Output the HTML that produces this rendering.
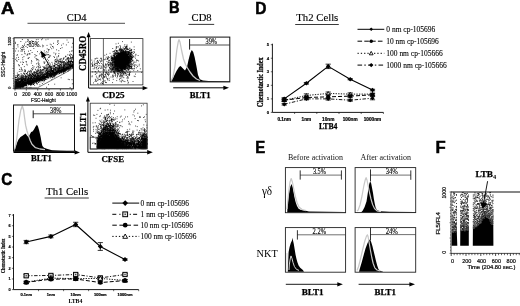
<!DOCTYPE html>
<html><head><meta charset="utf-8"><title>Figure</title>
<style>html,body{margin:0;padding:0;background:#fff;}body{width:520px;height:306px;overflow:hidden;font-family:"Liberation Serif",serif;}svg{display:block;will-change:transform;opacity:0.999;filter:blur(0.35px);}</style></head>
<body>
<svg width="520" height="306" viewBox="0 0 520 306">
<rect width="520" height="306" fill="#fff"/>
<text x="1.0" y="13.7" font-size="16.2" font-family='"Liberation Sans", sans-serif' font-weight="bold" text-anchor="start" fill="#000" textLength="13.4" lengthAdjust="spacingAndGlyphs" stroke="#000" stroke-width="0.5" >A</text>
<text x="76.6" y="21.2" font-size="10.5" font-family='"Liberation Serif", serif' font-weight="normal" text-anchor="middle" fill="#000" stroke="#000" stroke-width="0.15">CD4</text>
<line x1="27.5" y1="23.3" x2="125" y2="23.3" stroke="#222" stroke-width="0.8" />
<path d="M28.3 83.3h0.85M16.7 87.6h0.85M40.8 76.4h0.85M39.0 78.5h0.85M15.6 84.5h0.85M17.4 85.6h0.85M34.0 80.3h0.85M23.1 81.6h0.85M46.7 77.5h0.85M32.4 78.6h0.85M71.4 68.5h0.85M26.5 83.4h0.85M19.5 85.8h0.85M59.6 71.1h0.85M21.1 79.2h0.85M31.0 77.9h0.85M41.5 77.7h0.85M22.3 84.0h0.85M50.2 70.1h0.85M43.9 76.9h0.85M35.7 76.8h0.85M51.5 76.4h0.85M24.1 78.7h0.85M63.9 65.5h0.85M53.6 69.3h0.85M33.6 80.0h0.85M37.8 75.9h0.85M15.7 82.6h0.85M43.1 69.8h0.85M63.9 65.2h0.85M44.5 78.6h0.85M43.6 67.9h0.85M69.0 67.1h0.85M36.9 78.0h0.85M51.6 71.9h0.85M48.0 78.1h0.85M26.2 82.1h0.85M31.7 80.2h0.85M36.2 78.2h0.85M20.5 84.7h0.85M56.3 71.9h0.85M18.9 84.8h0.85M63.6 70.2h0.85M17.0 80.8h0.85M64.5 68.8h0.85M59.9 71.0h0.85M33.4 77.4h0.85M30.2 84.5h0.85M19.8 77.9h0.85M20.9 84.3h0.85M37.6 79.9h0.85M44.2 76.1h0.85M33.6 80.1h0.85M30.8 71.3h0.85M50.9 68.8h0.85M39.5 72.9h0.85M16.1 81.8h0.85M65.7 68.3h0.85M58.3 60.6h0.85M32.1 78.9h0.85M47.1 75.5h0.85M16.4 86.7h0.85M20.3 84.9h0.85M29.2 81.5h0.85M19.8 84.5h0.85M17.8 84.6h0.85M63.8 68.7h0.85M45.8 76.4h0.85M29.6 82.4h0.85M30.5 83.5h0.85M72.7 67.0h0.85M36.4 77.1h0.85M17.8 85.2h0.85M29.3 80.7h0.85M20.3 87.7h0.85M15.2 88.0h0.85M19.6 83.1h0.85M41.2 79.4h0.85M71.6 65.4h0.85M63.0 67.4h0.85M30.6 77.9h0.85M20.5 84.6h0.85M57.0 65.1h0.85M28.6 82.2h0.85M72.1 68.1h0.85M62.3 70.2h0.85M54.3 63.8h0.85M23.3 79.7h0.85M15.4 85.5h0.85M15.4 85.3h0.85M51.0 74.9h0.85M69.9 54.0h0.85M72.3 66.1h0.85M69.8 63.4h0.85M23.3 84.4h0.85M21.9 84.6h0.85M65.7 70.0h0.85M61.4 62.1h0.85M58.5 70.9h0.85M17.2 80.8h0.85M57.2 61.9h0.85M55.0 68.9h0.85M57.7 71.0h0.85M28.8 83.1h0.85M32.3 69.6h0.85M32.6 83.0h0.85M20.6 82.2h0.85M18.8 87.1h0.85M59.0 73.6h0.85M19.6 86.9h0.85M48.6 62.7h0.85M29.7 79.2h0.85M15.0 85.4h0.85M71.0 61.5h0.85M68.2 61.3h0.85M34.5 82.0h0.85M22.5 78.2h0.85M24.5 82.2h0.85M44.0 77.5h0.85M24.9 81.0h0.85M66.5 67.7h0.85M29.9 75.8h0.85M66.0 68.1h0.85M33.7 81.8h0.85M40.5 74.9h0.85M40.0 79.6h0.85M21.2 84.3h0.85M14.8 86.4h0.85M36.9 76.2h0.85M53.3 68.6h0.85M39.7 76.4h0.85M42.0 77.1h0.85M42.3 74.7h0.85M24.4 81.9h0.85M39.0 81.1h0.85M42.4 77.1h0.85M35.1 69.8h0.85M45.7 70.0h0.85M51.0 73.3h0.85M35.6 74.4h0.85M68.8 65.0h0.85M51.5 76.4h0.85M24.9 76.1h0.85M42.3 80.1h0.85M19.2 82.1h0.85M18.6 83.5h0.85M24.0 83.4h0.85M16.7 82.2h0.85M65.5 59.7h0.85M20.0 83.2h0.85M19.5 79.0h0.85M64.5 69.3h0.85M69.6 65.1h0.85M32.4 67.4h0.85M60.8 70.1h0.85M20.3 80.1h0.85M29.1 82.4h0.85M21.8 81.2h0.85M41.9 76.2h0.85M28.7 81.8h0.85M46.4 73.6h0.85M72.1 64.7h0.85M57.7 71.7h0.85M25.2 82.4h0.85M15.7 86.1h0.85M18.9 81.7h0.85M33.8 82.7h0.85M24.9 78.9h0.85M19.7 86.6h0.85M51.6 70.3h0.85M17.3 87.9h0.85M34.0 80.8h0.85M16.7 87.8h0.85M58.6 67.8h0.85M17.1 85.8h0.85M63.0 67.2h0.85M35.7 76.3h0.85M67.7 68.7h0.85M25.3 84.3h0.85M23.9 84.8h0.85M18.1 85.4h0.85M22.1 84.3h0.85M27.6 79.6h0.85M26.5 85.2h0.85M38.5 78.9h0.85M15.1 87.5h0.85M24.5 85.9h0.85M41.7 77.3h0.85M21.5 74.8h0.85M18.0 85.8h0.85M59.8 64.7h0.85M61.0 70.4h0.85M32.1 73.9h0.85M71.9 64.6h0.85M29.3 82.8h0.85M47.2 68.6h0.85M32.8 79.4h0.85M18.9 85.3h0.85M16.7 85.3h0.85M20.3 81.3h0.85M17.2 87.3h0.85M49.5 66.1h0.85M26.1 82.6h0.85M36.0 80.6h0.85M20.1 81.5h0.85M70.3 66.1h0.85M71.1 61.4h0.85M70.6 64.3h0.85M27.5 81.9h0.85M31.5 80.8h0.85M37.0 75.8h0.85M38.8 78.1h0.85M14.9 85.9h0.85M32.5 81.1h0.85M15.7 87.3h0.85M23.6 83.5h0.85M43.9 68.7h0.85M48.7 73.0h0.85M52.6 74.2h0.85M28.4 78.9h0.85M72.0 66.6h0.85M47.7 77.2h0.85M15.8 87.7h0.85M46.7 66.7h0.85M53.9 72.8h0.85M40.0 75.4h0.85M38.8 79.8h0.85M60.4 61.9h0.85M43.8 78.4h0.85M51.1 69.0h0.85M23.4 84.3h0.85M30.3 81.3h0.85M17.9 86.3h0.85M46.7 70.1h0.85M46.6 73.0h0.85M14.8 82.1h0.85M58.3 70.6h0.85M40.7 72.1h0.85M48.8 77.1h0.85M24.5 84.2h0.85M16.8 84.8h0.85M22.3 86.6h0.85M54.3 74.3h0.85M31.5 79.9h0.85M37.2 75.6h0.85M46.0 68.2h0.85M47.7 75.7h0.85M24.6 83.5h0.85M54.5 70.1h0.85M15.0 88.2h0.85M16.3 84.9h0.85M51.0 76.2h0.85M49.9 72.5h0.85M36.4 81.1h0.85M36.5 81.8h0.85M22.0 86.4h0.85M71.5 65.4h0.85M36.0 78.8h0.85M59.9 71.9h0.85M25.4 81.8h0.85M22.5 84.8h0.85M43.7 75.3h0.85M19.4 75.1h0.85M19.0 83.3h0.85M59.9 59.5h0.85M51.8 72.7h0.85M23.5 85.0h0.85M15.3 83.3h0.85M14.8 81.9h0.85M27.1 82.3h0.85M19.4 82.8h0.85M61.4 70.7h0.85M14.8 86.1h0.85M18.5 77.5h0.85M67.7 64.1h0.85M26.5 73.7h0.85M31.0 68.7h0.85M44.2 80.3h0.85M30.3 78.0h0.85M15.9 86.3h0.85M17.8 85.9h0.85M68.4 62.7h0.85M24.4 82.6h0.85M21.5 86.1h0.85M31.0 84.4h0.85M59.3 67.4h0.85M46.9 78.8h0.85M41.6 71.5h0.85M52.9 75.6h0.85M35.5 80.2h0.85M55.2 69.4h0.85M16.0 83.2h0.85M67.7 68.1h0.85M29.4 82.9h0.85M26.9 81.5h0.85M24.9 71.7h0.85M48.6 72.6h0.85M32.2 82.6h0.85M20.5 84.9h0.85M66.2 68.4h0.85M38.3 79.0h0.85M35.5 80.1h0.85M17.4 86.2h0.85M29.3 82.6h0.85M24.9 83.6h0.85M42.9 78.9h0.85M33.3 75.4h0.85M33.4 75.9h0.85M29.1 80.9h0.85M16.4 83.8h0.85M38.7 72.1h0.85M22.8 77.8h0.85M25.5 82.7h0.85M35.2 81.2h0.85M69.7 68.0h0.85M15.2 79.6h0.85M15.5 83.8h0.85M36.9 69.7h0.85M44.0 78.0h0.85M67.7 66.7h0.85M60.3 72.8h0.85M24.4 74.5h0.85M18.1 86.3h0.85M50.3 75.6h0.85M68.8 64.9h0.85M56.0 64.6h0.85M35.9 78.0h0.85M57.2 70.6h0.85M23.6 85.6h0.85M27.2 79.3h0.85M18.8 84.8h0.85M51.4 75.9h0.85M18.2 87.0h0.85M43.8 77.3h0.85M31.9 81.0h0.85M27.1 72.0h0.85M47.8 75.9h0.85M64.5 64.3h0.85M24.3 83.3h0.85M70.2 64.4h0.85M15.2 82.8h0.85M38.4 76.1h0.85M24.8 79.1h0.85M49.3 75.4h0.85M15.5 84.6h0.85M29.1 75.9h0.85M21.9 85.2h0.85M58.3 70.3h0.85M22.3 79.0h0.85M70.9 61.6h0.85M23.5 86.4h0.85M23.0 83.6h0.85M69.6 61.5h0.85M38.3 78.8h0.85M33.5 81.2h0.85M49.2 75.2h0.85M32.2 79.7h0.85M22.6 84.6h0.85M16.0 85.3h0.85M16.3 79.2h0.85M64.5 70.5h0.85M53.8 76.6h0.85M28.6 81.5h0.85M21.3 86.8h0.85M15.5 83.4h0.85M49.1 71.0h0.85M28.7 82.8h0.85M20.6 85.7h0.85M29.8 81.3h0.85M69.8 69.1h0.85M22.4 87.0h0.85M30.1 82.6h0.85M34.4 72.4h0.85M16.0 82.1h0.85M67.2 67.2h0.85M21.7 78.3h0.85M33.2 81.3h0.85M15.7 79.7h0.85M24.8 84.5h0.85M54.8 73.4h0.85M25.6 80.5h0.85M70.0 62.7h0.85M52.7 70.4h0.85M27.9 81.8h0.85M55.4 72.0h0.85M66.9 58.7h0.85M15.3 79.1h0.85M23.6 73.3h0.85M69.7 66.6h0.85M31.8 80.6h0.85M38.1 80.3h0.85M67.8 68.0h0.85M54.2 75.3h0.85M60.1 70.3h0.85M28.5 76.0h0.85M28.1 77.1h0.85M17.0 87.8h0.85M21.9 83.9h0.85M16.5 82.7h0.85M15.5 82.6h0.85M71.7 63.4h0.85M64.5 69.5h0.85M17.1 85.1h0.85M17.6 79.1h0.85M35.3 79.4h0.85M23.6 78.4h0.85M49.8 75.3h0.85M54.8 73.6h0.85M18.6 80.2h0.85M61.4 67.6h0.85M31.0 83.1h0.85M54.1 72.7h0.85M24.2 84.4h0.85M19.9 86.3h0.85M28.4 78.1h0.85M32.3 82.5h0.85M23.5 83.1h0.85M59.1 61.6h0.85M17.8 75.4h0.85M37.0 80.2h0.85M66.8 58.0h0.85M15.7 85.3h0.85M21.5 84.8h0.85M71.2 54.5h0.85M31.0 76.0h0.85M63.2 64.8h0.85M56.9 71.7h0.85M69.1 68.0h0.85M46.2 76.9h0.85M22.8 82.0h0.85M22.2 84.5h0.85M24.7 78.2h0.85M22.2 80.4h0.85M15.0 83.3h0.85M21.3 86.4h0.85M27.7 82.9h0.85M41.5 80.2h0.85M16.4 87.0h0.85M41.7 78.2h0.85M47.4 75.8h0.85M51.2 74.1h0.85M33.1 79.4h0.85M69.7 67.4h0.85M27.7 78.4h0.85M33.5 78.3h0.85M63.1 70.4h0.85M21.9 83.8h0.85M53.5 72.7h0.85M65.8 67.7h0.85M33.9 80.6h0.85M64.5 63.3h0.85M36.1 79.2h0.85M41.7 77.3h0.85M47.5 75.5h0.85M46.3 74.3h0.85M30.9 78.5h0.85M26.1 82.4h0.85M39.8 78.5h0.85M37.9 77.5h0.85M58.8 71.6h0.85M18.8 84.3h0.85M68.9 68.2h0.85M16.1 85.0h0.85M67.7 58.1h0.85M46.2 77.9h0.85M60.2 71.5h0.85M23.1 86.2h0.85M32.8 82.2h0.85M21.2 77.9h0.85M22.9 79.6h0.85M31.6 81.9h0.85M18.6 84.9h0.85M65.5 70.5h0.85M15.7 79.8h0.85M15.6 83.3h0.85M61.2 71.3h0.85M41.6 78.7h0.85M46.6 73.5h0.85M43.7 78.1h0.85M34.0 77.3h0.85M34.8 75.6h0.85M15.2 82.7h0.85M23.7 80.1h0.85M55.9 72.0h0.85M21.1 79.8h0.85M36.9 79.5h0.85M34.3 80.3h0.85M17.4 80.9h0.85M15.7 86.5h0.85M47.3 77.5h0.85M56.9 72.7h0.85M39.2 80.0h0.85M31.3 81.5h0.85M69.5 68.3h0.85M53.7 73.0h0.85M71.8 61.7h0.85M38.0 82.3h0.85M20.4 82.0h0.85M57.7 71.5h0.85M29.8 80.6h0.85M55.4 73.9h0.85M25.7 85.8h0.85M59.6 71.4h0.85M67.2 68.6h0.85M22.4 83.3h0.85M28.0 84.0h0.85M15.6 86.3h0.85M68.4 67.4h0.85M50.2 74.8h0.85M57.4 69.2h0.85M18.3 79.5h0.85M30.3 80.0h0.85M63.7 62.0h0.85M64.4 65.8h0.85M17.9 87.6h0.85M32.2 80.2h0.85M58.3 69.2h0.85M43.4 81.9h0.85M30.3 81.3h0.85M20.9 79.9h0.85M54.5 75.3h0.85M24.6 84.0h0.85M47.4 77.3h0.85M49.1 73.7h0.85M27.7 82.4h0.85M19.7 84.5h0.85M45.9 70.4h0.85M65.4 68.6h0.85M19.0 85.1h0.85M14.8 84.9h0.85M30.1 81.8h0.85M23.2 78.8h0.85M22.2 81.1h0.85M46.4 72.8h0.85M68.4 66.6h0.85M24.1 83.6h0.85M47.4 75.6h0.85M63.6 68.8h0.85M25.2 78.7h0.85M15.0 83.0h0.85M29.7 77.0h0.85M47.9 64.4h0.85M53.8 73.9h0.85M24.4 83.5h0.85M40.5 76.7h0.85M32.9 80.3h0.85M57.0 71.8h0.85M15.0 77.4h0.85M19.4 81.7h0.85M22.0 80.1h0.85M47.6 71.4h0.85M59.4 70.9h0.85M27.0 83.6h0.85M15.9 88.1h0.85M52.6 67.5h0.85M14.9 87.7h0.85M36.4 73.0h0.85M54.4 68.9h0.85M17.9 85.5h0.85M23.6 84.9h0.85M55.0 72.4h0.85M51.2 75.1h0.85M25.2 77.5h0.85M41.9 69.6h0.85M40.0 78.9h0.85M25.2 76.1h0.85M22.8 75.5h0.85M64.3 69.6h0.85M23.7 83.4h0.85M54.6 75.0h0.85M28.4 79.4h0.85M64.3 66.4h0.85M66.3 68.5h0.85M46.9 72.7h0.85M71.6 57.6h0.85M36.7 80.4h0.85M62.6 62.2h0.85M34.7 78.7h0.85M27.4 76.7h0.85M22.6 82.5h0.85M66.5 65.8h0.85M19.5 85.4h0.85M67.9 66.8h0.85M29.4 81.7h0.85M15.7 86.1h0.85M51.0 68.6h0.85M54.1 66.7h0.85M16.5 82.5h0.85M59.7 67.5h0.85M59.9 70.5h0.85M63.4 67.4h0.85M66.8 67.9h0.85M22.3 83.1h0.85M59.4 71.0h0.85M47.1 76.2h0.85M26.3 77.2h0.85M17.7 87.6h0.85M22.2 85.5h0.85M28.0 81.1h0.85M24.8 83.1h0.85M26.1 81.7h0.85M28.1 77.9h0.85M70.5 55.1h0.85M46.1 75.2h0.85M15.4 82.4h0.85M56.6 72.3h0.85M29.5 79.9h0.85M22.8 78.8h0.85M63.0 71.5h0.85M20.7 86.1h0.85M14.8 87.0h0.85M71.5 68.0h0.85M14.8 81.6h0.85M58.3 70.8h0.85M21.3 80.4h0.85M60.8 69.7h0.85M25.0 84.2h0.85M22.7 82.5h0.85M51.5 71.0h0.85M47.3 75.0h0.85M17.0 86.0h0.85M57.6 63.5h0.85M46.7 72.3h0.85M32.2 81.9h0.85M65.0 71.1h0.85M15.3 87.9h0.85M22.3 83.0h0.85M38.6 82.1h0.85M31.4 81.7h0.85M36.1 76.9h0.85M40.5 77.6h0.85M47.9 66.9h0.85M29.6 80.2h0.85M61.6 70.2h0.85M49.0 74.2h0.85M34.8 76.9h0.85M56.6 69.1h0.85M36.2 78.0h0.85M64.6 68.1h0.85M27.1 83.3h0.85M51.7 73.8h0.85M20.0 82.6h0.85M24.3 80.8h0.85M20.2 86.3h0.85M28.5 83.5h0.85M53.5 77.1h0.85M17.8 86.0h0.85M31.6 80.2h0.85M72.0 65.7h0.85M34.6 72.8h0.85M21.8 82.6h0.85M22.3 82.3h0.85M31.9 82.3h0.85M57.9 71.2h0.85M51.1 66.7h0.85M36.3 79.0h0.85M19.4 81.5h0.85M54.3 69.2h0.85M66.3 61.2h0.85M54.9 73.0h0.85M33.8 80.3h0.85M64.3 71.0h0.85M56.7 68.3h0.85M50.1 65.0h0.85M47.6 71.0h0.85M46.7 75.6h0.85M17.6 79.3h0.85M52.4 74.5h0.85M46.8 75.2h0.85M35.8 81.1h0.85M46.3 69.5h0.85M68.0 68.1h0.85M21.2 80.2h0.85M31.9 74.4h0.85M37.9 78.9h0.85M41.2 77.0h0.85M20.2 85.2h0.85M39.7 67.4h0.85M17.8 80.8h0.85M52.7 70.2h0.85M39.3 72.6h0.85M39.9 71.3h0.85M33.1 81.3h0.85M50.5 72.7h0.85M32.1 80.5h0.85M72.0 62.1h0.85M30.0 82.5h0.85M32.5 80.8h0.85M15.0 82.5h0.85M51.4 74.3h0.85M29.8 81.0h0.85M54.4 73.5h0.85M68.7 62.7h0.85M58.6 69.9h0.85M32.1 80.7h0.85M56.8 72.2h0.85M59.2 66.5h0.85M42.4 73.0h0.85M23.2 85.1h0.85M47.4 74.0h0.85M59.8 70.8h0.85M26.7 78.1h0.85M41.5 79.5h0.85M30.0 83.6h0.85M62.1 68.5h0.85M24.6 84.7h0.85M34.1 79.8h0.85M53.0 72.9h0.85M26.0 82.6h0.85M37.3 80.2h0.85M34.2 75.6h0.85M30.4 76.3h0.85M67.8 67.0h0.85M60.5 68.4h0.85M66.2 67.6h0.85M60.7 66.9h0.85M47.0 75.4h0.85M69.6 66.0h0.85M48.6 74.5h0.85M19.4 85.5h0.85M23.6 83.6h0.85M19.9 80.9h0.85M66.0 67.7h0.85M65.1 64.8h0.85M45.4 76.2h0.85M65.3 60.2h0.85M57.6 71.6h0.85M51.0 70.8h0.85M40.4 77.3h0.85M64.5 62.6h0.85M42.0 76.7h0.85M19.3 86.0h0.85M38.1 80.3h0.85M19.5 85.3h0.85M38.0 72.9h0.85M63.0 68.7h0.85M14.9 87.1h0.85M42.4 72.5h0.85M49.2 75.2h0.85M33.6 76.4h0.85M70.2 67.9h0.85M47.2 76.2h0.85M15.4 81.4h0.85M68.1 61.5h0.85M28.6 83.8h0.85M37.6 78.0h0.85M65.5 70.4h0.85M46.5 75.9h0.85M29.1 82.6h0.85M37.0 75.6h0.85M40.1 77.8h0.85M34.6 76.6h0.85M33.8 72.2h0.85M26.6 79.7h0.85M60.5 64.8h0.85M25.5 83.9h0.85M38.9 80.7h0.85M57.9 69.7h0.85M28.7 80.2h0.85M44.0 77.6h0.85M47.1 75.1h0.85M53.1 71.4h0.85M64.7 66.4h0.85M27.0 81.8h0.85M14.9 87.5h0.85M45.4 79.5h0.85M48.7 75.4h0.85M45.6 65.7h0.85M46.0 70.5h0.85M44.6 70.9h0.85M50.2 74.5h0.85M36.0 81.7h0.85M55.9 72.6h0.85M15.6 86.5h0.85M56.7 73.6h0.85M30.8 77.8h0.85M60.1 70.4h0.85M24.8 77.8h0.85M27.1 79.0h0.85M34.3 80.4h0.85M47.6 75.4h0.85M42.8 76.1h0.85M43.3 78.7h0.85M67.1 66.2h0.85M31.8 80.7h0.85M44.3 80.8h0.85M37.0 74.0h0.85M33.3 82.1h0.85M22.6 85.2h0.85M19.8 84.7h0.85M50.4 73.8h0.85M18.6 85.7h0.85M63.5 68.0h0.85M18.9 87.7h0.85M24.0 83.5h0.85M53.8 72.7h0.85M56.7 71.9h0.85M52.5 74.8h0.85M17.1 80.4h0.85M46.7 73.9h0.85M68.1 60.9h0.85M24.6 85.8h0.85M15.0 84.7h0.85M15.0 81.9h0.85M17.0 79.6h0.85M27.6 81.7h0.85M62.9 65.7h0.85M37.7 80.1h0.85M43.2 77.1h0.85M34.8 78.5h0.85M58.3 68.1h0.85M30.5 77.4h0.85M33.6 75.2h0.85M31.7 81.6h0.85M57.4 59.4h0.85M42.7 76.3h0.85M71.2 65.8h0.85M51.8 74.0h0.85M45.2 72.1h0.85M71.5 66.3h0.85M27.5 77.1h0.85M34.2 81.1h0.85M50.5 70.7h0.85M45.0 78.5h0.85M26.1 78.0h0.85M14.8 85.7h0.85M44.0 78.1h0.85M59.6 70.5h0.85M60.9 68.6h0.85M59.3 71.8h0.85M25.6 78.7h0.85M62.2 70.0h0.85M66.7 59.7h0.85M29.5 83.3h0.85M58.3 71.8h0.85M22.0 83.8h0.85M23.6 73.9h0.85M45.3 73.5h0.85M22.3 79.7h0.85M24.7 83.0h0.85M36.1 71.3h0.85M17.3 86.4h0.85M23.6 76.8h0.85M43.5 79.4h0.85M39.9 72.1h0.85M37.1 76.3h0.85M21.6 82.6h0.85M21.1 83.0h0.85M42.6 72.6h0.85M32.7 77.9h0.85M15.8 85.5h0.85M47.0 75.7h0.85M57.6 72.3h0.85M29.4 83.4h0.85M39.7 78.3h0.85M72.5 64.7h0.85M63.2 62.0h0.85M25.0 83.0h0.85M57.0 60.5h0.85M56.2 73.5h0.85M59.8 71.4h0.85M15.6 85.1h0.85M22.1 84.1h0.85M16.0 86.4h0.85M42.1 78.3h0.85M69.2 61.8h0.85M66.5 69.5h0.85M32.4 81.3h0.85M18.5 86.3h0.85M42.6 75.9h0.85M47.5 77.5h0.85M32.1 78.7h0.85M35.4 81.8h0.85M72.6 68.6h0.85M23.0 84.8h0.85M29.8 81.6h0.85M65.9 70.3h0.85M15.9 81.6h0.85M57.5 69.2h0.85M72.1 57.3h0.85M16.2 87.5h0.85M68.6 68.7h0.85M50.0 72.0h0.85M55.5 74.1h0.85M17.9 83.8h0.85M18.7 86.1h0.85M37.4 79.3h0.85M19.5 85.8h0.85M50.0 76.8h0.85M21.8 84.1h0.85M15.6 87.0h0.85M68.2 64.9h0.85M63.3 69.4h0.85M35.3 77.8h0.85M46.7 71.3h0.85M35.6 74.9h0.85M37.1 81.5h0.85M46.7 76.0h0.85M16.2 86.6h0.85M52.5 70.4h0.85M63.6 67.5h0.85M25.3 80.7h0.85M25.5 83.2h0.85M61.3 67.9h0.85M38.0 79.4h0.85M28.0 82.6h0.85M71.6 63.5h0.85M16.2 87.7h0.85M22.5 80.0h0.85M37.1 77.9h0.85M22.1 85.2h0.85M30.5 87.4h0.85M67.6 65.7h0.85M17.6 83.2h0.85M53.3 69.0h0.85M59.0 68.9h0.85M14.8 86.9h0.85M60.8 66.4h0.85M34.6 79.1h0.85M66.6 67.7h0.85M19.3 87.0h0.85M21.1 84.5h0.85M21.9 77.6h0.85M17.0 87.5h0.85M38.2 79.6h0.85M25.6 83.3h0.85M52.1 75.5h0.85M59.3 67.3h0.85M16.5 84.3h0.85M53.8 65.9h0.85M16.2 87.2h0.85M59.3 65.3h0.85M63.1 71.6h0.85M38.1 82.3h0.85M37.1 79.1h0.85M63.7 68.1h0.85M60.8 70.8h0.85M30.7 81.9h0.85M44.5 77.5h0.85M14.9 81.9h0.85M39.5 77.3h0.85M18.5 83.3h0.85M63.2 59.4h0.85M28.1 80.8h0.85M55.1 67.3h0.85M38.2 70.4h0.85M39.3 72.5h0.85M15.2 85.0h0.85M70.7 65.6h0.85M17.8 86.3h0.85M24.5 83.2h0.85M17.6 84.3h0.85M51.5 73.5h0.85M44.8 76.2h0.85M43.3 69.4h0.85M17.8 84.3h0.85M63.5 68.2h0.85M18.6 83.7h0.85M38.1 74.8h0.85M18.6 84.9h0.85M32.9 81.8h0.85M62.9 70.6h0.85M19.6 78.7h0.85M20.4 81.4h0.85M60.4 71.5h0.85M33.7 78.3h0.85M61.3 64.4h0.85M68.8 65.4h0.85M56.9 69.3h0.85M28.9 82.7h0.85M34.6 82.8h0.85M66.7 66.1h0.85M59.6 70.5h0.85M39.6 76.6h0.85M70.0 67.0h0.85M33.8 78.6h0.85M47.0 71.3h0.85M16.6 87.2h0.85M34.5 78.8h0.85M19.3 84.6h0.85M70.9 66.0h0.85M47.0 64.2h0.85M59.2 73.1h0.85M15.5 80.6h0.85M47.6 74.2h0.85M25.6 85.3h0.85M41.2 79.5h0.85M24.5 80.4h0.85M39.8 67.7h0.85M26.4 84.2h0.85M27.3 80.8h0.85M44.5 74.2h0.85M69.9 61.6h0.85M36.5 78.7h0.85M40.6 78.0h0.85M19.0 85.5h0.85M26.7 79.5h0.85M24.1 84.0h0.85M17.3 78.2h0.85M45.5 73.1h0.85M42.9 74.8h0.85M52.2 70.5h0.85M36.1 73.3h0.85M36.6 77.1h0.85M27.6 82.1h0.85M39.3 79.2h0.85M31.6 80.1h0.85M29.9 80.9h0.85M62.9 68.9h0.85M38.0 80.7h0.85M26.2 84.0h0.85M56.5 71.0h0.85M20.1 87.7h0.85M34.9 81.0h0.85M16.4 82.4h0.85M54.0 73.6h0.85M18.1 85.8h0.85M54.2 76.8h0.85M20.0 82.6h0.85M49.9 75.4h0.85M45.9 77.5h0.85M39.6 71.1h0.85M54.2 72.0h0.85M37.0 71.3h0.85M57.4 68.2h0.85M18.8 76.4h0.85M63.6 71.5h0.85M43.9 76.3h0.85M38.4 80.6h0.85M33.6 78.7h0.85M57.3 72.8h0.85M31.4 76.6h0.85M35.6 72.5h0.85M26.6 83.1h0.85M32.0 76.6h0.85M28.2 80.4h0.85M57.6 72.2h0.85M35.1 75.3h0.85M21.3 83.3h0.85M43.3 77.4h0.85M43.7 79.8h0.85M28.3 83.9h0.85M61.6 71.7h0.85M22.2 75.2h0.85M34.1 80.0h0.85M15.9 85.4h0.85M42.6 66.5h0.85M56.6 71.4h0.85M40.9 79.5h0.85M39.6 77.8h0.85M50.5 70.3h0.85M44.5 77.1h0.85M29.8 83.8h0.85M40.1 75.5h0.85M17.7 82.4h0.85M42.4 78.1h0.85M43.2 79.9h0.85M37.7 70.7h0.85M34.9 69.2h0.85M29.3 71.5h0.85M40.4 78.0h0.85M28.0 79.5h0.85M71.6 66.0h0.85M18.1 80.9h0.85M65.3 64.2h0.85M72.5 55.4h0.85M64.9 65.3h0.85M26.5 82.9h0.85M39.2 75.1h0.85M21.2 84.0h0.85M46.8 71.7h0.85M72.7 61.5h0.85M47.3 76.8h0.85M57.6 71.4h0.85M27.4 81.9h0.85M27.2 81.8h0.85M61.5 62.9h0.85M21.9 80.8h0.85M38.4 75.0h0.85M47.9 73.5h0.85M40.5 79.9h0.85M33.2 80.0h0.85M18.6 86.6h0.85M18.0 87.6h0.85M17.7 86.2h0.85M60.1 71.8h0.85M45.7 75.8h0.85M15.0 84.7h0.85M56.4 68.0h0.85M29.9 83.8h0.85M20.6 84.1h0.85M66.0 68.3h0.85M43.7 73.4h0.85M31.7 82.2h0.85M16.1 87.5h0.85M70.2 61.2h0.85M34.9 77.1h0.85M15.8 83.8h0.85M68.0 67.6h0.85M65.6 64.0h0.85M59.6 67.9h0.85M70.2 68.0h0.85M38.2 79.6h0.85M32.0 79.5h0.85M52.8 73.1h0.85M63.9 69.9h0.85M37.6 78.9h0.85M20.8 81.4h0.85M30.2 83.0h0.85M26.5 86.8h0.85M42.4 78.5h0.85M31.7 82.1h0.85M32.7 81.1h0.85M60.3 70.2h0.85M29.8 81.3h0.85M26.1 83.7h0.85M23.8 85.8h0.85M29.2 82.0h0.85M20.0 84.0h0.85M25.4 81.0h0.85M61.0 70.9h0.85M61.1 70.9h0.85M58.8 71.3h0.85M53.1 74.2h0.85M31.2 82.0h0.85M69.5 65.0h0.85M38.8 78.4h0.85M19.0 86.7h0.85M52.0 72.5h0.85M44.1 80.1h0.85M30.7 81.0h0.85M22.6 86.1h0.85M63.7 70.0h0.85M41.2 78.8h0.85M25.5 82.9h0.85M48.7 69.8h0.85M42.8 75.0h0.85M17.2 87.0h0.85M21.0 85.1h0.85M49.0 71.0h0.85M18.1 81.7h0.85M38.5 76.6h0.85M26.8 83.7h0.85M23.3 84.0h0.85M18.8 84.2h0.85M32.7 76.8h0.85M66.4 67.9h0.85M62.9 58.3h0.85M19.0 84.6h0.85M50.1 74.3h0.85M49.1 71.4h0.85M48.8 75.9h0.85M51.5 73.4h0.85M29.8 84.7h0.85M46.8 75.6h0.85M66.7 68.0h0.85M53.9 72.1h0.85M15.7 84.7h0.85M20.3 84.9h0.85M31.4 82.2h0.85M15.7 83.8h0.85M21.1 86.5h0.85M61.3 62.1h0.85M24.7 80.2h0.85M34.6 78.0h0.85M14.8 82.8h0.85M60.9 69.8h0.85M15.8 82.7h0.85M62.4 67.7h0.85M24.2 82.3h0.85M18.2 85.3h0.85M66.8 63.7h0.85M54.9 74.4h0.85M32.2 81.9h0.85M54.8 72.8h0.85M17.3 82.5h0.85M69.2 55.3h0.85M51.0 75.5h0.85M54.2 73.5h0.85M35.6 73.9h0.85M16.1 84.4h0.85M39.3 73.5h0.85M67.8 68.8h0.85M15.8 87.9h0.85M51.7 73.8h0.85M41.4 73.9h0.85M70.9 61.0h0.85M24.4 79.2h0.85M16.3 83.1h0.85M22.1 85.2h0.85M27.6 83.9h0.85M49.5 76.3h0.85M23.8 83.3h0.85M35.2 81.6h0.85M68.4 63.8h0.85M64.6 69.3h0.85M19.4 81.4h0.85M59.6 68.4h0.85M41.5 77.2h0.85M49.3 71.3h0.85M44.8 68.3h0.85M60.7 70.4h0.85M18.3 84.1h0.85M22.3 85.4h0.85M16.3 85.1h0.85M51.6 74.5h0.85M35.4 80.6h0.85M36.6 79.9h0.85M30.4 81.4h0.85M15.0 86.6h0.85M72.6 64.6h0.85M52.7 70.9h0.85M71.7 62.6h0.85M37.8 77.6h0.85M34.5 80.5h0.85M14.9 88.1h0.85M67.2 62.4h0.85M68.3 60.6h0.85M48.3 74.6h0.85M19.3 86.0h0.85M15.4 86.4h0.85M26.8 74.5h0.85M21.3 79.1h0.85M67.7 59.0h0.85M20.6 85.0h0.85M54.4 63.2h0.85M28.4 83.1h0.85M28.1 84.9h0.85M30.8 77.1h0.85M60.7 68.1h0.85M23.9 85.5h0.85M46.7 75.8h0.85M59.9 67.0h0.85M69.1 55.1h0.85M38.2 75.7h0.85M27.0 82.2h0.85M43.6 78.8h0.85M20.4 85.7h0.85M35.1 80.2h0.85M15.7 85.5h0.85M34.9 80.6h0.85M61.4 71.3h0.85M34.0 73.8h0.85M26.1 79.9h0.85M33.8 75.5h0.85M29.1 75.7h0.85M60.4 70.8h0.85M66.0 68.2h0.85M35.1 80.7h0.85M42.5 75.0h0.85M17.2 86.3h0.85M28.3 71.0h0.85M66.4 68.5h0.85M63.2 73.2h0.85M46.2 73.5h0.85M59.3 72.8h0.85M45.5 76.7h0.85M26.9 73.0h0.85M37.3 73.9h0.85M48.0 73.4h0.85M64.6 69.6h0.85M15.4 86.9h0.85M35.3 81.9h0.85M17.2 83.3h0.85M43.6 72.6h0.85M33.5 74.5h0.85M32.3 79.4h0.85M18.3 86.6h0.85M41.5 80.6h0.85M18.2 85.9h0.85M17.5 83.0h0.85M40.4 77.5h0.85M41.9 79.1h0.85M23.3 81.6h0.85M39.3 77.0h0.85M44.1 77.8h0.85M16.8 86.4h0.85M34.9 81.0h0.85M52.5 68.3h0.85M55.5 75.9h0.85M53.0 76.4h0.85M17.8 86.0h0.85M20.7 80.8h0.85M70.2 57.2h0.85M19.2 82.1h0.85M56.8 72.5h0.85M31.0 81.3h0.85M15.1 83.8h0.85M27.0 80.6h0.85M52.0 64.1h0.85M46.2 77.1h0.85M63.7 57.8h0.85M63.6 64.1h0.85M20.5 84.2h0.85M55.9 67.1h0.85M50.2 74.3h0.85M31.0 78.9h0.85M54.1 75.1h0.85M15.8 83.8h0.85M45.1 77.6h0.85M58.7 71.8h0.85M18.2 87.4h0.85M24.7 80.2h0.85M21.7 76.7h0.85M43.7 77.5h0.85M18.3 85.9h0.85M58.5 70.7h0.85M21.3 80.9h0.85M50.7 72.4h0.85M31.4 83.0h0.85M40.9 80.2h0.85M50.8 75.2h0.85M15.0 77.3h0.85M29.3 82.7h0.85M63.8 70.1h0.85M58.5 71.7h0.85M59.8 70.3h0.85M50.1 69.7h0.85M20.1 85.7h0.85M61.7 61.1h0.85M45.6 77.9h0.85M16.8 84.2h0.85M65.3 68.9h0.85M44.2 77.2h0.85M30.3 81.4h0.85M36.5 75.1h0.85M29.9 79.3h0.85M14.9 83.0h0.85M15.2 84.3h0.85M36.0 79.6h0.85M19.6 84.5h0.85M49.6 73.6h0.85M38.5 79.6h0.85M25.0 78.3h0.85M70.0 63.0h0.85M72.6 66.9h0.85M56.4 71.9h0.85M63.7 68.8h0.85M47.1 68.5h0.85M30.4 79.6h0.85M63.7 71.6h0.85M68.6 64.5h0.85M55.9 67.8h0.85M54.3 65.4h0.85M29.7 80.9h0.85M41.7 75.7h0.85M29.0 81.9h0.85M28.3 83.8h0.85M30.7 80.6h0.85M24.1 83.3h0.85M19.1 86.4h0.85M14.9 87.4h0.85M35.2 75.9h0.85M42.8 75.8h0.85M16.5 86.6h0.85M27.1 79.8h0.85M41.7 79.8h0.85M68.5 60.0h0.85M43.8 79.7h0.85M17.0 86.4h0.85M72.2 66.9h0.85M30.1 81.4h0.85M63.4 63.2h0.85M16.6 77.3h0.85M25.7 83.0h0.85M24.8 84.0h0.85M25.3 82.9h0.85M51.8 73.6h0.85M22.0 85.6h0.85M45.1 77.5h0.85M21.9 79.5h0.85M53.9 74.8h0.85M17.0 84.2h0.85M59.2 71.5h0.85M19.2 82.2h0.85M21.5 76.1h0.85M47.5 72.7h0.85M67.4 67.2h0.85M54.9 73.6h0.85M48.1 68.8h0.85M29.0 83.0h0.85M16.2 84.6h0.85M46.6 75.5h0.85M28.9 75.9h0.85M24.8 83.0h0.85M36.3 83.1h0.85M42.5 77.1h0.85M72.3 67.1h0.85M53.2 73.6h0.85M28.6 82.5h0.85M19.4 85.2h0.85M56.2 74.3h0.85M33.9 81.6h0.85M40.9 72.5h0.85M48.6 71.3h0.85M45.0 72.2h0.85M24.8 85.5h0.85M52.3 73.3h0.85M27.5 74.9h0.85M56.6 73.3h0.85M25.9 81.9h0.85M40.0 78.6h0.85M14.9 85.3h0.85M37.0 74.5h0.85M30.4 75.0h0.85M72.4 65.1h0.85M15.4 86.3h0.85M38.6 78.7h0.85M42.0 78.7h0.85M30.6 84.9h0.85M19.7 85.8h0.85M67.3 69.5h0.85M20.3 87.4h0.85M24.1 83.7h0.85M71.9 57.3h0.85M29.4 81.4h0.85M58.5 66.3h0.85M66.0 67.9h0.85M18.0 84.9h0.85M47.9 73.0h0.85M32.7 80.7h0.85M42.6 75.5h0.85M33.1 83.9h0.85M46.6 69.8h0.85M23.2 83.4h0.85M34.5 81.0h0.85M23.5 84.2h0.85M47.7 77.7h0.85M26.9 83.5h0.85M42.9 76.5h0.85M20.0 86.8h0.85M25.3 76.5h0.85M55.1 72.6h0.85M28.7 78.6h0.85M37.6 79.4h0.85M50.4 72.0h0.85M44.7 70.1h0.85M64.5 68.8h0.85M22.5 84.9h0.85M57.1 68.0h0.85M63.0 70.2h0.85M26.9 83.1h0.85M71.3 65.3h0.85M14.9 86.9h0.85M54.0 70.9h0.85M17.6 86.5h0.85M17.4 87.7h0.85M29.1 84.0h0.85M64.4 64.1h0.85M71.7 66.3h0.85M57.9 71.1h0.85M50.8 75.7h0.85M23.5 83.8h0.85M34.3 80.0h0.85M72.5 64.9h0.85M27.9 82.6h0.85M37.7 77.0h0.85M19.2 82.5h0.85M50.5 74.2h0.85M19.7 84.2h0.85M18.2 80.4h0.85M29.9 71.8h0.85M29.7 81.4h0.85M22.7 87.2h0.85M53.7 70.5h0.85M25.6 83.3h0.85M16.6 86.8h0.85M15.8 81.8h0.85M42.1 76.7h0.85M30.4 83.8h0.85M48.4 74.8h0.85M41.3 70.6h0.85M71.9 62.4h0.85M63.8 67.3h0.85M28.0 77.8h0.85M33.7 81.7h0.85M31.7 79.9h0.85M33.1 84.1h0.85M45.4 76.9h0.85M45.6 74.0h0.85M31.2 80.8h0.85M18.4 86.2h0.85M61.6 70.1h0.85M16.0 77.5h0.85M51.1 70.4h0.85M41.6 79.4h0.85M27.8 82.0h0.85M54.7 72.1h0.85M62.3 62.2h0.85M23.7 78.7h0.85M31.3 75.6h0.85M52.4 68.4h0.85M45.7 76.9h0.85M50.0 71.0h0.85M41.2 79.5h0.85M23.1 81.1h0.85M66.4 64.6h0.85M36.9 77.9h0.85M37.1 73.5h0.85M23.0 86.1h0.85M40.3 80.8h0.85M40.0 69.6h0.85M23.9 81.9h0.85M20.7 85.1h0.85M47.5 70.2h0.85M60.5 72.6h0.85M15.8 81.0h0.85M31.5 82.3h0.85M18.6 78.6h0.85M19.9 84.5h0.85M30.1 82.0h0.85M58.7 65.0h0.85M17.3 84.7h0.85M32.3 83.2h0.85M35.4 79.2h0.85M37.2 79.6h0.85M19.8 78.2h0.85M50.2 70.0h0.85M23.8 84.9h0.85M30.9 78.7h0.85M15.1 87.5h0.85M22.0 82.6h0.85M21.0 83.5h0.85M52.8 72.2h0.85M24.0 84.7h0.85M60.9 71.7h0.85M62.7 70.2h0.85M22.1 77.5h0.85M46.0 76.9h0.85M30.9 82.8h0.85M30.7 81.5h0.85M52.4 71.6h0.85M48.0 76.5h0.85M59.3 67.3h0.85M43.5 77.8h0.85M67.6 68.5h0.85M52.3 77.5h0.85M31.0 78.9h0.85M16.7 82.5h0.85M55.4 67.5h0.85M38.3 79.8h0.85M65.8 67.5h0.85M44.4 75.0h0.85M36.2 70.9h0.85M33.4 80.8h0.85M36.9 80.3h0.85M38.0 75.4h0.85M39.2 79.2h0.85M54.3 65.8h0.85M32.6 82.9h0.85M41.9 77.7h0.85M56.3 71.6h0.85M23.0 81.5h0.85M16.9 85.8h0.85M17.3 83.7h0.85M55.2 70.4h0.85M50.2 73.2h0.85M52.3 71.4h0.85M50.9 73.7h0.85M33.6 66.8h0.85M59.7 61.1h0.85M63.7 69.4h0.85M39.6 79.1h0.85M14.9 87.5h0.85M25.1 82.6h0.85M27.7 81.7h0.85M42.0 80.5h0.85M39.2 76.7h0.85M27.2 82.4h0.85M63.3 69.7h0.85M24.8 75.3h0.85M22.1 85.9h0.85M31.1 81.6h0.85M36.3 73.2h0.85M30.6 81.2h0.85M58.6 71.8h0.85M42.0 80.8h0.85M16.0 83.8h0.85M33.1 82.2h0.85M42.6 75.1h0.85M58.2 72.0h0.85M26.6 80.5h0.85M44.3 68.0h0.85M35.8 81.0h0.85M64.1 66.0h0.85M16.2 80.6h0.85M16.0 86.7h0.85M63.0 70.9h0.85M21.1 85.2h0.85M67.4 58.1h0.85M38.4 75.3h0.85M49.8 72.2h0.85M22.5 80.7h0.85M61.2 71.9h0.85M22.3 86.9h0.85M17.8 87.8h0.85M69.5 67.7h0.85M33.4 78.2h0.85M66.2 64.0h0.85M50.6 74.1h0.85M51.2 74.0h0.85M15.7 86.5h0.85M23.6 80.4h0.85M43.7 73.9h0.85M19.9 86.6h0.85M66.6 62.7h0.85M19.8 87.6h0.85M58.5 72.4h0.85M15.5 85.4h0.85M31.4 78.8h0.85M41.4 74.7h0.85M17.5 79.1h0.85M34.3 80.4h0.85M50.1 76.5h0.85M18.6 87.1h0.85M67.4 71.1h0.85M40.2 77.4h0.85M26.5 78.4h0.85M38.3 80.7h0.85M67.9 68.4h0.85M63.1 69.8h0.85M44.7 74.0h0.85M19.3 84.2h0.85M25.5 85.4h0.85M23.3 78.6h0.85M67.5 69.2h0.85M70.7 65.9h0.85M29.4 83.9h0.85M16.0 83.8h0.85M28.8 78.6h0.85M54.4 72.6h0.85M21.0 84.5h0.85M16.6 82.4h0.85M42.2 78.8h0.85M57.6 72.2h0.85M44.6 74.8h0.85M39.3 78.0h0.85M17.6 84.0h0.85M43.4 74.5h0.85M29.9 76.8h0.85M20.4 86.2h0.85M20.6 85.8h0.85M61.5 67.7h0.85M63.8 65.5h0.85M17.5 85.4h0.85M64.2 69.8h0.85M40.8 78.8h0.85M18.4 82.7h0.85M40.7 77.6h0.85M38.9 76.1h0.85M32.8 81.1h0.85M22.2 84.7h0.85M63.6 69.4h0.85M38.6 78.4h0.85M68.9 65.6h0.85M37.8 79.1h0.85M50.8 67.6h0.85M23.4 83.4h0.85M25.1 80.4h0.85M15.4 82.3h0.85M26.6 83.7h0.85M65.0 69.9h0.85M23.6 84.5h0.85M44.6 76.6h0.85M16.4 79.7h0.85M24.2 73.7h0.85M15.7 79.4h0.85M46.1 72.4h0.85M29.3 74.2h0.85M59.2 59.3h0.85M15.0 87.0h0.85M68.7 61.7h0.85M17.3 86.3h0.85M24.2 82.5h0.85M19.8 78.6h0.85M29.4 82.2h0.85M22.9 84.4h0.85M28.7 87.8h0.85M57.9 68.2h0.85M37.3 71.0h0.85M66.3 67.4h0.85M55.1 69.8h0.85M46.5 72.9h0.85M61.8 69.4h0.85M52.7 70.8h0.85M29.7 83.8h0.85M49.7 78.1h0.85M54.7 74.4h0.85M68.5 68.9h0.85M66.1 67.1h0.85M58.6 61.1h0.85M44.2 68.2h0.85M57.4 72.4h0.85M63.6 64.5h0.85M40.5 81.9h0.85M69.1 69.6h0.85M57.6 74.1h0.85M24.5 83.7h0.85M21.9 81.4h0.85M36.0 79.3h0.85M66.3 69.4h0.85M50.5 72.6h0.85M57.4 66.2h0.85M58.0 65.9h0.85M60.3 58.8h0.85M32.9 82.4h0.85M61.1 70.9h0.85M29.1 74.9h0.85M58.0 65.5h0.85M14.9 85.4h0.85M18.1 85.1h0.85M59.4 64.2h0.85M35.9 80.3h0.85M28.9 81.9h0.85M61.7 70.9h0.85M46.1 74.9h0.85M25.5 83.4h0.85M51.6 66.7h0.85M59.0 71.3h0.85M18.5 84.4h0.85M60.1 68.6h0.85M21.3 82.7h0.85M30.4 85.5h0.85M23.2 85.4h0.85M65.3 63.2h0.85M32.2 69.8h0.85M38.9 78.1h0.85M72.3 66.0h0.85M20.3 87.5h0.85M40.2 78.7h0.85M69.1 66.1h0.85M35.8 79.7h0.85M29.8 78.3h0.85M17.8 77.8h0.85M39.4 75.0h0.85M31.2 84.2h0.85M49.3 69.9h0.85M16.8 82.5h0.85M70.0 61.7h0.85M30.4 77.9h0.85M31.2 75.7h0.85M39.9 73.4h0.85M38.4 69.6h0.85M30.5 81.6h0.85M61.0 69.3h0.85M50.4 68.9h0.85M55.1 70.1h0.85M65.1 66.7h0.85M15.6 79.5h0.85M28.4 84.6h0.85M65.1 71.2h0.85M19.5 80.2h0.85M15.9 83.1h0.85M32.1 80.4h0.85M26.0 76.6h0.85M55.8 70.1h0.85M33.7 82.1h0.85M71.5 59.3h0.85M49.9 67.0h0.85M31.4 83.5h0.85M50.9 71.9h0.85M25.8 83.8h0.85M60.3 71.8h0.85M58.0 69.2h0.85M39.5 78.7h0.85M64.1 69.8h0.85M20.7 86.8h0.85M27.6 83.4h0.85M31.6 81.2h0.85M70.7 66.6h0.85M27.5 81.4h0.85M69.0 66.7h0.85M34.8 81.0h0.85M18.1 84.8h0.85M31.7 82.4h0.85M70.5 65.2h0.85M66.4 68.5h0.85M35.5 80.6h0.85M57.0 65.2h0.85M27.8 83.7h0.85M36.7 81.3h0.85M42.2 73.2h0.85M25.7 76.6h0.85M30.4 83.0h0.85M26.4 79.9h0.85M46.8 74.7h0.85M60.4 65.5h0.85M68.7 64.3h0.85M25.2 82.8h0.85M41.6 77.8h0.85M55.2 69.7h0.85M59.0 65.7h0.85M18.2 83.1h0.85M70.7 67.8h0.85M47.1 72.2h0.85M32.2 73.5h0.85M68.7 66.1h0.85M32.1 76.6h0.85M58.9 68.5h0.85M63.6 69.4h0.85M40.5 70.9h0.85M65.8 66.5h0.85M19.1 84.0h0.85M33.3 80.6h0.85M38.6 79.8h0.85M43.4 71.0h0.85M32.8 77.2h0.85M61.7 67.4h0.85M57.7 71.5h0.85M49.6 71.8h0.85M55.3 61.4h0.85M65.6 67.6h0.85M54.5 73.3h0.85M64.2 61.5h0.85M19.0 83.0h0.85M45.7 68.6h0.85M25.7 84.9h0.85M60.2 70.9h0.85M25.6 83.0h0.85M17.5 86.5h0.85M49.9 77.2h0.85M30.3 79.9h0.85M51.5 76.5h0.85M28.4 83.3h0.85M14.8 84.6h0.85M25.7 81.0h0.85M16.3 81.0h0.85M59.0 71.1h0.85M15.7 86.2h0.85M23.2 81.7h0.85M46.8 72.9h0.85M42.8 78.0h0.85M22.9 83.9h0.85M61.3 66.1h0.85M59.1 69.1h0.85M56.9 70.9h0.85M15.4 81.9h0.85M16.4 85.5h0.85M46.8 74.2h0.85M32.6 74.7h0.85M39.3 75.2h0.85M63.4 66.6h0.85M28.6 71.6h0.85M72.2 66.6h0.85M19.1 85.6h0.85M35.7 76.4h0.85M35.8 72.9h0.85M29.3 82.1h0.85M26.1 84.2h0.85M21.7 83.5h0.85M34.8 74.3h0.85M21.9 83.1h0.85M25.2 80.2h0.85M42.3 73.2h0.85M54.8 59.5h0.85M69.3 68.6h0.85M52.9 69.1h0.85M16.4 85.7h0.85M63.1 69.0h0.85M53.0 70.2h0.85M30.0 78.8h0.85M20.4 76.1h0.85M27.3 72.6h0.85M15.8 86.5h0.85M65.6 69.1h0.85M58.8 68.2h0.85M18.0 85.3h0.85M19.9 84.8h0.85M72.5 58.7h0.85M66.6 67.8h0.85M60.1 64.4h0.85M18.8 86.6h0.85M39.0 79.5h0.85M22.4 83.7h0.85M66.4 67.7h0.85M52.2 77.8h0.85M34.7 75.5h0.85M53.8 65.8h0.85M61.5 71.6h0.85M19.1 86.0h0.85M43.9 76.4h0.85M31.3 84.1h0.85M57.5 71.2h0.85M36.3 82.6h0.85M40.6 78.5h0.85M16.7 83.1h0.85M64.6 70.3h0.85M37.6 76.6h0.85M24.1 81.0h0.85M66.2 65.6h0.85M44.3 76.7h0.85M18.8 85.5h0.85M43.9 78.1h0.85M47.3 73.7h0.85M16.6 81.5h0.85M53.2 74.6h0.85M32.6 81.0h0.85M49.7 73.3h0.85M48.1 71.3h0.85M51.0 71.0h0.85M66.4 67.5h0.85M44.8 77.1h0.85M72.2 65.3h0.85M23.4 77.8h0.85M60.2 71.9h0.85M47.1 75.0h0.85M17.5 84.2h0.85M71.4 65.3h0.85M15.9 84.7h0.85M24.0 84.3h0.85M49.6 72.7h0.85M68.0 59.0h0.85M25.1 75.8h0.85M19.9 87.5h0.85M17.9 85.5h0.85M71.2 64.4h0.85M59.0 67.2h0.85M20.3 82.5h0.85M57.6 70.8h0.85M65.0 68.0h0.85M62.2 68.9h0.85M42.0 77.9h0.85M46.2 70.4h0.85M44.5 76.3h0.85M16.1 84.2h0.85M41.4 76.0h0.85M14.9 87.8h0.85M54.6 75.5h0.85M59.3 70.8h0.85M36.0 81.0h0.85M22.3 85.5h0.85M34.2 83.5h0.85M41.4 80.3h0.85M29.9 83.7h0.85M62.1 70.7h0.85M62.0 70.5h0.85M27.2 83.2h0.85M55.8 73.1h0.85M71.6 67.0h0.85M56.3 72.2h0.85M18.3 85.0h0.85M51.0 68.8h0.85M35.8 76.1h0.85M33.0 75.4h0.85M66.9 62.2h0.85M53.8 73.6h0.85M61.2 58.8h0.85M52.7 75.6h0.85M62.1 69.6h0.85M34.3 80.5h0.85M68.9 63.9h0.85M35.0 78.6h0.85M27.0 79.1h0.85M29.6 80.5h0.85M35.1 80.2h0.85M71.8 57.9h0.85M55.8 62.2h0.85M61.1 72.5h0.85M25.7 82.4h0.85M24.4 82.3h0.85M23.5 83.5h0.85M64.7 69.4h0.85M56.4 69.3h0.85M56.7 73.8h0.85M40.5 72.4h0.85M17.9 85.8h0.85M46.6 71.6h0.85M30.7 70.3h0.85M20.2 82.0h0.85M40.4 74.2h0.85M68.5 61.1h0.85M33.0 82.5h0.85M70.7 61.2h0.85M17.3 85.6h0.85M66.2 68.8h0.85M15.0 85.6h0.85M72.4 67.5h0.85M20.9 78.6h0.85M50.9 74.6h0.85M54.7 72.1h0.85M24.8 79.8h0.85M15.4 84.9h0.85M24.9 80.3h0.85M70.5 61.1h0.85M48.6 69.5h0.85M44.7 74.6h0.85M16.4 82.5h0.85M16.5 87.2h0.85M19.4 84.8h0.85M18.2 74.7h0.85M50.7 73.9h0.85M25.6 82.8h0.85M17.7 82.8h0.85M27.2 76.8h0.85M35.2 80.9h0.85M53.5 76.0h0.85M29.3 83.8h0.85M60.8 73.0h0.85M23.3 84.1h0.85M62.4 69.8h0.85M25.8 76.8h0.85M14.9 87.5h0.85M20.1 88.1h0.85M48.8 68.5h0.85M21.1 81.1h0.85M31.6 83.6h0.85M48.3 71.6h0.85M16.5 84.4h0.85M15.0 86.6h0.85M70.4 63.3h0.85M30.5 80.6h0.85M57.6 68.2h0.85M24.5 79.7h0.85M18.2 86.7h0.85M24.3 83.5h0.85M31.4 77.4h0.85M56.0 71.8h0.85M22.9 84.7h0.85M31.6 76.6h0.85M36.8 80.8h0.85M63.5 71.0h0.85M61.1 70.3h0.85M23.7 85.2h0.85M18.3 85.3h0.85M36.1 78.6h0.85M18.4 83.3h0.85M37.3 79.3h0.85M34.9 80.7h0.85M18.4 86.5h0.85M36.6 79.6h0.85M68.4 64.5h0.85M23.1 83.0h0.85M54.6 63.0h0.85M70.4 61.4h0.85M62.7 72.2h0.85M40.1 80.4h0.85M23.9 84.9h0.85M22.6 86.8h0.85M17.1 84.5h0.85M36.1 83.1h0.85M53.7 74.3h0.85M28.0 82.8h0.85M22.3 81.8h0.85M18.5 81.8h0.85M72.0 61.5h0.85M15.0 86.1h0.85M48.4 73.5h0.85M36.7 78.8h0.85M54.3 68.8h0.85M38.5 77.5h0.85M45.2 74.3h0.85M58.8 68.2h0.85M69.1 65.5h0.85M30.7 72.6h0.85M65.9 68.0h0.85M44.7 77.1h0.85M65.8 68.6h0.85M15.6 86.4h0.85M34.8 80.3h0.85M54.9 72.9h0.85M43.8 78.0h0.85M50.1 72.1h0.85M15.0 87.2h0.85M37.1 77.7h0.85M39.2 79.9h0.85M72.6 62.6h0.85M46.3 76.1h0.85M22.1 87.1h0.85M70.3 66.0h0.85M28.2 78.6h0.85M49.4 75.1h0.85M15.2 84.3h0.85M60.5 70.5h0.85M14.8 83.8h0.85M35.7 77.1h0.85M42.4 76.2h0.85M24.0 81.1h0.85M18.5 85.9h0.85M19.2 84.2h0.85M39.9 69.6h0.85M16.2 81.7h0.85M23.7 84.5h0.85M35.6 81.3h0.85M33.1 82.2h0.85M62.8 63.9h0.85M70.0 64.3h0.85M33.0 84.4h0.85M16.0 86.4h0.85M15.1 85.1h0.85M26.5 79.8h0.85M63.6 73.0h0.85M33.7 71.7h0.85M59.0 68.6h0.85M48.4 72.2h0.85M24.1 83.0h0.85M48.7 67.2h0.85M65.6 62.8h0.85M70.4 65.8h0.85M65.5 68.3h0.85M42.9 77.8h0.85M24.7 85.5h0.85M23.8 80.0h0.85M50.0 75.6h0.85M16.8 85.2h0.85M36.8 72.7h0.85M49.6 74.2h0.85M37.0 78.2h0.85M50.0 72.2h0.85M21.1 78.6h0.85M70.1 66.0h0.85M34.3 76.6h0.85M70.0 66.2h0.85M70.3 67.4h0.85M65.7 67.9h0.85M30.3 84.0h0.85M49.1 74.4h0.85M23.1 81.4h0.85M22.7 83.5h0.85M19.2 85.2h0.85M32.9 78.7h0.85M43.7 76.7h0.85M68.9 61.8h0.85M51.8 71.1h0.85M34.7 80.5h0.85M15.1 87.8h0.85M49.9 74.9h0.85M70.4 67.0h0.85M56.2 72.8h0.85M47.1 69.3h0.85M51.9 74.4h0.85M56.1 70.9h0.85M27.1 81.9h0.85M44.9 79.2h0.85M62.1 70.8h0.85M21.9 80.1h0.85M15.0 80.0h0.85M25.6 81.2h0.85M16.6 86.6h0.85M51.3 73.5h0.85M14.8 86.2h0.85M52.3 74.5h0.85M72.2 65.6h0.85M68.3 66.6h0.85M70.9 66.3h0.85M39.9 79.0h0.85M28.1 77.7h0.85M24.9 83.9h0.85M16.1 86.6h0.85M17.4 85.8h0.85M46.4 74.1h0.85M57.9 67.1h0.85M53.5 69.5h0.85M21.5 85.7h0.85M67.9 65.1h0.85M19.9 84.0h0.85M51.0 67.8h0.85M23.4 85.3h0.85M58.3 70.9h0.85M44.0 74.3h0.85M21.6 82.1h0.85M57.9 62.2h0.85M23.5 85.6h0.85M42.6 78.2h0.85M19.3 85.5h0.85M18.0 87.3h0.85M47.1 75.1h0.85M33.9 81.2h0.85M40.6 77.3h0.85M53.2 71.5h0.85M23.0 82.0h0.85M50.9 76.1h0.85M45.8 76.5h0.85M27.6 80.4h0.85M49.0 74.1h0.85M23.3 84.5h0.85M56.5 72.7h0.85M70.1 58.2h0.85M58.1 69.1h0.85M53.0 74.2h0.85M16.2 84.4h0.85M16.0 84.7h0.85M39.4 80.3h0.85M64.1 71.7h0.85M36.2 79.3h0.85M38.9 78.9h0.85M39.8 73.1h0.85M40.3 79.7h0.85M56.8 71.8h0.85M31.8 81.0h0.85M37.5 78.5h0.85M23.0 86.2h0.85M28.0 75.4h0.85M56.4 71.8h0.85M30.9 71.7h0.85M68.2 67.9h0.85M46.1 77.0h0.85M47.3 76.2h0.85M25.9 87.5h0.85M66.4 68.5h0.85M18.9 79.5h0.85M27.0 82.7h0.85M16.6 85.5h0.85M34.7 72.1h0.85M17.2 84.0h0.85M70.4 66.0h0.85M16.0 84.1h0.85M19.1 87.7h0.85M18.0 86.1h0.85M40.5 78.0h0.85M60.9 70.1h0.85M56.0 72.5h0.85M34.0 78.6h0.85M24.1 83.9h0.85M71.1 66.3h0.85M54.3 73.2h0.85M65.1 69.5h0.85M69.9 62.4h0.85M45.1 74.6h0.85M52.6 74.9h0.85M53.9 73.2h0.85M70.0 66.6h0.85M18.0 85.7h0.85M24.3 79.7h0.85M24.7 70.8h0.85M19.7 85.6h0.85M62.4 67.6h0.85M54.6 73.1h0.85M29.3 82.2h0.85M60.0 71.7h0.85M63.0 68.0h0.85M55.9 71.3h0.85M45.3 79.3h0.85M28.5 75.6h0.85M62.0 69.7h0.85M30.6 78.0h0.85M31.1 78.3h0.85M18.1 86.4h0.85M23.3 85.0h0.85M47.2 72.4h0.85M64.8 68.0h0.85M67.2 63.0h0.85M58.8 73.4h0.85M55.3 71.4h0.85M59.4 70.0h0.85M31.4 83.3h0.85M61.3 70.9h0.85M29.0 83.2h0.85M60.0 64.5h0.85M61.9 72.0h0.85M64.2 71.0h0.85M54.6 75.4h0.85M50.0 73.1h0.85M63.5 67.2h0.85M41.5 73.2h0.85M57.3 71.5h0.85M57.2 71.9h0.85M29.2 79.3h0.85M24.4 84.3h0.85M15.3 86.9h0.85M58.2 70.8h0.85M16.6 86.2h0.85M54.4 72.9h0.85M32.7 82.2h0.85M58.7 72.0h0.85M47.0 74.0h0.85M65.3 56.8h0.85M53.8 73.2h0.85M27.6 83.6h0.85M18.0 81.5h0.85M44.0 77.2h0.85M37.5 73.9h0.85M33.5 81.9h0.85M22.4 79.7h0.85M30.4 74.1h0.85M51.3 76.9h0.85M18.7 85.3h0.85M44.3 75.5h0.85M34.4 78.7h0.85M17.4 81.2h0.85M40.0 79.1h0.85M30.1 74.4h0.85M23.1 83.2h0.85M22.9 76.3h0.85M64.5 70.0h0.85M31.4 80.5h0.85M52.2 74.2h0.85M27.1 81.0h0.85M28.6 81.4h0.85M41.4 74.3h0.85M38.5 77.0h0.85M69.9 63.2h0.85M21.2 81.4h0.85M66.5 58.9h0.85M63.4 65.8h0.85M30.4 82.2h0.85M15.2 84.7h0.85M38.7 81.3h0.85M69.8 59.0h0.85M39.2 80.1h0.85M19.5 82.5h0.85M46.9 75.8h0.85M45.0 71.3h0.85M24.9 82.2h0.85M39.3 79.8h0.85M36.6 79.1h0.85M29.2 81.6h0.85M52.7 72.9h0.85M24.7 80.0h0.85M39.6 79.0h0.85M66.0 69.6h0.85M22.1 78.3h0.85M54.9 68.0h0.85M52.4 72.1h0.85M61.2 65.5h0.85M67.6 70.9h0.85M35.0 80.9h0.85M50.0 75.3h0.85M19.4 79.2h0.85M28.9 81.7h0.85M22.0 80.9h0.85M20.2 79.7h0.85M27.2 83.5h0.85M20.3 84.5h0.85M21.7 84.7h0.85M27.9 79.3h0.85M37.3 78.6h0.85M34.9 81.6h0.85M69.0 65.1h0.85M36.8 79.6h0.85M19.5 86.9h0.85M20.6 86.8h0.85M70.7 66.7h0.85M32.7 77.5h0.85M29.8 82.8h0.85M50.9 71.5h0.85M63.1 69.3h0.85M43.1 80.1h0.85M53.5 72.7h0.85M30.0 74.7h0.85M32.6 73.3h0.85M34.4 78.0h0.85M49.0 76.5h0.85M53.9 73.4h0.85M30.6 80.2h0.85M62.2 69.7h0.85M50.0 67.8h0.85M29.2 83.6h0.85M32.7 78.4h0.85M21.2 87.0h0.85M58.5 73.1h0.85M15.3 84.0h0.85M38.3 80.2h0.85M30.5 82.4h0.85M40.5 74.9h0.85M67.9 62.8h0.85M28.8 78.0h0.85M31.8 74.8h0.85M25.0 78.3h0.85M30.9 77.8h0.85M66.7 68.3h0.85M40.9 76.7h0.85M60.0 71.5h0.85M20.2 84.1h0.85M21.7 83.1h0.85M16.3 86.0h0.85M23.3 81.3h0.85M16.2 85.1h0.85M52.9 75.7h0.85M66.5 69.4h0.85M67.3 64.7h0.85M17.3 87.0h0.85M21.7 82.0h0.85M54.8 73.2h0.85M17.5 82.3h0.85M63.7 68.5h0.85M71.4 57.9h0.85M15.6 86.7h0.85M15.2 86.3h0.85M52.1 71.5h0.85M20.3 83.0h0.85M21.1 79.5h0.85M70.9 60.3h0.85M30.3 83.0h0.85M32.0 79.9h0.85M24.6 83.5h0.85M51.9 73.7h0.85M19.9 85.5h0.85M29.8 81.2h0.85M40.4 76.0h0.85M50.2 75.8h0.85M57.9 71.2h0.85M43.3 67.5h0.85M44.9 77.0h0.85M29.0 73.6h0.85M62.8 71.4h0.85M66.8 64.4h0.85M20.9 83.4h0.85M31.6 80.5h0.85M58.6 70.1h0.85M57.5 70.5h0.85M58.4 70.6h0.85M33.4 77.3h0.85M53.5 67.1h0.85M33.1 84.5h0.85M67.9 63.4h0.85M45.9 73.7h0.85M25.4 84.3h0.85M66.0 68.3h0.85M60.0 61.4h0.85M72.5 62.9h0.85M55.5 67.8h0.85M25.1 81.0h0.85M62.6 66.9h0.85M37.8 76.9h0.85M68.0 66.7h0.85M55.7 68.9h0.85M43.1 78.5h0.85M34.1 76.6h0.85M68.2 69.2h0.85M17.8 86.8h0.85M25.8 85.4h0.85M35.0 81.9h0.85M53.3 72.3h0.85M48.1 77.6h0.85M17.6 79.0h0.85M22.7 83.7h0.85M48.4 73.7h0.85M67.2 68.7h0.85M68.9 68.1h0.85M43.0 76.5h0.85M59.1 70.4h0.85M63.1 63.0h0.85M32.6 82.2h0.85M18.5 83.6h0.85M54.9 73.7h0.85M16.1 87.8h0.85M72.3 56.2h0.85M19.0 83.1h0.85M47.3 72.5h0.85M59.6 71.1h0.85M15.5 84.2h0.85M62.2 69.2h0.85M65.2 69.7h0.85M36.6 79.3h0.85M52.8 72.3h0.85M68.1 61.8h0.85M21.3 86.2h0.85M18.5 87.4h0.85M21.4 80.4h0.85M20.4 84.3h0.85M67.9 57.5h0.85M24.4 83.6h0.85M66.7 67.9h0.85M45.7 79.4h0.85M71.0 65.6h0.85M40.6 71.2h0.85M62.4 66.8h0.85M66.7 67.4h0.85M58.9 67.0h0.85M23.5 77.3h0.85M36.3 81.1h0.85M67.4 54.8h0.85M20.2 82.4h0.85M32.8 75.2h0.85M20.5 85.6h0.85M38.1 79.9h0.85M25.3 79.2h0.85M55.8 73.4h0.85M44.2 78.1h0.85M30.7 84.1h0.85M46.4 54.2h0.85M26.7 44.9h0.85M53.5 56.5h0.85M46.8 48.9h0.85M21.8 79.8h0.85M54.3 84.2h0.85M47.6 39.2h0.85M15.8 48.7h0.85M62.8 43.8h0.85M65.5 64.1h0.85M70.5 58.6h0.85M21.3 75.4h0.85M23.5 56.6h0.85M69.7 87.5h0.85M52.5 46.7h0.85M23.1 46.6h0.85M43.9 66.9h0.85M38.7 65.4h0.85M18.3 59.5h0.85M58.4 50.7h0.85M20.3 62.2h0.85M34.3 76.3h0.85M25.4 42.2h0.85M39.3 53.9h0.85M55.5 59.8h0.85M52.2 46.5h0.85M44.1 55.2h0.85M57.6 73.9h0.85M24.6 71.6h0.85M53.0 43.3h0.85M27.8 58.3h0.85M27.8 58.4h0.85M39.7 46.4h0.85M46.2 87.3h0.85M43.8 62.7h0.85M31.8 84.6h0.85M23.1 62.5h0.85M54.4 73.0h0.85M21.5 54.6h0.85M48.5 74.2h0.85M64.6 70.0h0.85M36.8 71.7h0.85M26.3 64.2h0.85M34.4 57.1h0.85M48.8 49.7h0.85M43.9 63.5h0.85M53.1 47.9h0.85M59.2 73.3h0.85M44.3 57.2h0.85M38.1 73.5h0.85M42.7 74.6h0.85M40.9 56.3h0.85M35.6 75.8h0.85M52.6 71.9h0.85M21.2 77.8h0.85M43.0 56.9h0.85M25.5 46.5h0.85M26.0 76.7h0.85M21.8 83.0h0.85M37.8 68.0h0.85M16.2 57.9h0.85M34.1 72.1h0.85M48.6 67.0h0.85M17.1 54.7h0.85M49.6 63.8h0.85M27.2 54.1h0.85M71.6 50.6h0.85M48.7 57.3h0.85M18.1 57.4h0.85M50.9 76.9h0.85M37.2 78.0h0.85M29.9 75.7h0.85M72.0 43.3h0.85M15.1 43.4h0.85M36.2 60.0h0.85M31.6 73.2h0.85M71.4 47.1h0.85M36.3 81.0h0.85M65.4 56.3h0.85M50.3 66.4h0.85M19.8 85.6h0.85M21.6 71.0h0.85M35.7 58.5h0.85M53.0 71.4h0.85M41.2 79.6h0.85M43.5 61.9h0.85M24.9 70.4h0.85M29.9 70.4h0.85M50.2 47.2h0.85M46.6 45.4h0.85M54.0 65.6h0.85M59.8 66.8h0.85M40.4 79.5h0.85M58.2 56.6h0.85M21.1 68.8h0.85M30.4 80.2h0.85M62.5 64.3h0.85M26.7 82.8h0.85M16.5 55.3h0.85M19.1 69.4h0.85M24.2 53.1h0.85M40.3 77.8h0.85M23.2 73.1h0.85M60.1 61.1h0.85M29.2 72.9h0.85M36.1 63.8h0.85M16.5 75.7h0.85M65.3 56.3h0.85M34.9 74.7h0.85M38.3 64.5h0.85M67.7 61.9h0.85M60.2 48.5h0.85M51.5 62.4h0.85M48.2 49.5h0.85M15.1 77.9h0.85M62.7 65.9h0.85M50.9 44.9h0.85M61.8 60.2h0.85M38.6 63.8h0.85M27.7 81.3h0.85M23.5 47.8h0.85M25.9 62.1h0.85M16.0 84.4h0.85M17.2 76.4h0.85M32.6 74.4h0.85M47.9 70.6h0.85M20.8 79.9h0.85M17.9 51.0h0.85M29.5 43.0h0.85M29.4 53.5h0.85M36.3 77.4h0.85M21.5 49.7h0.85M17.1 75.9h0.85M68.4 58.0h0.85M19.2 85.2h0.85M62.7 62.1h0.85M52.9 66.2h0.85M48.0 50.8h0.85M42.0 45.2h0.85M55.9 74.5h0.85M51.9 71.0h0.85M16.3 60.4h0.85M49.3 55.3h0.85M53.5 52.9h0.85M57.0 42.1h0.85M56.6 56.9h0.85M37.7 63.4h0.85M22.0 64.4h0.85M70.5 57.6h0.85M30.9 46.3h0.85M39.4 84.8h0.85M47.2 59.2h0.85M48.6 73.6h0.85M22.3 62.0h0.85M23.7 49.7h0.85M20.2 48.3h0.85M22.9 79.0h0.85M17.7 75.2h0.85M69.2 58.8h0.85M54.8 67.6h0.85M30.9 63.1h0.85M40.1 52.6h0.85M19.9 78.1h0.85M28.1 44.4h0.85M43.9 74.1h0.85M29.8 78.7h0.85M61.5 66.1h0.85M20.5 71.2h0.85M42.3 70.6h0.85M37.4 59.6h0.85M38.1 66.7h0.85M25.8 85.3h0.85M68.9 79.6h0.85M60.2 62.1h0.85M36.1 77.9h0.85M23.9 66.6h0.85M34.3 43.8h0.85M56.2 49.8h0.85M37.7 39.4h0.85M28.1 51.2h0.85M20.7 73.6h0.85M43.9 50.9h0.85M65.9 44.9h0.85M46.0 51.8h0.85M26.0 73.5h0.85M59.7 69.6h0.85M41.5 76.0h0.85M22.3 45.5h0.85M34.2 85.3h0.85M60.5 69.8h0.85M41.0 39.7h0.85M28.6 53.7h0.85M37.7 70.4h0.85M26.6 55.2h0.85M20.4 41.5h0.85M63.0 73.0h0.85M48.6 67.2h0.85M37.0 51.6h0.85M18.8 65.4h0.85M43.2 58.6h0.85M67.8 79.3h0.85M48.1 57.4h0.85M58.7 69.0h0.85M16.7 61.3h0.85M42.4 69.9h0.85M33.4 81.7h0.85M28.7 57.5h0.85M55.5 64.7h0.85M44.6 57.7h0.85M63.3 58.3h0.85M23.9 45.4h0.85M55.2 67.2h0.85M61.0 63.7h0.85M15.1 81.3h0.85M20.6 76.4h0.85M51.4 79.6h0.85M47.5 52.3h0.85M22.0 76.9h0.85M32.6 43.6h0.85M24.2 44.0h0.85M58.2 43.3h0.85M38.5 60.8h0.85M27.3 54.7h0.85M64.6 70.1h0.85M36.8 84.0h0.85M29.8 43.9h0.85M71.9 62.4h0.85M22.1 70.0h0.85M44.6 52.9h0.85M41.9 83.5h0.85M67.9 70.2h0.85M36.5 79.4h0.85M58.2 61.8h0.85M26.3 78.0h0.85M20.1 86.7h0.85M36.5 59.1h0.85M36.0 44.1h0.85M44.8 67.4h0.85M71.4 59.1h0.85M48.9 65.4h0.85M29.4 54.3h0.85M26.9 41.4h0.85M28.6 77.0h0.85M45.9 64.9h0.85M18.8 71.5h0.85M36.8 83.8h0.85M18.8 65.9h0.85M27.9 40.9h0.85M17.0 74.9h0.85M31.0 60.6h0.85M41.0 73.9h0.85M61.3 68.0h0.85M37.5 66.3h0.85M28.2 80.1h0.85M55.4 53.4h0.85M15.6 81.8h0.85M46.6 75.8h0.85M17.1 76.6h0.85M42.1 38.8h0.85M40.4 74.7h0.85M26.8 65.0h0.85M34.7 43.5h0.85M56.9 67.1h0.85M57.0 44.5h0.85M20.5 51.1h0.85M31.3 75.5h0.85M33.4 48.5h0.85M66.6 40.0h0.85M15.8 82.9h0.85M27.2 44.5h0.85M21.9 47.6h0.85M48.2 60.7h0.85M45.2 76.7h0.85M47.2 62.1h0.85M22.7 82.2h0.85M20.7 84.2h0.85M16.9 73.1h0.85M43.6 71.4h0.85M25.8 73.6h0.85M30.7 44.6h0.85M20.9 77.2h0.85M33.2 72.3h0.85M58.1 40.9h0.85M32.3 65.5h0.85M55.4 74.4h0.85M15.9 84.1h0.85M16.7 84.0h0.85M15.2 59.3h0.85M57.0 40.9h0.85M43.2 45.9h0.85M61.0 45.2h0.85M30.3 50.5h0.85M27.4 39.6h0.85M33.0 44.9h0.85M17.0 83.9h0.85M58.5 53.6h0.85M46.8 68.0h0.85M57.8 70.6h0.85M52.2 70.9h0.85M43.4 75.9h0.85M22.4 59.7h0.85M39.8 66.3h0.85M37.5 59.7h0.85M56.4 58.2h0.85M49.0 56.8h0.85M31.4 61.6h0.85M18.3 82.5h0.85M60.7 61.8h0.85M28.4 77.9h0.85M56.1 61.3h0.85M18.5 74.7h0.85M61.4 71.4h0.85M20.7 67.6h0.85M29.3 84.3h0.85M22.0 50.0h0.85M47.9 54.7h0.85M61.7 47.7h0.85M49.8 44.2h0.85M50.8 70.1h0.85M16.9 44.9h0.85M24.8 53.8h0.85M66.7 64.0h0.85M24.0 51.6h0.85M22.6 49.3h0.85M37.7 76.0h0.85M54.1 57.5h0.85M22.8 82.2h0.85M55.1 61.4h0.85M26.9 47.5h0.85M54.1 65.4h0.85M55.8 60.0h0.85M46.6 54.8h0.85M31.7 52.5h0.85M17.6 46.9h0.85M58.2 55.5h0.85M71.4 51.3h0.85M32.1 43.7h0.85M20.0 87.1h0.85M50.2 55.9h0.85M24.4 69.6h0.85M21.4 47.3h0.85M44.5 62.1h0.85M17.4 79.5h0.85M23.9 71.1h0.85M22.7 46.9h0.85M22.3 57.7h0.85M45.8 77.4h0.85M21.7 51.3h0.85M60.7 77.8h0.85M23.3 76.1h0.85M36.3 55.6h0.85M34.5 54.5h0.85M58.6 66.0h0.85M30.7 82.2h0.85M32.5 43.0h0.85M46.8 65.2h0.85M28.6 77.0h0.85M45.5 76.5h0.85M37.8 62.3h0.85M32.5 74.7h0.85M54.3 60.9h0.85M15.4 82.8h0.85M34.4 73.8h0.85M17.6 44.8h0.85M47.7 54.6h0.85M63.1 66.2h0.85M32.7 68.3h0.85M34.8 45.0h0.85M71.6 79.7h0.85M27.7 39.9h0.85M18.2 64.7h0.85M53.7 66.3h0.85M32.2 74.8h0.85M56.0 61.9h0.85M31.4 40.8h0.85M35.3 55.9h0.85M21.4 80.1h0.85M69.3 51.7h0.85M48.2 84.6h0.85M29.7 79.0h0.85M36.1 67.3h0.85M55.7 70.8h0.85M67.8 42.3h0.85M26.4 80.9h0.85M45.8 67.0h0.85M67.9 60.3h0.85M38.6 67.8h0.85M15.3 75.8h0.85M35.9 39.7h0.85M21.2 49.7h0.85M42.3 46.8h0.85M55.2 54.7h0.85M20.8 69.5h0.85M58.5 62.0h0.85M54.4 68.7h0.85M25.7 61.5h0.85M15.1 42.3h0.85M51.3 48.7h0.85M70.1 56.3h0.85M15.2 51.0h0.85M65.6 63.3h0.85M21.3 77.0h0.85M45.1 59.4h0.85M71.9 83.8h0.85M62.7 71.8h0.85M45.5 39.8h0.85M21.9 39.5h0.85M28.5 80.8h0.85M38.8 76.6h0.85" stroke="#000" stroke-width="0.85" fill="none" opacity="0.9"/>
<rect x="14" y="37.8" width="59.4" height="51.0" fill="none" stroke="#111" stroke-width="1"/>
<path d="M15.7 87.6 L15.7 80 L64 61.5 L71.2 69.6 L37.5 87.8 Z" fill="none" stroke="#222" stroke-width="0.6" stroke-linejoin="round" />
<line x1="52.6" y1="71.5" x2="43.5" y2="55.5" stroke="#000" stroke-width="0.9" />
<g stroke="#fff" stroke-width="0.8" paint-order="stroke">
<path d="M40.6 50.6 L46.52 55.21 L41.89 57.99 Z" fill="#000" stroke="none" stroke-width="1" stroke-linejoin="round" />
</g>
<rect x="28.6" y="41" width="11" height="5.8" fill="#fff" opacity="0.8"/>
<text x="34" y="46.5" font-size="7.2" font-family='"Liberation Serif", serif' font-weight="normal" text-anchor="middle" fill="#000" textLength="11" lengthAdjust="spacingAndGlyphs" stroke="#000" stroke-width="0.15">85%</text>
<line x1="15.0" y1="89" x2="15.0" y2="90.6" stroke="#000" stroke-width="0.6" />
<text x="15.5" y="95.5" font-size="5.2" font-family='"Liberation Sans", sans-serif' font-weight="normal" text-anchor="middle" fill="#111" textLength="2.7" lengthAdjust="spacingAndGlyphs" stroke="#111" stroke-width="0.22" >0</text>
<line x1="26.35" y1="89" x2="26.35" y2="90.6" stroke="#000" stroke-width="0.6" />
<text x="26.35" y="95.5" font-size="5.2" font-family='"Liberation Sans", sans-serif' font-weight="normal" text-anchor="middle" fill="#111" textLength="8.100000000000001" lengthAdjust="spacingAndGlyphs" stroke="#111" stroke-width="0.22" >200</text>
<line x1="37.7" y1="89" x2="37.7" y2="90.6" stroke="#000" stroke-width="0.6" />
<text x="37.7" y="95.5" font-size="5.2" font-family='"Liberation Sans", sans-serif' font-weight="normal" text-anchor="middle" fill="#111" textLength="8.100000000000001" lengthAdjust="spacingAndGlyphs" stroke="#111" stroke-width="0.22" >400</text>
<line x1="49.05" y1="89" x2="49.05" y2="90.6" stroke="#000" stroke-width="0.6" />
<text x="49.05" y="95.5" font-size="5.2" font-family='"Liberation Sans", sans-serif' font-weight="normal" text-anchor="middle" fill="#111" textLength="8.100000000000001" lengthAdjust="spacingAndGlyphs" stroke="#111" stroke-width="0.22" >600</text>
<line x1="60.4" y1="89" x2="60.4" y2="90.6" stroke="#000" stroke-width="0.6" />
<text x="60.4" y="95.5" font-size="5.2" font-family='"Liberation Sans", sans-serif' font-weight="normal" text-anchor="middle" fill="#111" textLength="8.100000000000001" lengthAdjust="spacingAndGlyphs" stroke="#111" stroke-width="0.22" >800</text>
<line x1="71.75" y1="89" x2="71.75" y2="90.6" stroke="#000" stroke-width="0.6" />
<text x="71.75" y="95.5" font-size="5.2" font-family='"Liberation Sans", sans-serif' font-weight="normal" text-anchor="middle" fill="#111" textLength="10.8" lengthAdjust="spacingAndGlyphs" stroke="#111" stroke-width="0.22" >1000</text>
<text x="43.4" y="101.8" font-size="5.2" font-family='"Liberation Sans", sans-serif' font-weight="normal" text-anchor="middle" fill="#111" textLength="24.6" lengthAdjust="spacingAndGlyphs" stroke="#111" stroke-width="0.22" >FSC-Height</text>
<text x="5.0" y="64.4" font-size="4.6" font-family='"Liberation Sans", sans-serif' font-weight="normal" text-anchor="middle" fill="#111" transform="rotate(-90 5.0 64.4)" textLength="25" lengthAdjust="spacingAndGlyphs" stroke="#111" stroke-width="0.22" >SSC-Height</text>
<text x="10.9" y="87.6" font-size="3.8" font-family='"Liberation Sans", sans-serif' font-weight="normal" text-anchor="middle" fill="#111" transform="rotate(-90 10.9 87.6)" stroke="#111" stroke-width="0.22" >0</text>
<text x="10.9" y="41.2" font-size="3.9" font-family='"Liberation Sans", sans-serif' font-weight="normal" text-anchor="middle" fill="#111" transform="rotate(-90 10.9 41.2)" stroke="#111" stroke-width="0.22" >1000</text>
<line x1="12.4" y1="88.4" x2="14" y2="88.4" stroke="#000" stroke-width="0.4" />
<line x1="13.1" y1="85.91000000000001" x2="14" y2="85.91000000000001" stroke="#000" stroke-width="0.4" />
<line x1="13.1" y1="83.42" x2="14" y2="83.42" stroke="#000" stroke-width="0.4" />
<line x1="13.1" y1="80.93" x2="14" y2="80.93" stroke="#000" stroke-width="0.4" />
<line x1="12.4" y1="78.44" x2="14" y2="78.44" stroke="#000" stroke-width="0.4" />
<line x1="13.1" y1="75.95" x2="14" y2="75.95" stroke="#000" stroke-width="0.4" />
<line x1="13.1" y1="73.46000000000001" x2="14" y2="73.46000000000001" stroke="#000" stroke-width="0.4" />
<line x1="13.1" y1="70.97" x2="14" y2="70.97" stroke="#000" stroke-width="0.4" />
<line x1="12.4" y1="68.48" x2="14" y2="68.48" stroke="#000" stroke-width="0.4" />
<line x1="13.1" y1="65.99000000000001" x2="14" y2="65.99000000000001" stroke="#000" stroke-width="0.4" />
<line x1="13.1" y1="63.5" x2="14" y2="63.5" stroke="#000" stroke-width="0.4" />
<line x1="13.1" y1="61.010000000000005" x2="14" y2="61.010000000000005" stroke="#000" stroke-width="0.4" />
<line x1="12.4" y1="58.52" x2="14" y2="58.52" stroke="#000" stroke-width="0.4" />
<line x1="13.1" y1="56.03" x2="14" y2="56.03" stroke="#000" stroke-width="0.4" />
<line x1="13.1" y1="53.540000000000006" x2="14" y2="53.540000000000006" stroke="#000" stroke-width="0.4" />
<line x1="13.1" y1="51.050000000000004" x2="14" y2="51.050000000000004" stroke="#000" stroke-width="0.4" />
<line x1="12.4" y1="48.56" x2="14" y2="48.56" stroke="#000" stroke-width="0.4" />
<line x1="13.1" y1="46.07" x2="14" y2="46.07" stroke="#000" stroke-width="0.4" />
<line x1="13.1" y1="43.58" x2="14" y2="43.58" stroke="#000" stroke-width="0.4" />
<line x1="13.1" y1="41.09" x2="14" y2="41.09" stroke="#000" stroke-width="0.4" />
<line x1="12.4" y1="38.6" x2="14" y2="38.6" stroke="#000" stroke-width="0.4" />
<path d="M108.6 69.8h0.85M113.4 53.7h0.85M122.3 58.4h0.85M118.6 58.9h0.85M123.6 64.5h0.85M122.4 58.8h0.85M121.0 63.4h0.85M124.7 54.9h0.85M115.9 59.7h0.85M118.2 58.1h0.85M121.0 69.5h0.85M111.8 59.0h0.85M126.8 68.2h0.85M116.0 58.1h0.85M121.3 67.5h0.85M123.5 59.1h0.85M122.9 62.6h0.85M127.7 54.3h0.85M115.6 58.2h0.85M128.9 62.0h0.85M118.3 54.7h0.85M127.1 62.6h0.85M121.7 64.8h0.85M131.3 58.5h0.85M110.2 64.3h0.85M125.3 60.4h0.85M120.4 62.3h0.85M125.1 65.3h0.85M116.4 71.8h0.85M115.3 65.2h0.85M113.7 65.9h0.85M121.5 60.8h0.85M125.6 51.5h0.85M123.8 59.7h0.85M128.0 62.7h0.85M122.5 60.3h0.85M121.2 61.1h0.85M125.3 63.1h0.85M121.8 60.7h0.85M124.4 62.5h0.85M123.9 65.0h0.85M122.7 64.9h0.85M127.7 51.9h0.85M116.6 58.3h0.85M123.6 57.1h0.85M121.4 54.7h0.85M130.1 62.2h0.85M121.3 57.9h0.85M117.9 66.8h0.85M125.7 58.8h0.85M114.4 63.6h0.85M114.8 63.0h0.85M121.8 62.5h0.85M127.6 51.8h0.85M119.0 49.9h0.85M128.9 55.0h0.85M126.0 60.4h0.85M130.8 62.0h0.85M116.9 52.8h0.85M123.0 72.7h0.85M126.5 64.0h0.85M118.0 60.8h0.85M121.8 63.0h0.85M119.6 58.3h0.85M125.4 59.4h0.85M114.6 62.5h0.85M114.9 69.3h0.85M118.8 59.0h0.85M119.3 63.2h0.85M123.8 61.8h0.85M125.5 57.6h0.85M120.8 53.0h0.85M124.7 58.5h0.85M115.9 64.1h0.85M123.0 58.6h0.85M115.8 65.4h0.85M129.1 55.2h0.85M127.1 63.3h0.85M118.3 64.6h0.85M122.8 55.2h0.85M120.7 67.3h0.85M115.9 47.1h0.85M117.0 57.0h0.85M115.1 58.8h0.85M126.0 46.5h0.85M118.8 58.8h0.85M117.0 64.3h0.85M129.0 63.6h0.85M128.5 62.8h0.85M118.8 65.9h0.85M114.1 59.1h0.85M130.9 42.1h0.85M119.2 57.7h0.85M115.8 61.0h0.85M122.7 54.7h0.85M121.8 61.7h0.85M119.0 67.0h0.85M122.8 62.4h0.85M120.6 62.5h0.85M126.8 60.3h0.85M123.4 66.1h0.85M118.0 64.9h0.85M122.4 60.3h0.85M110.7 70.4h0.85M124.6 63.6h0.85M125.5 67.4h0.85M116.8 69.5h0.85M123.1 58.0h0.85M125.9 61.5h0.85M121.6 65.8h0.85M123.5 55.0h0.85M110.4 69.0h0.85M115.0 62.3h0.85M119.5 56.7h0.85M130.6 50.0h0.85M116.8 66.2h0.85M128.4 54.8h0.85M122.8 67.9h0.85M128.9 67.9h0.85M122.3 64.6h0.85M121.3 56.9h0.85M125.7 64.0h0.85M122.6 58.1h0.85M129.6 62.4h0.85M126.0 57.2h0.85M116.2 55.5h0.85M119.9 58.8h0.85M121.1 55.7h0.85M118.6 56.1h0.85M121.1 54.6h0.85M123.7 62.0h0.85M120.6 62.2h0.85M131.4 59.5h0.85M112.9 67.2h0.85M127.1 59.5h0.85M120.6 63.1h0.85M130.0 66.7h0.85M116.2 58.9h0.85M112.2 65.2h0.85M123.6 53.4h0.85M129.4 52.7h0.85M125.1 60.2h0.85M127.3 58.9h0.85M116.6 64.0h0.85M120.4 63.5h0.85M115.9 59.0h0.85M126.6 68.0h0.85M124.0 48.4h0.85M122.4 58.7h0.85M122.0 66.3h0.85M127.9 64.7h0.85M121.5 57.7h0.85M113.8 73.1h0.85M121.0 54.9h0.85M126.6 57.9h0.85M115.8 68.7h0.85M125.4 60.8h0.85M121.9 59.8h0.85M119.4 61.6h0.85M117.3 58.2h0.85M122.0 56.8h0.85M120.9 56.9h0.85M123.1 58.9h0.85M125.8 57.4h0.85M123.4 55.7h0.85M120.3 60.3h0.85M117.5 66.4h0.85M127.6 57.1h0.85M120.3 65.4h0.85M118.2 53.9h0.85M123.8 59.7h0.85M124.6 57.6h0.85M108.7 64.4h0.85M125.4 50.2h0.85M130.0 57.3h0.85M117.2 57.6h0.85M125.1 53.9h0.85M124.8 59.2h0.85M128.1 58.3h0.85M112.0 64.2h0.85M121.9 59.9h0.85M123.1 56.6h0.85M129.0 66.1h0.85M129.9 56.6h0.85M121.3 53.8h0.85M121.0 60.9h0.85M115.0 63.9h0.85M117.2 57.1h0.85M124.9 59.1h0.85M119.5 61.0h0.85M125.1 58.8h0.85M117.7 56.1h0.85M125.1 73.0h0.85M118.3 62.9h0.85M113.3 67.6h0.85M122.6 65.9h0.85M108.7 70.1h0.85M118.4 61.5h0.85M117.6 63.3h0.85M118.2 68.8h0.85M125.4 55.2h0.85M125.0 66.0h0.85M118.8 55.9h0.85M117.5 62.0h0.85M126.2 63.6h0.85M119.0 63.7h0.85M117.1 57.4h0.85M122.6 64.3h0.85M117.3 50.9h0.85M122.3 56.5h0.85M127.5 55.8h0.85M128.2 51.8h0.85M117.1 60.6h0.85M119.7 68.7h0.85M126.1 60.0h0.85M116.6 55.5h0.85M119.4 62.0h0.85M125.0 61.6h0.85M126.5 54.4h0.85M111.8 68.2h0.85M112.6 69.1h0.85M119.1 66.9h0.85M125.3 64.2h0.85M122.7 54.4h0.85M124.2 56.1h0.85M128.1 61.4h0.85M118.1 66.0h0.85M122.8 51.5h0.85M122.6 59.9h0.85M115.2 59.6h0.85M115.7 61.7h0.85M125.5 56.0h0.85M118.8 54.5h0.85M123.5 58.5h0.85M121.6 53.9h0.85M129.1 59.8h0.85M122.8 49.8h0.85M112.6 62.7h0.85M126.5 57.3h0.85M119.0 57.0h0.85M131.3 58.2h0.85M120.9 60.5h0.85M126.8 56.0h0.85M123.6 53.2h0.85M121.1 58.2h0.85M118.8 62.7h0.85M122.7 63.1h0.85M120.9 62.2h0.85M114.5 61.7h0.85M121.6 51.5h0.85M130.2 54.0h0.85M112.7 70.2h0.85M120.4 62.7h0.85M118.6 60.1h0.85M124.5 54.3h0.85M121.5 54.4h0.85M124.8 66.9h0.85M116.4 59.5h0.85M125.2 63.8h0.85M118.2 59.8h0.85M127.1 59.7h0.85M119.7 60.9h0.85M131.1 68.4h0.85M127.8 65.4h0.85M122.7 62.2h0.85M116.6 70.8h0.85M120.4 59.6h0.85M115.0 59.5h0.85M118.0 68.1h0.85M119.4 63.5h0.85M119.0 60.3h0.85M126.8 68.3h0.85M116.5 64.8h0.85M116.2 59.4h0.85M122.2 67.1h0.85M124.6 56.4h0.85M133.7 46.9h0.85M121.7 52.8h0.85M131.1 59.2h0.85M127.5 66.5h0.85M114.8 61.9h0.85M118.2 59.0h0.85M118.9 55.0h0.85M114.1 55.8h0.85M125.5 63.1h0.85M122.0 62.6h0.85M120.2 52.9h0.85M118.3 66.9h0.85M121.2 58.7h0.85M123.6 68.0h0.85M117.3 65.6h0.85M124.2 62.4h0.85M117.1 60.9h0.85M123.8 49.0h0.85M123.1 56.4h0.85M120.0 62.8h0.85M122.0 62.5h0.85M114.4 72.8h0.85M117.9 58.1h0.85M129.6 67.7h0.85M129.1 53.1h0.85M121.0 58.8h0.85M123.6 52.9h0.85M121.9 66.1h0.85M115.8 63.5h0.85M119.2 50.0h0.85M121.8 61.2h0.85M116.5 56.1h0.85M119.6 60.9h0.85M130.8 53.6h0.85M122.8 66.2h0.85M122.9 57.2h0.85M119.8 61.1h0.85M114.8 66.6h0.85M129.7 59.3h0.85M125.2 50.8h0.85M113.8 52.2h0.85M115.8 59.0h0.85M117.3 52.9h0.85M114.3 63.1h0.85M125.9 60.6h0.85M126.0 69.0h0.85M118.7 57.9h0.85M122.4 58.9h0.85M125.2 57.4h0.85M132.1 52.7h0.85M122.8 65.4h0.85M119.7 54.7h0.85M116.3 62.4h0.85M117.2 73.9h0.85M125.7 64.4h0.85M120.3 63.4h0.85M127.3 59.3h0.85M118.3 56.7h0.85M131.0 51.9h0.85M131.6 57.7h0.85M127.0 54.8h0.85M125.3 59.7h0.85M120.5 69.6h0.85M120.5 66.2h0.85M121.5 67.0h0.85M129.9 68.5h0.85M124.0 60.8h0.85M117.9 64.3h0.85M120.2 60.2h0.85M116.9 60.7h0.85M122.1 56.0h0.85M120.7 65.3h0.85M118.6 64.1h0.85M116.5 61.0h0.85M117.7 59.8h0.85M119.4 67.4h0.85M115.0 58.7h0.85M121.2 62.9h0.85M124.2 59.4h0.85M124.6 60.7h0.85M117.0 61.1h0.85M121.6 56.7h0.85M124.1 62.0h0.85M128.9 58.8h0.85M118.2 63.0h0.85M117.5 54.7h0.85M120.4 68.0h0.85M116.2 61.4h0.85M125.8 57.9h0.85M122.8 55.4h0.85M119.4 61.2h0.85M114.4 54.6h0.85M122.4 65.5h0.85M119.1 64.2h0.85M123.9 61.1h0.85M115.8 60.3h0.85M125.6 47.0h0.85M119.4 48.4h0.85M121.1 59.6h0.85M134.7 56.0h0.85M120.3 53.6h0.85M116.4 62.7h0.85M121.1 63.6h0.85M118.4 63.8h0.85M131.2 56.7h0.85M112.7 67.4h0.85M125.5 65.2h0.85M128.1 66.4h0.85M128.1 62.0h0.85M118.0 64.0h0.85M126.6 56.9h0.85M115.3 68.9h0.85M124.5 61.1h0.85M126.6 67.5h0.85M127.6 63.1h0.85M123.0 58.8h0.85M116.1 59.5h0.85M126.9 58.1h0.85M122.6 55.2h0.85M117.3 64.5h0.85M120.6 62.0h0.85M120.7 53.8h0.85M122.9 64.4h0.85M132.6 61.2h0.85M119.7 56.1h0.85M115.6 63.8h0.85M122.7 60.8h0.85M119.0 59.5h0.85M120.7 61.3h0.85M123.5 57.9h0.85M114.8 61.8h0.85M125.3 53.3h0.85M121.0 61.3h0.85M123.4 54.5h0.85M121.1 59.2h0.85M119.2 55.5h0.85M126.1 61.9h0.85M127.2 56.3h0.85M128.4 62.6h0.85M128.9 60.3h0.85M114.0 63.8h0.85M122.7 56.1h0.85M116.7 60.5h0.85M121.0 50.8h0.85M116.4 56.9h0.85M129.8 66.4h0.85M126.3 47.8h0.85M125.1 69.0h0.85M112.3 60.7h0.85M118.3 56.5h0.85M121.9 70.0h0.85M115.4 61.7h0.85M121.3 59.3h0.85M125.0 55.4h0.85M130.3 55.5h0.85M130.8 54.5h0.85M123.9 61.4h0.85M115.6 57.0h0.85M121.2 67.8h0.85M111.9 70.0h0.85M117.8 66.5h0.85M119.7 66.0h0.85M119.2 60.4h0.85M110.6 59.6h0.85M116.7 57.3h0.85M122.2 62.8h0.85M127.1 57.1h0.85M120.1 50.3h0.85M129.5 60.8h0.85M118.3 56.2h0.85M120.6 57.5h0.85M123.9 66.0h0.85M116.7 58.9h0.85M127.3 68.1h0.85M121.8 66.1h0.85M126.6 62.3h0.85M117.1 59.8h0.85M115.8 61.3h0.85M129.4 48.6h0.85M125.6 64.9h0.85M122.6 57.0h0.85M124.3 58.2h0.85M131.0 58.8h0.85M120.6 61.9h0.85M125.8 64.1h0.85M125.6 60.4h0.85M121.6 54.8h0.85M127.3 63.0h0.85M127.2 57.9h0.85M119.4 61.1h0.85M118.2 64.0h0.85M115.8 57.6h0.85M121.8 53.3h0.85M124.6 60.7h0.85M113.0 59.1h0.85M125.8 56.8h0.85M125.3 64.2h0.85M120.3 54.1h0.85M114.5 57.0h0.85M126.3 64.9h0.85M122.5 66.4h0.85M116.3 67.0h0.85M130.8 59.9h0.85M125.7 60.1h0.85M116.8 46.9h0.85M124.2 72.8h0.85M130.6 50.1h0.85M122.7 60.8h0.85M119.3 59.0h0.85M121.0 60.3h0.85M126.0 58.9h0.85M126.5 57.2h0.85M124.3 68.2h0.85M114.7 73.5h0.85M120.4 57.8h0.85M122.4 49.2h0.85M116.4 65.0h0.85M125.8 60.3h0.85M124.4 61.5h0.85M117.3 62.5h0.85M116.7 56.9h0.85M120.5 58.8h0.85M119.5 55.0h0.85M117.9 61.8h0.85M116.7 60.0h0.85M115.6 58.8h0.85M125.6 59.5h0.85M120.8 60.2h0.85M115.4 62.6h0.85M117.5 59.6h0.85M119.0 66.5h0.85M119.9 59.7h0.85M119.1 64.3h0.85M118.0 62.8h0.85M124.8 61.2h0.85M121.3 55.6h0.85M120.4 52.2h0.85M126.1 64.2h0.85M128.5 49.6h0.85M119.1 61.4h0.85M117.7 65.9h0.85M117.5 60.9h0.85M121.8 53.1h0.85M129.4 54.4h0.85M121.0 56.2h0.85M112.5 58.5h0.85M121.3 58.6h0.85M120.0 57.2h0.85M117.1 54.9h0.85M117.5 71.9h0.85M112.3 48.5h0.85M123.7 53.7h0.85M115.2 57.9h0.85M121.6 66.8h0.85M119.4 63.9h0.85M128.8 65.7h0.85M118.9 53.4h0.85M115.8 60.2h0.85M115.2 65.6h0.85M124.7 55.4h0.85M122.9 57.1h0.85M120.7 62.7h0.85M128.8 65.2h0.85M127.9 52.9h0.85M115.5 53.3h0.85M130.5 66.4h0.85M122.5 66.1h0.85M123.3 53.9h0.85M119.2 60.6h0.85M123.8 56.8h0.85M130.2 56.1h0.85M131.6 66.4h0.85M118.4 60.6h0.85M117.5 59.7h0.85M120.1 62.4h0.85M117.8 52.8h0.85M114.8 65.4h0.85M122.5 63.0h0.85M125.3 67.6h0.85M119.3 62.5h0.85M126.2 62.9h0.85M122.5 59.2h0.85M120.7 63.5h0.85M121.3 57.9h0.85M114.4 56.5h0.85M124.7 65.7h0.85M125.1 53.7h0.85M122.8 74.8h0.85M131.0 67.1h0.85M124.3 64.7h0.85M125.2 66.5h0.85M120.5 52.7h0.85M136.1 60.8h0.85M116.2 58.9h0.85M120.7 58.4h0.85M113.4 65.2h0.85M116.3 56.0h0.85M126.2 56.5h0.85M126.5 64.5h0.85M121.7 66.4h0.85M116.6 66.2h0.85M121.2 56.3h0.85M123.7 62.5h0.85M130.7 56.3h0.85M121.8 57.8h0.85M124.3 71.2h0.85M118.2 46.9h0.85M123.7 56.4h0.85M124.7 57.9h0.85M121.0 61.4h0.85M126.0 63.3h0.85M118.7 60.6h0.85M125.8 58.9h0.85M123.8 59.1h0.85M129.8 56.1h0.85M121.3 59.1h0.85M116.0 53.3h0.85M117.4 61.4h0.85M120.5 58.9h0.85M131.0 50.6h0.85M131.4 63.7h0.85M120.3 59.8h0.85M128.1 56.6h0.85M128.7 58.9h0.85M118.0 60.8h0.85M120.0 64.2h0.85M120.1 53.5h0.85M114.9 60.1h0.85M130.0 53.0h0.85M117.4 56.8h0.85M116.2 63.9h0.85M116.7 57.6h0.85M125.7 64.3h0.85M122.0 60.7h0.85M114.8 69.8h0.85M118.4 59.7h0.85M117.5 66.9h0.85M116.6 64.1h0.85M116.9 67.8h0.85M120.7 54.4h0.85M116.5 55.6h0.85M125.2 59.1h0.85M123.9 64.4h0.85M119.4 64.8h0.85M126.0 52.6h0.85M123.0 68.4h0.85M121.9 57.4h0.85M109.3 64.9h0.85M123.2 71.0h0.85M119.0 57.3h0.85M130.3 58.4h0.85M121.1 65.6h0.85M118.6 69.1h0.85M120.9 48.9h0.85M119.2 58.9h0.85M121.6 61.2h0.85M125.8 61.2h0.85M127.0 60.5h0.85M128.5 58.3h0.85M121.3 64.6h0.85M117.2 60.4h0.85M127.9 52.1h0.85M113.4 55.6h0.85M123.9 63.4h0.85M118.9 60.3h0.85M124.3 53.0h0.85M120.2 61.9h0.85M125.0 64.0h0.85M122.8 57.7h0.85M119.7 61.7h0.85M124.9 52.0h0.85M117.1 54.0h0.85M125.1 60.6h0.85M126.2 55.3h0.85M124.3 58.6h0.85M132.4 60.2h0.85M118.9 57.8h0.85M122.7 57.5h0.85M126.3 59.3h0.85M120.2 58.9h0.85M117.5 56.3h0.85M118.8 57.3h0.85M123.2 58.7h0.85M116.2 58.9h0.85M119.0 58.8h0.85M123.9 62.8h0.85M119.1 53.2h0.85M129.4 59.2h0.85M125.6 55.9h0.85M128.1 64.9h0.85M114.7 58.6h0.85M122.9 60.8h0.85M114.0 62.7h0.85M127.3 51.6h0.85M121.3 55.6h0.85M116.8 67.2h0.85M122.5 52.8h0.85M116.1 68.5h0.85M120.8 61.9h0.85M117.5 64.7h0.85M123.5 65.1h0.85M125.3 61.8h0.85M113.1 56.0h0.85M118.4 70.9h0.85M127.3 58.4h0.85M114.4 56.9h0.85M121.8 63.8h0.85M123.9 53.4h0.85M117.0 61.4h0.85M127.7 57.7h0.85M121.4 71.8h0.85M113.3 61.5h0.85M114.4 66.3h0.85M137.7 55.5h0.85M115.6 64.8h0.85M123.6 60.7h0.85M114.1 59.2h0.85M117.8 60.9h0.85M117.3 69.2h0.85M110.8 63.5h0.85M129.3 55.6h0.85M125.9 54.1h0.85M120.1 62.3h0.85M120.8 68.6h0.85M121.1 58.6h0.85M116.1 69.0h0.85M131.6 56.2h0.85M122.5 55.7h0.85M124.1 61.1h0.85M126.1 62.0h0.85M110.7 58.4h0.85M111.5 69.8h0.85M120.4 68.5h0.85M124.4 55.5h0.85M123.3 58.2h0.85M120.2 58.7h0.85M125.1 65.1h0.85M120.7 61.7h0.85M128.6 57.2h0.85M121.5 62.9h0.85M119.3 65.6h0.85M122.4 59.1h0.85M123.4 60.6h0.85M111.5 70.5h0.85M119.8 59.1h0.85M118.0 64.5h0.85M125.0 52.5h0.85M117.9 62.5h0.85M120.2 67.2h0.85M122.5 67.2h0.85M126.2 57.6h0.85M124.0 55.5h0.85M116.6 68.6h0.85M117.2 54.1h0.85M122.5 68.7h0.85M128.0 61.5h0.85M123.6 57.6h0.85M126.0 60.5h0.85M120.6 60.2h0.85M121.1 58.4h0.85M125.0 47.6h0.85M112.4 64.7h0.85M122.8 54.7h0.85M121.1 59.3h0.85M116.6 56.0h0.85M119.5 58.9h0.85M126.9 56.9h0.85M114.4 64.3h0.85M127.7 60.6h0.85M123.0 56.6h0.85M115.3 50.0h0.85M116.3 60.9h0.85M121.0 66.6h0.85M123.4 59.9h0.85M123.6 62.6h0.85M121.4 55.6h0.85M120.4 54.1h0.85M121.2 49.4h0.85M116.5 59.4h0.85M126.8 63.3h0.85M126.5 68.1h0.85M126.9 54.8h0.85M123.5 65.3h0.85M110.8 72.2h0.85M124.0 55.9h0.85M125.6 47.3h0.85M117.1 66.3h0.85M129.8 61.7h0.85M117.4 69.2h0.85M122.3 53.1h0.85M115.6 59.9h0.85M126.9 58.8h0.85M124.1 58.3h0.85M123.7 55.6h0.85M126.7 59.0h0.85M127.1 55.6h0.85M124.5 61.7h0.85M110.4 63.9h0.85M126.5 53.2h0.85M116.4 64.2h0.85M121.4 61.4h0.85M123.4 66.4h0.85M127.9 74.9h0.85M125.1 69.4h0.85M116.7 53.6h0.85M118.4 66.5h0.85M120.6 58.3h0.85M122.2 60.8h0.85M118.7 66.1h0.85M125.2 48.3h0.85M121.4 66.8h0.85M129.3 56.5h0.85M119.5 63.4h0.85M121.3 59.1h0.85M126.9 61.1h0.85M123.0 57.9h0.85M128.0 65.5h0.85M126.1 70.9h0.85M123.9 57.2h0.85M126.7 68.2h0.85M128.4 56.8h0.85M120.2 46.6h0.85M120.6 59.4h0.85M119.8 64.2h0.85M125.1 59.2h0.85M115.9 58.2h0.85M125.5 59.3h0.85M131.0 52.5h0.85M117.1 57.9h0.85M126.3 46.0h0.85M125.0 61.3h0.85M128.2 61.1h0.85M116.0 63.9h0.85M117.2 56.9h0.85M125.3 66.6h0.85M121.9 58.9h0.85M120.2 63.4h0.85M117.2 58.2h0.85M118.7 53.9h0.85M123.7 53.6h0.85M109.1 68.0h0.85M118.9 57.2h0.85M132.0 55.0h0.85M130.9 52.5h0.85M122.9 52.7h0.85M123.4 53.3h0.85M116.0 57.7h0.85M123.3 61.2h0.85M117.0 58.3h0.85M127.7 58.3h0.85M124.4 62.7h0.85M120.4 53.5h0.85M114.1 56.5h0.85M120.4 66.5h0.85M120.7 65.7h0.85M114.4 54.1h0.85M126.2 66.3h0.85M122.1 60.8h0.85M113.2 60.3h0.85M128.5 74.8h0.85M117.6 59.4h0.85M114.1 55.6h0.85M132.2 57.7h0.85M120.7 64.9h0.85M122.4 66.9h0.85M118.6 64.3h0.85M127.3 55.4h0.85M114.6 58.6h0.85M121.9 71.0h0.85M123.2 58.2h0.85M125.6 54.8h0.85M119.1 63.8h0.85M121.2 61.0h0.85M130.8 49.8h0.85M121.3 58.6h0.85M115.7 61.6h0.85M114.5 68.6h0.85M109.9 63.7h0.85M110.8 60.5h0.85M130.3 56.7h0.85M127.0 69.9h0.85M113.3 51.5h0.85M117.6 58.2h0.85M115.6 68.4h0.85M126.5 56.0h0.85M114.8 66.1h0.85M124.0 66.9h0.85M117.4 58.8h0.85M111.1 60.5h0.85M122.7 66.7h0.85M116.9 70.3h0.85M124.5 63.0h0.85M122.0 68.2h0.85M135.0 58.2h0.85M116.8 68.4h0.85M121.4 61.9h0.85M122.2 67.3h0.85M134.1 52.6h0.85M116.5 63.9h0.85M124.1 57.3h0.85M124.3 67.1h0.85M127.1 60.4h0.85M126.1 64.4h0.85M115.7 60.3h0.85M115.9 57.4h0.85M128.0 56.1h0.85M117.5 69.2h0.85M122.5 55.6h0.85M120.3 57.2h0.85M121.0 60.7h0.85M119.0 56.0h0.85M119.7 66.8h0.85M122.2 64.2h0.85M114.8 60.0h0.85M124.7 57.6h0.85M122.2 56.2h0.85M125.6 65.2h0.85M123.7 72.9h0.85M122.7 57.9h0.85M124.2 61.5h0.85M120.5 65.0h0.85M111.4 61.0h0.85M122.5 59.8h0.85M125.6 58.7h0.85M126.7 59.0h0.85M123.4 68.5h0.85M126.8 46.2h0.85M120.7 68.3h0.85M128.2 58.4h0.85M120.3 49.9h0.85M124.4 59.8h0.85M121.5 52.4h0.85M120.1 59.6h0.85M120.5 61.0h0.85M114.0 57.2h0.85M121.7 60.9h0.85M106.2 54.3h0.85M116.9 62.5h0.85M125.5 68.5h0.85M123.4 55.6h0.85M136.4 65.2h0.85M120.7 66.4h0.85M125.8 66.9h0.85M124.1 54.9h0.85M120.0 55.7h0.85M120.4 70.3h0.85M124.9 51.9h0.85M112.8 59.0h0.85M122.7 47.3h0.85M118.0 64.9h0.85M125.1 54.8h0.85M121.5 60.7h0.85M123.7 56.3h0.85M121.7 59.6h0.85M123.8 69.1h0.85M114.3 60.9h0.85M120.4 62.8h0.85M117.9 53.2h0.85M118.7 67.2h0.85M118.2 56.2h0.85M119.0 66.5h0.85M114.6 57.6h0.85M125.0 68.3h0.85M122.7 68.2h0.85M123.2 71.5h0.85M123.5 51.3h0.85M122.1 65.4h0.85M120.2 67.9h0.85M126.0 55.2h0.85M121.8 58.6h0.85M121.0 53.8h0.85M125.9 52.7h0.85M114.0 58.4h0.85M121.2 63.3h0.85M118.5 50.8h0.85M118.4 59.6h0.85M118.2 66.5h0.85M122.9 66.3h0.85M116.9 75.5h0.85M108.3 65.4h0.85M121.6 57.3h0.85M118.0 57.7h0.85M115.6 64.0h0.85M118.0 58.9h0.85M116.9 60.7h0.85M117.6 56.8h0.85M105.1 64.7h0.85M121.8 60.9h0.85M121.2 54.2h0.85M112.3 62.7h0.85M121.1 55.4h0.85M124.0 55.6h0.85M113.3 57.6h0.85M122.8 65.7h0.85M122.5 65.1h0.85M121.0 71.0h0.85M133.8 49.6h0.85M117.4 56.2h0.85M117.4 61.7h0.85M113.9 55.0h0.85M122.3 66.7h0.85M124.9 61.6h0.85M119.3 53.8h0.85M119.6 68.3h0.85M121.9 60.6h0.85M123.3 66.9h0.85M127.5 60.8h0.85M123.3 63.9h0.85M117.6 58.7h0.85M114.6 57.2h0.85M121.7 61.9h0.85M119.2 54.8h0.85M114.8 65.4h0.85M113.1 69.2h0.85M129.4 48.1h0.85M116.6 62.7h0.85M121.8 49.3h0.85M120.9 61.0h0.85M116.6 62.5h0.85M113.4 66.9h0.85M130.8 57.5h0.85M123.5 63.6h0.85M123.2 58.6h0.85M126.0 64.1h0.85M122.2 57.3h0.85M124.6 63.9h0.85M117.0 61.8h0.85M118.7 60.8h0.85M126.5 55.2h0.85M119.1 59.8h0.85M127.2 54.7h0.85M131.0 52.5h0.85M118.7 60.4h0.85M121.4 62.4h0.85M125.7 57.9h0.85M119.8 49.4h0.85M115.9 57.2h0.85M116.2 64.2h0.85M115.8 61.5h0.85M121.8 70.7h0.85M124.5 64.4h0.85M109.1 60.6h0.85M123.4 65.5h0.85M121.5 64.2h0.85M124.1 69.1h0.85M126.9 60.9h0.85M125.9 64.9h0.85M119.7 59.1h0.85M119.9 63.9h0.85M114.2 62.3h0.85M124.7 61.6h0.85M124.1 64.0h0.85M120.9 49.9h0.85M118.4 57.1h0.85M120.4 64.2h0.85M117.3 73.6h0.85M126.0 57.8h0.85M130.6 61.6h0.85M124.9 64.9h0.85M127.5 54.7h0.85M115.9 69.0h0.85M114.2 58.3h0.85M124.4 62.6h0.85M120.0 61.4h0.85M123.2 52.0h0.85M119.0 65.3h0.85M127.0 56.5h0.85M119.7 59.1h0.85M128.5 56.6h0.85M118.0 69.8h0.85M120.7 75.8h0.85M120.7 56.2h0.85M116.7 66.2h0.85M118.8 70.5h0.85M113.0 59.0h0.85M126.2 63.4h0.85M116.5 66.0h0.85M127.3 52.2h0.85M120.7 63.7h0.85M119.7 54.5h0.85M114.7 57.3h0.85M110.9 64.8h0.85M125.1 57.2h0.85M128.4 59.8h0.85M122.6 60.9h0.85M124.5 59.7h0.85M117.4 65.2h0.85M121.2 61.4h0.85M118.9 64.0h0.85M123.0 59.6h0.85M126.4 59.6h0.85M126.9 60.1h0.85M129.4 59.7h0.85M120.8 56.1h0.85M132.6 51.8h0.85M127.9 56.2h0.85M117.0 57.7h0.85M121.3 57.6h0.85M111.8 57.6h0.85M121.2 50.3h0.85M120.3 67.0h0.85M119.9 56.0h0.85M122.5 61.2h0.85M124.0 61.1h0.85M122.2 56.0h0.85M125.6 73.5h0.85M116.4 60.2h0.85M126.0 58.3h0.85M129.2 69.0h0.85M120.0 75.0h0.85M122.6 61.5h0.85M121.5 58.5h0.85M117.2 56.0h0.85M127.8 66.8h0.85M119.2 76.0h0.85M111.8 69.6h0.85M122.3 55.4h0.85M113.8 60.0h0.85M120.4 60.8h0.85M113.4 60.1h0.85M123.6 60.8h0.85M126.8 56.2h0.85M130.6 55.9h0.85M120.2 78.2h0.85M117.0 58.7h0.85M126.6 60.7h0.85M112.2 65.3h0.85M121.2 56.0h0.85M126.5 54.0h0.85M114.6 60.2h0.85M116.3 53.7h0.85M112.6 63.9h0.85M133.1 56.2h0.85M119.3 60.8h0.85M128.5 60.1h0.85M128.1 69.6h0.85M125.5 64.2h0.85M114.6 72.0h0.85M127.5 68.6h0.85M115.8 58.7h0.85M124.2 49.5h0.85M116.5 57.7h0.85M124.2 57.7h0.85M119.1 61.1h0.85M117.0 61.7h0.85M122.4 70.3h0.85M118.4 53.0h0.85M119.9 67.2h0.85M127.0 49.1h0.85M119.6 61.6h0.85M121.5 59.0h0.85M128.5 57.6h0.85M129.4 61.5h0.85M118.6 60.5h0.85M122.1 41.6h0.85M107.6 62.8h0.85M118.2 56.4h0.85M116.0 50.6h0.85M119.5 60.4h0.85M122.9 68.5h0.85M122.2 63.6h0.85M120.6 63.5h0.85M120.5 63.0h0.85M118.5 59.5h0.85M122.0 58.0h0.85M114.5 62.9h0.85M128.1 61.5h0.85M116.1 66.1h0.85M126.9 60.8h0.85M118.7 54.4h0.85M125.2 62.5h0.85M121.3 58.9h0.85M118.8 66.8h0.85M121.4 61.0h0.85M130.5 56.0h0.85M120.2 65.0h0.85M121.0 62.4h0.85M129.8 54.7h0.85M119.0 58.9h0.85M122.5 62.2h0.85M124.5 65.6h0.85M116.8 57.8h0.85M115.6 43.9h0.85M120.3 61.6h0.85M128.7 58.3h0.85M131.9 57.1h0.85M122.8 59.3h0.85M124.3 55.6h0.85M116.1 65.7h0.85M125.8 58.8h0.85M123.2 68.8h0.85M116.3 55.6h0.85M126.9 60.6h0.85M121.7 57.3h0.85M123.7 67.1h0.85M122.1 59.5h0.85M116.2 60.2h0.85M114.8 69.0h0.85M127.7 56.9h0.85M125.7 67.5h0.85M116.8 59.4h0.85M129.8 59.0h0.85M115.5 59.7h0.85M111.6 55.3h0.85M127.8 63.9h0.85M119.3 57.6h0.85M121.5 56.0h0.85M123.6 53.6h0.85M125.8 49.8h0.85M118.3 57.5h0.85M119.3 67.7h0.85M118.6 56.6h0.85M121.4 56.9h0.85M119.7 63.1h0.85M125.5 60.3h0.85M126.5 55.4h0.85M116.7 62.6h0.85M117.7 56.0h0.85M119.5 60.5h0.85M121.9 61.5h0.85M131.0 59.3h0.85M128.0 58.6h0.85M122.7 68.2h0.85M119.7 51.1h0.85M126.3 46.9h0.85M121.9 76.3h0.85M118.5 58.4h0.85M124.2 65.9h0.85M120.7 58.5h0.85M121.0 52.8h0.85M116.9 63.5h0.85M122.2 65.8h0.85M116.6 59.3h0.85M112.2 58.3h0.85M122.4 60.0h0.85M122.3 57.1h0.85M118.9 56.5h0.85M122.2 60.8h0.85M120.4 67.9h0.85M122.1 60.0h0.85M128.2 67.6h0.85M118.4 58.8h0.85M121.5 66.1h0.85M117.7 59.8h0.85M123.2 66.3h0.85M126.0 62.6h0.85M116.7 58.0h0.85M125.2 57.1h0.85M118.4 63.1h0.85M122.1 67.3h0.85M122.2 63.7h0.85M121.2 58.7h0.85M121.5 58.2h0.85M116.5 65.4h0.85M121.2 68.1h0.85M121.0 56.1h0.85M124.2 58.1h0.85M120.5 53.7h0.85M117.6 58.2h0.85M125.1 67.1h0.85M112.2 68.3h0.85M126.0 60.0h0.85M111.2 59.8h0.85M118.1 69.8h0.85M128.2 57.3h0.85M124.9 67.3h0.85M123.4 62.9h0.85M127.3 65.2h0.85M111.5 58.2h0.85M121.4 62.6h0.85M119.4 57.6h0.85M116.3 59.1h0.85M121.2 61.9h0.85M128.7 63.2h0.85M118.0 71.5h0.85M118.1 55.8h0.85M121.7 60.2h0.85M121.6 67.1h0.85M129.5 52.8h0.85M127.9 59.3h0.85M125.0 63.5h0.85M120.0 64.9h0.85M128.7 60.2h0.85M119.5 61.3h0.85M122.5 58.1h0.85M125.1 61.8h0.85M122.9 66.3h0.85M121.5 58.1h0.85M115.5 65.2h0.85M125.1 63.0h0.85M118.8 71.8h0.85M117.5 57.1h0.85M125.5 57.3h0.85M118.8 56.2h0.85M122.0 68.1h0.85M126.9 54.6h0.85M119.2 60.5h0.85M120.6 71.2h0.85M126.1 63.9h0.85M123.7 66.5h0.85M121.8 65.4h0.85M122.5 52.3h0.85M124.0 56.2h0.85M119.7 65.6h0.85M120.5 55.8h0.85M118.5 60.6h0.85M118.5 63.8h0.85M121.8 55.5h0.85M123.5 53.7h0.85M123.8 66.4h0.85M122.8 52.3h0.85M118.5 55.1h0.85M118.9 61.7h0.85M118.5 54.3h0.85M117.3 61.5h0.85M116.9 57.3h0.85M129.0 73.5h0.85M116.1 56.1h0.85M118.6 53.6h0.85M122.9 73.5h0.85M121.6 52.7h0.85M120.4 66.9h0.85M129.5 52.2h0.85M118.6 54.7h0.85M118.1 70.1h0.85M124.8 56.0h0.85M127.0 63.8h0.85M123.5 67.1h0.85M121.3 55.2h0.85M122.3 60.3h0.85M119.2 55.6h0.85M121.2 61.9h0.85M121.7 60.5h0.85M121.4 59.0h0.85M124.2 65.3h0.85M118.5 63.0h0.85M114.5 62.2h0.85M122.6 58.4h0.85M122.9 62.3h0.85M123.7 63.0h0.85M127.9 52.7h0.85M127.3 65.6h0.85M116.9 53.4h0.85M126.0 54.7h0.85M119.3 53.9h0.85M116.6 63.2h0.85M118.6 55.4h0.85M123.3 66.2h0.85M120.2 64.0h0.85M112.3 61.1h0.85M120.8 60.7h0.85M121.4 69.7h0.85M127.2 58.7h0.85M115.6 60.5h0.85M121.9 61.4h0.85M118.7 60.1h0.85M115.9 63.7h0.85M119.3 59.9h0.85M125.0 52.0h0.85M120.9 57.4h0.85M117.2 59.3h0.85M114.3 59.5h0.85M121.1 73.6h0.85M120.3 66.6h0.85M118.9 59.9h0.85M121.3 55.9h0.85M121.2 57.7h0.85M127.9 58.1h0.85M126.0 62.8h0.85M129.0 61.7h0.85M115.1 57.7h0.85M123.0 60.1h0.85M119.7 61.9h0.85M115.8 59.1h0.85M123.2 50.7h0.85M112.3 62.2h0.85M119.0 64.5h0.85M127.9 54.9h0.85M114.6 61.3h0.85M118.1 65.8h0.85M122.0 55.4h0.85M133.5 57.3h0.85M113.4 55.0h0.85M124.1 55.2h0.85M127.2 59.6h0.85M119.0 65.6h0.85M119.0 58.1h0.85M122.9 57.0h0.85M127.7 66.8h0.85M128.3 63.5h0.85M125.1 63.7h0.85M120.0 64.5h0.85M115.9 50.6h0.85M121.9 57.4h0.85M125.2 55.8h0.85M116.3 58.1h0.85M126.6 44.9h0.85M117.8 60.5h0.85M121.5 62.5h0.85M122.0 69.4h0.85M123.1 63.2h0.85M113.7 69.5h0.85M119.1 61.2h0.85M120.9 64.5h0.85M118.8 56.5h0.85M119.0 71.6h0.85M124.8 64.5h0.85M123.5 56.2h0.85M116.2 66.6h0.85M124.3 66.9h0.85M120.4 70.7h0.85M115.0 66.7h0.85M114.9 65.8h0.85M121.7 63.6h0.85M122.6 65.0h0.85M126.9 52.6h0.85M117.6 65.7h0.85M119.8 60.3h0.85M129.1 57.7h0.85M129.0 52.3h0.85M113.7 73.0h0.85M120.1 55.6h0.85M123.4 65.5h0.85M117.5 57.4h0.85M107.8 56.5h0.85M116.7 57.9h0.85M116.7 58.2h0.85M116.9 63.9h0.85M124.4 44.7h0.85M116.1 65.1h0.85M127.5 57.4h0.85M122.1 56.6h0.85M118.8 58.3h0.85M117.8 59.7h0.85M113.6 65.3h0.85M128.3 52.3h0.85M119.0 64.0h0.85M125.0 65.5h0.85M118.9 59.3h0.85M124.6 58.1h0.85M116.6 62.1h0.85M115.4 56.3h0.85M122.9 67.3h0.85M128.2 59.0h0.85M117.9 61.4h0.85M118.8 60.8h0.85M124.1 54.0h0.85M122.4 52.6h0.85M128.8 62.5h0.85M116.9 62.7h0.85M113.5 59.9h0.85M118.1 60.6h0.85M125.6 49.1h0.85M119.3 72.9h0.85M123.9 56.0h0.85M125.0 60.9h0.85M120.1 63.4h0.85M128.3 63.7h0.85M126.0 54.3h0.85M121.3 69.0h0.85M125.9 63.5h0.85M122.3 60.8h0.85M120.4 55.9h0.85M128.6 68.9h0.85M122.7 66.9h0.85M126.5 59.2h0.85M119.9 51.1h0.85M116.0 51.5h0.85M122.9 61.2h0.85M128.5 58.2h0.85M117.8 64.5h0.85M118.3 59.8h0.85M116.6 63.0h0.85M129.9 58.3h0.85M130.1 60.9h0.85M117.4 57.8h0.85M120.5 64.2h0.85M129.0 58.5h0.85M122.8 67.1h0.85M122.3 64.5h0.85M129.8 59.6h0.85M121.0 63.7h0.85M121.0 57.7h0.85M124.0 61.6h0.85M114.4 67.0h0.85M129.5 50.7h0.85M112.7 59.2h0.85M120.9 66.4h0.85M125.1 58.4h0.85M120.7 56.5h0.85M121.4 50.6h0.85M121.8 57.6h0.85M120.3 70.8h0.85M123.5 63.6h0.85M125.6 55.0h0.85M118.8 63.3h0.85M126.9 64.2h0.85M130.0 60.2h0.85M120.5 55.3h0.85M127.8 58.5h0.85M122.9 62.3h0.85M115.6 59.3h0.85M124.2 62.8h0.85M111.7 57.3h0.85M123.5 66.9h0.85M126.5 62.1h0.85M117.8 63.3h0.85M115.7 63.7h0.85M123.4 58.6h0.85M121.3 63.6h0.85M116.4 66.0h0.85M111.5 64.4h0.85M113.4 64.6h0.85M131.1 56.3h0.85M122.6 53.4h0.85M118.7 55.1h0.85M120.9 63.8h0.85M117.9 68.7h0.85M115.0 53.1h0.85M113.7 71.6h0.85M121.7 61.6h0.85M120.6 67.3h0.85M118.9 58.4h0.85M126.9 53.5h0.85M130.8 61.4h0.85M119.2 62.5h0.85M115.8 68.4h0.85M132.5 64.3h0.85M123.8 58.5h0.85M114.6 64.7h0.85M111.0 66.3h0.85M122.9 60.8h0.85M118.1 64.5h0.85M121.7 65.9h0.85M121.0 56.4h0.85M115.4 60.1h0.85M128.8 67.8h0.85M124.8 62.7h0.85M128.9 61.3h0.85M117.0 60.2h0.85M127.9 57.8h0.85M124.0 66.3h0.85M121.2 60.6h0.85M128.6 53.2h0.85M121.0 58.5h0.85M126.2 62.1h0.85M119.7 56.8h0.85M122.2 58.3h0.85M121.5 58.8h0.85M109.1 67.4h0.85M111.7 57.5h0.85M125.4 72.4h0.85M121.5 56.3h0.85M113.5 54.0h0.85M126.0 61.7h0.85M116.8 56.8h0.85M122.0 54.9h0.85M120.7 63.8h0.85M128.7 66.8h0.85M129.6 66.2h0.85M117.8 55.7h0.85M121.7 60.8h0.85M130.4 56.8h0.85M125.8 47.0h0.85M129.5 68.1h0.85M120.4 65.7h0.85M121.8 50.7h0.85M117.5 60.6h0.85M124.5 59.1h0.85M124.0 62.4h0.85M117.8 63.6h0.85M130.7 63.1h0.85M121.6 61.0h0.85M125.3 54.6h0.85M126.0 55.0h0.85M125.3 55.6h0.85M115.6 63.1h0.85M130.1 62.9h0.85M125.3 51.1h0.85M123.9 46.2h0.85M122.8 66.8h0.85M120.9 70.0h0.85M125.0 60.3h0.85M119.7 67.3h0.85M123.8 56.1h0.85M124.4 55.8h0.85M121.1 58.3h0.85M117.1 66.8h0.85M119.8 56.6h0.85M109.9 66.5h0.85M124.2 53.9h0.85M124.3 67.2h0.85M115.0 58.1h0.85M116.7 60.8h0.85M117.3 59.5h0.85M123.5 61.4h0.85M119.1 62.9h0.85M124.3 63.3h0.85M122.5 65.8h0.85M124.1 54.3h0.85M117.6 64.6h0.85M114.4 67.9h0.85M117.5 66.0h0.85M122.5 63.6h0.85M123.5 61.1h0.85M122.5 61.5h0.85M121.0 67.6h0.85M129.5 57.0h0.85M119.4 68.1h0.85M120.0 70.2h0.85M119.1 60.6h0.85M118.5 63.7h0.85M117.6 58.5h0.85M122.7 61.0h0.85M122.7 58.1h0.85M130.7 66.0h0.85M125.5 56.6h0.85M120.1 68.7h0.85M112.4 51.8h0.85M122.5 62.3h0.85M121.9 60.7h0.85M126.6 64.6h0.85M121.4 58.2h0.85M129.2 66.6h0.85M117.0 63.6h0.85M123.0 59.5h0.85M127.7 62.3h0.85M126.3 56.2h0.85M121.3 60.3h0.85M124.8 64.1h0.85M113.8 64.3h0.85M116.4 60.6h0.85M124.2 66.9h0.85M117.6 72.8h0.85M116.9 66.4h0.85M115.9 61.1h0.85M117.7 67.9h0.85M104.8 70.0h0.85M124.8 65.1h0.85M125.4 51.1h0.85M118.1 63.9h0.85M126.5 60.6h0.85M120.7 66.3h0.85M126.0 63.4h0.85M119.5 62.1h0.85M113.8 61.7h0.85M125.1 61.0h0.85M125.6 55.9h0.85M116.5 60.8h0.85M115.4 64.6h0.85M122.8 59.3h0.85M114.7 71.4h0.85M116.5 59.6h0.85M123.5 62.0h0.85M113.2 62.5h0.85M121.6 62.8h0.85M126.9 65.4h0.85M117.9 57.6h0.85M121.0 55.4h0.85M123.8 57.6h0.85M120.9 52.4h0.85M125.2 58.2h0.85M121.8 66.6h0.85M129.2 50.6h0.85M118.7 64.0h0.85M126.1 55.0h0.85M123.0 52.0h0.85M118.8 50.7h0.85M119.8 60.8h0.85M125.0 65.8h0.85M121.2 64.4h0.85M129.9 53.6h0.85M117.4 61.0h0.85M117.4 71.2h0.85M128.4 58.9h0.85M130.8 64.4h0.85M114.4 51.6h0.85M122.2 66.7h0.85M123.7 64.5h0.85M125.5 46.5h0.85M127.3 49.8h0.85M117.8 68.0h0.85M121.7 54.9h0.85M122.4 51.0h0.85M124.6 63.7h0.85M118.7 60.4h0.85M124.1 62.2h0.85M131.7 55.4h0.85M126.6 51.5h0.85M116.7 68.6h0.85M116.4 60.3h0.85M119.8 63.0h0.85M125.3 62.5h0.85M123.5 67.7h0.85M124.6 62.1h0.85M120.0 51.8h0.85M123.1 51.2h0.85M127.0 61.2h0.85M117.8 52.6h0.85M126.5 62.5h0.85M120.8 61.0h0.85M128.3 64.1h0.85M116.2 61.1h0.85M116.3 64.8h0.85M122.2 62.6h0.85M114.4 57.1h0.85M119.8 69.8h0.85M118.1 54.0h0.85M114.4 50.5h0.85M130.3 50.7h0.85M118.9 69.9h0.85M119.6 59.7h0.85M119.6 61.9h0.85M117.6 59.0h0.85M122.1 64.7h0.85M117.6 55.0h0.85M126.4 66.6h0.85M130.1 60.9h0.85M113.6 64.8h0.85M107.7 66.7h0.85M116.2 60.0h0.85M115.7 64.3h0.85M124.3 63.4h0.85M116.0 53.8h0.85M124.3 52.6h0.85M118.6 65.4h0.85M114.8 59.4h0.85M123.5 51.7h0.85M122.0 64.8h0.85M128.1 53.6h0.85M120.7 66.0h0.85M126.1 56.1h0.85M121.4 56.3h0.85M114.6 57.1h0.85M114.9 61.5h0.85M127.5 64.0h0.85M109.9 68.5h0.85M118.5 64.9h0.85M121.6 53.1h0.85M124.2 67.2h0.85M124.7 60.0h0.85M120.9 54.8h0.85M119.5 58.0h0.85M120.0 64.4h0.85M117.6 55.5h0.85M121.8 65.8h0.85M124.6 61.3h0.85M117.4 60.3h0.85M126.1 58.2h0.85M117.0 76.5h0.85M122.0 65.9h0.85M124.8 52.3h0.85M119.8 65.9h0.85M124.0 61.5h0.85M118.5 68.0h0.85M126.8 57.9h0.85M128.1 60.3h0.85M124.1 67.5h0.85M118.1 57.3h0.85M121.8 62.7h0.85M127.8 62.1h0.85M120.0 58.5h0.85M126.3 49.2h0.85M122.9 66.8h0.85M117.2 60.8h0.85M123.3 68.5h0.85M118.9 66.0h0.85M119.5 62.4h0.85M119.8 65.0h0.85M127.4 60.1h0.85M115.8 59.7h0.85M117.4 67.9h0.85M119.9 75.8h0.85M122.1 60.7h0.85M115.0 65.9h0.85M122.1 65.8h0.85M122.8 64.0h0.85M115.2 53.7h0.85M125.9 64.7h0.85M120.6 63.4h0.85M116.2 58.4h0.85M127.1 49.6h0.85M121.5 56.5h0.85M130.1 56.4h0.85M128.7 57.0h0.85M129.1 60.4h0.85M123.2 59.0h0.85M120.2 54.6h0.85M117.6 74.9h0.85M119.1 58.2h0.85M116.9 59.7h0.85M119.9 65.2h0.85M125.2 61.9h0.85M123.8 62.5h0.85M120.6 55.7h0.85M114.0 67.3h0.85M118.7 60.6h0.85M125.0 48.2h0.85M119.8 56.5h0.85M118.4 54.3h0.85M124.9 56.4h0.85M115.6 59.8h0.85M123.9 51.1h0.85M115.9 48.0h0.85M125.4 70.7h0.85M126.6 51.9h0.85M126.8 57.1h0.85M121.1 62.7h0.85M112.9 63.1h0.85M124.8 61.7h0.85M117.1 57.0h0.85M124.3 56.7h0.85M122.5 56.3h0.85M125.0 64.3h0.85M120.6 51.2h0.85M122.3 68.3h0.85M122.8 59.0h0.85M122.8 67.7h0.85M122.9 60.2h0.85M120.5 57.5h0.85M123.2 59.0h0.85M125.1 58.0h0.85M115.1 65.3h0.85M125.4 64.6h0.85M124.3 66.4h0.85M128.1 57.4h0.85M127.9 49.6h0.85M127.3 61.9h0.85M126.7 60.9h0.85M126.8 64.5h0.85M114.9 54.5h0.85M123.8 54.9h0.85M117.9 64.3h0.85M125.3 64.6h0.85M122.2 58.8h0.85M117.9 58.6h0.85M117.9 62.7h0.85M116.3 59.1h0.85M124.4 64.9h0.85M122.8 58.4h0.85M121.6 58.4h0.85M121.7 68.5h0.85M129.9 50.8h0.85M133.3 62.9h0.85M120.3 67.8h0.85M119.5 61.7h0.85M116.6 68.6h0.85M116.3 55.0h0.85M119.0 60.6h0.85M121.3 67.0h0.85M127.8 53.6h0.85M127.5 57.3h0.85M123.7 62.3h0.85M123.6 53.2h0.85M115.7 58.2h0.85M113.1 67.9h0.85M125.5 57.1h0.85M127.5 62.4h0.85M122.1 72.4h0.85M124.9 62.0h0.85M122.2 52.0h0.85M120.7 65.8h0.85M119.1 59.6h0.85M118.3 59.6h0.85M120.4 59.1h0.85M122.2 49.9h0.85M123.5 58.0h0.85M122.2 50.7h0.85M127.1 66.9h0.85M118.2 63.0h0.85M116.6 60.3h0.85M131.0 58.1h0.85M118.1 59.7h0.85M120.4 68.8h0.85M122.2 64.5h0.85M113.1 71.4h0.85M125.0 58.5h0.85M114.7 75.3h0.85M121.8 60.0h0.85M118.8 61.3h0.85M124.0 61.1h0.85M112.6 76.1h0.85M123.3 55.6h0.85M121.3 52.5h0.85M130.7 53.5h0.85M131.3 68.9h0.85M131.9 57.2h0.85M117.8 66.2h0.85M127.1 60.7h0.85M116.6 57.3h0.85M124.3 54.3h0.85M121.5 57.8h0.85M115.8 58.0h0.85M120.9 55.9h0.85M118.2 70.2h0.85M125.3 63.0h0.85M119.1 53.9h0.85M121.1 61.5h0.85M117.6 57.8h0.85M125.7 62.5h0.85M130.8 57.9h0.85M113.7 51.2h0.85M118.6 60.7h0.85M119.5 78.3h0.85M124.1 56.2h0.85M124.5 60.0h0.85M126.4 64.8h0.85M129.9 53.6h0.85M121.0 63.9h0.85M127.1 57.5h0.85M123.4 66.2h0.85M125.9 58.4h0.85M120.3 62.6h0.85M116.1 69.9h0.85M119.1 62.1h0.85M119.5 61.3h0.85M122.2 60.4h0.85M119.3 63.3h0.85M123.2 62.2h0.85M121.4 57.7h0.85M112.7 60.9h0.85M119.6 67.7h0.85M125.3 68.8h0.85M119.6 60.5h0.85M118.9 60.2h0.85M120.0 63.9h0.85M118.0 68.0h0.85M117.7 59.0h0.85M125.9 56.4h0.85M122.0 53.8h0.85M113.4 64.0h0.85M109.6 64.0h0.85M124.1 51.9h0.85M120.0 58.5h0.85M127.4 64.9h0.85M112.8 66.9h0.85M118.3 57.9h0.85M128.6 60.2h0.85M127.0 58.0h0.85M125.0 63.7h0.85M114.6 61.8h0.85M119.8 61.3h0.85M121.1 52.4h0.85M121.7 53.3h0.85M111.3 62.9h0.85M115.7 57.5h0.85M122.3 59.7h0.85M112.8 58.2h0.85M121.8 64.2h0.85M119.3 70.9h0.85M119.4 59.3h0.85M124.7 61.1h0.85M118.4 59.0h0.85M121.1 55.2h0.85M126.4 61.1h0.85M131.5 57.8h0.85M125.0 55.9h0.85M121.7 62.0h0.85M134.8 64.8h0.85M120.1 55.5h0.85M119.5 49.6h0.85M119.3 52.8h0.85M116.5 64.8h0.85M115.4 58.9h0.85M122.8 57.3h0.85M121.3 51.7h0.85M119.2 71.0h0.85M124.8 63.9h0.85M110.0 69.2h0.85M129.5 64.6h0.85M110.5 62.3h0.85M125.8 66.0h0.85M120.6 49.8h0.85M112.5 59.4h0.85M115.3 62.5h0.85M127.2 61.1h0.85M126.8 48.1h0.85M124.7 57.1h0.85M129.5 64.4h0.85M129.7 60.7h0.85M125.8 61.1h0.85M122.6 57.9h0.85M118.0 63.1h0.85M120.0 59.7h0.85M117.8 60.7h0.85M123.0 55.9h0.85M120.3 60.7h0.85M123.1 53.0h0.85M122.1 51.8h0.85M128.2 54.5h0.85M122.0 64.0h0.85M120.9 52.9h0.85M122.1 62.4h0.85M119.8 61.0h0.85M122.8 61.2h0.85M129.5 60.2h0.85M132.2 68.9h0.85M127.6 66.2h0.85M115.4 57.9h0.85M118.9 61.9h0.85M116.5 50.8h0.85M119.2 63.4h0.85M124.9 58.3h0.85M123.3 56.1h0.85M125.6 64.5h0.85M127.9 53.1h0.85M118.6 57.9h0.85M129.0 51.2h0.85M116.9 53.9h0.85M132.8 63.2h0.85M120.3 60.9h0.85M125.1 52.7h0.85M131.6 60.9h0.85M115.0 64.4h0.85M123.9 57.6h0.85M121.0 60.0h0.85M123.3 60.8h0.85M119.1 62.3h0.85M117.9 57.0h0.85M114.1 53.4h0.85M122.8 57.2h0.85M123.6 69.4h0.85M126.4 71.0h0.85M124.3 66.9h0.85M127.7 64.6h0.85M125.0 64.0h0.85M113.2 57.9h0.85M124.5 59.8h0.85M129.3 62.5h0.85M113.8 60.9h0.85M119.5 57.8h0.85M121.2 61.1h0.85M123.6 67.1h0.85M128.3 65.3h0.85M126.4 61.8h0.85M118.1 60.5h0.85M116.6 61.2h0.85M123.3 58.7h0.85M112.4 62.3h0.85M111.9 60.6h0.85M113.0 61.4h0.85M118.9 54.5h0.85M119.4 63.2h0.85M123.3 61.4h0.85M126.2 58.4h0.85M125.5 65.1h0.85M119.8 57.2h0.85M121.0 50.6h0.85M127.8 61.2h0.85M123.2 60.8h0.85M124.5 61.5h0.85M122.2 59.5h0.85M116.0 52.9h0.85M121.0 58.7h0.85M128.1 51.8h0.85M122.3 65.3h0.85M115.8 59.7h0.85M122.7 63.1h0.85M129.0 57.2h0.85M121.5 59.1h0.85M126.9 62.4h0.85M125.8 63.8h0.85M119.3 64.4h0.85M126.5 58.4h0.85M120.0 58.4h0.85M114.8 68.2h0.85M117.6 63.8h0.85M122.9 51.2h0.85M123.8 56.5h0.85M118.9 66.2h0.85M118.9 54.3h0.85M116.8 65.3h0.85M121.2 55.7h0.85M124.5 59.6h0.85M123.3 61.5h0.85M124.3 54.0h0.85M118.2 56.6h0.85M119.1 63.8h0.85M121.1 55.1h0.85M121.3 69.4h0.85M117.9 43.3h0.85M119.1 66.0h0.85M119.1 56.1h0.85M126.8 61.5h0.85M123.7 63.6h0.85M118.2 57.9h0.85M117.4 62.1h0.85M129.8 56.8h0.85M116.0 55.9h0.85M118.6 62.0h0.85M116.1 69.8h0.85M117.1 56.2h0.85M118.5 61.6h0.85M129.2 53.2h0.85M124.0 57.1h0.85M121.6 68.8h0.85M112.1 59.4h0.85M122.2 56.3h0.85M123.6 61.8h0.85M122.5 62.6h0.85M123.8 53.7h0.85M120.6 62.3h0.85M121.7 56.6h0.85M119.0 58.6h0.85M123.5 62.2h0.85M118.6 64.1h0.85M114.7 66.0h0.85M123.8 61.4h0.85M118.3 65.3h0.85M120.2 65.7h0.85M124.0 60.3h0.85M115.3 58.4h0.85M114.7 60.2h0.85M119.4 63.7h0.85M121.9 54.0h0.85M120.2 64.7h0.85M123.7 74.9h0.85M121.3 70.2h0.85M128.0 58.1h0.85M124.1 62.7h0.85M124.4 64.4h0.85M116.5 61.8h0.85M120.8 57.8h0.85M120.0 55.4h0.85M118.4 57.1h0.85M129.7 65.9h0.85M113.7 62.9h0.85M116.2 67.7h0.85M124.2 51.9h0.85M123.3 55.8h0.85M127.7 68.1h0.85M117.2 51.3h0.85M120.5 66.2h0.85M122.4 57.0h0.85M124.5 60.3h0.85M124.5 64.5h0.85M122.2 66.3h0.85M124.8 56.7h0.85M120.5 62.2h0.85M116.5 71.7h0.85M109.7 62.8h0.85M120.0 54.9h0.85M122.7 59.0h0.85M113.2 66.9h0.85M122.6 62.9h0.85M116.7 57.4h0.85M120.5 63.3h0.85M116.3 65.6h0.85M111.7 58.4h0.85M129.7 54.4h0.85M124.0 64.9h0.85M124.7 69.0h0.85M121.1 62.7h0.85M120.3 63.5h0.85M122.5 59.1h0.85M122.2 66.2h0.85M123.0 58.0h0.85M121.5 54.0h0.85M124.4 54.2h0.85M123.9 52.4h0.85M121.7 62.3h0.85M130.2 58.7h0.85M117.4 61.1h0.85M128.5 59.8h0.85M122.1 56.5h0.85M124.9 54.5h0.85M124.4 61.2h0.85M111.0 58.1h0.85M124.9 61.2h0.85M124.8 59.8h0.85M126.1 62.2h0.85M127.7 63.4h0.85M124.8 62.2h0.85M121.2 63.9h0.85M123.2 58.9h0.85M125.9 53.4h0.85M125.9 56.1h0.85M120.9 53.4h0.85M124.3 64.5h0.85M120.8 65.3h0.85M123.8 58.4h0.85M124.8 59.8h0.85M122.5 62.6h0.85M118.3 62.0h0.85M116.8 67.8h0.85M117.0 68.7h0.85M117.8 57.1h0.85M122.8 60.9h0.85M117.0 60.2h0.85M122.8 62.0h0.85M131.6 60.6h0.85M117.5 70.7h0.85M120.2 57.1h0.85M130.6 63.8h0.85M127.2 63.1h0.85M122.6 54.6h0.85M119.8 74.1h0.85M118.7 49.3h0.85M118.2 59.9h0.85M122.3 59.8h0.85M122.3 53.9h0.85M120.0 47.6h0.85M132.7 65.6h0.85M123.7 62.5h0.85M133.3 70.3h0.85M122.5 55.6h0.85M117.2 70.1h0.85M115.4 52.5h0.85M122.4 64.2h0.85M114.2 71.5h0.85M111.9 65.0h0.85M127.1 61.3h0.85M122.1 53.6h0.85M115.9 54.2h0.85M119.6 68.8h0.85M116.4 60.2h0.85M115.5 68.9h0.85M119.6 45.5h0.85M123.1 68.1h0.85M113.9 68.2h0.85M126.2 62.8h0.85M128.5 65.1h0.85M121.0 60.5h0.85M124.1 59.3h0.85M113.7 65.5h0.85M122.2 62.5h0.85M115.4 64.8h0.85M120.8 64.9h0.85M122.7 64.0h0.85M118.9 56.7h0.85M115.8 59.2h0.85M125.0 61.9h0.85M111.8 61.2h0.85M121.8 57.5h0.85M123.3 61.8h0.85M126.2 60.9h0.85M111.5 57.7h0.85M119.0 62.2h0.85M121.9 63.4h0.85M126.0 64.7h0.85M119.8 63.6h0.85M128.9 67.1h0.85M114.9 62.8h0.85M123.5 64.1h0.85M120.8 60.1h0.85M109.3 62.8h0.85M120.0 61.1h0.85M127.8 53.1h0.85M126.5 60.8h0.85M114.2 62.0h0.85M126.4 65.7h0.85M121.9 54.6h0.85M121.8 68.6h0.85M120.1 52.9h0.85M122.8 51.2h0.85M122.7 56.6h0.85M118.2 60.8h0.85M125.9 58.7h0.85M122.6 56.1h0.85M127.7 69.5h0.85M125.4 52.0h0.85M124.3 69.5h0.85M122.1 60.1h0.85M125.2 57.3h0.85M129.7 64.6h0.85M118.9 71.1h0.85M119.1 65.5h0.85M122.1 62.0h0.85M117.7 73.7h0.85M126.2 48.5h0.85M126.5 57.7h0.85M120.3 58.0h0.85M124.3 58.2h0.85M128.8 55.6h0.85M107.9 57.3h0.85M127.6 54.5h0.85M119.6 58.4h0.85M133.7 51.7h0.85M120.3 59.3h0.85M128.5 61.0h0.85M126.7 60.3h0.85M123.6 60.2h0.85M118.5 66.9h0.85M121.4 60.2h0.85M122.1 62.5h0.85M119.1 62.9h0.85M127.1 72.2h0.85M114.2 62.1h0.85M118.4 62.2h0.85M108.8 60.2h0.85M130.1 55.1h0.85M122.7 63.7h0.85M112.0 62.2h0.85M124.7 60.3h0.85M119.6 63.9h0.85M112.5 75.1h0.85M125.1 55.9h0.85M124.3 61.1h0.85M110.6 67.7h0.85M119.0 67.3h0.85M112.2 59.3h0.85M123.2 55.9h0.85M132.3 60.4h0.85M111.8 65.6h0.85M130.1 58.6h0.85M124.0 59.5h0.85M126.0 58.8h0.85M120.9 68.5h0.85M122.6 54.9h0.85M117.0 63.9h0.85M122.0 64.6h0.85M123.8 56.9h0.85M113.6 58.0h0.85M116.3 60.4h0.85M121.3 64.1h0.85M135.9 67.8h0.85M116.9 63.6h0.85M117.3 65.6h0.85M124.7 64.3h0.85M119.7 72.1h0.85M121.2 56.3h0.85M120.4 64.4h0.85M122.3 57.7h0.85M121.1 61.4h0.85M119.6 66.5h0.85M123.3 57.9h0.85M118.3 66.1h0.85M122.5 61.9h0.85M123.6 64.5h0.85M127.8 57.2h0.85M127.0 62.3h0.85M120.7 60.4h0.85M117.6 67.6h0.85M121.1 52.6h0.85M118.6 54.0h0.85M129.6 63.3h0.85M117.0 57.7h0.85M121.7 58.9h0.85M121.6 55.6h0.85M114.8 67.9h0.85M127.2 60.1h0.85M122.4 59.3h0.85M122.6 56.9h0.85M121.1 63.3h0.85M122.6 54.2h0.85M120.4 56.8h0.85M120.1 64.6h0.85M114.4 65.1h0.85M115.8 65.0h0.85M128.1 70.3h0.85M123.5 57.9h0.85M108.4 61.7h0.85M120.2 57.1h0.85M122.9 54.7h0.85M115.4 65.5h0.85M111.7 64.8h0.85M121.4 56.0h0.85M121.2 56.0h0.85M118.7 60.5h0.85M117.4 61.8h0.85M125.4 53.3h0.85M122.7 73.9h0.85M129.4 57.1h0.85M120.6 60.8h0.85M120.6 63.2h0.85M122.8 58.4h0.85M115.4 62.5h0.85M132.7 56.4h0.85M115.5 65.2h0.85M123.7 62.2h0.85M122.1 61.7h0.85M127.0 61.4h0.85M122.1 69.4h0.85M124.8 59.7h0.85M116.4 67.4h0.85M123.3 63.3h0.85M126.1 58.9h0.85M122.8 69.7h0.85M125.3 62.4h0.85M118.7 59.1h0.85M131.3 49.4h0.85M121.8 55.9h0.85M125.2 64.2h0.85M129.5 62.4h0.85M120.6 52.4h0.85M121.7 70.7h0.85M122.2 57.2h0.85M118.5 60.8h0.85M125.9 51.6h0.85M121.2 69.4h0.85M122.6 61.9h0.85M120.3 62.4h0.85M118.3 71.0h0.85M118.1 63.1h0.85M127.3 62.0h0.85M114.9 70.8h0.85M126.9 60.3h0.85M120.2 65.8h0.85M126.2 60.8h0.85M119.0 63.3h0.85M124.5 65.7h0.85M122.8 54.4h0.85M122.0 61.8h0.85M118.5 64.8h0.85M126.9 58.2h0.85M117.1 62.6h0.85M115.5 58.0h0.85M122.8 59.5h0.85M116.9 66.7h0.85M118.6 63.3h0.85M124.3 68.0h0.85M121.7 67.1h0.85M127.6 62.9h0.85M121.3 61.0h0.85M114.4 56.2h0.85M127.4 48.6h0.85M116.3 59.8h0.85M127.3 64.9h0.85M121.1 65.3h0.85M128.0 57.8h0.85M113.7 58.8h0.85M124.8 60.0h0.85M118.9 61.4h0.85M120.3 48.7h0.85M117.7 61.9h0.85M114.5 66.8h0.85M124.0 67.3h0.85M111.4 66.2h0.85M116.3 56.0h0.85M113.5 69.1h0.85M114.4 64.4h0.85M122.8 62.5h0.85M118.6 63.3h0.85M122.9 56.9h0.85M121.3 55.9h0.85M127.7 61.1h0.85M129.0 74.0h0.85M119.3 61.5h0.85M122.8 62.5h0.85M118.3 66.7h0.85M125.3 66.7h0.85M119.1 70.5h0.85M117.8 60.6h0.85M121.0 59.5h0.85M122.5 61.0h0.85M123.3 54.0h0.85M115.9 46.7h0.85M131.2 54.5h0.85M126.6 53.6h0.85M118.4 57.1h0.85M120.8 51.7h0.85M119.3 64.6h0.85M123.4 60.3h0.85M116.9 65.6h0.85M127.4 60.9h0.85M125.2 57.9h0.85M118.7 60.8h0.85M119.7 63.0h0.85M121.1 57.1h0.85M123.5 48.5h0.85M123.0 56.3h0.85M119.7 60.6h0.85M124.7 52.6h0.85M123.5 58.3h0.85M125.8 58.4h0.85M123.3 51.1h0.85M125.6 68.4h0.85M125.3 54.7h0.85M121.7 62.7h0.85M122.2 52.7h0.85M125.3 53.5h0.85M119.0 61.6h0.85M116.9 71.6h0.85M115.7 65.9h0.85M119.9 65.6h0.85M123.7 57.3h0.85M123.6 60.7h0.85M128.2 54.2h0.85M125.7 53.0h0.85M120.0 57.6h0.85M119.9 56.0h0.85M120.4 57.1h0.85M125.1 65.1h0.85M124.9 61.7h0.85M113.8 57.8h0.85M124.9 53.2h0.85M123.3 65.9h0.85M115.5 64.6h0.85M122.1 53.6h0.85M123.5 54.6h0.85M121.2 61.9h0.85M124.2 65.5h0.85M124.8 55.6h0.85M125.3 58.9h0.85M120.2 49.1h0.85M127.8 57.7h0.85M120.7 62.3h0.85M125.2 65.1h0.85M120.6 67.6h0.85M127.3 55.7h0.85M118.4 62.1h0.85M111.7 68.8h0.85M121.0 53.4h0.85M116.0 68.1h0.85M119.1 68.9h0.85M122.7 67.0h0.85M115.8 58.2h0.85M116.9 63.1h0.85M123.8 67.5h0.85M120.1 66.4h0.85M122.1 64.8h0.85M111.6 64.3h0.85M128.3 61.3h0.85M116.5 66.8h0.85M116.6 61.2h0.85M124.4 56.1h0.85M116.8 67.0h0.85M122.6 52.7h0.85M117.0 61.4h0.85M119.9 58.7h0.85M120.9 54.6h0.85M119.2 68.8h0.85M109.1 74.1h0.85M123.2 59.9h0.85M112.1 63.6h0.85M109.8 65.7h0.85M113.3 71.6h0.85M117.9 71.6h0.85M134.1 65.0h0.85M114.9 70.2h0.85M138.8 64.3h0.85M134.7 76.6h0.85M108.0 70.3h0.85M131.1 67.6h0.85M108.9 80.3h0.85M113.0 72.1h0.85M118.4 70.9h0.85M115.3 74.1h0.85M118.5 66.1h0.85M106.1 66.9h0.85M126.4 78.0h0.85M122.4 80.5h0.85M128.0 82.3h0.85M116.3 70.5h0.85M122.0 71.7h0.85M123.9 72.4h0.85M127.5 65.5h0.85M104.9 75.8h0.85M121.8 68.6h0.85M124.1 61.5h0.85M120.9 71.8h0.85M115.3 57.8h0.85M120.5 74.1h0.85M114.0 72.5h0.85M119.2 63.4h0.85M105.7 76.1h0.85M107.1 58.8h0.85M120.4 72.4h0.85M120.7 61.8h0.85M129.9 72.3h0.85M133.8 76.2h0.85M122.6 61.2h0.85M125.4 75.0h0.85M118.0 64.6h0.85M116.6 62.8h0.85M113.7 70.5h0.85M128.8 72.1h0.85M131.3 59.2h0.85M103.6 66.1h0.85M112.4 75.3h0.85M108.0 64.4h0.85M99.6 72.7h0.85M134.3 66.0h0.85M123.4 61.4h0.85M124.3 69.7h0.85M101.0 67.0h0.85M115.8 48.2h0.85M117.0 69.7h0.85M109.1 67.8h0.85M132.9 53.5h0.85M101.3 63.5h0.85M116.2 56.8h0.85M94.9 74.5h0.85M121.8 56.4h0.85M123.7 66.6h0.85M119.5 56.3h0.85M115.7 71.0h0.85M100.4 58.6h0.85M127.6 83.2h0.85M124.5 66.5h0.85M107.1 63.8h0.85M115.4 70.7h0.85M114.4 67.0h0.85M106.2 72.0h0.85M121.6 66.9h0.85M116.3 64.8h0.85M124.6 66.0h0.85M113.1 55.7h0.85M121.1 76.1h0.85M112.4 69.5h0.85M115.1 68.9h0.85M108.3 73.0h0.85M128.1 78.0h0.85M116.3 63.3h0.85M114.3 70.0h0.85M117.5 65.6h0.85M120.5 64.7h0.85M121.3 62.2h0.85M102.5 64.6h0.85M136.9 60.5h0.85M127.1 78.0h0.85M112.5 69.2h0.85M95.1 71.7h0.85M133.4 68.6h0.85M98.0 62.4h0.85M110.5 68.0h0.85M120.8 63.7h0.85M114.9 60.4h0.85M123.7 68.7h0.85M121.4 63.0h0.85M122.9 64.6h0.85M121.0 65.8h0.85M111.3 58.2h0.85M131.0 66.5h0.85M120.7 61.0h0.85M134.0 66.8h0.85M111.1 68.1h0.85M127.3 59.5h0.85M138.7 65.8h0.85M117.9 53.4h0.85M127.3 80.9h0.85M117.0 63.2h0.85M122.2 68.7h0.85M121.3 81.2h0.85M119.7 54.0h0.85M102.0 81.7h0.85M122.2 72.0h0.85M110.8 69.4h0.85M116.3 50.9h0.85M112.1 77.0h0.85M113.0 76.8h0.85M112.4 66.1h0.85M128.3 54.1h0.85M118.8 63.3h0.85M119.7 81.1h0.85M122.9 56.0h0.85M127.6 63.3h0.85M119.6 76.5h0.85M114.9 74.9h0.85M119.8 59.6h0.85M114.9 55.9h0.85M129.8 68.4h0.85M127.7 57.9h0.85M126.5 57.2h0.85M120.8 66.9h0.85M112.1 69.6h0.85M118.3 59.9h0.85M110.6 56.3h0.85M131.7 68.3h0.85M114.4 72.7h0.85M109.4 57.5h0.85M121.6 80.0h0.85M121.0 68.3h0.85M135.5 54.3h0.85M117.3 56.0h0.85M105.8 65.1h0.85M111.8 69.2h0.85M107.8 64.9h0.85M128.8 72.2h0.85M126.6 74.6h0.85M124.3 55.5h0.85M112.3 68.0h0.85M136.4 59.8h0.85M114.7 67.2h0.85M113.5 59.3h0.85M110.2 72.0h0.85M117.1 71.6h0.85M110.9 58.7h0.85M102.9 73.0h0.85M112.1 66.9h0.85M116.6 77.8h0.85M110.9 56.6h0.85M117.8 59.0h0.85M119.4 55.8h0.85M117.9 71.4h0.85M104.4 55.3h0.85M135.5 62.2h0.85M123.9 56.8h0.85M118.2 74.1h0.85M123.2 61.8h0.85M105.4 68.1h0.85M122.8 67.5h0.85M123.5 81.4h0.85M118.9 63.5h0.85M127.1 80.2h0.85M100.6 58.1h0.85M117.6 63.2h0.85M119.9 53.6h0.85M141.1 72.3h0.85M115.1 76.2h0.85M105.4 65.3h0.85M114.7 65.7h0.85M125.4 58.8h0.85M127.6 72.8h0.85M122.0 75.4h0.85M114.8 53.0h0.85M122.3 72.9h0.85M131.8 64.6h0.85M123.4 77.7h0.85M118.0 70.3h0.85M115.3 63.5h0.85M127.6 76.9h0.85M121.7 66.3h0.85M118.0 62.3h0.85M119.7 67.6h0.85M134.1 68.7h0.85M119.3 66.2h0.85M119.8 69.1h0.85M110.6 71.1h0.85M124.5 81.6h0.85M129.2 74.3h0.85M127.0 76.7h0.85M122.6 71.1h0.85M125.9 66.5h0.85M104.0 70.8h0.85M130.6 66.9h0.85M129.1 75.4h0.85M112.6 56.7h0.85M104.1 77.4h0.85M129.6 71.1h0.85M96.5 61.8h0.85M119.4 60.8h0.85M108.0 74.7h0.85M115.4 69.1h0.85M129.0 66.6h0.85M121.7 70.8h0.85M139.9 68.8h0.85M126.2 75.4h0.85M134.1 62.1h0.85M111.1 63.2h0.85M109.6 53.3h0.85M119.9 72.9h0.85M106.5 73.1h0.85M128.3 59.7h0.85M116.3 80.6h0.85M120.8 70.3h0.85M131.1 67.7h0.85M108.1 62.5h0.85M111.9 65.2h0.85M121.3 77.9h0.85M108.3 72.7h0.85M127.6 62.1h0.85M117.9 64.0h0.85M114.7 67.2h0.85M120.1 72.2h0.85M113.6 70.3h0.85M125.7 64.1h0.85M116.7 70.1h0.85M106.1 77.9h0.85M97.7 61.8h0.85M107.4 58.8h0.85M101.0 74.1h0.85M112.8 68.4h0.85M120.9 82.0h0.85M123.9 68.9h0.85M107.4 57.8h0.85M103.8 69.6h0.85M106.3 72.5h0.85M128.0 69.1h0.85M130.9 65.2h0.85M110.5 77.0h0.85M129.1 65.6h0.85M101.9 74.9h0.85M122.2 62.1h0.85M113.9 60.8h0.85M107.1 79.2h0.85M103.6 81.3h0.85M98.0 68.5h0.85M125.0 73.3h0.85M137.3 70.5h0.85M126.9 60.7h0.85M92.1 71.9h0.85M111.5 71.7h0.85M132.6 81.5h0.85M122.0 57.2h0.85M129.2 74.7h0.85M125.9 60.0h0.85M105.1 72.4h0.85M120.6 72.7h0.85M112.0 58.3h0.85M123.8 68.2h0.85M112.8 79.3h0.85M124.5 73.1h0.85M105.8 57.2h0.85M137.1 66.6h0.85M122.6 77.1h0.85M108.0 60.3h0.85M110.0 62.2h0.85M119.1 79.6h0.85M128.6 57.8h0.85M101.3 59.8h0.85M117.7 66.7h0.85M99.6 65.9h0.85M120.9 75.1h0.85M128.9 66.0h0.85M105.0 63.9h0.85M124.5 59.4h0.85M130.6 59.1h0.85M106.8 73.8h0.85M117.0 69.6h0.85M115.0 67.2h0.85M112.2 82.6h0.85M124.5 66.0h0.85M122.7 73.9h0.85M112.7 68.4h0.85M120.0 62.3h0.85M110.3 65.3h0.85M115.0 63.6h0.85M98.6 67.6h0.85M124.5 67.6h0.85M135.1 74.1h0.85M114.4 61.4h0.85M123.0 63.9h0.85M101.9 68.0h0.85M115.0 65.1h0.85M124.1 68.6h0.85M138.2 60.9h0.85M117.0 69.5h0.85M113.6 62.8h0.85M135.4 55.0h0.85M121.5 52.6h0.85M117.7 65.7h0.85M114.3 58.3h0.85M108.7 78.3h0.85M99.3 76.3h0.85M101.7 74.0h0.85M91.4 63.8h0.85M95.9 76.2h0.85M107.5 74.3h0.85M104.7 74.5h0.85M93.9 64.6h0.85M101.6 77.5h0.85M98.7 76.0h0.85M97.2 66.2h0.85M94.3 68.7h0.85M101.6 60.8h0.85M107.8 58.2h0.85M104.2 67.0h0.85M107.9 65.4h0.85M91.8 75.9h0.85M98.0 79.2h0.85M103.1 69.4h0.85M103.0 75.6h0.85M97.1 63.0h0.85M102.9 72.7h0.85M92.1 62.2h0.85M98.9 60.3h0.85M100.6 68.2h0.85M96.5 77.4h0.85M104.4 59.7h0.85M101.9 83.7h0.85M102.0 83.5h0.85M95.4 63.7h0.85M97.1 64.1h0.85M94.1 64.6h0.85M100.2 79.0h0.85M105.0 59.0h0.85M104.9 74.5h0.85M96.0 58.2h0.85M106.5 61.5h0.85M95.8 65.9h0.85M105.4 82.5h0.85M107.5 80.0h0.85M106.3 70.2h0.85M92.3 64.1h0.85M93.8 61.0h0.85M93.7 66.3h0.85M92.2 65.6h0.85M106.4 64.3h0.85M100.3 80.0h0.85M91.6 76.8h0.85M100.9 58.8h0.85M107.1 78.6h0.85M93.1 82.9h0.85M101.5 74.4h0.85M95.1 58.8h0.85M103.8 76.5h0.85M94.5 58.9h0.85M101.5 66.0h0.85M97.4 80.5h0.85M101.3 61.1h0.85M103.7 76.7h0.85M101.4 82.7h0.85M99.7 74.8h0.85M92.3 65.8h0.85M96.6 69.1h0.85M100.3 61.0h0.85M103.5 59.4h0.85M95.8 73.2h0.85M91.7 66.5h0.85M105.6 76.9h0.85M97.9 62.3h0.85M104.6 80.5h0.85M92.7 68.8h0.85M101.0 76.0h0.85M94.9 79.3h0.85M102.1 78.7h0.85M108.1 75.7h0.85M103.2 65.7h0.85M96.1 67.7h0.85M105.6 73.4h0.85M96.2 81.4h0.85M100.4 83.4h0.85M102.9 77.0h0.85M97.4 83.7h0.85M99.8 75.4h0.85M98.4 71.5h0.85M94.4 67.5h0.85M98.6 77.2h0.85M94.1 63.1h0.85M102.7 70.3h0.85M106.9 58.5h0.85M99.1 79.5h0.85M104.7 67.1h0.85M100.4 68.3h0.85M91.4 60.1h0.85M95.3 80.6h0.85M94.7 65.4h0.85M101.2 76.1h0.85M102.8 66.0h0.85M97.3 58.3h0.85M105.4 67.8h0.85M96.5 63.4h0.85M100.0 61.9h0.85M97.1 60.7h0.85M94.7 71.7h0.85M97.1 60.8h0.85M106.7 59.5h0.85M98.6 65.6h0.85M92.3 65.7h0.85M99.1 75.8h0.85M95.9 67.8h0.85M107.2 74.4h0.85M99.2 63.5h0.85M105.2 82.1h0.85M95.5 80.0h0.85M97.9 70.4h0.85M91.8 64.3h0.85M95.6 63.3h0.85M105.9 82.6h0.85M96.9 78.8h0.85M96.6 73.0h0.85M94.7 81.5h0.85" stroke="#000" stroke-width="0.85" fill="none" opacity="0.9"/>
<rect x="90.3" y="38.6" width="52.6" height="46.3" fill="none" stroke="#222" stroke-width="0.8"/>
<line x1="103.4" y1="38.6" x2="103.4" y2="84.9" stroke="#222" stroke-width="0.7" />
<line x1="90.3" y1="71.9" x2="142.9" y2="71.9" stroke="#222" stroke-width="0.7" />
<line x1="88.6" y1="88" x2="88.6" y2="35" stroke="#000" stroke-width="1" />
<path d="M88.6 32 L90.6 37.2 L86.6 37.2 Z" fill="#000" stroke="none" stroke-width="1" stroke-linejoin="round" />
<line x1="88.6" y1="88.1" x2="144.5" y2="88.1" stroke="#000" stroke-width="1" />
<path d="M148 88.1 L142.6 90.2 L142.6 86.0 Z" fill="#000" stroke="none" stroke-width="1" stroke-linejoin="round" />
<text x="86.4" y="53.4" font-size="9.4" font-family='"Liberation Serif", serif' font-weight="bold" text-anchor="middle" fill="#000" transform="rotate(-90 86.4 53.4)" textLength="35" lengthAdjust="spacingAndGlyphs" stroke="#000" stroke-width="0.25" >CD45RO</text>
<text x="113.4" y="97.5" font-size="9.2" font-family='"Liberation Serif", serif' font-weight="bold" text-anchor="middle" fill="#000" textLength="22.3" lengthAdjust="spacingAndGlyphs" stroke="#000" stroke-width="0.25" >CD25</text>
<path d="M14.2 151.5 L14.7 148.5 L16.5 144 L18.5 139.5 L20.5 137 L22.5 135.8 L24.2 134.5 L25.6 133.5 L27 135.5 L28.5 137.3 L29.8 134.5 L31.1 132.1 L32.5 131.5 L34 129.5 L35.4 126.8 L36.9 124.8 L38 126.5 L39.3 131 L40.7 137.3 L41.5 142 L42.4 146 L44 147.8 L46.7 148.8 L52 150.2 L60 150.8 L74 151.2 L74 151.8 L14.2 151.8 Z" fill="#000" stroke="none" stroke-width="1" stroke-linejoin="round" />
<path d="M14.7 149 L16 144 L17.5 133 L19 120 L20.8 110 L22.3 106 L23.6 110 L24.6 118 L25.6 125.2 L27 131 L28.5 135.6 L30.2 140.5 L32 144.2 L35.5 147.7 L40 149 L45 149.6" fill="none" stroke="#c6c6c6" stroke-width="1.3" stroke-linejoin="round" />
<rect x="13.5" y="105" width="61.0" height="46.2" fill="none" stroke="#111" stroke-width="1"/>
<line x1="33.2" y1="110.4" x2="33.2" y2="118.2" stroke="#000" stroke-width="0.9" />
<line x1="33.2" y1="113.8" x2="74.5" y2="113.8" stroke="#222" stroke-width="0.8" />
<text x="55.8" y="113.2" font-size="7.4" font-family='"Liberation Serif", serif' font-weight="normal" text-anchor="middle" fill="#111" textLength="11.4" lengthAdjust="spacingAndGlyphs" stroke="#111" stroke-width="0.15">38%</text>
<line x1="13.5" y1="152.4" x2="75.5" y2="152.4" stroke="#000" stroke-width="1.2" />
<path d="M80 152.4 L74.6 154.5 L74.6 150.3 Z" fill="#000" stroke="none" stroke-width="1" stroke-linejoin="round" />
<text x="41.5" y="161.4" font-size="9.0" font-family='"Liberation Serif", serif' font-weight="bold" text-anchor="middle" fill="#000" textLength="20.8" lengthAdjust="spacingAndGlyphs" stroke="#000" stroke-width="0.25" >BLT1</text>
<path d="M98.2 147.5h0.85M110.5 134.0h0.85M98.4 146.8h0.85M106.7 141.5h0.85M111.3 116.8h0.85M106.8 147.3h0.85M111.7 134.1h0.85M110.3 145.9h0.85M115.3 122.7h0.85M107.5 116.4h0.85M100.4 138.9h0.85M102.7 129.6h0.85M105.1 125.7h0.85M101.1 132.4h0.85M103.4 133.7h0.85M116.0 136.7h0.85M106.7 141.7h0.85M111.6 139.9h0.85M106.9 145.9h0.85M106.0 143.1h0.85M110.1 139.1h0.85M113.0 146.0h0.85M120.5 142.5h0.85M107.2 141.9h0.85M104.6 141.9h0.85M102.2 145.7h0.85M118.1 136.2h0.85M119.3 122.6h0.85M115.1 146.3h0.85M120.6 138.3h0.85M107.3 136.3h0.85M99.3 136.9h0.85M103.5 137.1h0.85M111.7 144.9h0.85M109.8 138.2h0.85M105.7 135.7h0.85M106.5 138.3h0.85M117.4 142.3h0.85M107.8 139.8h0.85M99.6 146.0h0.85M116.8 140.2h0.85M100.7 144.2h0.85M104.8 144.7h0.85M105.0 132.2h0.85M117.3 144.5h0.85M112.8 120.0h0.85M109.5 139.9h0.85M106.7 146.1h0.85M108.4 139.5h0.85M113.4 133.2h0.85M109.6 132.4h0.85M108.1 145.1h0.85M107.0 147.4h0.85M113.0 139.4h0.85M103.9 146.8h0.85M111.0 132.6h0.85M110.0 142.2h0.85M111.2 120.5h0.85M110.9 145.0h0.85M101.2 143.7h0.85M113.5 147.0h0.85M107.1 146.5h0.85M113.9 146.3h0.85M97.6 132.3h0.85M110.5 143.5h0.85M101.7 147.0h0.85M103.9 134.0h0.85M115.3 145.5h0.85M114.9 146.0h0.85M112.7 138.9h0.85M113.2 145.5h0.85M109.0 136.8h0.85M103.4 132.4h0.85M107.6 144.7h0.85M116.4 135.5h0.85M117.3 138.3h0.85M113.0 133.2h0.85M117.9 143.3h0.85M110.5 125.2h0.85M112.6 137.9h0.85M105.3 118.4h0.85M116.4 140.6h0.85M102.8 141.3h0.85M106.3 142.1h0.85M105.0 147.2h0.85M117.2 141.9h0.85M103.5 144.9h0.85M113.8 145.8h0.85M99.7 145.9h0.85M117.4 124.8h0.85M108.8 121.5h0.85M103.0 124.0h0.85M122.9 142.6h0.85M109.9 142.0h0.85M110.8 145.9h0.85M107.3 144.6h0.85M101.2 146.4h0.85M107.7 144.6h0.85M104.6 117.7h0.85M105.8 136.1h0.85M107.6 137.5h0.85M122.1 134.5h0.85M109.4 134.4h0.85M113.7 137.7h0.85M104.7 110.1h0.85M113.1 129.3h0.85M99.9 138.8h0.85M113.2 141.9h0.85M126.2 144.1h0.85M112.0 136.4h0.85M99.5 141.1h0.85M103.2 143.5h0.85M113.9 140.6h0.85M109.9 128.6h0.85M116.8 147.3h0.85M97.2 141.4h0.85M108.3 144.7h0.85M112.4 132.2h0.85M108.0 125.3h0.85M112.6 126.3h0.85M112.2 146.1h0.85M97.6 144.6h0.85M105.8 145.3h0.85M110.2 145.4h0.85M112.1 143.1h0.85M105.3 132.2h0.85M108.6 137.1h0.85M108.5 132.7h0.85M106.4 132.7h0.85M107.3 142.1h0.85M106.1 139.1h0.85M115.2 145.4h0.85M107.1 128.0h0.85M113.8 142.6h0.85M107.3 137.0h0.85M114.2 148.3h0.85M108.6 148.3h0.85M98.0 145.5h0.85M106.3 135.6h0.85M102.1 142.8h0.85M111.4 134.6h0.85M107.1 146.0h0.85M112.2 142.5h0.85M102.9 147.3h0.85M104.5 137.4h0.85M101.4 143.2h0.85M104.9 148.3h0.85M115.7 147.5h0.85M101.0 130.7h0.85M104.4 127.5h0.85M104.7 145.7h0.85M102.6 144.4h0.85M114.7 119.5h0.85M115.7 144.5h0.85M111.9 132.2h0.85M106.7 142.1h0.85M103.8 144.7h0.85M108.3 131.2h0.85M110.4 127.4h0.85M116.3 146.5h0.85M115.9 146.7h0.85M116.2 147.5h0.85M98.1 133.4h0.85M111.8 138.7h0.85M110.4 148.2h0.85M107.5 145.3h0.85M109.4 135.2h0.85M112.8 144.6h0.85M119.5 148.3h0.85M106.7 141.9h0.85M121.3 143.7h0.85M120.7 144.3h0.85M115.6 139.0h0.85M103.9 139.9h0.85M106.8 143.7h0.85M112.7 130.6h0.85M116.9 148.0h0.85M117.2 147.1h0.85M117.4 130.6h0.85M104.2 135.0h0.85M106.8 120.6h0.85M114.3 148.1h0.85M109.9 127.9h0.85M97.8 136.7h0.85M106.2 142.7h0.85M105.0 147.1h0.85M113.2 137.6h0.85M103.4 144.9h0.85M111.8 135.6h0.85M100.0 144.8h0.85M106.1 142.4h0.85M110.7 148.3h0.85M111.2 130.4h0.85M111.8 139.9h0.85M102.0 124.9h0.85M98.0 141.6h0.85M109.8 146.7h0.85M109.7 130.6h0.85M112.8 133.6h0.85M126.8 148.5h0.85M110.4 145.0h0.85M104.6 144.5h0.85M101.3 140.3h0.85M110.5 145.8h0.85M97.9 146.0h0.85M101.1 141.9h0.85M100.4 136.9h0.85M106.0 135.8h0.85M115.0 131.1h0.85M112.9 146.7h0.85M111.6 133.7h0.85M105.6 144.6h0.85M98.4 147.6h0.85M106.9 143.9h0.85M107.2 138.4h0.85M105.1 144.3h0.85M113.6 136.0h0.85M111.4 135.2h0.85M113.8 141.7h0.85M111.0 146.0h0.85M108.0 148.6h0.85M106.3 146.2h0.85M110.0 110.2h0.85M114.9 146.7h0.85M113.6 147.3h0.85M99.9 121.6h0.85M114.4 143.8h0.85M101.7 131.4h0.85M107.7 147.9h0.85M100.0 137.8h0.85M115.8 146.4h0.85M101.9 142.8h0.85M106.8 146.9h0.85M123.7 143.0h0.85M108.8 148.3h0.85M106.4 141.9h0.85M109.8 123.2h0.85M108.7 140.2h0.85M102.0 140.4h0.85M113.3 125.2h0.85M108.0 137.9h0.85M108.9 138.2h0.85M99.5 140.1h0.85M111.0 119.0h0.85M112.3 144.9h0.85M111.9 137.1h0.85M98.8 137.7h0.85M105.6 117.2h0.85M102.0 137.4h0.85M109.9 144.5h0.85M106.4 133.9h0.85M110.0 141.3h0.85M108.6 143.1h0.85M103.1 137.9h0.85M106.0 133.3h0.85M114.6 136.0h0.85M101.3 139.9h0.85M106.5 140.9h0.85M108.2 138.8h0.85M112.1 132.0h0.85M108.2 135.1h0.85M122.9 141.2h0.85M111.0 119.7h0.85M133.1 145.7h0.85M100.1 126.3h0.85M119.1 146.5h0.85M120.2 143.3h0.85M104.1 145.5h0.85M109.4 118.2h0.85M111.5 142.3h0.85M102.3 135.6h0.85M106.3 140.2h0.85M110.4 144.2h0.85M102.9 139.7h0.85M107.7 126.2h0.85M121.4 147.6h0.85M108.1 148.2h0.85M109.8 128.4h0.85M114.3 139.1h0.85M110.4 145.2h0.85M107.2 124.6h0.85M109.4 139.9h0.85M100.8 143.9h0.85M107.5 135.5h0.85M102.7 130.7h0.85M105.7 137.2h0.85M106.7 138.7h0.85M103.2 148.6h0.85M103.7 138.1h0.85M113.4 143.6h0.85M104.1 139.8h0.85M111.6 140.5h0.85M110.1 144.6h0.85M117.4 139.5h0.85M106.9 120.3h0.85M104.3 144.2h0.85M114.3 142.9h0.85M108.4 143.2h0.85M105.2 146.6h0.85M110.1 133.0h0.85M97.6 132.8h0.85M105.7 140.2h0.85M112.4 145.8h0.85M108.4 148.5h0.85M114.9 140.4h0.85M104.9 148.1h0.85M115.0 136.4h0.85M120.2 147.3h0.85M108.7 136.8h0.85M100.7 144.4h0.85M107.1 141.2h0.85M123.0 147.0h0.85M128.2 147.4h0.85M99.8 138.5h0.85M109.0 142.5h0.85M114.7 148.5h0.85M110.7 134.1h0.85M108.9 133.9h0.85M103.3 146.6h0.85M107.3 141.9h0.85M117.9 142.7h0.85M103.5 145.9h0.85M105.4 141.7h0.85M103.9 146.9h0.85M100.8 141.4h0.85M100.1 138.8h0.85M103.1 142.8h0.85M110.4 132.0h0.85M121.5 143.9h0.85M101.8 147.9h0.85M106.0 146.5h0.85M111.2 147.5h0.85M110.6 135.1h0.85M111.0 144.6h0.85M115.1 146.9h0.85M106.1 135.6h0.85M109.2 144.2h0.85M108.6 133.2h0.85M97.1 145.8h0.85M108.6 135.5h0.85M119.4 143.2h0.85M99.1 145.8h0.85M107.9 117.5h0.85M105.8 138.0h0.85M122.5 144.8h0.85M109.1 145.0h0.85M111.6 140.7h0.85M116.5 146.8h0.85M114.8 135.6h0.85M105.8 138.0h0.85M107.0 131.0h0.85M104.3 147.3h0.85M115.4 139.2h0.85M113.5 139.1h0.85M111.0 132.9h0.85M101.8 148.5h0.85M103.4 148.5h0.85M105.7 143.7h0.85M105.6 147.2h0.85M104.8 147.2h0.85M108.6 146.4h0.85M110.2 138.7h0.85M114.3 146.0h0.85M114.8 136.8h0.85M108.6 124.9h0.85M102.2 147.4h0.85M103.6 144.0h0.85M107.7 143.2h0.85M108.4 139.5h0.85M112.2 138.4h0.85M98.6 144.9h0.85M97.4 144.8h0.85M101.7 140.5h0.85M110.5 143.2h0.85M107.8 146.6h0.85M120.9 142.2h0.85M113.4 142.9h0.85M106.6 135.4h0.85M116.0 145.8h0.85M106.9 146.4h0.85M121.9 141.2h0.85M107.1 133.5h0.85M102.6 122.5h0.85M112.1 130.5h0.85M118.0 144.8h0.85M106.5 142.1h0.85M104.2 136.6h0.85M107.9 142.4h0.85M112.7 138.3h0.85M121.1 147.8h0.85M102.8 143.9h0.85M107.9 137.3h0.85M98.5 140.5h0.85M97.4 143.2h0.85M106.3 126.8h0.85M114.8 147.2h0.85M118.4 139.3h0.85M116.6 131.7h0.85M105.7 142.5h0.85M106.5 140.8h0.85M102.8 139.1h0.85M102.0 138.5h0.85M101.2 132.3h0.85M118.1 146.4h0.85M100.2 143.4h0.85M99.9 133.3h0.85M97.1 145.1h0.85M112.8 132.8h0.85M114.2 141.1h0.85M103.0 125.5h0.85M107.2 141.1h0.85M113.6 137.6h0.85M117.7 146.1h0.85M107.8 142.0h0.85M112.5 143.4h0.85M112.6 136.5h0.85M106.0 132.1h0.85M120.3 145.4h0.85M105.0 138.6h0.85M115.6 143.4h0.85M108.4 143.0h0.85M103.6 129.6h0.85M103.4 131.6h0.85M107.4 145.7h0.85M109.3 145.7h0.85M108.3 137.6h0.85M104.7 148.6h0.85M104.3 145.6h0.85M104.5 138.8h0.85M118.1 139.6h0.85M112.9 147.2h0.85M113.9 141.8h0.85M114.0 145.6h0.85M99.0 147.3h0.85M97.2 140.5h0.85M101.1 148.2h0.85M117.5 133.5h0.85M118.0 147.6h0.85M108.2 133.2h0.85M98.3 140.8h0.85M112.6 137.8h0.85M112.6 126.8h0.85M109.7 136.2h0.85M110.1 133.3h0.85M104.9 140.9h0.85M109.5 130.3h0.85M113.8 148.4h0.85M97.5 140.5h0.85M107.3 126.5h0.85M110.6 142.6h0.85M107.2 137.9h0.85M107.0 136.6h0.85M109.9 130.9h0.85M99.6 138.9h0.85M109.8 140.9h0.85M113.9 138.9h0.85M98.3 135.6h0.85M109.9 134.8h0.85M107.7 146.3h0.85M100.8 140.4h0.85M99.7 145.0h0.85M109.9 143.3h0.85M106.9 138.2h0.85M115.1 143.1h0.85M113.6 139.9h0.85M111.9 137.4h0.85M124.1 138.1h0.85M110.0 135.4h0.85M99.2 140.1h0.85M117.9 137.6h0.85M105.9 144.8h0.85M98.7 143.3h0.85M100.3 136.1h0.85M102.9 128.7h0.85M120.4 144.0h0.85M115.1 144.7h0.85M100.9 146.5h0.85M111.9 134.1h0.85M111.3 143.6h0.85M103.0 133.6h0.85M116.4 142.5h0.85M107.4 133.9h0.85M112.3 125.9h0.85M125.3 148.5h0.85M118.4 146.4h0.85M119.2 143.5h0.85M104.3 145.8h0.85M111.1 140.9h0.85M113.9 142.5h0.85M100.5 144.6h0.85M108.5 136.5h0.85M102.7 147.9h0.85M106.1 143.3h0.85M107.6 138.1h0.85M106.5 141.9h0.85M119.3 133.5h0.85M106.0 144.4h0.85M116.2 137.2h0.85M104.0 147.2h0.85M111.2 148.2h0.85M98.9 146.0h0.85M109.4 144.4h0.85M111.0 146.2h0.85M108.4 144.8h0.85M104.1 144.4h0.85M109.0 137.4h0.85M108.1 137.7h0.85M109.1 137.0h0.85M100.0 141.7h0.85M107.2 138.2h0.85M117.5 146.8h0.85M106.0 140.4h0.85M98.4 140.5h0.85M116.9 145.7h0.85M103.4 125.8h0.85M108.2 144.4h0.85M109.3 148.4h0.85M109.1 134.2h0.85M124.2 144.3h0.85M107.9 143.2h0.85M105.8 143.5h0.85M104.5 145.6h0.85M107.2 144.6h0.85M104.9 147.2h0.85M108.5 126.2h0.85M105.4 132.5h0.85M115.0 138.0h0.85M115.2 128.1h0.85M108.1 140.3h0.85M124.5 148.3h0.85M100.6 127.4h0.85M112.5 144.4h0.85M110.3 144.2h0.85M111.4 142.1h0.85M108.5 141.9h0.85M98.3 148.5h0.85M119.3 146.3h0.85M113.4 138.0h0.85M109.2 125.8h0.85M102.8 144.7h0.85M109.8 127.3h0.85M111.9 136.3h0.85M109.6 148.3h0.85M106.1 147.5h0.85M105.1 143.9h0.85M108.2 146.0h0.85M106.1 140.1h0.85M116.4 148.5h0.85M103.9 116.8h0.85M107.4 145.2h0.85M106.7 136.4h0.85M105.7 145.9h0.85M118.6 141.5h0.85M107.4 109.8h0.85M118.7 145.0h0.85M110.9 142.5h0.85M103.8 144.3h0.85M115.5 143.7h0.85M110.7 140.4h0.85M98.2 140.1h0.85M104.8 140.3h0.85M117.0 142.5h0.85M103.8 144.3h0.85M105.2 138.6h0.85M115.0 139.3h0.85M110.9 141.5h0.85M106.7 139.9h0.85M117.8 133.2h0.85M101.6 131.4h0.85M101.5 138.5h0.85M117.1 141.6h0.85M97.6 133.2h0.85M104.7 147.0h0.85M119.8 148.1h0.85M113.6 147.2h0.85M111.0 133.4h0.85M111.4 147.9h0.85M113.6 144.5h0.85M103.4 145.8h0.85M103.2 130.1h0.85M112.6 136.1h0.85M108.4 125.5h0.85M107.1 137.4h0.85M108.2 136.4h0.85M118.0 147.9h0.85M114.0 141.1h0.85M109.4 142.7h0.85M113.0 142.1h0.85M119.7 145.8h0.85M100.7 142.3h0.85M100.0 134.0h0.85M111.4 134.6h0.85M107.4 140.3h0.85M110.6 127.2h0.85M115.2 144.4h0.85M110.1 141.6h0.85M105.5 137.1h0.85M114.7 140.4h0.85M97.6 147.9h0.85M111.1 138.1h0.85M105.5 146.9h0.85M104.7 133.3h0.85M103.4 142.9h0.85M116.6 143.6h0.85M108.4 147.6h0.85M119.7 146.2h0.85M114.0 145.0h0.85M109.8 124.1h0.85M106.7 146.1h0.85M106.9 136.2h0.85M99.1 144.0h0.85M110.1 140.4h0.85M115.4 147.3h0.85M112.0 142.8h0.85M122.1 147.5h0.85M109.2 133.5h0.85M106.1 146.8h0.85M108.7 130.4h0.85M106.5 132.2h0.85M102.5 137.9h0.85M104.1 137.2h0.85M107.0 127.1h0.85M108.1 134.8h0.85M110.8 142.5h0.85M105.3 133.0h0.85M113.9 145.3h0.85M113.5 137.8h0.85M112.2 127.9h0.85M114.4 144.9h0.85M107.7 124.0h0.85M114.9 139.7h0.85M105.7 141.3h0.85M107.0 144.4h0.85M104.8 141.3h0.85M111.9 133.6h0.85M106.0 145.8h0.85M115.8 135.4h0.85M98.2 139.0h0.85M107.6 147.9h0.85M102.5 135.6h0.85M108.1 141.7h0.85M114.6 148.6h0.85M103.7 137.6h0.85M113.3 148.0h0.85M118.5 146.5h0.85M103.1 127.6h0.85M111.5 143.8h0.85M102.1 147.1h0.85M110.8 143.7h0.85M115.5 145.9h0.85M109.2 146.3h0.85M117.5 141.5h0.85M103.9 139.7h0.85M108.8 144.9h0.85M112.0 146.4h0.85M101.2 147.3h0.85M120.9 144.0h0.85M110.5 132.6h0.85M99.8 142.4h0.85M98.4 148.6h0.85M102.2 129.8h0.85M102.6 147.6h0.85M101.4 148.5h0.85M97.1 145.3h0.85M114.4 129.0h0.85M101.5 142.5h0.85M110.2 141.6h0.85M106.7 148.4h0.85M104.4 146.0h0.85M110.2 137.3h0.85M116.1 141.0h0.85M106.0 130.6h0.85M107.5 148.5h0.85M97.3 144.0h0.85M114.8 124.1h0.85M116.8 147.5h0.85M102.1 140.2h0.85M111.4 136.9h0.85M114.7 138.8h0.85M104.6 147.6h0.85M104.6 142.9h0.85M109.6 129.8h0.85M114.4 138.4h0.85M118.1 138.0h0.85M103.0 140.7h0.85M100.4 146.6h0.85M122.3 147.0h0.85M133.2 142.6h0.85M122.1 141.0h0.85M104.3 141.2h0.85M102.0 141.9h0.85M113.1 119.3h0.85M109.3 143.7h0.85M97.2 139.4h0.85M110.8 135.8h0.85M104.7 144.7h0.85M111.7 129.4h0.85M110.2 130.3h0.85M113.5 142.2h0.85M109.4 127.7h0.85M102.7 140.5h0.85M114.5 148.4h0.85M106.7 140.6h0.85M105.8 143.2h0.85M102.9 132.7h0.85M101.9 139.0h0.85M105.4 140.3h0.85M98.7 136.3h0.85M107.8 140.2h0.85M116.9 125.7h0.85M101.2 132.5h0.85M104.4 132.5h0.85M108.0 148.0h0.85M112.5 141.0h0.85M114.4 130.5h0.85M115.5 136.4h0.85M105.9 125.1h0.85M123.5 145.1h0.85M112.7 141.7h0.85M110.9 146.0h0.85M114.0 129.1h0.85M106.7 144.4h0.85M117.0 134.5h0.85M110.8 136.4h0.85M106.9 145.7h0.85M113.6 145.2h0.85M110.7 135.0h0.85M99.5 147.1h0.85M107.1 140.5h0.85M109.8 137.8h0.85M107.2 127.7h0.85M110.1 135.9h0.85M102.9 136.9h0.85M110.6 142.4h0.85M105.5 134.8h0.85M118.9 144.8h0.85M114.7 143.7h0.85M102.6 146.5h0.85M109.7 138.0h0.85M110.4 131.6h0.85M97.0 143.3h0.85M108.1 114.2h0.85M97.9 146.6h0.85M99.7 146.6h0.85M104.6 139.6h0.85M103.6 136.1h0.85M99.2 144.6h0.85M97.3 128.0h0.85M103.9 133.4h0.85M100.9 142.9h0.85M102.7 146.4h0.85M110.9 148.0h0.85M110.9 135.5h0.85M104.4 139.9h0.85M114.3 145.5h0.85M101.2 143.3h0.85M103.0 135.8h0.85M104.6 147.4h0.85M118.6 146.9h0.85M116.9 148.5h0.85M105.8 127.9h0.85M106.9 144.9h0.85M111.6 139.6h0.85M101.0 135.5h0.85M117.1 130.4h0.85M105.9 147.2h0.85M104.5 138.6h0.85M104.4 143.8h0.85M103.6 143.2h0.85M100.2 126.7h0.85M102.1 138.8h0.85M99.8 136.1h0.85M104.3 141.0h0.85M104.4 139.8h0.85M97.6 148.4h0.85M105.0 141.5h0.85M109.6 145.1h0.85M110.5 140.5h0.85M110.1 129.6h0.85M114.6 133.1h0.85M117.0 137.0h0.85M100.1 133.6h0.85M106.9 118.6h0.85M112.7 139.8h0.85M103.4 127.7h0.85M108.8 132.8h0.85M102.0 146.4h0.85M106.0 146.5h0.85M104.8 117.8h0.85M100.0 145.6h0.85M101.8 143.1h0.85M112.6 145.1h0.85M107.9 137.5h0.85M116.2 139.0h0.85M117.7 138.1h0.85M123.1 147.5h0.85M111.5 135.5h0.85M117.9 140.0h0.85M105.3 139.9h0.85M111.1 145.4h0.85M117.1 141.5h0.85M102.6 122.0h0.85M102.8 141.2h0.85M116.4 136.5h0.85M109.0 148.4h0.85M115.3 145.8h0.85M109.5 140.3h0.85M105.9 129.2h0.85M121.9 142.5h0.85M120.9 145.0h0.85M98.5 143.7h0.85M110.3 126.9h0.85M108.3 138.8h0.85M114.9 144.2h0.85M111.4 141.9h0.85M104.4 142.5h0.85M112.0 147.2h0.85M113.1 137.6h0.85M104.5 148.0h0.85M117.1 142.7h0.85M102.1 147.6h0.85M100.2 143.1h0.85M114.6 143.8h0.85M109.7 144.8h0.85M107.0 142.2h0.85M107.5 143.2h0.85M119.5 139.0h0.85M110.3 134.5h0.85M114.9 140.8h0.85M117.5 140.9h0.85M129.9 148.5h0.85M117.3 145.1h0.85M119.6 147.1h0.85M107.5 147.8h0.85M106.7 147.8h0.85M118.3 144.3h0.85M108.6 137.2h0.85M111.3 140.5h0.85M109.3 132.4h0.85M105.6 120.7h0.85M113.3 147.8h0.85M102.3 139.9h0.85M114.3 143.5h0.85M105.5 126.2h0.85M108.7 130.2h0.85M104.5 137.1h0.85M116.8 145.6h0.85M112.3 143.2h0.85M112.1 145.3h0.85M112.2 146.8h0.85M109.8 148.0h0.85M116.4 132.5h0.85M107.1 136.8h0.85M102.3 135.0h0.85M105.2 135.2h0.85M104.6 140.4h0.85M115.2 138.0h0.85M107.6 147.7h0.85M98.8 141.1h0.85M112.9 147.5h0.85M104.7 144.3h0.85M115.9 141.3h0.85M115.6 138.7h0.85M101.8 133.9h0.85M106.9 133.4h0.85M99.1 137.2h0.85M108.3 126.9h0.85M98.0 145.4h0.85M115.5 142.0h0.85M116.7 141.9h0.85M109.9 136.6h0.85M98.5 143.6h0.85M114.2 135.3h0.85M106.5 145.1h0.85M105.7 140.4h0.85M105.0 131.1h0.85M109.7 145.2h0.85M101.3 147.5h0.85M104.9 140.5h0.85M112.1 137.4h0.85M104.5 146.7h0.85M98.2 144.4h0.85M112.8 141.4h0.85M107.0 132.2h0.85M126.5 144.1h0.85M120.0 146.3h0.85M114.4 142.1h0.85M100.7 138.3h0.85M106.1 139.5h0.85M117.1 142.4h0.85M99.8 148.5h0.85M111.4 129.6h0.85M106.7 137.6h0.85M105.9 146.3h0.85M104.8 145.6h0.85M104.6 138.9h0.85M105.6 140.6h0.85M108.0 139.2h0.85M114.1 141.0h0.85M101.8 145.8h0.85M117.6 145.5h0.85M113.4 134.1h0.85M132.1 148.5h0.85M107.7 139.6h0.85M109.9 126.7h0.85M103.7 144.7h0.85M102.4 136.4h0.85M109.5 145.1h0.85M103.0 133.8h0.85M120.0 140.7h0.85M112.8 142.4h0.85M105.6 128.0h0.85M113.8 146.1h0.85M118.3 139.1h0.85M107.6 139.2h0.85M103.2 136.6h0.85M101.0 144.1h0.85M99.3 143.7h0.85M105.0 137.7h0.85M113.4 135.4h0.85M110.3 140.5h0.85M101.8 142.8h0.85M109.1 144.4h0.85M119.9 146.2h0.85M112.0 141.5h0.85M103.1 148.1h0.85M100.7 142.9h0.85M109.9 129.8h0.85M101.4 132.5h0.85M101.1 138.9h0.85M114.2 146.6h0.85M106.0 146.9h0.85M119.2 141.1h0.85M115.3 140.6h0.85M108.7 132.9h0.85M103.5 142.7h0.85M102.2 146.2h0.85M115.7 145.1h0.85M116.5 138.2h0.85M114.3 133.9h0.85M110.6 120.9h0.85M111.5 127.3h0.85M107.8 135.9h0.85M98.4 136.3h0.85M114.5 144.2h0.85M119.6 143.2h0.85M105.8 137.6h0.85M107.0 138.0h0.85M104.8 135.7h0.85M108.7 141.4h0.85M109.8 140.9h0.85M112.3 136.1h0.85M115.1 145.2h0.85M112.2 126.6h0.85M99.9 144.8h0.85M106.6 148.1h0.85M117.9 133.0h0.85M117.5 148.1h0.85M111.2 125.7h0.85M123.5 146.1h0.85M111.1 144.1h0.85M129.4 148.3h0.85M98.6 134.2h0.85M107.5 134.8h0.85M114.5 141.3h0.85M119.5 148.0h0.85M101.8 146.2h0.85M109.9 135.6h0.85M106.0 134.1h0.85M101.2 143.9h0.85M101.6 142.3h0.85M99.5 148.5h0.85M116.7 133.2h0.85M97.3 141.8h0.85M106.6 141.3h0.85M106.4 142.1h0.85M109.6 120.4h0.85M104.7 141.7h0.85M116.7 137.7h0.85M104.3 145.5h0.85M120.4 148.2h0.85M128.6 146.7h0.85M111.6 121.7h0.85M112.1 146.2h0.85M102.8 136.8h0.85M105.3 143.1h0.85M106.3 126.6h0.85M116.2 146.5h0.85M121.8 144.2h0.85M111.9 144.1h0.85M99.8 139.0h0.85M113.3 129.4h0.85M116.1 139.2h0.85M114.3 147.2h0.85M116.4 145.2h0.85M115.6 138.7h0.85M97.9 125.7h0.85M110.2 145.1h0.85M99.3 148.6h0.85M109.0 146.1h0.85M110.3 140.1h0.85M105.2 140.6h0.85M98.4 138.9h0.85M104.7 146.5h0.85M107.0 146.4h0.85M102.8 146.3h0.85M105.9 137.5h0.85M110.0 144.7h0.85M111.3 145.2h0.85M100.9 143.7h0.85M118.8 143.7h0.85M107.5 141.7h0.85M110.0 127.4h0.85M112.4 146.6h0.85M111.4 133.5h0.85M101.2 140.2h0.85M115.0 142.3h0.85M100.1 144.0h0.85M120.3 147.0h0.85M120.6 140.7h0.85M117.6 148.1h0.85M107.6 128.9h0.85M99.4 137.5h0.85M117.3 126.5h0.85M112.0 142.9h0.85M104.0 143.5h0.85M101.6 147.2h0.85M119.8 143.0h0.85M113.3 142.5h0.85M118.6 139.1h0.85M98.5 144.7h0.85M115.6 145.4h0.85M99.2 139.2h0.85M109.9 112.3h0.85M103.8 135.8h0.85M101.3 146.8h0.85M110.0 147.3h0.85M125.7 143.5h0.85M105.0 144.2h0.85M110.3 138.3h0.85M114.6 146.6h0.85M106.7 137.3h0.85M113.0 136.4h0.85M114.3 148.6h0.85M119.3 143.7h0.85M106.1 125.1h0.85M98.6 136.9h0.85M117.6 141.1h0.85M104.6 133.5h0.85M101.8 140.4h0.85M100.4 143.7h0.85M103.1 135.6h0.85M104.5 143.7h0.85M107.8 147.2h0.85M109.7 145.8h0.85M114.0 133.3h0.85M102.3 144.8h0.85M103.7 139.5h0.85M113.2 146.0h0.85M118.0 141.5h0.85M112.3 129.0h0.85M99.1 140.2h0.85M109.4 138.8h0.85M121.5 144.8h0.85M116.8 144.9h0.85M106.3 136.7h0.85M107.5 117.8h0.85M112.4 138.9h0.85M122.7 143.2h0.85M114.5 129.2h0.85M107.0 128.1h0.85M114.5 141.6h0.85M115.9 147.9h0.85M110.6 136.7h0.85M102.7 133.3h0.85M120.7 139.3h0.85M105.7 137.8h0.85M103.0 144.2h0.85M115.3 134.3h0.85M102.5 134.4h0.85M106.4 138.6h0.85M108.2 142.9h0.85M112.1 148.3h0.85M111.2 128.8h0.85M111.7 144.9h0.85M116.2 144.6h0.85M114.6 139.6h0.85M109.2 130.2h0.85M98.3 136.8h0.85M120.9 143.1h0.85M102.5 132.0h0.85M117.6 137.3h0.85M112.8 146.8h0.85M110.4 131.9h0.85M100.6 145.6h0.85M102.9 148.5h0.85M99.4 142.3h0.85M108.2 128.3h0.85M112.1 143.8h0.85M106.0 127.8h0.85M108.8 137.7h0.85M110.9 142.0h0.85M113.1 136.7h0.85M116.2 147.0h0.85M104.3 147.0h0.85M102.0 139.3h0.85M104.8 128.6h0.85M113.5 136.7h0.85M107.7 124.3h0.85M119.6 145.1h0.85M118.9 133.4h0.85M103.1 126.8h0.85M119.1 131.1h0.85M102.9 146.7h0.85M119.3 142.4h0.85M106.7 135.1h0.85M109.2 130.5h0.85M115.0 135.5h0.85M107.4 144.1h0.85M102.0 146.4h0.85M97.3 146.1h0.85M107.6 148.0h0.85M105.9 138.8h0.85M102.7 144.1h0.85M109.9 140.2h0.85M111.9 119.2h0.85M99.9 130.7h0.85M117.3 139.5h0.85M112.2 144.7h0.85M103.3 140.3h0.85M110.9 140.1h0.85M105.6 143.2h0.85M119.4 140.6h0.85M108.7 145.6h0.85M108.2 147.6h0.85M113.6 137.0h0.85M97.8 141.4h0.85M124.0 141.5h0.85M108.8 142.6h0.85M121.5 148.0h0.85M109.2 136.2h0.85M117.4 143.6h0.85M105.9 148.3h0.85M100.8 147.6h0.85M101.7 144.7h0.85M112.1 139.5h0.85M112.6 143.6h0.85M112.6 136.8h0.85M99.1 133.4h0.85M115.6 147.6h0.85M112.2 140.7h0.85M119.5 139.8h0.85M106.4 137.5h0.85M99.5 133.7h0.85M112.6 148.4h0.85M97.7 145.6h0.85M99.5 144.5h0.85M100.7 145.8h0.85M101.3 143.8h0.85M105.8 135.9h0.85M108.8 141.3h0.85M102.7 147.2h0.85M108.9 147.9h0.85M106.7 139.4h0.85M107.2 133.3h0.85M110.9 145.4h0.85M113.8 146.2h0.85M115.2 140.7h0.85M102.9 134.5h0.85M110.7 137.6h0.85M104.9 141.5h0.85M108.8 138.6h0.85M102.9 143.0h0.85M106.3 146.5h0.85M103.9 133.4h0.85M111.6 128.4h0.85M98.6 143.4h0.85M124.6 147.2h0.85M101.4 132.0h0.85M114.0 141.8h0.85M103.7 126.4h0.85M108.3 141.0h0.85M112.9 147.1h0.85M114.3 138.7h0.85M123.5 145.8h0.85M106.5 137.6h0.85M114.7 135.7h0.85M114.0 146.9h0.85M114.0 143.7h0.85M122.3 148.2h0.85M97.9 144.8h0.85M99.2 136.6h0.85M117.3 130.0h0.85M114.4 145.4h0.85M113.3 146.0h0.85M116.1 140.0h0.85M122.5 145.7h0.85M121.2 147.2h0.85M107.6 132.7h0.85M115.6 145.2h0.85M110.2 141.2h0.85M111.8 139.3h0.85M104.0 139.7h0.85M106.7 144.2h0.85M102.6 138.1h0.85M103.0 141.9h0.85M118.5 141.3h0.85M101.2 145.0h0.85M112.8 138.9h0.85M99.7 142.4h0.85M116.1 144.9h0.85M122.4 143.0h0.85M109.0 142.3h0.85M110.6 130.8h0.85M100.7 145.7h0.85M103.6 143.9h0.85M106.0 146.4h0.85M113.0 145.2h0.85M113.4 147.3h0.85M110.2 137.5h0.85M104.1 126.8h0.85M107.3 147.4h0.85M105.4 143.6h0.85M105.2 137.5h0.85M104.1 145.7h0.85M113.9 147.0h0.85M112.6 140.1h0.85M106.0 141.0h0.85M105.4 135.9h0.85M126.0 148.0h0.85M118.8 138.6h0.85M117.3 147.8h0.85M108.1 147.2h0.85M112.0 128.7h0.85M106.7 142.4h0.85M107.7 143.5h0.85M110.7 131.5h0.85M102.4 136.6h0.85M102.2 148.6h0.85M107.1 148.2h0.85M104.3 118.1h0.85M112.1 137.8h0.85M98.6 141.1h0.85M108.9 137.2h0.85M108.1 136.4h0.85M109.6 133.7h0.85M111.8 136.1h0.85M106.5 144.8h0.85M108.9 140.2h0.85M110.0 142.7h0.85M110.1 129.3h0.85M104.0 136.1h0.85M102.6 138.0h0.85M113.9 146.5h0.85M114.3 146.2h0.85M104.9 132.0h0.85M97.9 146.1h0.85M104.8 133.1h0.85M109.4 138.1h0.85M109.1 134.5h0.85M110.1 134.3h0.85M116.3 148.3h0.85M111.5 144.2h0.85M102.6 144.5h0.85M105.8 141.7h0.85M114.2 147.1h0.85M109.7 134.5h0.85M110.1 132.9h0.85M103.5 144.1h0.85M107.3 146.4h0.85M116.6 146.6h0.85M117.9 146.3h0.85M105.5 141.9h0.85M119.5 144.0h0.85M106.7 147.5h0.85M105.5 135.9h0.85M115.0 142.5h0.85M103.1 147.1h0.85M117.6 138.0h0.85M106.2 139.7h0.85M108.7 143.7h0.85M108.7 147.0h0.85M107.1 147.8h0.85M103.9 129.4h0.85M106.6 143.7h0.85M99.8 146.0h0.85M110.0 142.9h0.85M105.2 136.8h0.85M114.3 145.9h0.85M109.2 147.0h0.85M103.9 147.2h0.85M113.7 145.3h0.85M104.6 132.6h0.85M105.2 128.8h0.85M103.8 125.3h0.85M106.8 143.4h0.85M111.7 119.6h0.85M115.8 139.1h0.85M118.4 138.0h0.85M112.6 145.0h0.85M125.2 147.3h0.85M110.4 145.3h0.85M101.2 140.0h0.85M109.8 148.5h0.85M105.0 143.3h0.85M117.5 146.1h0.85M106.9 122.5h0.85M115.3 142.9h0.85M112.9 146.2h0.85M99.5 120.4h0.85M109.4 128.9h0.85M115.0 131.3h0.85M107.2 135.9h0.85M114.6 140.7h0.85M112.0 141.1h0.85M112.3 142.4h0.85M97.3 146.4h0.85M114.7 126.3h0.85M103.4 139.2h0.85M108.8 125.6h0.85M109.4 138.8h0.85M116.2 137.0h0.85M102.4 142.9h0.85M107.5 143.7h0.85M107.5 135.1h0.85M108.7 131.5h0.85M103.9 140.3h0.85M104.0 148.5h0.85M107.4 130.1h0.85M113.6 125.8h0.85M101.6 146.9h0.85M110.7 139.7h0.85M104.8 144.5h0.85M101.1 123.0h0.85M123.1 144.7h0.85M118.9 145.1h0.85M118.3 146.3h0.85M104.2 144.6h0.85M97.0 132.3h0.85M126.5 145.2h0.85M97.5 144.3h0.85M119.8 148.6h0.85M117.2 135.4h0.85M99.6 134.3h0.85M103.3 145.3h0.85M114.1 132.1h0.85M102.5 138.8h0.85M106.9 123.7h0.85M102.4 133.9h0.85M108.7 145.9h0.85M112.0 126.5h0.85M109.5 145.6h0.85M111.8 141.7h0.85M111.0 135.2h0.85M122.0 144.7h0.85M113.1 139.4h0.85M109.1 141.5h0.85M112.7 129.2h0.85M107.8 145.2h0.85M104.8 131.0h0.85M112.3 136.9h0.85M104.9 135.8h0.85M102.7 143.9h0.85M112.5 126.5h0.85M101.9 145.4h0.85M106.1 137.4h0.85M103.7 147.8h0.85M101.5 145.5h0.85M102.6 141.4h0.85M122.8 145.8h0.85M104.0 129.4h0.85M114.8 145.3h0.85M101.5 135.3h0.85M116.6 144.8h0.85M105.9 143.7h0.85M104.9 135.8h0.85M103.8 138.8h0.85M106.9 123.9h0.85M108.1 132.7h0.85M113.2 142.8h0.85M112.7 129.5h0.85M100.7 132.3h0.85M116.2 144.2h0.85M115.9 136.0h0.85M105.7 140.3h0.85M123.7 148.0h0.85M104.0 143.2h0.85M109.0 137.0h0.85M111.8 141.3h0.85M112.2 139.9h0.85M102.5 143.3h0.85M106.1 145.5h0.85M103.5 140.1h0.85M114.8 135.1h0.85M103.9 143.5h0.85M104.4 138.3h0.85M99.4 147.7h0.85M111.4 128.0h0.85M97.8 140.3h0.85M106.4 146.6h0.85M115.2 130.7h0.85M102.4 138.1h0.85M125.4 143.1h0.85M105.8 146.5h0.85M103.0 147.8h0.85M98.2 146.2h0.85M108.5 143.9h0.85M127.9 148.5h0.85M103.9 137.2h0.85M103.4 144.7h0.85M119.8 144.5h0.85M115.1 146.5h0.85M99.0 148.5h0.85M112.6 143.3h0.85M98.6 131.7h0.85M114.2 145.0h0.85M100.4 148.0h0.85M107.6 140.6h0.85M107.1 144.5h0.85M107.5 144.0h0.85M115.8 139.4h0.85M101.5 148.4h0.85M105.1 138.2h0.85M115.5 132.9h0.85M108.9 133.1h0.85M108.2 145.0h0.85M110.9 119.8h0.85M99.2 138.2h0.85M99.9 143.4h0.85M100.3 134.0h0.85M117.8 144.6h0.85M110.0 141.9h0.85M112.7 124.6h0.85M115.5 144.4h0.85M108.4 132.4h0.85M102.8 124.7h0.85M119.1 140.8h0.85M115.3 145.9h0.85M111.5 133.0h0.85M109.4 133.3h0.85M112.5 141.5h0.85M112.2 145.3h0.85M114.6 140.6h0.85M113.4 139.5h0.85M105.0 135.0h0.85M112.8 146.9h0.85M109.7 133.8h0.85M105.1 144.5h0.85M101.6 145.8h0.85M102.4 148.6h0.85M114.1 146.2h0.85M98.5 138.3h0.85M112.7 141.9h0.85M113.8 131.7h0.85M112.8 136.0h0.85M102.0 147.1h0.85M116.1 145.2h0.85M112.8 136.4h0.85M104.7 148.1h0.85M116.4 146.0h0.85M106.6 136.6h0.85M104.4 141.1h0.85M106.1 125.9h0.85M102.0 142.7h0.85M115.2 148.0h0.85M109.1 126.6h0.85M100.7 143.8h0.85M106.1 145.9h0.85M110.1 145.0h0.85M97.8 148.3h0.85M102.5 140.4h0.85M129.5 145.3h0.85M112.5 147.8h0.85M105.5 139.6h0.85M116.6 141.9h0.85M105.0 146.7h0.85M113.7 120.4h0.85M108.8 138.0h0.85M122.2 147.9h0.85M108.4 140.7h0.85M115.6 138.3h0.85M102.8 145.6h0.85M114.5 146.1h0.85M107.2 130.1h0.85M103.1 144.0h0.85M108.3 145.2h0.85M107.1 136.7h0.85M103.7 128.0h0.85M110.8 139.0h0.85M108.0 138.5h0.85M111.2 135.8h0.85M102.9 132.9h0.85M110.8 134.0h0.85M118.8 146.9h0.85M108.8 123.3h0.85M98.2 142.0h0.85M102.4 128.0h0.85M114.7 128.1h0.85M110.6 140.2h0.85M107.8 136.5h0.85M108.2 132.0h0.85M105.1 146.1h0.85M109.6 142.5h0.85M120.1 141.3h0.85M113.8 143.3h0.85M98.7 145.3h0.85M106.9 143.4h0.85M109.8 148.1h0.85M116.9 139.7h0.85M103.0 133.9h0.85M100.1 144.5h0.85M97.6 140.8h0.85M112.9 142.8h0.85M109.8 148.1h0.85M100.1 145.7h0.85M109.8 141.9h0.85M112.8 125.9h0.85M100.9 144.5h0.85M100.8 143.9h0.85M105.1 148.4h0.85M117.8 147.5h0.85M105.5 121.6h0.85M110.1 146.0h0.85M108.7 140.8h0.85M110.5 136.9h0.85M112.8 135.3h0.85M106.4 133.7h0.85M121.6 143.6h0.85M115.6 138.3h0.85M121.0 145.4h0.85M100.9 145.2h0.85M113.0 143.8h0.85M110.4 146.0h0.85M109.5 133.8h0.85M100.2 136.9h0.85M101.1 127.1h0.85M108.6 140.1h0.85M111.4 119.2h0.85M111.7 143.3h0.85M109.7 147.2h0.85M105.4 135.3h0.85M109.4 131.6h0.85M109.5 133.2h0.85M107.8 135.0h0.85M120.8 141.4h0.85M110.1 140.7h0.85M114.9 148.0h0.85M113.6 144.4h0.85M114.1 140.3h0.85M107.2 118.9h0.85M110.0 137.3h0.85M105.0 147.4h0.85M120.7 144.5h0.85M114.0 143.3h0.85M108.4 139.7h0.85M109.1 139.7h0.85M113.0 145.2h0.85M104.8 141.1h0.85M122.2 144.1h0.85M105.6 121.7h0.85M105.0 147.9h0.85M120.6 143.3h0.85M115.5 146.2h0.85M120.3 139.9h0.85M103.1 130.3h0.85M110.0 130.2h0.85M108.3 144.4h0.85M105.1 139.9h0.85M101.2 147.2h0.85M102.8 142.7h0.85M111.9 141.3h0.85M105.0 139.7h0.85M119.8 140.4h0.85M102.0 146.2h0.85M99.2 132.6h0.85M110.1 140.7h0.85M108.5 144.6h0.85M113.6 145.5h0.85M98.1 139.5h0.85M105.0 129.1h0.85M115.5 147.6h0.85M121.5 146.9h0.85M105.0 126.1h0.85M108.1 142.3h0.85M104.0 127.9h0.85M104.9 136.6h0.85M111.0 143.1h0.85M103.0 137.5h0.85M99.5 132.9h0.85M104.6 133.8h0.85M98.0 146.5h0.85M110.1 147.4h0.85M100.4 145.7h0.85M111.6 142.1h0.85M104.8 140.8h0.85M100.4 133.5h0.85M113.9 142.4h0.85M102.9 131.2h0.85M108.5 140.9h0.85M106.5 134.7h0.85M111.7 143.5h0.85M116.7 132.3h0.85M104.5 143.8h0.85M103.9 139.0h0.85M111.4 143.6h0.85M101.9 143.1h0.85M113.3 147.1h0.85M115.5 143.1h0.85M100.2 134.5h0.85M107.3 141.0h0.85M109.3 148.5h0.85M111.6 132.7h0.85M103.5 139.2h0.85M104.6 136.2h0.85M105.5 138.4h0.85M104.8 146.0h0.85M107.0 140.9h0.85M113.3 129.8h0.85M113.3 130.3h0.85M113.3 148.0h0.85M106.3 129.4h0.85M113.1 147.7h0.85M101.9 148.5h0.85M107.8 146.7h0.85M113.2 143.4h0.85M114.0 130.9h0.85M106.3 126.1h0.85M113.9 140.5h0.85M102.5 148.3h0.85M102.0 140.7h0.85M109.2 122.7h0.85M108.7 143.9h0.85M100.4 145.0h0.85M113.8 146.1h0.85M119.6 148.1h0.85M109.1 140.8h0.85M111.9 141.6h0.85M103.7 132.1h0.85M106.0 144.8h0.85M110.9 126.2h0.85M103.2 142.2h0.85M106.0 148.5h0.85M104.9 127.6h0.85M114.3 146.7h0.85M101.6 124.6h0.85M113.3 139.1h0.85M116.9 145.7h0.85M99.1 143.8h0.85M110.9 137.3h0.85M101.7 144.8h0.85M110.9 147.7h0.85M111.0 138.5h0.85M116.2 147.3h0.85M109.6 125.9h0.85M116.8 143.3h0.85M117.4 144.5h0.85M108.2 139.6h0.85M110.0 139.3h0.85M115.1 144.2h0.85M117.7 141.0h0.85M107.2 129.3h0.85M115.1 148.0h0.85M114.5 142.5h0.85M101.9 136.0h0.85M101.8 145.7h0.85M98.8 147.5h0.85M114.3 146.3h0.85M107.9 138.1h0.85M104.3 140.8h0.85M100.5 137.1h0.85M109.9 117.5h0.85M113.5 144.3h0.85M106.4 130.0h0.85M105.9 138.7h0.85M106.4 136.4h0.85M113.5 126.3h0.85M114.4 136.1h0.85M109.0 132.1h0.85M116.3 140.8h0.85M112.8 141.4h0.85M106.0 132.9h0.85M102.3 137.9h0.85M107.9 139.7h0.85M105.2 144.7h0.85M108.4 143.0h0.85M106.4 141.6h0.85M105.8 123.6h0.85M99.8 147.1h0.85M103.8 135.7h0.85M109.2 136.6h0.85M111.1 142.7h0.85M105.4 134.8h0.85M112.7 145.2h0.85M106.3 136.1h0.85M105.6 128.7h0.85M105.8 140.4h0.85M100.6 145.2h0.85M126.5 143.8h0.85M102.3 142.2h0.85M110.9 143.6h0.85M109.2 144.1h0.85M97.8 145.0h0.85M111.4 141.0h0.85M112.1 130.3h0.85M112.6 145.9h0.85M112.5 126.4h0.85M107.9 143.9h0.85M108.2 140.9h0.85M102.6 139.8h0.85M121.2 144.9h0.85M106.7 138.5h0.85M100.5 148.5h0.85M109.3 140.6h0.85M114.6 138.5h0.85M100.6 134.2h0.85M123.2 146.4h0.85M116.0 147.6h0.85M110.1 125.1h0.85M105.6 135.2h0.85M119.3 142.9h0.85M103.7 129.0h0.85M113.5 141.3h0.85M102.3 144.3h0.85M117.7 147.9h0.85M99.8 139.2h0.85M109.4 144.4h0.85M116.9 145.6h0.85M112.9 146.8h0.85M100.8 148.5h0.85M106.4 142.2h0.85M100.3 147.5h0.85M113.4 126.0h0.85M125.4 144.7h0.85M108.0 145.7h0.85M102.8 124.9h0.85M104.4 140.1h0.85M111.2 134.2h0.85M98.2 141.2h0.85M116.5 147.9h0.85M115.0 142.2h0.85M104.7 134.2h0.85M110.7 146.6h0.85M107.1 140.9h0.85M121.8 138.2h0.85M110.2 139.0h0.85M108.2 130.9h0.85M106.6 139.0h0.85M111.8 137.1h0.85M100.9 148.4h0.85M106.1 147.7h0.85M126.8 146.5h0.85M106.3 137.0h0.85M114.3 147.4h0.85M120.5 141.9h0.85M99.4 140.5h0.85M106.8 142.2h0.85M110.4 127.8h0.85M97.4 145.7h0.85M106.8 131.8h0.85M105.9 141.0h0.85M111.2 136.7h0.85M110.9 141.2h0.85M110.5 125.7h0.85M107.7 142.4h0.85M117.3 137.7h0.85M108.3 145.9h0.85M98.1 142.0h0.85M113.2 132.9h0.85M102.3 142.5h0.85M113.2 144.7h0.85M104.6 146.8h0.85M98.0 142.7h0.85M100.9 147.6h0.85M118.1 145.6h0.85M120.0 145.8h0.85M97.1 138.1h0.85M101.3 133.1h0.85M104.6 119.6h0.85M100.0 142.2h0.85M97.4 138.3h0.85M101.7 138.3h0.85M98.1 138.8h0.85M112.9 148.1h0.85M113.9 146.5h0.85M110.6 138.1h0.85M104.8 134.2h0.85M100.6 147.3h0.85M107.6 146.7h0.85M114.2 144.6h0.85M116.9 142.5h0.85M111.6 143.8h0.85M104.6 142.7h0.85M118.0 140.5h0.85M103.8 148.2h0.85M112.1 137.9h0.85M108.5 145.1h0.85M100.3 142.0h0.85M113.6 148.3h0.85M116.6 145.0h0.85M106.2 139.7h0.85M107.2 140.3h0.85M113.4 136.8h0.85M106.9 136.5h0.85M108.0 145.8h0.85M114.2 133.0h0.85M105.3 137.9h0.85M113.3 144.9h0.85M103.1 123.5h0.85M103.7 128.7h0.85M99.6 124.3h0.85M110.8 142.6h0.85M105.8 137.5h0.85M110.8 141.2h0.85M104.0 142.6h0.85M103.0 146.2h0.85M100.9 137.1h0.85M120.4 145.4h0.85M113.8 145.1h0.85M109.5 137.9h0.85M122.9 141.7h0.85M105.9 135.9h0.85M105.3 141.9h0.85M120.6 139.3h0.85M103.7 122.5h0.85M106.4 144.0h0.85M103.5 138.6h0.85M102.5 147.9h0.85M117.0 143.0h0.85M106.2 137.6h0.85M98.2 134.1h0.85M125.9 144.2h0.85M109.1 145.1h0.85M115.5 147.2h0.85M107.6 139.0h0.85M119.8 144.7h0.85M116.3 136.6h0.85M110.7 129.7h0.85M120.6 145.3h0.85M101.4 135.2h0.85M115.9 144.0h0.85M104.9 144.0h0.85M126.4 146.7h0.85M100.8 132.8h0.85M111.8 134.2h0.85M101.5 147.6h0.85M112.1 148.4h0.85M119.7 145.4h0.85M115.0 130.1h0.85M119.4 145.9h0.85M120.2 146.1h0.85M118.0 142.7h0.85M105.9 120.9h0.85M114.4 144.3h0.85M111.3 138.1h0.85M120.7 140.8h0.85M114.3 141.4h0.85M102.3 142.0h0.85M106.5 138.8h0.85M123.2 146.8h0.85M101.6 146.3h0.85M108.8 142.7h0.85M105.2 134.7h0.85M114.1 137.7h0.85M97.9 145.7h0.85M114.5 144.5h0.85M111.6 134.9h0.85M111.7 141.9h0.85M103.6 137.5h0.85M108.2 147.9h0.85M122.0 146.9h0.85M101.8 137.9h0.85M125.9 148.1h0.85M101.5 135.8h0.85M112.8 144.9h0.85M98.4 148.2h0.85M103.5 134.3h0.85M100.6 146.1h0.85M107.5 148.3h0.85M109.7 148.0h0.85M118.7 138.6h0.85M108.2 138.6h0.85M104.8 143.9h0.85M99.2 145.8h0.85M106.3 142.7h0.85M116.8 143.5h0.85M111.3 148.6h0.85M106.0 125.1h0.85M113.4 148.3h0.85M100.8 129.1h0.85M106.9 142.6h0.85M103.1 142.4h0.85M109.1 142.8h0.85M106.7 135.7h0.85M111.1 140.8h0.85M113.5 123.4h0.85M110.1 147.8h0.85M115.7 139.7h0.85M106.4 146.3h0.85M106.1 133.0h0.85M109.9 133.3h0.85M123.5 143.5h0.85M114.9 135.3h0.85M112.6 148.3h0.85M116.7 141.5h0.85M114.6 141.0h0.85M99.3 144.8h0.85M106.8 139.7h0.85M106.2 139.4h0.85M112.4 147.0h0.85M113.7 119.1h0.85M109.3 146.2h0.85M100.6 140.4h0.85M99.8 132.1h0.85M109.1 147.5h0.85M109.7 140.1h0.85M97.4 139.1h0.85M114.7 139.9h0.85M114.9 144.3h0.85M99.9 135.7h0.85M105.7 144.0h0.85M107.5 146.0h0.85M115.6 143.8h0.85M104.1 146.3h0.85M100.2 146.2h0.85M106.1 143.9h0.85M105.9 133.0h0.85M109.6 130.1h0.85M125.3 147.1h0.85M99.7 140.2h0.85M122.0 147.6h0.85M104.4 141.2h0.85M99.3 148.0h0.85M114.8 138.3h0.85M110.5 142.1h0.85M101.2 139.7h0.85M111.4 125.5h0.85M116.4 136.8h0.85M121.9 143.7h0.85M106.4 128.8h0.85M102.3 134.0h0.85M108.8 138.4h0.85M98.8 144.2h0.85M106.2 135.8h0.85M101.7 136.4h0.85M115.7 142.2h0.85M98.9 140.5h0.85M106.8 144.7h0.85M105.9 138.0h0.85M110.0 147.0h0.85M116.3 145.3h0.85M109.7 145.1h0.85M100.6 144.7h0.85M116.9 145.5h0.85M98.3 148.0h0.85M108.6 147.7h0.85M107.7 148.0h0.85M100.7 148.0h0.85M114.0 139.0h0.85M110.5 143.0h0.85M110.3 140.4h0.85M102.3 142.6h0.85M105.6 137.1h0.85M102.9 141.1h0.85M104.4 138.5h0.85M119.8 134.2h0.85M108.9 126.9h0.85M99.3 138.3h0.85M97.7 127.0h0.85M108.0 147.8h0.85M99.8 124.7h0.85M111.4 132.2h0.85M120.8 135.0h0.85M99.0 138.9h0.85M113.4 138.5h0.85M116.4 137.1h0.85M105.5 147.7h0.85M116.5 147.0h0.85M118.1 135.0h0.85M101.2 142.6h0.85M104.3 135.5h0.85M108.2 148.0h0.85M109.4 120.3h0.85M106.0 133.1h0.85M111.5 139.5h0.85M105.5 126.6h0.85M115.1 140.3h0.85M97.9 146.5h0.85M102.0 141.0h0.85M116.9 143.8h0.85M110.3 137.6h0.85M104.4 129.4h0.85M106.2 141.2h0.85M98.5 144.6h0.85M109.1 146.8h0.85M111.9 143.9h0.85M109.1 141.4h0.85M101.9 146.5h0.85M105.3 136.1h0.85M106.7 132.8h0.85M119.5 140.2h0.85M118.3 143.1h0.85M98.6 138.3h0.85M115.3 140.4h0.85M107.4 133.4h0.85M113.2 144.0h0.85M127.9 147.6h0.85M98.3 137.7h0.85M105.1 144.5h0.85M104.1 131.4h0.85M104.7 146.3h0.85M110.3 130.0h0.85M115.5 144.8h0.85M107.3 129.2h0.85M106.9 144.8h0.85M112.1 132.2h0.85M122.2 141.6h0.85M100.0 146.1h0.85M111.7 145.4h0.85M112.1 131.4h0.85M99.8 143.5h0.85M99.9 135.0h0.85M111.1 147.9h0.85M106.8 126.4h0.85M103.2 129.3h0.85M113.0 139.9h0.85M106.4 148.1h0.85M103.9 145.6h0.85M122.6 142.4h0.85M107.9 136.3h0.85M117.4 141.6h0.85M98.0 146.4h0.85M105.8 142.4h0.85M103.6 144.0h0.85M102.4 148.3h0.85M105.7 123.7h0.85M105.3 139.3h0.85M119.6 145.0h0.85M115.4 139.5h0.85M112.0 140.7h0.85M103.5 142.8h0.85M126.9 147.8h0.85M123.9 148.3h0.85M106.2 139.8h0.85M100.6 146.0h0.85M105.7 141.6h0.85M109.5 148.1h0.85M111.1 142.0h0.85M113.5 134.7h0.85M105.3 146.8h0.85M100.8 125.0h0.85M120.5 140.6h0.85M101.2 136.7h0.85M108.0 130.0h0.85M98.4 146.2h0.85M113.1 145.9h0.85M106.2 133.3h0.85M105.3 137.2h0.85M98.5 148.3h0.85M103.7 139.9h0.85M98.7 143.1h0.85M107.4 130.3h0.85M113.0 141.4h0.85M100.5 136.2h0.85M118.0 141.6h0.85M99.7 140.9h0.85M106.9 131.8h0.85M103.6 140.5h0.85M111.3 118.8h0.85M114.2 146.8h0.85M105.2 148.2h0.85M110.8 140.0h0.85M111.2 141.5h0.85M107.2 133.8h0.85M102.3 141.4h0.85M114.2 147.0h0.85M106.9 142.7h0.85M110.1 137.4h0.85M112.1 142.8h0.85M110.0 124.0h0.85M103.6 134.8h0.85M110.8 119.6h0.85M123.2 140.9h0.85M110.3 135.3h0.85M100.4 139.4h0.85M115.7 141.3h0.85M116.1 143.1h0.85M110.7 139.0h0.85M114.5 142.8h0.85M113.3 144.1h0.85M104.0 145.4h0.85M99.5 148.0h0.85M104.9 139.9h0.85M111.1 136.0h0.85M111.9 134.9h0.85M111.6 135.1h0.85M107.3 141.6h0.85M114.2 138.6h0.85M97.8 147.2h0.85M106.7 143.9h0.85M125.1 147.0h0.85M107.7 140.7h0.85M108.9 143.4h0.85M104.0 140.5h0.85M111.9 147.2h0.85M104.2 148.2h0.85M116.1 138.2h0.85M109.0 141.3h0.85M112.2 148.3h0.85M106.4 139.2h0.85M107.7 131.1h0.85M121.4 147.9h0.85M115.4 126.7h0.85M105.6 143.1h0.85M107.1 141.9h0.85M117.2 143.9h0.85M105.3 127.5h0.85M108.1 114.5h0.85M110.9 137.9h0.85M98.0 146.6h0.85M102.4 148.6h0.85M103.6 132.0h0.85M120.3 143.3h0.85M114.6 143.0h0.85M111.3 143.1h0.85M103.0 147.7h0.85M115.7 140.2h0.85M114.1 142.2h0.85M113.7 143.8h0.85M101.5 128.8h0.85M113.3 132.5h0.85M106.5 135.9h0.85M117.8 135.4h0.85M106.2 136.0h0.85M112.3 138.8h0.85M99.3 142.8h0.85M109.9 135.2h0.85M112.0 143.0h0.85M109.1 148.5h0.85M111.5 135.2h0.85M111.1 143.6h0.85M118.7 141.9h0.85M102.9 143.7h0.85M113.7 136.6h0.85M110.5 132.8h0.85M106.1 146.2h0.85M98.1 146.9h0.85M114.1 127.9h0.85M101.3 138.9h0.85M104.8 136.4h0.85M115.2 147.4h0.85M102.4 146.8h0.85M103.0 143.3h0.85M124.8 146.4h0.85M115.8 136.0h0.85M116.7 140.6h0.85M113.5 145.4h0.85M119.1 142.3h0.85M104.5 136.0h0.85M105.1 118.5h0.85M108.8 145.9h0.85M106.2 145.0h0.85M119.6 140.9h0.85M111.9 148.5h0.85M105.6 146.6h0.85M106.9 142.5h0.85M111.9 143.5h0.85M115.9 132.7h0.85M118.1 142.9h0.85M105.6 135.7h0.85M109.4 140.6h0.85M110.8 146.0h0.85M106.1 132.6h0.85M116.6 143.8h0.85M101.7 148.5h0.85M114.6 143.7h0.85M115.2 135.8h0.85M106.4 138.0h0.85M114.0 132.7h0.85M115.1 143.0h0.85M104.9 142.3h0.85M114.0 145.8h0.85M100.2 143.4h0.85M112.2 133.3h0.85M113.1 146.8h0.85M105.7 137.4h0.85M111.7 141.0h0.85M100.7 148.6h0.85M104.7 127.7h0.85M105.8 119.9h0.85M98.6 145.4h0.85M101.1 130.3h0.85M109.3 138.2h0.85M101.2 142.1h0.85M111.7 138.6h0.85M114.4 145.9h0.85M115.7 138.1h0.85M98.0 146.6h0.85M114.3 139.5h0.85M98.9 144.8h0.85M98.7 146.8h0.85M111.6 148.2h0.85M114.5 145.5h0.85M109.4 146.3h0.85M107.9 123.9h0.85M112.8 148.3h0.85M109.7 136.6h0.85M111.0 148.3h0.85M101.1 140.2h0.85M110.0 137.7h0.85M104.8 130.4h0.85M111.2 130.6h0.85M106.0 142.6h0.85M118.9 147.5h0.85M111.3 130.6h0.85M102.0 141.7h0.85M115.7 145.6h0.85M112.7 142.5h0.85M109.0 131.6h0.85M119.5 140.4h0.85M104.9 119.6h0.85M115.0 135.3h0.85M101.7 138.3h0.85M114.3 140.2h0.85M117.7 141.5h0.85M119.6 143.7h0.85M114.9 144.5h0.85M114.7 135.2h0.85M99.9 147.9h0.85M102.5 141.8h0.85M102.9 138.1h0.85M104.4 144.7h0.85M113.1 134.8h0.85M100.3 143.3h0.85M101.1 147.3h0.85M114.2 148.5h0.85M101.9 146.7h0.85M102.9 142.6h0.85M105.9 146.7h0.85M103.6 137.4h0.85M98.5 138.5h0.85M114.2 145.7h0.85M108.4 134.2h0.85M122.2 142.2h0.85M105.2 119.4h0.85M97.7 148.5h0.85M115.9 137.5h0.85M107.1 132.2h0.85M109.0 133.3h0.85M107.6 133.2h0.85M101.7 146.9h0.85M106.7 147.2h0.85M111.9 140.0h0.85M103.9 134.1h0.85M107.3 143.1h0.85M111.4 121.5h0.85M111.0 142.9h0.85M100.3 144.7h0.85M118.2 137.9h0.85M101.0 142.8h0.85M114.5 141.0h0.85M108.9 129.5h0.85M119.2 141.4h0.85M119.0 143.5h0.85M115.4 130.5h0.85M108.8 146.8h0.85M104.6 130.4h0.85M109.7 133.3h0.85M109.9 147.1h0.85M100.4 134.9h0.85M100.8 134.0h0.85M102.1 140.0h0.85M103.6 131.6h0.85M105.6 143.0h0.85M103.2 129.4h0.85M108.1 130.3h0.85M103.4 143.7h0.85M127.8 148.4h0.85M107.4 129.6h0.85M108.1 133.9h0.85M106.3 136.9h0.85M115.4 134.3h0.85M112.9 117.5h0.85M102.5 136.9h0.85M110.1 145.7h0.85M104.2 148.5h0.85M104.4 141.9h0.85M117.4 143.0h0.85M122.0 145.5h0.85M105.9 140.5h0.85M100.2 137.9h0.85M113.8 141.9h0.85M114.3 125.7h0.85M117.8 145.4h0.85M109.3 144.1h0.85M104.7 124.8h0.85M99.7 133.1h0.85M99.7 133.7h0.85M103.4 135.3h0.85M105.3 144.1h0.85M113.9 143.7h0.85M98.4 143.4h0.85M125.1 146.4h0.85M116.1 138.4h0.85M110.0 145.5h0.85M120.7 141.2h0.85M105.7 133.6h0.85M98.8 142.7h0.85M114.7 141.6h0.85M109.6 146.8h0.85M107.3 143.7h0.85M103.5 147.0h0.85M110.4 146.6h0.85M112.9 139.0h0.85M105.6 137.2h0.85M109.4 136.0h0.85M112.0 147.8h0.85M114.4 132.6h0.85M97.0 145.6h0.85M119.8 145.0h0.85M112.6 133.6h0.85M110.4 147.9h0.85M98.7 139.0h0.85M116.2 143.7h0.85M112.6 133.0h0.85M98.0 138.0h0.85M112.6 144.4h0.85M108.0 124.5h0.85M108.3 134.9h0.85M128.3 148.2h0.85M102.0 142.4h0.85M109.0 147.5h0.85M101.8 141.2h0.85M112.5 144.4h0.85M116.1 137.3h0.85M105.8 143.9h0.85M122.6 144.2h0.85M108.9 129.2h0.85M105.6 139.3h0.85M107.5 148.3h0.85M105.9 141.2h0.85M117.1 140.0h0.85M102.0 145.2h0.85M110.1 131.0h0.85M100.7 128.7h0.85M111.2 136.4h0.85M118.9 143.6h0.85M108.0 145.3h0.85M106.4 144.4h0.85M112.1 134.0h0.85M108.2 128.5h0.85M121.8 144.1h0.85M106.8 146.8h0.85M104.1 141.6h0.85M106.2 137.5h0.85M111.4 140.6h0.85M121.3 140.7h0.85M106.1 147.7h0.85M111.5 125.6h0.85M115.9 137.5h0.85M113.4 143.3h0.85M107.0 141.3h0.85M107.6 141.8h0.85M105.3 125.6h0.85M104.8 138.3h0.85M115.0 138.8h0.85M111.1 142.2h0.85M101.6 140.0h0.85M102.6 129.2h0.85M106.2 141.3h0.85M107.1 139.2h0.85M113.1 143.3h0.85M101.4 140.1h0.85M115.8 139.7h0.85M111.6 133.3h0.85M106.4 143.9h0.85M124.3 142.8h0.85M110.7 146.2h0.85M109.4 137.8h0.85M110.6 140.1h0.85M116.0 141.6h0.85M112.7 141.2h0.85M115.6 132.3h0.85M107.8 130.7h0.85M107.6 147.7h0.85M113.7 147.9h0.85M104.2 147.8h0.85M122.9 148.0h0.85M101.5 148.2h0.85M114.4 148.3h0.85M120.3 147.3h0.85M114.5 136.7h0.85M115.4 142.9h0.85M109.7 147.7h0.85M114.6 142.2h0.85M112.5 127.6h0.85M98.5 146.1h0.85M97.3 145.6h0.85M118.8 147.2h0.85M108.9 139.4h0.85M97.0 147.9h0.85M109.6 138.8h0.85M109.2 143.4h0.85M108.1 145.4h0.85M116.0 147.9h0.85M115.2 123.0h0.85M107.3 136.6h0.85M111.1 144.5h0.85M112.4 129.2h0.85M105.1 129.6h0.85M108.8 140.1h0.85M116.9 146.6h0.85M106.7 125.3h0.85M108.0 146.2h0.85M108.2 141.8h0.85M122.2 148.1h0.85M98.2 129.4h0.85M100.2 141.8h0.85M104.6 122.4h0.85M103.4 142.2h0.85M105.6 138.6h0.85M99.8 128.4h0.85M98.8 142.7h0.85M107.9 143.9h0.85M97.7 139.9h0.85M122.9 143.3h0.85M106.6 148.5h0.85M115.5 147.0h0.85M117.5 128.6h0.85M113.8 146.8h0.85M101.8 148.1h0.85M106.3 136.7h0.85M100.5 147.2h0.85M109.6 133.0h0.85M110.2 144.6h0.85M102.9 125.5h0.85M114.4 145.7h0.85M106.4 128.1h0.85M97.4 144.5h0.85M114.7 139.0h0.85M104.4 142.8h0.85M101.1 131.6h0.85M112.4 140.1h0.85M109.9 113.8h0.85M114.9 145.3h0.85M98.4 141.1h0.85M118.8 145.9h0.85M112.9 146.8h0.85M111.8 132.4h0.85M112.3 147.6h0.85M107.0 143.7h0.85M111.4 133.8h0.85M111.9 136.9h0.85M106.3 147.5h0.85M113.9 144.9h0.85M99.0 134.7h0.85M102.3 142.8h0.85M109.1 125.5h0.85M114.4 143.0h0.85M103.4 136.6h0.85M98.8 141.0h0.85M113.0 134.7h0.85M107.8 126.2h0.85M110.2 125.1h0.85M114.1 142.4h0.85M112.4 139.4h0.85M109.1 145.6h0.85M107.5 145.5h0.85M103.4 137.7h0.85M111.9 137.2h0.85M107.7 143.6h0.85M103.0 133.0h0.85M101.1 139.3h0.85M106.5 136.8h0.85M115.8 144.2h0.85M106.0 134.5h0.85M115.2 140.2h0.85M118.0 144.6h0.85M122.2 148.4h0.85M108.6 145.3h0.85M106.4 132.9h0.85M130.4 148.5h0.85M107.2 147.6h0.85M99.6 124.4h0.85M112.3 147.6h0.85M113.2 141.6h0.85M106.6 146.4h0.85M120.3 146.1h0.85M105.8 130.9h0.85M109.1 116.6h0.85M106.8 130.5h0.85M98.2 143.5h0.85M123.4 147.3h0.85M103.1 148.0h0.85M100.5 135.9h0.85M109.1 139.8h0.85M114.8 144.7h0.85M119.3 145.5h0.85M100.0 147.3h0.85M119.2 143.7h0.85M106.5 144.3h0.85M111.1 147.6h0.85M100.8 145.9h0.85M107.6 138.9h0.85M105.7 135.9h0.85M122.2 146.5h0.85M110.7 122.9h0.85M101.7 145.2h0.85M110.7 142.5h0.85M113.1 146.8h0.85M99.4 139.3h0.85M117.4 141.6h0.85M125.4 146.6h0.85M112.1 141.5h0.85M117.5 145.7h0.85M125.7 147.3h0.85M105.7 129.7h0.85M106.8 133.9h0.85M110.0 124.7h0.85M117.7 138.4h0.85M121.7 147.7h0.85M99.6 141.5h0.85M115.8 141.7h0.85M106.4 139.6h0.85M113.2 145.0h0.85M112.7 127.3h0.85M115.3 130.1h0.85M102.8 141.8h0.85M105.8 143.7h0.85M105.3 147.0h0.85M112.7 143.7h0.85M104.9 137.4h0.85M114.1 144.0h0.85M99.4 145.7h0.85M114.5 139.5h0.85M102.6 133.7h0.85M102.4 139.7h0.85M108.9 142.5h0.85M118.8 145.9h0.85M118.6 139.1h0.85M101.5 142.6h0.85M109.5 138.2h0.85M102.7 130.1h0.85M105.8 141.9h0.85M117.0 138.8h0.85M102.5 141.7h0.85M116.7 144.4h0.85M112.7 148.1h0.85M118.2 129.4h0.85M110.4 141.3h0.85M101.6 147.0h0.85M105.0 145.5h0.85M111.2 147.4h0.85M113.2 142.1h0.85M110.3 132.6h0.85M113.1 135.8h0.85M126.8 147.8h0.85M115.5 137.5h0.85M120.7 142.6h0.85M103.3 133.6h0.85M114.9 143.0h0.85M106.9 144.6h0.85M102.6 133.5h0.85M106.7 143.7h0.85M104.9 140.0h0.85M110.0 143.5h0.85M110.0 123.8h0.85M114.8 138.4h0.85M105.1 138.5h0.85M111.3 144.8h0.85M121.4 139.8h0.85M105.3 117.4h0.85M107.1 142.9h0.85M101.7 128.9h0.85M114.4 137.6h0.85M100.2 146.6h0.85M98.2 131.8h0.85M105.2 144.8h0.85M101.8 143.1h0.85M100.8 125.7h0.85M103.8 136.9h0.85M112.2 145.2h0.85M116.5 127.2h0.85M117.3 139.8h0.85M107.2 142.6h0.85M119.1 145.0h0.85M105.8 140.7h0.85M105.4 127.8h0.85M107.4 145.1h0.85M102.4 137.1h0.85M103.7 129.1h0.85M102.9 147.1h0.85M104.1 146.8h0.85M102.9 117.9h0.85M108.5 140.6h0.85M103.1 144.4h0.85M114.7 140.9h0.85M112.4 132.5h0.85M102.8 148.3h0.85M115.8 142.2h0.85M111.3 128.0h0.85M107.8 139.4h0.85M105.8 133.7h0.85M107.7 142.0h0.85M107.9 146.3h0.85M113.3 124.5h0.85M99.8 141.5h0.85M102.0 144.4h0.85M107.8 148.3h0.85M108.9 134.0h0.85M102.6 135.0h0.85M112.2 139.3h0.85M112.7 145.2h0.85M108.5 148.5h0.85M127.2 147.0h0.85M129.4 144.1h0.85M116.6 147.1h0.85M109.8 141.2h0.85M109.9 141.6h0.85M116.0 136.4h0.85M102.9 130.1h0.85M101.8 130.8h0.85M117.3 143.1h0.85M105.8 140.0h0.85M98.5 140.5h0.85M100.1 142.0h0.85M108.9 146.9h0.85M112.1 148.3h0.85M114.0 147.5h0.85M115.6 147.1h0.85M111.0 133.5h0.85M106.3 144.9h0.85M118.7 136.9h0.85M117.6 144.7h0.85M118.0 145.2h0.85M97.7 142.7h0.85M109.5 138.3h0.85M112.8 142.2h0.85M104.4 142.3h0.85M103.0 138.1h0.85M102.2 135.0h0.85M116.5 144.5h0.85M109.7 139.8h0.85M119.4 140.3h0.85M109.0 147.1h0.85M103.1 144.2h0.85M112.4 148.3h0.85M111.7 136.2h0.85M102.4 138.4h0.85M124.6 141.5h0.85M115.5 144.7h0.85M118.8 146.3h0.85M104.8 145.6h0.85M110.0 148.3h0.85M102.3 143.7h0.85M107.1 135.9h0.85M114.9 145.2h0.85M117.7 146.8h0.85M118.0 144.0h0.85M117.2 145.9h0.85M99.0 144.5h0.85M114.4 147.3h0.85M99.0 146.3h0.85M117.4 141.1h0.85M105.8 145.4h0.85M101.9 147.4h0.85M99.8 140.7h0.85M114.4 134.6h0.85M117.1 145.1h0.85M115.5 140.4h0.85M112.7 141.4h0.85M110.8 147.8h0.85M104.0 142.9h0.85M103.3 144.0h0.85M103.3 147.2h0.85M122.8 143.7h0.85M103.5 148.0h0.85M103.2 146.2h0.85M120.7 143.4h0.85M111.0 143.8h0.85M104.4 141.2h0.85M111.3 143.4h0.85M122.4 146.2h0.85M109.9 144.9h0.85M107.7 145.7h0.85M110.7 128.1h0.85M116.6 143.3h0.85M114.7 134.5h0.85M126.4 148.3h0.85M110.6 130.5h0.85M117.5 138.3h0.85M111.9 121.1h0.85M101.5 144.2h0.85M113.5 140.6h0.85M102.2 131.9h0.85M110.6 133.2h0.85M115.4 123.1h0.85M108.0 136.8h0.85M103.7 146.8h0.85M118.9 148.5h0.85M107.6 135.1h0.85M112.9 139.9h0.85M115.5 139.3h0.85M113.4 145.1h0.85M116.2 145.1h0.85M117.8 142.8h0.85M110.9 144.0h0.85M106.5 143.8h0.85M106.3 146.7h0.85M120.4 141.1h0.85M102.7 142.6h0.85M119.4 145.2h0.85M114.0 142.6h0.85M107.6 147.1h0.85M99.7 143.8h0.85M100.1 145.1h0.85M111.2 137.4h0.85M108.9 135.0h0.85M103.2 137.5h0.85M109.8 127.7h0.85M117.2 136.8h0.85M111.7 143.2h0.85M112.1 135.0h0.85M116.6 146.2h0.85M112.6 131.0h0.85M115.9 143.4h0.85M101.7 143.5h0.85M101.3 147.5h0.85M104.9 130.6h0.85M115.8 148.4h0.85M104.7 131.2h0.85M114.3 132.8h0.85M121.6 141.4h0.85M106.6 147.8h0.85M104.2 124.0h0.85M114.7 142.9h0.85M114.2 140.2h0.85M111.5 140.3h0.85M114.0 130.2h0.85M121.5 146.4h0.85M114.6 143.1h0.85M103.5 141.6h0.85M112.9 129.2h0.85M104.7 137.1h0.85M114.4 138.0h0.85M118.0 146.0h0.85M115.2 142.0h0.85M108.4 126.1h0.85M100.6 143.9h0.85M108.8 120.7h0.85M98.1 142.1h0.85M118.5 133.8h0.85M117.5 143.0h0.85M105.4 144.8h0.85M113.1 140.5h0.85M113.4 137.8h0.85M120.5 148.2h0.85M113.9 140.5h0.85M108.9 145.2h0.85M101.1 144.2h0.85M105.2 138.8h0.85M105.8 130.7h0.85M114.8 142.7h0.85M108.2 145.7h0.85M120.7 147.0h0.85M105.1 146.5h0.85M105.3 143.7h0.85M105.4 147.8h0.85M118.3 146.9h0.85M105.1 147.9h0.85M107.9 148.5h0.85M113.6 139.3h0.85M105.5 134.8h0.85M107.0 145.1h0.85M117.7 144.6h0.85M106.1 147.5h0.85M114.9 145.9h0.85M108.5 128.5h0.85M103.0 147.6h0.85M120.1 141.0h0.85M115.2 124.7h0.85M104.7 136.5h0.85M110.5 146.2h0.85M109.0 138.0h0.85M109.8 147.8h0.85M108.1 146.6h0.85M109.5 146.3h0.85M111.6 134.4h0.85M99.7 142.3h0.85M113.5 142.9h0.85M122.6 144.4h0.85M127.1 147.6h0.85M115.8 142.2h0.85M121.5 141.0h0.85M114.7 145.9h0.85M109.1 144.8h0.85M103.6 143.6h0.85M104.1 139.3h0.85M110.4 136.4h0.85M112.9 135.5h0.85M105.1 148.1h0.85M102.0 146.8h0.85M107.5 120.8h0.85M116.6 148.6h0.85M114.0 141.7h0.85M113.8 139.0h0.85M105.8 138.1h0.85M120.1 141.2h0.85M123.2 144.2h0.85M108.0 145.4h0.85M104.1 133.6h0.85M105.2 140.4h0.85M106.2 126.5h0.85M112.0 140.2h0.85M105.3 139.4h0.85M108.1 146.1h0.85M101.3 132.2h0.85M115.1 144.1h0.85M127.8 147.2h0.85M104.3 127.9h0.85M102.5 140.4h0.85M116.4 146.6h0.85M111.2 148.5h0.85M100.9 141.0h0.85M114.9 138.5h0.85M125.9 143.2h0.85M113.1 145.8h0.85M99.8 146.3h0.85M118.2 142.5h0.85M104.2 144.4h0.85M104.0 135.8h0.85M107.9 148.4h0.85M103.1 141.6h0.85M100.7 141.8h0.85M110.2 133.7h0.85M110.3 134.8h0.85M105.9 146.8h0.85M99.8 142.4h0.85M101.1 136.1h0.85M108.2 143.1h0.85M105.6 139.3h0.85M97.6 136.0h0.85M99.5 136.1h0.85M113.6 147.8h0.85M106.2 121.5h0.85M113.7 146.6h0.85M112.1 146.0h0.85M103.6 144.8h0.85M113.0 142.3h0.85M104.6 130.3h0.85M111.7 139.3h0.85M117.7 146.3h0.85M120.5 125.8h0.85M109.8 145.9h0.85M114.2 131.5h0.85M102.7 129.2h0.85M105.7 137.8h0.85M103.2 129.2h0.85M98.8 147.9h0.85M108.9 143.8h0.85M120.1 144.3h0.85M121.5 148.0h0.85M113.5 139.5h0.85M120.8 140.5h0.85M98.5 145.5h0.85M107.0 139.3h0.85M116.7 144.2h0.85M102.8 141.8h0.85M110.5 141.0h0.85M104.4 130.1h0.85M103.1 147.0h0.85M105.7 138.2h0.85M105.1 143.2h0.85M113.6 143.0h0.85M109.3 142.6h0.85M105.2 147.9h0.85M104.2 146.2h0.85M104.1 147.6h0.85M108.8 116.2h0.85M116.4 145.5h0.85M113.4 131.9h0.85M111.9 140.7h0.85M116.0 143.0h0.85M109.3 146.0h0.85M107.7 128.6h0.85M108.0 147.7h0.85M111.0 135.3h0.85M108.5 142.5h0.85M105.6 142.7h0.85M113.5 146.9h0.85M114.8 141.8h0.85M110.5 128.1h0.85M105.4 138.3h0.85M99.1 145.5h0.85M122.4 143.5h0.85M111.9 130.4h0.85M116.1 142.7h0.85M118.9 136.1h0.85M109.4 143.3h0.85M99.4 147.6h0.85M100.8 144.6h0.85M111.6 142.9h0.85M105.2 147.8h0.85M109.2 140.3h0.85M97.5 143.5h0.85M110.8 146.0h0.85M97.9 148.4h0.85M110.3 137.9h0.85M118.0 144.7h0.85M112.8 134.8h0.85M107.8 145.2h0.85M121.3 148.0h0.85M113.3 146.7h0.85M106.5 126.7h0.85M118.1 132.2h0.85M109.8 146.0h0.85M108.8 127.8h0.85M105.0 144.3h0.85M123.3 146.8h0.85M115.5 144.8h0.85M107.4 129.3h0.85M114.2 148.2h0.85M98.0 147.1h0.85M123.3 144.8h0.85M109.8 133.3h0.85M97.1 129.9h0.85M107.0 115.0h0.85M106.3 134.5h0.85M100.5 145.7h0.85M114.4 140.6h0.85M107.2 133.2h0.85M119.5 141.5h0.85M99.4 116.6h0.85M116.2 136.0h0.85M104.7 136.4h0.85M110.2 144.2h0.85M101.5 136.7h0.85M113.1 140.8h0.85M105.1 132.4h0.85M121.5 141.5h0.85M120.1 147.9h0.85M103.6 120.8h0.85M114.5 144.6h0.85M118.0 146.1h0.85M111.0 147.1h0.85M104.3 145.1h0.85M123.2 148.1h0.85M112.6 137.1h0.85M113.8 137.1h0.85M110.4 144.4h0.85M118.9 146.0h0.85M105.1 132.9h0.85M107.6 133.1h0.85M103.0 121.1h0.85M102.0 140.5h0.85M106.0 148.2h0.85M98.1 145.5h0.85M113.6 133.9h0.85M105.7 144.9h0.85M113.3 144.3h0.85M118.5 145.8h0.85M103.0 137.3h0.85M112.7 126.5h0.85M112.0 141.2h0.85M115.4 142.2h0.85M107.0 138.2h0.85M97.2 131.1h0.85M110.5 134.1h0.85M99.4 143.1h0.85M105.8 141.5h0.85M103.7 122.7h0.85M112.8 147.8h0.85M111.2 145.8h0.85M104.0 144.8h0.85M113.6 139.4h0.85M114.6 139.2h0.85M113.1 147.9h0.85M121.0 148.1h0.85M101.5 147.3h0.85M107.2 145.4h0.85M109.8 124.3h0.85M98.4 135.8h0.85M118.8 145.7h0.85M106.0 135.3h0.85M111.9 142.7h0.85M106.8 145.6h0.85M113.3 138.3h0.85M101.7 136.3h0.85M101.8 145.8h0.85M102.0 140.5h0.85M105.6 137.1h0.85M113.2 127.9h0.85M121.4 144.8h0.85M107.2 145.9h0.85M111.7 139.8h0.85M106.1 145.9h0.85M101.5 135.7h0.85M104.0 139.8h0.85M112.5 124.2h0.85M114.2 148.5h0.85M101.6 147.0h0.85M103.5 134.9h0.85M115.7 134.7h0.85M112.1 147.7h0.85M116.2 126.1h0.85M112.7 143.6h0.85M121.6 148.4h0.85M110.4 136.5h0.85M113.6 148.3h0.85M108.9 138.9h0.85M103.8 137.8h0.85M123.4 146.4h0.85M116.5 145.0h0.85M112.6 141.7h0.85M110.5 139.4h0.85M114.4 136.0h0.85M108.3 146.0h0.85M113.3 130.4h0.85M109.6 146.6h0.85M111.1 144.0h0.85M109.1 130.6h0.85M117.9 138.5h0.85M105.8 132.3h0.85M107.1 135.9h0.85M118.0 147.3h0.85M115.4 145.1h0.85M97.6 143.7h0.85M103.0 146.8h0.85M104.3 135.4h0.85M97.4 128.2h0.85M113.4 143.3h0.85M108.4 139.7h0.85M106.6 144.9h0.85M109.2 139.8h0.85M112.9 135.2h0.85M113.0 133.1h0.85M113.0 132.0h0.85M111.0 136.5h0.85M109.4 137.6h0.85M115.3 142.1h0.85M114.3 144.3h0.85M121.0 143.5h0.85M108.0 135.6h0.85M113.4 138.0h0.85M118.9 142.3h0.85M109.0 143.4h0.85M104.2 134.8h0.85M99.4 139.0h0.85M120.1 146.2h0.85M105.3 140.8h0.85M111.5 145.5h0.85M112.7 138.1h0.85M108.7 146.9h0.85M106.5 145.9h0.85M121.4 147.0h0.85M103.3 143.2h0.85M106.2 135.7h0.85M98.9 142.8h0.85M112.8 134.9h0.85M98.4 135.5h0.85M112.9 130.9h0.85M105.9 146.5h0.85M116.5 140.9h0.85M102.4 142.1h0.85M111.1 145.5h0.85M114.9 142.4h0.85M101.4 147.7h0.85M101.0 141.4h0.85M99.2 138.9h0.85M120.0 145.9h0.85M104.0 121.8h0.85M105.7 143.3h0.85M114.0 147.3h0.85M117.3 133.4h0.85M107.2 138.1h0.85M98.4 147.8h0.85M106.5 131.8h0.85M117.8 147.5h0.85M101.5 141.6h0.85M107.5 123.4h0.85M115.0 142.6h0.85M116.5 129.5h0.85M106.6 145.4h0.85M106.3 142.2h0.85M115.8 139.2h0.85M109.8 146.1h0.85M118.7 146.6h0.85M113.9 146.1h0.85M127.6 145.9h0.85M108.1 145.6h0.85M99.0 140.9h0.85M99.1 145.0h0.85M103.4 140.5h0.85M99.3 146.9h0.85M140.8 140.8h0.85M128.8 146.0h0.85M115.7 143.8h0.85M133.6 145.3h0.85M122.5 143.2h0.85M100.1 146.8h0.85M141.2 143.0h0.85M133.4 145.7h0.85M117.7 144.7h0.85M117.4 148.1h0.85M109.5 146.7h0.85M144.2 145.0h0.85M130.9 147.9h0.85M125.9 142.5h0.85M105.1 146.0h0.85M130.8 146.8h0.85M122.2 147.3h0.85M103.9 146.5h0.85M124.9 148.6h0.85M112.7 144.2h0.85M135.0 145.4h0.85M129.0 148.0h0.85M105.0 143.9h0.85M116.2 148.7h0.85M121.2 148.5h0.85M137.8 145.3h0.85M102.4 138.0h0.85M114.5 147.0h0.85M129.8 147.4h0.85M100.6 140.1h0.85M144.7 134.5h0.85M130.6 143.4h0.85M119.7 140.7h0.85M141.0 141.3h0.85M121.4 146.8h0.85M111.5 145.3h0.85M131.9 141.6h0.85M99.4 144.5h0.85M135.7 147.6h0.85M139.6 142.3h0.85M134.0 142.1h0.85M116.1 142.7h0.85M146.0 147.7h0.85M120.3 140.5h0.85M121.9 144.6h0.85M135.8 144.0h0.85M128.0 148.6h0.85M129.3 144.6h0.85M124.3 145.3h0.85M142.7 143.3h0.85M117.7 146.3h0.85M99.9 140.7h0.85M114.6 147.3h0.85M103.7 147.9h0.85M114.4 148.4h0.85M122.4 147.0h0.85M127.3 139.2h0.85M124.2 147.3h0.85M128.3 148.1h0.85M146.6 140.2h0.85M141.4 147.8h0.85M114.9 147.8h0.85M134.7 141.6h0.85M130.8 144.3h0.85M118.5 146.7h0.85M120.3 138.9h0.85M122.9 144.6h0.85M127.2 142.4h0.85M138.1 146.5h0.85M139.0 141.4h0.85M135.0 148.3h0.85M143.0 146.0h0.85M119.4 147.6h0.85M105.6 138.8h0.85M127.7 140.2h0.85M135.7 145.7h0.85M133.0 138.5h0.85M107.4 146.5h0.85M120.5 144.2h0.85M142.9 147.0h0.85M143.2 147.6h0.85M112.9 148.3h0.85M133.2 139.3h0.85M124.7 147.2h0.85M136.4 139.4h0.85M121.6 137.3h0.85M134.0 146.5h0.85M143.9 144.7h0.85M102.1 146.4h0.85M140.8 148.0h0.85M133.7 143.6h0.85M131.9 146.9h0.85M107.9 146.7h0.85M116.5 143.9h0.85M121.9 148.5h0.85M142.4 143.7h0.85M99.4 147.4h0.85M121.6 144.8h0.85M128.9 134.3h0.85M121.0 147.3h0.85M102.3 142.8h0.85M101.6 143.2h0.85M134.7 147.5h0.85M144.7 144.3h0.85M145.1 146.6h0.85M120.1 146.1h0.85M111.4 147.4h0.85M121.4 145.8h0.85M117.2 146.1h0.85M102.9 143.2h0.85M97.9 143.4h0.85M117.2 146.1h0.85M133.3 144.5h0.85M102.4 142.7h0.85M97.4 140.8h0.85M113.1 144.2h0.85M143.9 146.1h0.85M109.0 147.4h0.85M107.4 146.0h0.85M145.5 146.2h0.85M112.8 139.1h0.85M119.1 140.2h0.85M135.5 148.6h0.85M125.8 140.2h0.85M127.0 141.1h0.85M127.0 144.8h0.85M140.8 147.9h0.85M127.5 141.8h0.85M110.8 148.4h0.85M126.5 145.2h0.85M111.8 147.1h0.85M141.4 139.2h0.85M103.3 143.1h0.85M118.2 148.1h0.85M130.7 138.9h0.85M138.8 142.4h0.85M127.4 148.2h0.85M123.6 148.2h0.85M100.0 144.6h0.85M128.7 146.0h0.85M99.9 147.1h0.85M100.0 145.1h0.85M111.9 145.2h0.85M111.4 141.5h0.85M117.5 144.9h0.85M102.1 148.5h0.85M144.5 145.6h0.85M129.1 140.5h0.85M100.9 147.3h0.85M134.8 138.0h0.85M102.0 140.6h0.85M144.6 145.3h0.85M132.9 139.9h0.85M102.2 147.7h0.85M107.0 141.2h0.85M114.2 143.3h0.85M109.9 148.4h0.85M115.6 143.2h0.85M101.3 147.0h0.85M97.7 138.8h0.85M122.8 146.6h0.85M109.1 140.2h0.85M120.8 140.6h0.85M103.8 137.3h0.85M122.0 147.8h0.85M103.7 147.9h0.85M107.8 148.3h0.85M107.6 148.5h0.85M119.0 144.4h0.85M141.5 133.9h0.85M101.8 142.2h0.85M122.8 144.4h0.85M103.2 134.9h0.85M120.8 148.1h0.85M119.1 144.5h0.85M144.7 141.4h0.85M126.1 143.5h0.85M123.6 141.1h0.85M127.1 146.5h0.85M134.8 147.2h0.85M112.4 143.4h0.85M107.7 146.4h0.85M132.3 137.5h0.85M126.2 147.1h0.85M102.1 148.1h0.85M126.6 142.6h0.85M111.6 145.5h0.85M126.2 144.3h0.85M145.8 145.1h0.85M134.1 142.6h0.85M134.4 147.4h0.85M140.4 147.4h0.85M104.3 146.2h0.85M131.6 144.2h0.85M118.0 145.7h0.85M135.6 146.9h0.85M133.6 139.8h0.85M98.8 139.5h0.85M137.6 147.6h0.85M115.8 142.0h0.85M145.8 145.0h0.85M98.9 134.5h0.85M133.9 148.5h0.85M137.7 147.1h0.85M141.2 147.0h0.85M125.2 141.4h0.85M101.6 146.2h0.85M137.7 144.5h0.85M101.1 147.1h0.85M123.4 144.3h0.85M112.4 143.6h0.85M104.4 143.9h0.85M123.5 142.3h0.85M126.8 147.9h0.85M123.0 141.5h0.85M141.9 147.9h0.85M115.5 147.4h0.85M138.7 137.5h0.85M136.8 144.6h0.85M102.8 147.8h0.85M128.3 143.6h0.85M103.9 141.5h0.85M119.1 143.5h0.85M112.5 141.8h0.85M126.2 140.6h0.85M119.4 142.5h0.85M99.0 145.2h0.85M98.4 146.7h0.85M130.6 147.4h0.85M144.9 147.3h0.85M119.8 145.5h0.85M130.1 146.4h0.85M143.5 147.0h0.85M143.4 144.2h0.85M113.0 143.2h0.85M111.0 144.4h0.85M140.7 146.0h0.85M113.2 148.2h0.85M134.3 147.0h0.85M133.8 147.4h0.85M139.8 141.2h0.85M141.9 148.6h0.85M128.1 140.1h0.85M109.3 145.0h0.85M139.2 145.7h0.85M116.5 148.5h0.85M97.9 147.8h0.85M140.7 147.9h0.85M105.1 140.8h0.85M125.1 144.7h0.85M123.4 146.8h0.85M117.8 143.1h0.85M142.2 137.0h0.85M124.7 145.2h0.85M113.7 144.0h0.85M130.2 143.3h0.85M98.1 142.9h0.85M110.8 141.9h0.85M145.2 139.4h0.85M106.5 144.9h0.85M138.4 146.9h0.85M119.1 146.1h0.85M106.4 136.1h0.85M116.4 144.9h0.85M107.2 147.9h0.85M126.1 143.2h0.85M136.8 148.4h0.85M102.6 144.4h0.85M129.5 136.4h0.85M100.2 142.9h0.85M139.2 146.8h0.85M145.6 138.8h0.85M115.7 146.4h0.85M97.0 141.1h0.85M124.0 146.2h0.85M110.9 144.2h0.85M101.7 145.1h0.85M99.6 148.0h0.85M98.3 146.2h0.85M132.3 142.0h0.85M104.2 138.4h0.85M119.6 143.3h0.85M102.1 147.7h0.85M103.3 148.3h0.85M127.2 140.7h0.85M127.3 137.8h0.85M131.1 144.6h0.85M117.1 143.0h0.85M129.1 145.7h0.85M101.9 146.4h0.85M135.4 146.0h0.85M140.6 146.1h0.85M104.4 147.1h0.85M135.7 143.6h0.85M127.1 138.9h0.85M135.9 148.4h0.85M132.8 148.5h0.85M144.4 141.4h0.85M133.6 140.5h0.85M121.2 148.1h0.85M114.2 143.1h0.85M129.5 138.9h0.85M99.7 143.9h0.85M145.9 144.7h0.85M111.8 148.2h0.85M98.6 146.5h0.85M114.5 142.0h0.85M99.0 145.0h0.85M144.1 146.8h0.85M119.3 145.5h0.85M132.9 145.3h0.85M108.4 146.0h0.85M123.9 148.1h0.85M114.7 137.9h0.85M98.3 144.1h0.85M101.6 145.4h0.85M111.4 146.9h0.85M111.9 142.1h0.85M117.5 138.9h0.85M131.5 133.5h0.85M101.4 143.6h0.85M119.2 137.5h0.85M105.0 143.9h0.85M145.6 138.8h0.85M137.9 148.3h0.85M143.9 145.1h0.85M139.9 147.8h0.85M103.1 146.8h0.85M125.6 139.3h0.85M125.4 146.2h0.85M126.5 137.3h0.85M120.2 146.6h0.85M141.0 142.4h0.85M146.0 146.2h0.85M129.8 147.9h0.85M117.9 148.4h0.85M108.2 147.2h0.85M117.3 147.7h0.85M115.5 146.7h0.85M133.7 143.8h0.85M126.1 140.2h0.85M140.7 142.4h0.85M103.7 148.4h0.85M125.9 147.1h0.85M99.7 145.3h0.85M116.9 136.2h0.85M117.0 147.2h0.85M122.4 138.2h0.85M121.0 146.4h0.85M98.0 146.0h0.85M141.4 146.3h0.85M136.9 139.1h0.85M122.9 145.4h0.85M132.2 146.5h0.85M103.9 143.8h0.85M142.9 145.1h0.85M135.0 146.8h0.85M124.0 146.3h0.85M128.5 142.0h0.85M104.2 147.2h0.85M113.0 148.4h0.85M102.0 135.2h0.85M114.3 134.4h0.85M141.3 147.5h0.85M136.4 143.1h0.85M130.5 140.3h0.85M99.0 142.6h0.85M106.3 145.0h0.85M104.8 148.3h0.85M113.6 148.4h0.85M122.6 147.8h0.85M141.3 141.5h0.85M120.2 141.9h0.85M140.9 142.7h0.85M103.0 142.6h0.85M142.4 137.1h0.85M106.4 144.4h0.85M114.4 145.4h0.85M111.2 146.6h0.85M104.3 140.5h0.85M112.0 138.8h0.85M127.2 143.3h0.85M130.0 144.5h0.85M127.5 137.8h0.85M126.9 147.1h0.85M112.8 141.1h0.85M116.8 142.6h0.85M106.4 146.4h0.85M117.4 147.4h0.85M107.5 139.4h0.85M132.2 142.6h0.85M125.9 147.3h0.85M145.5 145.3h0.85M112.9 146.4h0.85M104.1 139.9h0.85M100.0 138.9h0.85M110.4 143.2h0.85M138.5 143.9h0.85M104.5 145.8h0.85M123.6 143.4h0.85M126.8 135.5h0.85M145.6 143.2h0.85M125.9 138.5h0.85M125.6 145.9h0.85M126.5 147.4h0.85M119.7 145.4h0.85M109.6 134.8h0.85M107.4 148.5h0.85M144.9 144.1h0.85M116.8 148.7h0.85M101.6 143.8h0.85M97.1 147.0h0.85M107.9 137.1h0.85M107.9 142.1h0.85M138.1 143.6h0.85M116.4 146.6h0.85M122.4 145.2h0.85M134.5 141.3h0.85M141.0 141.8h0.85M104.4 144.8h0.85M122.7 145.8h0.85M100.7 146.1h0.85M97.3 148.6h0.85M124.1 142.9h0.85M116.4 141.0h0.85M140.5 148.0h0.85M108.6 148.5h0.85M97.2 141.2h0.85M132.1 144.8h0.85M122.5 140.1h0.85M138.7 144.5h0.85M145.6 135.1h0.85M117.3 148.2h0.85M124.8 148.4h0.85M117.9 147.0h0.85M132.0 139.0h0.85M146.0 143.3h0.85M127.4 148.0h0.85M142.2 144.3h0.85M137.4 139.2h0.85M121.2 145.5h0.85M130.0 139.3h0.85M138.8 138.1h0.85M99.6 144.7h0.85M126.3 144.1h0.85M138.8 143.0h0.85M111.2 138.7h0.85M123.6 148.5h0.85M124.6 136.3h0.85M101.0 138.1h0.85M118.5 148.0h0.85M135.6 147.1h0.85M114.7 144.2h0.85M131.0 139.6h0.85M133.3 148.6h0.85M146.2 138.7h0.85M139.2 146.4h0.85M129.2 147.7h0.85M113.6 142.0h0.85M109.1 137.3h0.85M117.6 139.9h0.85M126.7 147.0h0.85M107.0 146.7h0.85M144.5 142.9h0.85M115.3 143.9h0.85M142.2 144.7h0.85M133.8 147.4h0.85M104.8 147.7h0.85M113.6 147.8h0.85M114.5 143.3h0.85M118.1 137.8h0.85M112.1 147.7h0.85M144.8 142.0h0.85M126.6 144.4h0.85M132.4 131.0h0.85M126.8 141.5h0.85M124.8 146.3h0.85M138.0 141.1h0.85M122.7 147.1h0.85M111.7 145.4h0.85M116.1 145.4h0.85M127.3 141.9h0.85M113.9 139.7h0.85M146.5 146.8h0.85M106.7 140.2h0.85M135.7 145.0h0.85M133.9 147.4h0.85M115.1 146.7h0.85M138.0 146.9h0.85M114.4 140.0h0.85M141.7 140.6h0.85M111.3 148.0h0.85M133.1 142.6h0.85M145.9 147.4h0.85M119.7 143.6h0.85M112.6 141.9h0.85M126.1 132.3h0.85M118.3 142.9h0.85M127.8 147.5h0.85M110.5 146.1h0.85M125.4 144.2h0.85M137.2 144.2h0.85M125.4 142.1h0.85M113.3 136.7h0.85M116.3 138.5h0.85M122.6 145.8h0.85M140.3 143.2h0.85M138.6 145.0h0.85M107.1 136.8h0.85M135.7 145.8h0.85M107.3 143.3h0.85M118.6 146.5h0.85M100.9 142.4h0.85M139.8 144.4h0.85M130.2 143.6h0.85M104.7 146.4h0.85M111.8 147.6h0.85M97.9 138.4h0.85M134.6 147.6h0.85M142.0 148.5h0.85M101.6 140.4h0.85M99.5 141.7h0.85M137.8 142.0h0.85M136.0 139.3h0.85M120.6 143.8h0.85M101.5 144.7h0.85M126.4 147.0h0.85M120.8 147.2h0.85M109.2 142.2h0.85M110.5 143.6h0.85M114.2 139.3h0.85M136.4 147.0h0.85M146.2 142.9h0.85M115.1 147.3h0.85M127.7 146.5h0.85M119.5 147.5h0.85M142.8 145.5h0.85M145.5 141.1h0.85M102.8 143.6h0.85M122.3 147.0h0.85M112.3 147.1h0.85M129.5 142.4h0.85M125.2 140.6h0.85M119.7 143.5h0.85M101.0 138.7h0.85M132.1 139.0h0.85M142.4 147.8h0.85M99.7 145.8h0.85M107.3 147.4h0.85M131.0 147.6h0.85M98.7 133.7h0.85M134.7 148.4h0.85M140.6 148.3h0.85M137.5 145.4h0.85M134.9 148.2h0.85M127.8 139.4h0.85M99.2 145.2h0.85M128.6 148.1h0.85M112.3 138.1h0.85M103.4 147.7h0.85M110.8 144.0h0.85M129.6 146.3h0.85M139.3 145.0h0.85M123.6 141.1h0.85M129.8 146.6h0.85M105.7 139.6h0.85M143.1 147.7h0.85M120.3 138.9h0.85M126.6 140.2h0.85M101.0 146.2h0.85M122.1 138.3h0.85M101.2 142.1h0.85M139.9 134.4h0.85M110.8 143.8h0.85M111.9 142.7h0.85M132.3 139.9h0.85M108.3 147.4h0.85M135.9 144.4h0.85M100.1 144.1h0.85M141.0 144.5h0.85M122.6 141.3h0.85M132.7 141.5h0.85M98.3 146.7h0.85M117.2 146.1h0.85M124.2 137.3h0.85M120.6 141.6h0.85M123.9 143.5h0.85M142.7 134.6h0.85M123.4 146.6h0.85M105.1 146.8h0.85M106.9 140.7h0.85M102.1 146.9h0.85M122.9 139.8h0.85M139.7 140.0h0.85M138.2 141.8h0.85M100.7 147.6h0.85M145.1 147.8h0.85M139.9 148.2h0.85M133.9 146.5h0.85M100.4 145.1h0.85M125.9 146.9h0.85M132.0 141.5h0.85M115.2 143.2h0.85M145.8 137.7h0.85M98.8 138.8h0.85M114.0 147.6h0.85M133.2 144.1h0.85M146.5 143.4h0.85M116.2 142.0h0.85M105.5 145.1h0.85M122.5 136.7h0.85M131.7 138.6h0.85M131.5 141.0h0.85M123.5 144.6h0.85M117.0 145.2h0.85M97.5 142.9h0.85M133.5 144.5h0.85M133.2 145.2h0.85M133.6 141.2h0.85M101.8 147.6h0.85M99.1 146.7h0.85M133.3 144.3h0.85M117.0 147.3h0.85M100.3 136.7h0.85M104.5 146.2h0.85M97.4 147.8h0.85M117.6 137.0h0.85M138.2 141.5h0.85M98.3 141.5h0.85M101.1 142.3h0.85M98.3 146.6h0.85M102.9 138.7h0.85M104.5 147.3h0.85M123.5 142.2h0.85M102.3 144.4h0.85M122.7 144.6h0.85M117.5 144.1h0.85M132.9 140.2h0.85M129.7 144.5h0.85M108.0 141.8h0.85M142.0 142.5h0.85M133.4 143.3h0.85M132.8 147.5h0.85M111.2 147.4h0.85M123.2 146.8h0.85M134.2 144.3h0.85M103.4 146.4h0.85M102.4 142.4h0.85M138.0 138.5h0.85M111.1 140.8h0.85M122.6 137.3h0.85M117.2 147.9h0.85M128.6 142.4h0.85M100.9 147.1h0.85M131.9 147.8h0.85M146.3 140.1h0.85M141.7 147.1h0.85M143.1 146.7h0.85M114.3 147.4h0.85M110.1 141.6h0.85M126.0 147.0h0.85M141.5 138.5h0.85M138.2 144.4h0.85M114.1 147.3h0.85M118.0 142.2h0.85M104.6 145.5h0.85M139.6 146.4h0.85M106.8 145.0h0.85M132.6 143.6h0.85M125.2 148.4h0.85M125.5 146.4h0.85M124.1 146.7h0.85M109.6 141.8h0.85M135.9 136.2h0.85M108.5 147.4h0.85M105.7 145.1h0.85M110.1 136.9h0.85M133.2 144.3h0.85M111.1 142.1h0.85M104.4 143.1h0.85M142.6 138.6h0.85M97.4 142.1h0.85M143.3 148.5h0.85M124.8 136.5h0.85M98.0 143.4h0.85M142.6 144.7h0.85M131.7 143.5h0.85M146.2 145.5h0.85M133.0 144.3h0.85M143.0 147.2h0.85M104.0 143.3h0.85M126.7 144.7h0.85M138.8 148.2h0.85M136.8 140.8h0.85M134.3 147.7h0.85M142.4 146.0h0.85M133.0 146.8h0.85M118.1 141.4h0.85M112.7 141.7h0.85M110.0 141.9h0.85M100.5 144.6h0.85M140.2 145.3h0.85M107.1 134.1h0.85M121.2 144.7h0.85M110.7 145.5h0.85M116.1 142.6h0.85M121.4 148.5h0.85M144.9 148.5h0.85M119.6 139.9h0.85M129.2 142.2h0.85M98.0 146.6h0.85M122.8 143.6h0.85M135.7 146.0h0.85M107.7 146.9h0.85M146.1 141.8h0.85M134.8 145.2h0.85M143.7 144.3h0.85M146.4 148.3h0.85M146.3 148.3h0.85M131.9 148.5h0.85M107.1 141.9h0.85M141.9 146.5h0.85M101.3 137.4h0.85M123.9 146.1h0.85M143.2 146.4h0.85M108.9 147.3h0.85M133.0 145.2h0.85M128.1 142.6h0.85M101.3 140.4h0.85M146.3 139.7h0.85M121.5 145.8h0.85M99.9 147.1h0.85M130.4 148.3h0.85M127.8 142.5h0.85M146.4 147.4h0.85M124.2 141.4h0.85M108.5 144.8h0.85M122.2 138.9h0.85M143.4 145.9h0.85M132.5 143.7h0.85M136.1 134.6h0.85M131.3 138.8h0.85M120.1 140.5h0.85M123.3 136.7h0.85M131.2 141.3h0.85M121.7 148.6h0.85M140.3 148.6h0.85M130.3 140.6h0.85M135.4 146.4h0.85M106.9 142.1h0.85M107.6 148.3h0.85M128.4 148.5h0.85M137.5 146.8h0.85M106.8 140.2h0.85M144.8 142.7h0.85M110.6 136.0h0.85M98.8 143.6h0.85M139.2 137.4h0.85M143.4 145.6h0.85M146.3 143.6h0.85M126.4 143.0h0.85M105.4 147.2h0.85M131.4 148.6h0.85M135.4 138.3h0.85M146.1 140.2h0.85M113.4 145.0h0.85M120.9 143.3h0.85M114.7 145.7h0.85M114.5 147.8h0.85M117.5 146.6h0.85M114.6 144.1h0.85M125.8 140.8h0.85M140.9 147.6h0.85M141.6 138.5h0.85M143.5 145.0h0.85M108.4 146.2h0.85M128.2 146.1h0.85M146.5 145.6h0.85M125.7 143.9h0.85M128.7 148.4h0.85M110.8 142.7h0.85M144.6 143.9h0.85M97.8 143.9h0.85M137.7 148.0h0.85M115.5 138.8h0.85M145.4 142.6h0.85M137.5 143.4h0.85M118.6 143.4h0.85M116.6 143.5h0.85M97.6 145.2h0.85M120.5 147.8h0.85M124.8 148.1h0.85M115.6 138.6h0.85M141.8 141.7h0.85M115.4 134.8h0.85M145.9 141.8h0.85M110.5 148.2h0.85M144.6 145.2h0.85M122.9 147.2h0.85M140.9 136.7h0.85M111.2 143.6h0.85M138.3 145.9h0.85M143.6 144.8h0.85M99.3 146.1h0.85M107.1 139.1h0.85M122.4 145.8h0.85M140.3 144.0h0.85M120.6 143.2h0.85M138.2 142.7h0.85M115.3 145.7h0.85M144.6 147.3h0.85M141.5 148.2h0.85M145.9 148.1h0.85M129.5 143.1h0.85M102.9 145.6h0.85M108.9 144.2h0.85M122.0 146.7h0.85M118.2 141.0h0.85M138.9 146.5h0.85M139.5 145.8h0.85M121.5 140.8h0.85M100.2 144.3h0.85M137.1 141.7h0.85M134.9 145.2h0.85M129.2 143.4h0.85M107.4 147.2h0.85M134.9 140.7h0.85M104.5 146.2h0.85M124.6 147.7h0.85M141.5 142.2h0.85M108.9 140.1h0.85M127.0 147.3h0.85M105.6 137.8h0.85M129.5 142.3h0.85M142.2 146.7h0.85M112.3 135.5h0.85M110.6 146.6h0.85M131.8 146.4h0.85M116.5 146.9h0.85M109.9 144.0h0.85M115.8 133.9h0.85M123.1 143.2h0.85M145.3 147.7h0.85M123.0 141.0h0.85M104.3 143.7h0.85M97.1 147.3h0.85M115.9 142.3h0.85M120.6 146.0h0.85M103.6 143.1h0.85M113.3 145.3h0.85M128.1 143.6h0.85M124.4 144.8h0.85M104.3 146.3h0.85M139.6 146.2h0.85M128.4 143.2h0.85M125.4 142.7h0.85M119.2 145.4h0.85M105.3 142.4h0.85M144.2 144.5h0.85M139.4 147.8h0.85M142.1 143.8h0.85M141.6 137.3h0.85M123.7 148.2h0.85M129.6 147.8h0.85M123.8 141.6h0.85M140.4 143.5h0.85M131.3 143.9h0.85M116.8 134.9h0.85M146.3 144.8h0.85M138.5 146.4h0.85M134.7 148.7h0.85M105.4 141.9h0.85M134.9 147.9h0.85M109.1 139.6h0.85M103.6 142.4h0.85M109.5 146.8h0.85M142.3 144.7h0.85M131.9 143.9h0.85M106.9 148.4h0.85M125.8 145.6h0.85M129.1 137.0h0.85M145.9 138.5h0.85M128.3 147.4h0.85M137.0 144.5h0.85M115.2 143.4h0.85M113.8 143.8h0.85M102.9 146.3h0.85M113.6 143.4h0.85M99.0 145.2h0.85M104.6 136.5h0.85M133.5 145.8h0.85M137.6 138.9h0.85M115.8 142.7h0.85M133.4 139.3h0.85M119.2 140.8h0.85M103.8 146.3h0.85M103.6 141.8h0.85M133.9 144.6h0.85M100.7 148.3h0.85M111.4 146.7h0.85M97.9 144.7h0.85M134.0 140.9h0.85M140.6 139.9h0.85M107.7 139.5h0.85M123.5 144.9h0.85M109.3 140.7h0.85M142.4 145.4h0.85M143.4 138.8h0.85M110.9 142.1h0.85M138.8 144.4h0.85M132.0 147.0h0.85M141.8 148.1h0.85M128.5 146.7h0.85M116.2 141.9h0.85M143.9 148.2h0.85M146.4 147.4h0.85M139.7 144.3h0.85M102.5 141.1h0.85M139.1 145.0h0.85M127.4 146.4h0.85M138.6 146.9h0.85M129.2 146.8h0.85M115.3 138.3h0.85M137.4 140.7h0.85M127.6 146.7h0.85M128.7 143.6h0.85M145.2 141.5h0.85M126.3 141.2h0.85M99.7 146.6h0.85M107.7 139.3h0.85M146.2 146.0h0.85M121.7 138.6h0.85M104.7 146.8h0.85M140.8 138.1h0.85M112.6 147.2h0.85M113.1 146.0h0.85M135.6 147.7h0.85M145.1 145.2h0.85M129.9 142.6h0.85M138.6 132.6h0.85M126.5 146.4h0.85M139.4 143.2h0.85M145.9 140.6h0.85M112.8 146.8h0.85M121.3 147.9h0.85M128.2 145.2h0.85M99.5 145.6h0.85M142.6 142.1h0.85M138.8 144.7h0.85M120.8 147.9h0.85M110.1 147.8h0.85M118.7 148.6h0.85M110.6 141.0h0.85M119.6 146.3h0.85M97.6 143.6h0.85M118.7 147.5h0.85M119.4 147.9h0.85M102.9 144.0h0.85M142.9 148.6h0.85M141.0 142.7h0.85M99.3 144.2h0.85M141.0 139.4h0.85M131.4 142.5h0.85M118.6 142.2h0.85M117.4 148.2h0.85M120.2 139.8h0.85M106.4 142.9h0.85M111.0 144.2h0.85M118.6 146.2h0.85M119.7 144.5h0.85M132.9 144.4h0.85M129.9 142.7h0.85M113.6 131.1h0.85M138.4 145.2h0.85M131.0 143.5h0.85M110.7 146.6h0.85M143.1 142.9h0.85M127.2 142.0h0.85M146.6 144.4h0.85M145.7 148.2h0.85M110.2 144.0h0.85M144.4 142.7h0.85M135.0 138.2h0.85M128.1 148.0h0.85M103.8 145.7h0.85M114.5 143.9h0.85M106.0 140.9h0.85M124.1 138.6h0.85M134.7 144.6h0.85M128.8 144.5h0.85M104.6 146.8h0.85M114.0 139.7h0.85M143.2 145.3h0.85M119.6 139.8h0.85M125.1 135.4h0.85M128.9 134.6h0.85M109.9 144.1h0.85M119.3 142.1h0.85M127.2 142.8h0.85M123.4 147.9h0.85M139.4 137.8h0.85M130.2 139.9h0.85M97.6 148.0h0.85M140.6 147.7h0.85M116.9 143.0h0.85M135.1 147.6h0.85M138.0 144.3h0.85M146.5 146.3h0.85M115.6 141.1h0.85M104.8 146.3h0.85M123.7 147.6h0.85M98.7 144.9h0.85M126.7 140.0h0.85M129.1 144.8h0.85M132.9 143.7h0.85M141.3 138.3h0.85M130.5 148.5h0.85M121.8 136.1h0.85M111.6 146.5h0.85M120.4 143.5h0.85M139.0 147.6h0.85M102.8 141.8h0.85M104.5 142.9h0.85M111.6 147.0h0.85M138.5 146.8h0.85M100.6 148.5h0.85M97.7 146.3h0.85M134.1 144.7h0.85M113.8 143.3h0.85M143.8 144.1h0.85M122.8 143.0h0.85M101.4 139.4h0.85M109.9 148.4h0.85M122.3 139.2h0.85M117.3 142.4h0.85M118.7 145.5h0.85M104.7 148.0h0.85M109.7 144.3h0.85M112.7 141.9h0.85M133.9 146.2h0.85M117.3 143.1h0.85M97.3 145.9h0.85M141.8 145.6h0.85M134.8 139.0h0.85M138.7 145.4h0.85M111.1 137.0h0.85M131.1 136.4h0.85M144.1 128.6h0.85M117.9 144.9h0.85M127.4 146.4h0.85M128.6 146.6h0.85M141.5 147.8h0.85M98.5 139.8h0.85M109.2 145.2h0.85M111.7 147.7h0.85M102.6 142.7h0.85M123.9 147.2h0.85M140.3 144.2h0.85M106.5 147.3h0.85M144.1 144.2h0.85M128.6 142.9h0.85M108.6 137.6h0.85M107.9 139.8h0.85M99.3 137.4h0.85M142.6 141.5h0.85M97.5 147.6h0.85M141.9 140.4h0.85M117.4 142.1h0.85M109.0 138.2h0.85M135.9 144.1h0.85M103.9 145.6h0.85M124.0 147.7h0.85M142.2 138.5h0.85M113.2 143.0h0.85M122.9 142.2h0.85M130.4 143.2h0.85M112.2 138.6h0.85M110.1 147.6h0.85M111.5 145.1h0.85M106.4 136.3h0.85M130.4 148.5h0.85M101.2 147.8h0.85M104.8 133.2h0.85M105.4 148.2h0.85M118.9 145.4h0.85M141.6 138.5h0.85M103.1 142.8h0.85M117.1 142.8h0.85M110.2 144.6h0.85M142.3 144.9h0.85M132.4 144.0h0.85M114.7 142.8h0.85M128.3 146.3h0.85M112.4 143.4h0.85M130.0 143.6h0.85M107.8 147.6h0.85M121.5 145.1h0.85M106.8 146.4h0.85M129.7 146.6h0.85M142.1 147.8h0.85M99.7 147.3h0.85M125.4 145.1h0.85M103.4 147.0h0.85M122.8 147.7h0.85M100.1 141.6h0.85M129.6 144.4h0.85M124.5 139.6h0.85M123.6 135.7h0.85M98.3 148.0h0.85M113.5 146.8h0.85M119.6 145.5h0.85M136.4 141.1h0.85M111.4 144.9h0.85M137.5 144.3h0.85M109.7 147.6h0.85M138.0 146.2h0.85M130.9 145.5h0.85M120.5 144.0h0.85M134.9 147.4h0.85M112.6 147.1h0.85M139.9 143.5h0.85M115.8 133.1h0.85M102.4 142.3h0.85M122.6 148.1h0.85M143.1 148.3h0.85M127.8 143.2h0.85M130.5 145.6h0.85M135.6 142.1h0.85M105.1 145.8h0.85M129.0 143.8h0.85M119.2 144.1h0.85M145.3 148.5h0.85M126.2 146.9h0.85M99.7 145.9h0.85M98.1 143.1h0.85M126.2 144.8h0.85M113.2 141.0h0.85M103.3 143.4h0.85M106.8 139.5h0.85M105.3 142.4h0.85M102.1 147.5h0.85M138.6 142.5h0.85M108.8 145.0h0.85M128.3 143.7h0.85M120.6 147.3h0.85M110.9 142.7h0.85M119.0 142.0h0.85M129.7 144.4h0.85M146.1 142.3h0.85M125.6 145.6h0.85M132.1 147.3h0.85M122.0 148.7h0.85M124.8 139.9h0.85M100.5 147.3h0.85M107.3 145.2h0.85M145.5 144.8h0.85M139.1 147.9h0.85M137.8 140.2h0.85M136.4 147.4h0.85M135.6 143.1h0.85M146.4 143.9h0.85M132.6 134.2h0.85M130.0 135.3h0.85M124.1 141.4h0.85M117.5 148.3h0.85M100.6 142.7h0.85M131.7 141.1h0.85M126.9 129.8h0.85M138.7 144.1h0.85M101.5 140.8h0.85M130.9 148.2h0.85M114.0 143.6h0.85M124.9 148.1h0.85M131.3 145.2h0.85M142.4 146.7h0.85M128.4 145.4h0.85M105.2 138.4h0.85M115.8 131.2h0.85M137.7 148.5h0.85M124.1 148.7h0.85M112.3 146.9h0.85M127.7 146.1h0.85M110.0 144.8h0.85M114.7 139.5h0.85M107.4 144.3h0.85M121.5 146.4h0.85M114.1 148.2h0.85M97.2 142.0h0.85M97.1 144.5h0.85M137.0 138.6h0.85M113.6 141.5h0.85M128.7 147.0h0.85M131.9 142.3h0.85M104.6 141.6h0.85M104.8 145.3h0.85M146.2 144.1h0.85M117.8 148.7h0.85M108.9 144.6h0.85M126.6 144.1h0.85M138.5 148.1h0.85M101.8 144.7h0.85M134.0 144.4h0.85M124.1 134.3h0.85M108.4 146.8h0.85M102.6 138.7h0.85M118.8 139.8h0.85M136.1 146.4h0.85M100.2 144.1h0.85M107.9 142.6h0.85M139.7 146.9h0.85M100.7 144.6h0.85M107.7 142.2h0.85M136.6 143.7h0.85M117.5 145.8h0.85M110.6 136.7h0.85M129.2 147.6h0.85M123.7 147.2h0.85M107.5 147.4h0.85M124.8 140.3h0.85M107.7 141.9h0.85M144.6 140.4h0.85M120.7 145.5h0.85M139.3 139.4h0.85M133.8 143.6h0.85M123.6 148.3h0.85M125.6 139.8h0.85M113.0 146.2h0.85M124.1 144.9h0.85M97.1 147.0h0.85M142.5 144.9h0.85M104.2 147.7h0.85M125.3 144.9h0.85M126.4 148.6h0.85M100.5 136.4h0.85M112.7 139.3h0.85M131.3 142.5h0.85M144.3 138.3h0.85M115.1 146.1h0.85M146.1 140.2h0.85M106.2 139.1h0.85M125.3 140.7h0.85M142.9 142.8h0.85M136.4 146.6h0.85M132.7 132.6h0.85M136.3 135.0h0.85M142.7 146.4h0.85M117.4 143.0h0.85M114.1 145.3h0.85M107.2 146.2h0.85M127.2 140.8h0.85M145.0 145.1h0.85M129.1 136.6h0.85M109.9 140.7h0.85M97.6 147.8h0.85M99.9 133.9h0.85M99.5 140.4h0.85M99.8 147.0h0.85M137.7 140.5h0.85M99.6 142.6h0.85M108.5 147.3h0.85M142.4 142.0h0.85M137.9 143.1h0.85M136.8 134.4h0.85M99.9 143.8h0.85M141.1 144.5h0.85M122.5 146.2h0.85M141.4 142.8h0.85M130.7 140.9h0.85M114.0 146.7h0.85M103.9 140.9h0.85M105.5 143.7h0.85M104.8 144.7h0.85M125.3 141.0h0.85M139.9 142.1h0.85M137.1 147.2h0.85M114.7 139.6h0.85M116.0 142.1h0.85M118.7 140.3h0.85M106.8 147.9h0.85M122.1 144.6h0.85M139.2 141.5h0.85M104.6 148.6h0.85M137.0 147.7h0.85M130.8 146.1h0.85M127.0 146.1h0.85M141.7 147.6h0.85M122.9 144.5h0.85M110.7 148.4h0.85M126.4 148.5h0.85M134.5 139.8h0.85M145.3 147.6h0.85M134.4 141.8h0.85M115.2 143.1h0.85M110.7 147.0h0.85M142.2 146.8h0.85M112.7 145.8h0.85M111.8 147.1h0.85M142.8 148.5h0.85M126.8 144.1h0.85M138.7 143.5h0.85M105.4 147.9h0.85M117.7 141.7h0.85M146.3 143.0h0.85M102.4 142.8h0.85M108.1 145.4h0.85M97.3 145.7h0.85M134.3 143.6h0.85M111.6 147.5h0.85M121.8 142.8h0.85M130.5 148.5h0.85M137.7 142.6h0.85M122.1 148.5h0.85M138.0 134.3h0.85M113.4 142.1h0.85M101.6 147.1h0.85M113.5 147.2h0.85M98.4 145.9h0.85M129.5 143.3h0.85M141.6 138.5h0.85M107.7 144.5h0.85M105.4 143.8h0.85M118.7 139.2h0.85M135.3 137.7h0.85M110.3 144.8h0.85M119.2 138.5h0.85M139.2 142.4h0.85M100.5 145.4h0.85M119.5 146.0h0.85M124.6 142.3h0.85M102.7 146.9h0.85M118.8 148.0h0.85M142.9 148.4h0.85M135.3 144.5h0.85M116.5 146.2h0.85M115.5 144.9h0.85M136.9 147.0h0.85M139.5 148.0h0.85M140.2 133.8h0.85M129.4 143.2h0.85M103.7 144.7h0.85M115.6 140.1h0.85M124.3 137.1h0.85M129.7 144.4h0.85M139.3 144.8h0.85M100.8 143.7h0.85M111.5 146.3h0.85M123.1 139.0h0.85M131.5 145.1h0.85M120.8 141.5h0.85M138.9 147.5h0.85M136.6 147.4h0.85M113.8 146.5h0.85M119.1 144.9h0.85M99.4 148.5h0.85M124.8 141.8h0.85M110.5 144.7h0.85M133.0 144.7h0.85M131.4 146.2h0.85M113.3 141.0h0.85M102.5 141.3h0.85M137.3 136.9h0.85M107.7 144.5h0.85M107.0 146.9h0.85M106.2 144.8h0.85M124.2 147.6h0.85M120.6 145.5h0.85M142.5 136.0h0.85M134.6 145.2h0.85M97.3 144.3h0.85M116.0 137.6h0.85M138.6 147.1h0.85M107.9 148.1h0.85M103.3 138.2h0.85M122.1 145.4h0.85M97.5 148.4h0.85M141.3 148.1h0.85M129.2 144.2h0.85M110.8 145.4h0.85M116.4 131.4h0.85M109.0 147.3h0.85M138.0 142.3h0.85M141.5 143.1h0.85M128.0 146.6h0.85M117.4 146.5h0.85M133.7 145.1h0.85M127.7 146.9h0.85M120.8 148.0h0.85M122.6 141.7h0.85M101.5 146.4h0.85M130.1 141.2h0.85M108.6 141.3h0.85M146.2 147.5h0.85M126.0 147.6h0.85M98.6 139.9h0.85M102.8 145.6h0.85M142.8 146.5h0.85M126.0 146.0h0.85M101.0 143.3h0.85M128.7 147.0h0.85M100.2 145.1h0.85M141.6 148.3h0.85M107.7 142.9h0.85M145.6 141.4h0.85M117.2 146.9h0.85M137.9 143.7h0.85M145.2 146.3h0.85M142.7 147.4h0.85M139.2 132.2h0.85M146.0 143.7h0.85M136.7 147.3h0.85M106.3 146.7h0.85M111.9 144.6h0.85M113.3 144.0h0.85M97.8 141.6h0.85M137.8 143.3h0.85M109.4 139.7h0.85M144.5 143.4h0.85M110.7 142.3h0.85M139.2 138.8h0.85M124.8 143.5h0.85M117.3 147.6h0.85M121.4 147.9h0.85M120.6 145.9h0.85M125.9 145.8h0.85M119.4 147.8h0.85M105.6 144.5h0.85M98.2 147.9h0.85M130.7 145.0h0.85M115.7 145.4h0.85M132.9 146.2h0.85M113.1 146.4h0.85M144.1 147.7h0.85M119.7 147.3h0.85M143.6 144.7h0.85M108.5 143.6h0.85M128.3 136.9h0.85M102.4 141.6h0.85M130.7 141.0h0.85M127.8 143.9h0.85M113.5 147.0h0.85M108.6 147.7h0.85M110.0 145.7h0.85M105.7 143.0h0.85M98.9 137.9h0.85M99.3 148.1h0.85M111.5 143.7h0.85M105.1 146.4h0.85M118.2 146.9h0.85M128.6 142.2h0.85M103.7 148.7h0.85M98.9 148.3h0.85M106.2 147.4h0.85M144.4 142.5h0.85M132.0 146.8h0.85M125.2 142.5h0.85M140.8 147.5h0.85M109.9 133.9h0.85M118.1 135.9h0.85M126.8 141.6h0.85M142.5 138.7h0.85M98.2 139.4h0.85M115.2 138.0h0.85M108.4 148.5h0.85M125.0 137.2h0.85M116.0 146.9h0.85M109.4 144.3h0.85M121.4 141.7h0.85M126.6 146.1h0.85M134.2 139.0h0.85M105.4 145.8h0.85M138.2 147.4h0.85M126.9 143.3h0.85M102.2 144.2h0.85M132.6 138.7h0.85M113.4 147.1h0.85M108.2 145.1h0.85M128.3 148.1h0.85M135.1 141.0h0.85M140.9 148.6h0.85M133.0 143.4h0.85M144.1 147.3h0.85M123.4 146.6h0.85M120.5 143.8h0.85M139.4 148.2h0.85M120.4 138.3h0.85M120.5 143.2h0.85M123.6 145.1h0.85M104.2 140.7h0.85M123.6 139.5h0.85M132.1 147.5h0.85M142.8 139.7h0.85M104.3 141.5h0.85M119.0 146.9h0.85M97.1 142.7h0.85M126.2 147.7h0.85M105.4 147.9h0.85M108.4 147.6h0.85M134.0 142.7h0.85M127.0 144.0h0.85M119.8 145.3h0.85M114.1 144.1h0.85M134.0 144.8h0.85M124.5 141.3h0.85M135.7 145.7h0.85M120.5 146.1h0.85M130.5 144.5h0.85M108.4 145.7h0.85M131.4 135.1h0.85M128.7 146.3h0.85M111.8 141.2h0.85M107.8 146.7h0.85M98.5 146.2h0.85M129.9 145.3h0.85M128.3 144.4h0.85M140.6 147.0h0.85M134.8 146.1h0.85M124.1 146.1h0.85M114.5 147.5h0.85M101.1 146.6h0.85M119.2 142.4h0.85M114.2 147.8h0.85M125.6 134.8h0.85M119.8 146.1h0.85M127.4 140.8h0.85M109.6 140.1h0.85M103.2 145.4h0.85M126.2 142.5h0.85M131.6 144.0h0.85M143.0 135.4h0.85M138.2 144.1h0.85M104.9 146.8h0.85M123.1 139.3h0.85M119.3 144.5h0.85M117.1 144.7h0.85M107.0 145.8h0.85M145.2 141.3h0.85M122.4 134.2h0.85M101.9 145.2h0.85M123.3 139.5h0.85M117.8 139.1h0.85M134.8 148.6h0.85M117.1 143.1h0.85M126.6 148.4h0.85M98.3 145.1h0.85M105.3 140.7h0.85M112.3 140.1h0.85M119.5 142.4h0.85M108.9 144.3h0.85M99.0 134.3h0.85M138.1 143.3h0.85M127.5 144.1h0.85M121.5 144.4h0.85M146.0 141.8h0.85M120.4 142.2h0.85M133.9 141.3h0.85M144.0 133.5h0.85M130.4 138.8h0.85M97.5 142.3h0.85M109.0 140.3h0.85M110.8 141.3h0.85M131.5 139.7h0.85M122.3 142.9h0.85M136.6 144.0h0.85M108.7 144.0h0.85M113.9 138.4h0.85M97.4 137.6h0.85M127.9 147.1h0.85M115.6 145.4h0.85M118.2 148.4h0.85M131.1 144.0h0.85M99.4 145.7h0.85M104.1 144.4h0.85M123.1 145.8h0.85M110.8 144.7h0.85M135.5 142.1h0.85M131.7 142.4h0.85M137.5 144.4h0.85M122.4 140.7h0.85M113.7 146.3h0.85M102.1 147.9h0.85M102.1 138.6h0.85M143.4 141.2h0.85M130.9 144.7h0.85M124.4 146.9h0.85M113.7 136.9h0.85M105.0 144.8h0.85M122.5 146.0h0.85M114.2 147.3h0.85M122.0 137.5h0.85M97.6 146.6h0.85M135.2 147.1h0.85M137.3 143.3h0.85M98.6 145.3h0.85M133.9 147.9h0.85M133.3 146.0h0.85M104.5 138.3h0.85M104.6 145.7h0.85M143.3 143.3h0.85M110.9 141.8h0.85M139.3 145.9h0.85M107.2 147.0h0.85M143.7 145.8h0.85M134.0 143.1h0.85M126.1 148.7h0.85M114.9 143.0h0.85M100.2 141.6h0.85M102.0 139.4h0.85M104.8 129.4h0.85M118.0 142.9h0.85M131.1 145.2h0.85M133.2 146.4h0.85M145.2 145.3h0.85M129.1 147.0h0.85M125.0 143.6h0.85M97.9 145.0h0.85M129.5 144.2h0.85M124.7 144.6h0.85M132.3 146.3h0.85M107.2 143.4h0.85M142.4 144.4h0.85M98.7 146.6h0.85M121.9 148.1h0.85M101.4 145.5h0.85M102.1 147.9h0.85M128.1 140.8h0.85M99.9 143.8h0.85M123.7 145.0h0.85M142.9 147.1h0.85M138.7 147.3h0.85M114.4 140.7h0.85M102.6 147.3h0.85M141.3 147.0h0.85M133.6 138.4h0.85M123.4 142.5h0.85M131.0 135.1h0.85M110.6 144.3h0.85M115.2 143.7h0.85M130.0 144.2h0.85M110.3 142.9h0.85M108.4 145.2h0.85M137.3 143.2h0.85M110.0 143.0h0.85M135.3 148.1h0.85M118.1 140.0h0.85M126.9 142.4h0.85M133.4 146.9h0.85M136.9 146.5h0.85M122.3 148.2h0.85M134.7 148.0h0.85M113.9 139.3h0.85M123.1 146.2h0.85M129.9 147.6h0.85M98.4 142.2h0.85M121.1 147.9h0.85M139.0 146.8h0.85M120.7 140.8h0.85M130.6 146.0h0.85M118.7 145.0h0.85M105.2 142.8h0.85M125.2 146.2h0.85M140.8 143.1h0.85M99.6 146.1h0.85M120.4 143.6h0.85M131.3 143.0h0.85M123.8 147.5h0.85M133.7 136.5h0.85M107.2 144.4h0.85M101.5 144.1h0.85M125.7 140.9h0.85M130.7 146.3h0.85M112.6 146.7h0.85M98.3 147.3h0.85M134.2 143.3h0.85M105.7 142.9h0.85M114.2 144.6h0.85M103.7 142.7h0.85M128.6 145.4h0.85M146.2 145.5h0.85M120.0 133.9h0.85M117.7 145.6h0.85M125.3 147.3h0.85M132.1 137.5h0.85M142.5 133.4h0.85M124.8 141.8h0.85M113.0 144.0h0.85M132.7 141.4h0.85M128.3 144.3h0.85M117.1 146.6h0.85M134.4 140.8h0.85M144.0 143.4h0.85M130.5 148.5h0.85M133.0 143.8h0.85M140.2 146.9h0.85M143.1 144.1h0.85M116.2 143.7h0.85M120.1 145.9h0.85M138.6 138.2h0.85M139.3 141.4h0.85M100.7 136.9h0.85M108.0 140.5h0.85M136.7 144.9h0.85M105.5 141.0h0.85M140.9 144.1h0.85M98.5 143.7h0.85M106.5 144.0h0.85M143.6 147.1h0.85M106.9 147.7h0.85M130.2 142.3h0.85M97.3 143.4h0.85M111.5 144.4h0.85M129.0 146.0h0.85M100.9 144.7h0.85M129.2 139.0h0.85M145.6 140.3h0.85M108.0 148.0h0.85M130.7 148.2h0.85M134.5 146.3h0.85M106.5 140.8h0.85M137.7 148.1h0.85M115.8 143.2h0.85M112.6 148.1h0.85M135.9 146.2h0.85M121.5 142.7h0.85M116.2 146.4h0.85M114.7 145.8h0.85M110.4 148.2h0.85M124.3 147.1h0.85M120.8 148.2h0.85M119.8 147.7h0.85M119.4 146.9h0.85M140.8 148.3h0.85M106.6 146.9h0.85M118.7 143.0h0.85M135.5 145.6h0.85M129.9 135.8h0.85M140.8 136.9h0.85M107.8 145.0h0.85M143.7 139.8h0.85M139.2 148.3h0.85M121.1 144.2h0.85M126.4 145.1h0.85M130.2 141.4h0.85M107.1 142.1h0.85M101.9 147.5h0.85M106.1 144.7h0.85M119.4 143.4h0.85M143.3 143.0h0.85M127.5 143.6h0.85M136.3 140.5h0.85M120.5 147.6h0.85M101.4 148.7h0.85M111.5 146.9h0.85M106.6 143.2h0.85M125.5 142.3h0.85M97.5 147.7h0.85M103.6 134.7h0.85M115.9 148.1h0.85M103.3 145.5h0.85M134.3 143.9h0.85M136.7 147.7h0.85M119.4 146.7h0.85M97.4 146.0h0.85M112.3 137.1h0.85M117.3 145.5h0.85M102.8 148.2h0.85M136.2 144.1h0.85M127.7 147.6h0.85M135.3 146.0h0.85M107.2 138.6h0.85M97.7 144.9h0.85M109.7 141.9h0.85M117.8 144.8h0.85M128.1 142.6h0.85M118.5 144.8h0.85M146.6 140.2h0.85M117.7 148.5h0.85M116.6 138.7h0.85M106.1 146.9h0.85M129.7 146.4h0.85M122.5 147.5h0.85M126.1 144.6h0.85M117.5 148.6h0.85M112.1 148.1h0.85M102.9 144.8h0.85M109.4 147.2h0.85M101.4 147.7h0.85M114.4 147.8h0.85M131.3 137.3h0.85M126.1 144.9h0.85M115.3 147.4h0.85M144.4 143.4h0.85M136.5 143.2h0.85M124.5 148.5h0.85M139.7 147.4h0.85M143.3 145.8h0.85M126.3 137.8h0.85M104.2 148.7h0.85M126.0 142.7h0.85M117.4 140.2h0.85M121.6 148.4h0.85M114.7 142.3h0.85M131.5 143.7h0.85M131.5 138.3h0.85M140.0 146.4h0.85M99.5 148.0h0.85M140.3 144.0h0.85M104.7 143.8h0.85M99.3 143.4h0.85M131.0 145.7h0.85M108.2 146.9h0.85M107.8 148.5h0.85M98.3 141.0h0.85M127.8 147.4h0.85M129.4 143.9h0.85M109.4 146.7h0.85M102.7 143.6h0.85M102.4 147.8h0.85M144.9 139.3h0.85M98.5 147.6h0.85M139.7 145.3h0.85M120.4 148.4h0.85M136.2 137.3h0.85M117.9 142.2h0.85M116.1 142.1h0.85M143.9 141.1h0.85M138.2 146.1h0.85M103.1 143.2h0.85M116.1 146.2h0.85M113.0 146.8h0.85M101.6 145.2h0.85M97.2 147.7h0.85M142.4 147.4h0.85M127.1 147.9h0.85M140.3 142.8h0.85M103.8 142.0h0.85M123.5 147.2h0.85M139.1 148.5h0.85M105.1 141.1h0.85M121.4 146.1h0.85M124.5 147.3h0.85M133.6 147.3h0.85M128.7 148.2h0.85M138.3 147.7h0.85M134.3 147.2h0.85M98.1 147.3h0.85M100.4 142.2h0.85M113.9 148.5h0.85M115.1 138.9h0.85M118.1 148.3h0.85M97.0 148.6h0.85M111.4 148.5h0.85M104.6 141.9h0.85M102.1 146.2h0.85M98.2 142.0h0.85M114.7 142.0h0.85M143.2 148.3h0.85M145.4 144.6h0.85M141.1 147.9h0.85M99.2 145.5h0.85M134.9 143.8h0.85M115.6 143.1h0.85M120.2 143.1h0.85M121.1 139.9h0.85M117.8 145.2h0.85M104.2 146.7h0.85M128.4 142.6h0.85M100.9 146.7h0.85M125.8 141.2h0.85M139.4 144.6h0.85M131.4 141.6h0.85M98.5 147.4h0.85M98.0 139.8h0.85M138.1 143.1h0.85M118.0 147.2h0.85M138.5 147.5h0.85M128.8 142.4h0.85M113.4 136.2h0.85M137.9 147.2h0.85M142.7 142.5h0.85M105.3 148.3h0.85M140.4 139.2h0.85M125.8 147.1h0.85M132.6 145.8h0.85M122.6 148.6h0.85M110.0 147.9h0.85M113.5 136.0h0.85M105.9 147.0h0.85M112.9 144.4h0.85M131.7 140.9h0.85M127.8 145.8h0.85M129.3 147.5h0.85M122.8 148.1h0.85M143.7 139.8h0.85M143.7 140.6h0.85M142.4 143.7h0.85M142.9 141.0h0.85M145.2 146.8h0.85M143.4 143.7h0.85M144.0 143.0h0.85M144.6 140.6h0.85M145.9 144.2h0.85M143.9 145.8h0.85M140.2 136.3h0.85M143.5 136.3h0.85M143.6 134.1h0.85M145.0 142.6h0.85M145.3 140.7h0.85M142.1 148.5h0.85M143.3 147.1h0.85M140.9 137.8h0.85M146.8 143.3h0.85M145.7 131.0h0.85M144.4 146.9h0.85M146.0 145.5h0.85M146.6 148.6h0.85M144.1 140.1h0.85M142.5 145.5h0.85M146.1 147.5h0.85M143.8 130.4h0.85M142.8 134.7h0.85M145.9 138.8h0.85M143.1 142.1h0.85M146.1 135.8h0.85M143.0 135.1h0.85M144.7 145.6h0.85M146.3 140.2h0.85M140.4 132.5h0.85M142.3 135.9h0.85M145.1 147.6h0.85M143.8 140.5h0.85M144.9 138.7h0.85M141.6 146.9h0.85M143.0 144.9h0.85M142.4 144.5h0.85M143.6 142.1h0.85M144.6 140.7h0.85M143.6 148.5h0.85M144.5 136.2h0.85M146.6 142.6h0.85M143.2 139.5h0.85M146.4 125.2h0.85M145.3 148.1h0.85M144.1 148.0h0.85M142.7 147.0h0.85M145.6 148.1h0.85M140.4 146.8h0.85M144.6 140.9h0.85M141.5 138.1h0.85M142.1 140.1h0.85M143.7 143.9h0.85M146.4 140.0h0.85M146.8 139.3h0.85M143.0 133.8h0.85M143.4 145.2h0.85M145.0 148.1h0.85M142.9 148.7h0.85M145.7 145.4h0.85M145.5 148.7h0.85M146.3 145.9h0.85M144.1 141.2h0.85M145.1 147.1h0.85M143.7 139.1h0.85M143.5 142.9h0.85M144.9 148.2h0.85M145.0 142.7h0.85M145.3 147.6h0.85M145.9 140.7h0.85M145.1 143.5h0.85M144.7 146.8h0.85M144.5 148.6h0.85M146.2 142.7h0.85M144.5 146.3h0.85M145.8 146.8h0.85M143.1 141.1h0.85M143.4 142.3h0.85M144.7 143.2h0.85M144.0 139.3h0.85M146.2 141.4h0.85M146.5 137.0h0.85M146.0 140.6h0.85M143.9 137.5h0.85M143.1 141.2h0.85M143.7 143.9h0.85M142.2 148.6h0.85M146.5 139.1h0.85M145.9 138.4h0.85M146.6 141.7h0.85M142.7 143.9h0.85M146.0 135.7h0.85M142.0 147.0h0.85M144.3 144.1h0.85M143.5 147.8h0.85M144.3 145.8h0.85M143.6 145.6h0.85M144.9 147.5h0.85M141.8 134.6h0.85M142.3 146.1h0.85M143.3 147.0h0.85M146.6 139.0h0.85M142.6 142.3h0.85M146.3 139.6h0.85M144.8 148.0h0.85M146.2 146.9h0.85M145.7 139.4h0.85M142.0 139.8h0.85M144.5 136.7h0.85M144.4 143.0h0.85M145.6 143.9h0.85M143.7 141.4h0.85M145.9 138.3h0.85M145.5 139.4h0.85M143.4 146.5h0.85M144.9 144.3h0.85M145.0 141.9h0.85M145.4 139.4h0.85M144.9 145.9h0.85M140.9 146.1h0.85M144.7 146.1h0.85M142.6 143.0h0.85M144.9 139.6h0.85M144.3 132.9h0.85M143.9 142.6h0.85M145.4 139.0h0.85M143.2 144.0h0.85M140.8 148.8h0.85M143.5 146.8h0.85M145.4 141.5h0.85M145.5 146.3h0.85M144.5 147.9h0.85M146.2 143.7h0.85M144.7 146.3h0.85M143.5 138.5h0.85M142.3 148.7h0.85M144.3 145.8h0.85M143.1 141.8h0.85M143.6 148.1h0.85M145.5 144.0h0.85M145.3 138.6h0.85M143.1 146.2h0.85M146.0 141.5h0.85M143.3 135.9h0.85M146.5 137.1h0.85M143.1 142.4h0.85M144.6 136.2h0.85M144.7 146.6h0.85M143.3 146.6h0.85M141.1 139.4h0.85M140.5 148.2h0.85M144.0 138.9h0.85M145.1 132.1h0.85M142.1 135.3h0.85M146.4 144.0h0.85M144.9 144.0h0.85M146.8 144.2h0.85M144.2 145.6h0.85M146.2 136.8h0.85M143.4 143.3h0.85M145.3 141.9h0.85M143.3 147.8h0.85M143.9 139.8h0.85M143.8 138.5h0.85M144.9 146.4h0.85M143.2 146.5h0.85M143.7 148.1h0.85M145.6 147.5h0.85M145.9 144.3h0.85M144.0 146.3h0.85M146.3 146.0h0.85M143.0 144.7h0.85M145.4 144.4h0.85M142.6 137.8h0.85M141.9 142.3h0.85M144.3 139.7h0.85M142.6 145.4h0.85M144.5 134.6h0.85M146.4 141.8h0.85M144.1 145.3h0.85M141.7 135.9h0.85M143.1 142.1h0.85M143.9 143.3h0.85M146.3 136.3h0.85M143.7 144.4h0.85M142.9 140.5h0.85M144.2 145.8h0.85M144.3 131.4h0.85M142.5 140.7h0.85M142.1 146.7h0.85M141.9 144.3h0.85M143.1 144.9h0.85M144.5 148.4h0.85M144.4 146.2h0.85M142.8 147.9h0.85M144.7 138.2h0.85M144.6 148.6h0.85M144.9 138.1h0.85M144.1 147.9h0.85M145.7 148.0h0.85M143.4 141.7h0.85M144.5 136.8h0.85M143.8 140.3h0.85M145.3 145.6h0.85M143.8 144.1h0.85M142.2 148.6h0.85M145.4 144.4h0.85M146.3 140.9h0.85M143.4 145.6h0.85M146.4 141.7h0.85M144.0 140.1h0.85M145.8 133.9h0.85M143.3 142.2h0.85M145.3 142.1h0.85M144.5 131.8h0.85M144.1 147.2h0.85M142.5 144.8h0.85M145.4 148.5h0.85M145.6 134.8h0.85M143.9 139.4h0.85M144.6 134.8h0.85M144.4 148.2h0.85M142.2 146.2h0.85M142.8 144.4h0.85M145.3 136.1h0.85M143.1 147.3h0.85M143.9 147.1h0.85M145.3 143.0h0.85M144.4 139.2h0.85M143.1 138.0h0.85M140.7 141.8h0.85M141.5 132.2h0.85M143.8 148.7h0.85M140.3 147.9h0.85M144.1 139.8h0.85M143.9 147.7h0.85M146.0 147.4h0.85M143.3 145.0h0.85M145.1 148.6h0.85M142.6 147.4h0.85M145.7 148.5h0.85M144.6 146.4h0.85M143.9 141.3h0.85M141.7 145.3h0.85M143.6 136.5h0.85M144.9 139.6h0.85M142.7 147.0h0.85M141.1 146.7h0.85M143.7 147.6h0.85M145.9 142.4h0.85M142.4 142.3h0.85M146.2 144.8h0.85M144.3 143.5h0.85M144.4 147.9h0.85M141.1 146.7h0.85M146.6 147.1h0.85M144.7 145.8h0.85M140.8 147.4h0.85M146.7 137.3h0.85M142.3 141.4h0.85M141.9 135.6h0.85M143.8 147.1h0.85M143.5 148.7h0.85M144.9 147.5h0.85M143.7 148.6h0.85M144.0 141.6h0.85M141.5 145.4h0.85M143.0 148.3h0.85M142.3 142.9h0.85M144.0 133.2h0.85M143.4 130.0h0.85M144.7 148.7h0.85M143.4 147.8h0.85M143.8 147.7h0.85M144.9 144.8h0.85M141.4 146.5h0.85M143.6 137.7h0.85M144.5 143.5h0.85M140.1 143.3h0.85M145.7 141.5h0.85M143.8 148.4h0.85M146.1 148.5h0.85M141.0 137.9h0.85M140.1 140.3h0.85M144.5 144.1h0.85M142.8 141.6h0.85M145.1 137.9h0.85M139.9 145.4h0.85M143.9 130.4h0.85M145.5 134.1h0.85M144.9 129.8h0.85M144.4 143.4h0.85M146.0 131.0h0.85M144.6 140.1h0.85M145.0 143.5h0.85M142.8 146.9h0.85M145.5 136.7h0.85M145.1 145.3h0.85M145.1 146.5h0.85M144.9 142.5h0.85M145.1 141.5h0.85M143.2 143.3h0.85M143.5 134.5h0.85M146.3 145.5h0.85M144.2 130.9h0.85M143.7 135.6h0.85M142.1 146.0h0.85M144.3 148.4h0.85M145.5 146.4h0.85M141.9 145.9h0.85M143.3 145.7h0.85M142.1 139.0h0.85M141.3 148.5h0.85M143.6 135.3h0.85M142.1 142.2h0.85M146.4 140.5h0.85M141.4 135.6h0.85M142.7 139.4h0.85M146.7 137.4h0.85M146.8 144.0h0.85M141.0 148.5h0.85M144.8 140.2h0.85M143.8 139.5h0.85M142.7 132.8h0.85M143.2 147.8h0.85M145.0 141.2h0.85M143.9 129.5h0.85M143.8 147.0h0.85M144.1 146.4h0.85M145.1 143.6h0.85M144.8 136.0h0.85M142.1 142.9h0.85M144.8 148.0h0.85M140.7 147.7h0.85M141.8 136.0h0.85M143.3 142.1h0.85M144.3 143.3h0.85M139.3 130.5h0.85M144.7 137.0h0.85M144.0 147.5h0.85M142.6 140.1h0.85M145.4 146.9h0.85M145.0 144.5h0.85M145.7 133.8h0.85M144.4 147.5h0.85M146.0 140.1h0.85M144.8 145.6h0.85M142.9 140.7h0.85M146.1 145.4h0.85M142.8 142.5h0.85M145.1 146.8h0.85M142.5 143.7h0.85M143.6 145.5h0.85M142.1 145.3h0.85M142.7 148.0h0.85M143.2 138.7h0.85M102.9 132.0h0.85M94.3 115.4h0.85M96.5 114.4h0.85M99.9 115.8h0.85M110.4 138.1h0.85M96.5 126.8h0.85M118.2 126.0h0.85M112.0 134.1h0.85M102.8 128.4h0.85M116.3 146.7h0.85M107.4 129.3h0.85M116.3 145.6h0.85M100.2 108.3h0.85M134.7 118.6h0.85M145.2 121.7h0.85M93.0 115.1h0.85M113.8 132.9h0.85M133.4 131.2h0.85M108.9 144.3h0.85M136.4 141.5h0.85M120.8 116.1h0.85M142.7 142.2h0.85M94.4 143.9h0.85M128.5 124.1h0.85M139.5 141.4h0.85M143.4 135.0h0.85M118.0 144.3h0.85M124.2 140.6h0.85M110.1 140.1h0.85M113.0 113.7h0.85M120.4 139.2h0.85M92.2 143.3h0.85M107.7 145.3h0.85M125.2 132.4h0.85M135.1 109.2h0.85M117.9 132.2h0.85M124.4 109.9h0.85M135.2 147.0h0.85M107.3 114.9h0.85M146.5 127.9h0.85M132.6 114.8h0.85M128.1 147.4h0.85M116.6 118.8h0.85M96.4 146.3h0.85M127.6 135.5h0.85M126.6 135.2h0.85M108.9 137.1h0.85M104.8 129.1h0.85M112.1 138.2h0.85M105.1 127.5h0.85M146.3 141.6h0.85M128.2 121.6h0.85M127.2 116.8h0.85M119.7 125.6h0.85M139.5 135.2h0.85M133.3 142.8h0.85M129.5 147.2h0.85M98.8 129.6h0.85M102.1 130.1h0.85M127.1 134.3h0.85M95.9 125.7h0.85M137.9 134.0h0.85M141.5 129.0h0.85M118.5 133.9h0.85M137.1 145.4h0.85M113.2 124.8h0.85M119.9 117.0h0.85M116.4 142.0h0.85M100.3 147.1h0.85M133.8 110.6h0.85M137.4 113.2h0.85M92.5 137.2h0.85M141.6 130.1h0.85M109.0 132.5h0.85M102.5 125.7h0.85M95.5 138.6h0.85M120.2 146.5h0.85M93.4 126.4h0.85M120.1 143.8h0.85M127.1 134.8h0.85M134.0 116.0h0.85M104.5 142.8h0.85M140.3 136.2h0.85M116.8 121.5h0.85M137.9 141.0h0.85M94.8 122.7h0.85M97.5 110.4h0.85M144.2 142.4h0.85M100.9 142.1h0.85M116.8 116.7h0.85M133.0 137.3h0.85M101.0 144.9h0.85M98.9 147.7h0.85M132.5 134.7h0.85M133.4 112.0h0.85M142.9 104.8h0.85M93.1 131.2h0.85M106.5 144.8h0.85M92.5 122.9h0.85M144.6 145.0h0.85M116.1 145.4h0.85M139.9 140.2h0.85M96.4 132.8h0.85M100.2 144.4h0.85M136.8 126.6h0.85M123.7 147.3h0.85M119.2 146.8h0.85M101.0 113.4h0.85M125.4 145.7h0.85M108.8 126.6h0.85M97.8 147.9h0.85M113.3 130.5h0.85M143.4 124.9h0.85M104.3 115.9h0.85M112.2 130.5h0.85M100.9 127.2h0.85M93.0 129.3h0.85M139.3 117.3h0.85M118.4 133.9h0.85M125.1 117.0h0.85M142.0 146.7h0.85M126.0 131.8h0.85M129.6 134.5h0.85M95.2 143.8h0.85M93.0 136.8h0.85M144.0 116.8h0.85M123.6 147.3h0.85M107.1 128.4h0.85M130.9 134.9h0.85M134.4 145.8h0.85M108.5 134.4h0.85M117.6 139.9h0.85M122.1 119.9h0.85M98.7 123.4h0.85M141.3 139.0h0.85M144.3 140.9h0.85M138.4 138.2h0.85M132.2 132.2h0.85M132.9 144.5h0.85M140.1 117.1h0.85M140.5 145.6h0.85M145.3 139.6h0.85M105.9 138.5h0.85M113.9 105.2h0.85M114.2 111.0h0.85M141.2 142.2h0.85M105.4 126.5h0.85M135.2 126.0h0.85M96.6 147.4h0.85M101.5 120.0h0.85M102.3 144.8h0.85M141.6 139.1h0.85M106.0 114.8h0.85M99.2 147.5h0.85M99.7 108.8h0.85M126.7 137.6h0.85M106.1 116.0h0.85M140.6 128.8h0.85M122.9 138.7h0.85M127.0 131.7h0.85M111.5 145.0h0.85M119.4 147.6h0.85M137.5 140.6h0.85M141.7 147.7h0.85M124.6 142.7h0.85M95.8 126.7h0.85M125.1 146.6h0.85M143.2 117.5h0.85M129.8 138.3h0.85M119.4 122.2h0.85M104.0 137.3h0.85M125.7 142.9h0.85M144.7 119.8h0.85M144.1 136.4h0.85M128.6 131.4h0.85M127.7 141.1h0.85M139.3 116.8h0.85M131.3 122.0h0.85M95.8 131.1h0.85M126.9 133.4h0.85M142.6 127.8h0.85M117.5 135.7h0.85M115.2 118.0h0.85M91.2 135.5h0.85M139.1 144.9h0.85M95.5 144.1h0.85M114.9 125.2h0.85M142.4 136.1h0.85M97.2 137.8h0.85M101.1 134.7h0.85M145.7 134.8h0.85M109.4 104.4h0.85M121.9 138.1h0.85M113.1 140.2h0.85M131.4 135.0h0.85M100.9 122.1h0.85M95.1 133.3h0.85M100.8 136.0h0.85M142.3 145.4h0.85M97.2 141.6h0.85M131.5 140.6h0.85M107.5 134.6h0.85M121.8 126.7h0.85M95.6 129.4h0.85M132.7 142.1h0.85M111.9 123.3h0.85M140.8 135.0h0.85M105.0 142.9h0.85M95.2 143.5h0.85M142.2 137.2h0.85M132.9 134.1h0.85M129.3 129.2h0.85M106.8 145.1h0.85M136.6 147.3h0.85M119.2 127.8h0.85M108.6 136.1h0.85M121.4 137.9h0.85M100.3 139.2h0.85M99.9 138.2h0.85M130.8 143.1h0.85M104.8 140.0h0.85M99.0 142.6h0.85M116.5 139.1h0.85M141.0 105.9h0.85M116.9 138.3h0.85M139.9 145.2h0.85M129.7 124.7h0.85M100.3 141.0h0.85M112.2 133.0h0.85M127.5 131.4h0.85M123.9 118.9h0.85M137.0 120.5h0.85M137.5 147.4h0.85M95.6 118.3h0.85M141.1 145.9h0.85M120.1 142.3h0.85M93.6 143.0h0.85M138.8 133.9h0.85M107.6 140.7h0.85M121.6 121.7h0.85M109.0 145.9h0.85M127.2 132.4h0.85M116.1 124.2h0.85M92.8 127.2h0.85M108.6 143.8h0.85M138.0 140.4h0.85M116.3 146.8h0.85M128.9 123.2h0.85M145.8 114.4h0.85M91.9 136.5h0.85M107.7 141.1h0.85M134.6 147.1h0.85M136.7 130.1h0.85M116.3 135.9h0.85M138.0 120.7h0.85M102.5 139.9h0.85M120.6 136.6h0.85M117.6 124.6h0.85M138.2 132.3h0.85" stroke="#000" stroke-width="0.85" fill="none" opacity="0.9"/>
<rect x="90.2" y="103.2" width="56.9" height="45.8" fill="none" stroke="#333" stroke-width="0.8"/>
<rect x="90.2" y="137.2" width="6.6" height="11.8" fill="none" stroke="#333" stroke-width="0.7"/>
<line x1="87.9" y1="152.3" x2="87.9" y2="100" stroke="#000" stroke-width="1" />
<path d="M87.9 96.2 L89.9 101.4 L85.9 101.4 Z" fill="#000" stroke="none" stroke-width="1" stroke-linejoin="round" />
<line x1="87.9" y1="152.3" x2="148" y2="152.3" stroke="#000" stroke-width="1" />
<path d="M152.8 152.3 L147.2 154.5 L147.2 150.1 Z" fill="#000" stroke="none" stroke-width="1" stroke-linejoin="round" />
<text x="85.9" y="122.2" font-size="8" font-family='"Liberation Serif", serif' font-weight="bold" text-anchor="middle" fill="#000" transform="rotate(-90 85.9 122.2)" textLength="19.5" lengthAdjust="spacingAndGlyphs" stroke="#000" stroke-width="0.25" >BLT1</text>
<text x="112.8" y="161.8" font-size="9.2" font-family='"Liberation Serif", serif' font-weight="bold" text-anchor="middle" fill="#000" textLength="22.8" lengthAdjust="spacingAndGlyphs" stroke="#000" stroke-width="0.25" >CFSE</text>
<text x="169.0" y="13.4" font-size="16" font-family='"Liberation Sans", sans-serif' font-weight="bold" text-anchor="start" fill="#000" textLength="10.6" lengthAdjust="spacingAndGlyphs" stroke="#000" stroke-width="0.5" >B</text>
<text x="201.6" y="20.8" font-size="10.6" font-family='"Liberation Serif", serif' font-weight="normal" text-anchor="middle" fill="#000" textLength="20" lengthAdjust="spacingAndGlyphs" stroke="#000" stroke-width="0.15">CD8</text>
<line x1="188.5" y1="24.4" x2="214.2" y2="24.4" stroke="#222" stroke-width="0.9" />
<path d="M171.5 81 L172 79.5 L174 76 L176.5 71 L179 67 L180.6 66 L182.5 68 L185 70.6 L187 67 L188.5 60 L190.3 53 L191.8 50 L193.2 52 L194.6 57 L196.4 66 L198 75 L199.8 79.2 L203 80.4 L208.5 80.9 L230 81.2 L230 81.8 L171.5 81.8 Z" fill="#000" stroke="none" stroke-width="1" stroke-linejoin="round" />
<path d="M171.5 80 L173 77 L175 66 L176.8 50 L178.2 42 L179 39.7 L180 42 L181.5 50 L183.5 59 L185.5 64.5 L187.5 68 L190 72 L193 76 L196.5 79 L200 80.5" fill="none" stroke="#c6c6c6" stroke-width="1.3" stroke-linejoin="round" />
<rect x="170.2" y="37.1" width="59.6" height="44.8" fill="none" stroke="#111" stroke-width="1"/>
<line x1="189.6" y1="39" x2="189.6" y2="49.6" stroke="#000" stroke-width="0.9" />
<line x1="189.6" y1="45.0" x2="229.8" y2="45.0" stroke="#222" stroke-width="0.8" />
<text x="211.3" y="44.3" font-size="7.4" font-family='"Liberation Serif", serif' font-weight="normal" text-anchor="middle" fill="#111" textLength="11.6" lengthAdjust="spacingAndGlyphs" stroke="#111" stroke-width="0.15">39%</text>
<line x1="173.2" y1="87.8" x2="224" y2="87.8" stroke="#000" stroke-width="1" />
<path d="M229 87.8 L223.4 89.9 L223.4 85.7 Z" fill="#000" stroke="none" stroke-width="1" stroke-linejoin="round" />
<text x="200.2" y="98.2" font-size="9.0" font-family='"Liberation Serif", serif' font-weight="bold" text-anchor="middle" fill="#000" textLength="21" lengthAdjust="spacingAndGlyphs" stroke="#000" stroke-width="0.25" >BLT1</text>
<text x="1.2" y="185.3" font-size="16.3" font-family='"Liberation Sans", sans-serif' font-weight="bold" text-anchor="start" fill="#000" textLength="11" lengthAdjust="spacingAndGlyphs" stroke="#000" stroke-width="0.5" >C</text>
<text x="67.1" y="194.8" font-size="10.3" font-family='"Liberation Serif", serif' font-weight="normal" text-anchor="middle" fill="#000" textLength="42" lengthAdjust="spacingAndGlyphs" stroke="#000" stroke-width="0.12">Th1 Cells</text>
<line x1="44.6" y1="198.0" x2="88.8" y2="198.0" stroke="#222" stroke-width="0.9" />
<line x1="13.5" y1="214.1" x2="13.5" y2="289.6" stroke="#000" stroke-width="0.9" />
<line x1="13.5" y1="289.6" x2="138.7" y2="289.6" stroke="#000" stroke-width="0.9" />
<line x1="11.9" y1="289.6" x2="13.5" y2="289.6" stroke="#000" stroke-width="0.6" />
<text x="10.7" y="291.0" font-size="3.9" font-family='"Liberation Sans", sans-serif' font-weight="bold" text-anchor="end" fill="#000" stroke="#000" stroke-width="0.15">0</text>
<line x1="11.9" y1="278.95714285714286" x2="13.5" y2="278.95714285714286" stroke="#000" stroke-width="0.6" />
<text x="10.7" y="280.35714285714283" font-size="3.9" font-family='"Liberation Sans", sans-serif' font-weight="bold" text-anchor="end" fill="#000" stroke="#000" stroke-width="0.15">1</text>
<line x1="11.9" y1="268.31428571428575" x2="13.5" y2="268.31428571428575" stroke="#000" stroke-width="0.6" />
<text x="10.7" y="269.7142857142857" font-size="3.9" font-family='"Liberation Sans", sans-serif' font-weight="bold" text-anchor="end" fill="#000" stroke="#000" stroke-width="0.15">2</text>
<line x1="11.9" y1="257.6714285714286" x2="13.5" y2="257.6714285714286" stroke="#000" stroke-width="0.6" />
<text x="10.7" y="259.07142857142856" font-size="3.9" font-family='"Liberation Sans", sans-serif' font-weight="bold" text-anchor="end" fill="#000" stroke="#000" stroke-width="0.15">3</text>
<line x1="11.9" y1="247.02857142857144" x2="13.5" y2="247.02857142857144" stroke="#000" stroke-width="0.6" />
<text x="10.7" y="248.42857142857144" font-size="3.9" font-family='"Liberation Sans", sans-serif' font-weight="bold" text-anchor="end" fill="#000" stroke="#000" stroke-width="0.15">4</text>
<line x1="11.9" y1="236.3857142857143" x2="13.5" y2="236.3857142857143" stroke="#000" stroke-width="0.6" />
<text x="10.7" y="237.7857142857143" font-size="3.9" font-family='"Liberation Sans", sans-serif' font-weight="bold" text-anchor="end" fill="#000" stroke="#000" stroke-width="0.15">5</text>
<line x1="11.9" y1="225.74285714285713" x2="13.5" y2="225.74285714285713" stroke="#000" stroke-width="0.6" />
<text x="10.7" y="227.14285714285714" font-size="3.9" font-family='"Liberation Sans", sans-serif' font-weight="bold" text-anchor="end" fill="#000" stroke="#000" stroke-width="0.15">6</text>
<line x1="11.9" y1="215.1" x2="13.5" y2="215.1" stroke="#000" stroke-width="0.6" />
<text x="10.7" y="216.5" font-size="3.9" font-family='"Liberation Sans", sans-serif' font-weight="bold" text-anchor="end" fill="#000" stroke="#000" stroke-width="0.15">7</text>
<line x1="38.54" y1="289.6" x2="38.54" y2="291.20000000000005" stroke="#000" stroke-width="0.6" />
<line x1="63.58" y1="289.6" x2="63.58" y2="291.20000000000005" stroke="#000" stroke-width="0.6" />
<line x1="88.62" y1="289.6" x2="88.62" y2="291.20000000000005" stroke="#000" stroke-width="0.6" />
<line x1="113.66" y1="289.6" x2="113.66" y2="291.20000000000005" stroke="#000" stroke-width="0.6" />
<line x1="138.7" y1="289.6" x2="138.7" y2="291.20000000000005" stroke="#000" stroke-width="0.6" />
<text x="26.2" y="295.90000000000003" font-size="4.0" font-family='"Liberation Sans", sans-serif' font-weight="bold" text-anchor="middle" fill="#000" stroke="#000" stroke-width="0.2">0.1nm</text>
<text x="50.9" y="295.90000000000003" font-size="4.0" font-family='"Liberation Sans", sans-serif' font-weight="bold" text-anchor="middle" fill="#000" stroke="#000" stroke-width="0.2">1nm</text>
<text x="75.7" y="295.90000000000003" font-size="4.0" font-family='"Liberation Sans", sans-serif' font-weight="bold" text-anchor="middle" fill="#000" stroke="#000" stroke-width="0.2">10nm</text>
<text x="100.3" y="295.90000000000003" font-size="4.0" font-family='"Liberation Sans", sans-serif' font-weight="bold" text-anchor="middle" fill="#000" stroke="#000" stroke-width="0.2">100nm</text>
<text x="125" y="295.90000000000003" font-size="4.0" font-family='"Liberation Sans", sans-serif' font-weight="bold" text-anchor="middle" fill="#000" stroke="#000" stroke-width="0.2">1000nm</text>
<text x="75.4" y="303.4" font-size="6.0" font-family='"Liberation Serif", serif' font-weight="bold" text-anchor="middle" fill="#000" textLength="14" lengthAdjust="spacingAndGlyphs" >LTB4</text>
<text x="5.2" y="255.8" font-size="5.8" font-family='"Liberation Serif", serif' font-weight="bold" text-anchor="middle" fill="#000" transform="rotate(-90 5.2 255.8)" textLength="34.5" lengthAdjust="spacingAndGlyphs" stroke="#000" stroke-width="0.15">Chemotactic Index</text>
<path d="M26.20 275.76 L50.90 275.44 L75.70 274.49 L100.30 277.89 L125.00 274.49" fill="none" stroke="#000" stroke-width="0.9" stroke-dasharray="3.5 1.6 1.2 1.6"/>
<line x1="26.2" y1="274.56428571428575" x2="26.2" y2="276.9642857142857" stroke="#000" stroke-width="0.8" />
<line x1="23.599999999999998" y1="274.56428571428575" x2="28.8" y2="274.56428571428575" stroke="#000" stroke-width="0.8" />
<line x1="23.599999999999998" y1="276.9642857142857" x2="28.8" y2="276.9642857142857" stroke="#000" stroke-width="0.8" />
<rect x="24.07" y="273.64" width="4.25" height="4.25" fill="#e4e4e4" stroke="#000" stroke-width="1"/>
<rect x="25.50" y="275.06" width="1.4" height="1.4" fill="#444"/>
<line x1="50.9" y1="274.445" x2="50.9" y2="276.445" stroke="#000" stroke-width="0.8" />
<line x1="48.3" y1="274.445" x2="53.5" y2="274.445" stroke="#000" stroke-width="0.8" />
<line x1="48.3" y1="276.445" x2="53.5" y2="276.445" stroke="#000" stroke-width="0.8" />
<rect x="48.77" y="273.32" width="4.25" height="4.25" fill="#e4e4e4" stroke="#000" stroke-width="1"/>
<rect x="50.20" y="274.75" width="1.4" height="1.4" fill="#444"/>
<line x1="75.7" y1="273.4871428571429" x2="75.7" y2="275.4871428571429" stroke="#000" stroke-width="0.8" />
<line x1="73.10000000000001" y1="273.4871428571429" x2="78.3" y2="273.4871428571429" stroke="#000" stroke-width="0.8" />
<line x1="73.10000000000001" y1="275.4871428571429" x2="78.3" y2="275.4871428571429" stroke="#000" stroke-width="0.8" />
<rect x="73.58" y="272.36" width="4.25" height="4.25" fill="#e4e4e4" stroke="#000" stroke-width="1"/>
<rect x="75.00" y="273.79" width="1.4" height="1.4" fill="#444"/>
<line x1="100.3" y1="276.4928571428572" x2="100.3" y2="279.29285714285714" stroke="#000" stroke-width="0.8" />
<line x1="97.7" y1="276.4928571428572" x2="102.89999999999999" y2="276.4928571428572" stroke="#000" stroke-width="0.8" />
<line x1="97.7" y1="279.29285714285714" x2="102.89999999999999" y2="279.29285714285714" stroke="#000" stroke-width="0.8" />
<rect x="98.17" y="275.77" width="4.25" height="4.25" fill="#e4e4e4" stroke="#000" stroke-width="1"/>
<rect x="99.60" y="277.19" width="1.4" height="1.4" fill="#444"/>
<line x1="125" y1="273.4871428571429" x2="125" y2="275.4871428571429" stroke="#000" stroke-width="0.8" />
<line x1="122.4" y1="273.4871428571429" x2="127.6" y2="273.4871428571429" stroke="#000" stroke-width="0.8" />
<line x1="122.4" y1="275.4871428571429" x2="127.6" y2="275.4871428571429" stroke="#000" stroke-width="0.8" />
<rect x="122.88" y="272.36" width="4.25" height="4.25" fill="#e4e4e4" stroke="#000" stroke-width="1"/>
<rect x="124.30" y="273.79" width="1.4" height="1.4" fill="#444"/>
<path d="M26.20 282.15 L50.90 278.11 L75.70 278.64 L100.30 278.43 L125.00 280.45" fill="none" stroke="#000" stroke-width="0.9" stroke-dasharray="1.3 1.3"/>
<line x1="26.2" y1="281.15000000000003" x2="26.2" y2="283.15000000000003" stroke="#000" stroke-width="0.8" />
<line x1="23.599999999999998" y1="281.15000000000003" x2="28.8" y2="281.15000000000003" stroke="#000" stroke-width="0.8" />
<line x1="23.599999999999998" y1="283.15000000000003" x2="28.8" y2="283.15000000000003" stroke="#000" stroke-width="0.8" />
<path d="M26.2 279.85 L28.5 283.99 L23.9 283.99 Z" fill="#fff" stroke="#000" stroke-width="0.9" stroke-linejoin="round" />
<line x1="50.9" y1="276.90571428571434" x2="50.9" y2="279.3057142857143" stroke="#000" stroke-width="0.8" />
<line x1="48.3" y1="276.90571428571434" x2="53.5" y2="276.90571428571434" stroke="#000" stroke-width="0.8" />
<line x1="48.3" y1="279.3057142857143" x2="53.5" y2="279.3057142857143" stroke="#000" stroke-width="0.8" />
<path d="M50.9 275.81 L53.2 279.95 L48.6 279.95 Z" fill="#fff" stroke="#000" stroke-width="0.9" stroke-linejoin="round" />
<line x1="75.7" y1="277.6378571428572" x2="75.7" y2="279.6378571428572" stroke="#000" stroke-width="0.8" />
<line x1="73.10000000000001" y1="277.6378571428572" x2="78.3" y2="277.6378571428572" stroke="#000" stroke-width="0.8" />
<line x1="73.10000000000001" y1="279.6378571428572" x2="78.3" y2="279.6378571428572" stroke="#000" stroke-width="0.8" />
<path d="M75.7 276.34 L78.0 280.48 L73.4 280.48 Z" fill="#fff" stroke="#000" stroke-width="0.9" stroke-linejoin="round" />
<line x1="100.3" y1="277.225" x2="100.3" y2="279.625" stroke="#000" stroke-width="0.8" />
<line x1="97.7" y1="277.225" x2="102.89999999999999" y2="277.225" stroke="#000" stroke-width="0.8" />
<line x1="97.7" y1="279.625" x2="102.89999999999999" y2="279.625" stroke="#000" stroke-width="0.8" />
<path d="M100.3 276.12 L102.6 280.26 L98.0 280.26 Z" fill="#fff" stroke="#000" stroke-width="0.9" stroke-linejoin="round" />
<line x1="125" y1="279.44714285714286" x2="125" y2="281.44714285714286" stroke="#000" stroke-width="0.8" />
<line x1="122.4" y1="279.44714285714286" x2="127.6" y2="279.44714285714286" stroke="#000" stroke-width="0.8" />
<line x1="122.4" y1="281.44714285714286" x2="127.6" y2="281.44714285714286" stroke="#000" stroke-width="0.8" />
<path d="M125 278.15 L127.3 282.29 L122.7 282.29 Z" fill="#fff" stroke="#000" stroke-width="0.9" stroke-linejoin="round" />
<path d="M26.20 282.36 L50.90 279.17 L75.70 278.96 L100.30 282.58 L125.00 280.55" fill="none" stroke="#000" stroke-width="1.0" stroke-dasharray="4 2"/>
<line x1="26.2" y1="281.36285714285714" x2="26.2" y2="283.36285714285714" stroke="#000" stroke-width="0.8" />
<line x1="23.599999999999998" y1="281.36285714285714" x2="28.8" y2="281.36285714285714" stroke="#000" stroke-width="0.8" />
<line x1="23.599999999999998" y1="283.36285714285714" x2="28.8" y2="283.36285714285714" stroke="#000" stroke-width="0.8" />
<circle cx="26.2" cy="282.36285714285714" r="2.295" fill="#000"/>
<line x1="50.9" y1="277.77000000000004" x2="50.9" y2="280.57" stroke="#000" stroke-width="0.8" />
<line x1="48.3" y1="277.77000000000004" x2="53.5" y2="277.77000000000004" stroke="#000" stroke-width="0.8" />
<line x1="48.3" y1="280.57" x2="53.5" y2="280.57" stroke="#000" stroke-width="0.8" />
<circle cx="50.9" cy="279.17" r="2.295" fill="#000"/>
<line x1="75.7" y1="277.95714285714286" x2="75.7" y2="279.95714285714286" stroke="#000" stroke-width="0.8" />
<line x1="73.10000000000001" y1="277.95714285714286" x2="78.3" y2="277.95714285714286" stroke="#000" stroke-width="0.8" />
<line x1="73.10000000000001" y1="279.95714285714286" x2="78.3" y2="279.95714285714286" stroke="#000" stroke-width="0.8" />
<circle cx="75.7" cy="278.95714285714286" r="2.295" fill="#000"/>
<line x1="100.3" y1="281.5757142857143" x2="100.3" y2="283.5757142857143" stroke="#000" stroke-width="0.8" />
<line x1="97.7" y1="281.5757142857143" x2="102.89999999999999" y2="281.5757142857143" stroke="#000" stroke-width="0.8" />
<line x1="97.7" y1="283.5757142857143" x2="102.89999999999999" y2="283.5757142857143" stroke="#000" stroke-width="0.8" />
<circle cx="100.3" cy="282.5757142857143" r="2.295" fill="#000"/>
<line x1="125" y1="279.55357142857144" x2="125" y2="281.55357142857144" stroke="#000" stroke-width="0.8" />
<line x1="122.4" y1="279.55357142857144" x2="127.6" y2="279.55357142857144" stroke="#000" stroke-width="0.8" />
<line x1="122.4" y1="281.55357142857144" x2="127.6" y2="281.55357142857144" stroke="#000" stroke-width="0.8" />
<circle cx="125" cy="280.55357142857144" r="2.295" fill="#000"/>
<path d="M26.20 242.03 L50.90 236.39 L75.70 224.47 L100.30 246.50 L125.00 259.59" fill="none" stroke="#000" stroke-width="1.1"/>
<line x1="26.2" y1="240.42642857142857" x2="26.2" y2="243.62642857142856" stroke="#000" stroke-width="0.8" />
<line x1="23.599999999999998" y1="240.42642857142857" x2="28.8" y2="240.42642857142857" stroke="#000" stroke-width="0.8" />
<line x1="23.599999999999998" y1="243.62642857142856" x2="28.8" y2="243.62642857142856" stroke="#000" stroke-width="0.8" />
<path d="M26.2 239.53 L28.7 242.03 L26.2 244.53 L23.7 242.03 Z" fill="#000" stroke="none" stroke-width="1" stroke-linejoin="round" />
<line x1="50.9" y1="234.9857142857143" x2="50.9" y2="237.7857142857143" stroke="#000" stroke-width="0.8" />
<line x1="48.3" y1="234.9857142857143" x2="53.5" y2="234.9857142857143" stroke="#000" stroke-width="0.8" />
<line x1="48.3" y1="237.7857142857143" x2="53.5" y2="237.7857142857143" stroke="#000" stroke-width="0.8" />
<path d="M50.9 233.89 L53.4 236.39 L50.9 238.89 L48.4 236.39 Z" fill="#000" stroke="none" stroke-width="1" stroke-linejoin="round" />
<line x1="75.7" y1="222.2657142857143" x2="75.7" y2="226.66571428571427" stroke="#000" stroke-width="0.8" />
<line x1="73.10000000000001" y1="222.2657142857143" x2="78.3" y2="222.2657142857143" stroke="#000" stroke-width="0.8" />
<line x1="73.10000000000001" y1="226.66571428571427" x2="78.3" y2="226.66571428571427" stroke="#000" stroke-width="0.8" />
<path d="M75.7 221.97 L78.2 224.47 L75.7 226.97 L73.2 224.47 Z" fill="#000" stroke="none" stroke-width="1" stroke-linejoin="round" />
<line x1="100.3" y1="242.59642857142856" x2="100.3" y2="250.39642857142857" stroke="#000" stroke-width="0.8" />
<line x1="97.7" y1="242.59642857142856" x2="102.89999999999999" y2="242.59642857142856" stroke="#000" stroke-width="0.8" />
<line x1="97.7" y1="250.39642857142857" x2="102.89999999999999" y2="250.39642857142857" stroke="#000" stroke-width="0.8" />
<path d="M100.3 244.0 L102.8 246.5 L100.3 249.0 L97.8 246.5 Z" fill="#000" stroke="none" stroke-width="1" stroke-linejoin="round" />
<line x1="125" y1="258.78714285714284" x2="125" y2="260.38714285714286" stroke="#000" stroke-width="0.8" />
<line x1="122.4" y1="258.78714285714284" x2="127.6" y2="258.78714285714284" stroke="#000" stroke-width="0.8" />
<line x1="122.4" y1="260.38714285714286" x2="127.6" y2="260.38714285714286" stroke="#000" stroke-width="0.8" />
<path d="M125 257.09 L127.5 259.59 L125 262.09 L122.5 259.59 Z" fill="#000" stroke="none" stroke-width="1" stroke-linejoin="round" />
<path d="M112.30 203.10 L125.20 203.10 L139.20 203.10" fill="none" stroke="#000" stroke-width="1.0"/>
<path d="M125.2 200.3 L128.0 203.1 L125.2 205.9 L122.4 203.1 Z" fill="#000" stroke="none" stroke-width="1" stroke-linejoin="round" />
<text x="140.6" y="205.6" font-size="7.8" font-family='"Liberation Serif", serif' font-weight="normal" text-anchor="start" fill="#000" textLength="48.4" lengthAdjust="spacingAndGlyphs" stroke="#000" stroke-width="0.1">0 nm cp-105696</text>
<path d="M112.30 214.30 L125.20 214.30 L139.20 214.30" fill="none" stroke="#000" stroke-width="1.0" stroke-dasharray="4 3 1.2 2.2"/>
<rect x="122.82" y="211.92" width="4.76" height="4.76" fill="#e4e4e4" stroke="#000" stroke-width="1"/>
<rect x="124.50" y="213.60" width="1.4" height="1.4" fill="#444"/>
<text x="140.6" y="216.8" font-size="7.8" font-family='"Liberation Serif", serif' font-weight="normal" text-anchor="start" fill="#000" textLength="48.4" lengthAdjust="spacingAndGlyphs" stroke="#000" stroke-width="0.1">1 nm cp-105696</text>
<path d="M112.30 225.20 L125.20 225.20 L139.20 225.20" fill="none" stroke="#000" stroke-width="1.0" stroke-dasharray="4.5 2.6"/>
<circle cx="125.2" cy="225.2" r="2.38" fill="#000"/>
<text x="140.6" y="227.7" font-size="7.8" font-family='"Liberation Serif", serif' font-weight="normal" text-anchor="start" fill="#000" textLength="52.3" lengthAdjust="spacingAndGlyphs" stroke="#000" stroke-width="0.1">10 nm cp-105696</text>
<path d="M112.30 236.40 L125.20 236.40 L139.20 236.40" fill="none" stroke="#000" stroke-width="1.0" stroke-dasharray="1.3 2"/>
<path d="M125.2 234.0 L127.6 238.32 L122.8 238.32 Z" fill="#fff" stroke="#000" stroke-width="0.9" stroke-linejoin="round" />
<text x="140.6" y="238.9" font-size="7.8" font-family='"Liberation Serif", serif' font-weight="normal" text-anchor="start" fill="#000" textLength="55.8" lengthAdjust="spacingAndGlyphs" stroke="#000" stroke-width="0.1">100 nm cp-105696</text>
<text x="255.2" y="13.5" font-size="16.2" font-family='"Liberation Sans", sans-serif' font-weight="bold" text-anchor="start" fill="#000" textLength="11.2" lengthAdjust="spacingAndGlyphs" stroke="#000" stroke-width="0.5" >D</text>
<text x="317.3" y="21.3" font-size="10.3" font-family='"Liberation Serif", serif' font-weight="normal" text-anchor="middle" fill="#000" textLength="42" lengthAdjust="spacingAndGlyphs" stroke="#000" stroke-width="0.12">Th2 Cells</text>
<line x1="295.2" y1="24.5" x2="338.8" y2="24.5" stroke="#222" stroke-width="0.9" />
<line x1="272.4" y1="43.7" x2="272.4" y2="112.4" stroke="#000" stroke-width="0.9" />
<line x1="272.4" y1="112.4" x2="383.5" y2="112.4" stroke="#000" stroke-width="0.9" />
<line x1="270.79999999999995" y1="112.4" x2="272.4" y2="112.4" stroke="#000" stroke-width="0.6" />
<text x="269.2" y="113.9" font-size="4.3" font-family='"Liberation Sans", sans-serif' font-weight="bold" text-anchor="end" fill="#000" stroke="#000" stroke-width="0.15">0</text>
<line x1="270.79999999999995" y1="98.86" x2="272.4" y2="98.86" stroke="#000" stroke-width="0.6" />
<text x="269.2" y="100.36" font-size="4.3" font-family='"Liberation Sans", sans-serif' font-weight="bold" text-anchor="end" fill="#000" stroke="#000" stroke-width="0.15">1</text>
<line x1="270.79999999999995" y1="85.32000000000001" x2="272.4" y2="85.32000000000001" stroke="#000" stroke-width="0.6" />
<text x="269.2" y="86.82000000000001" font-size="4.3" font-family='"Liberation Sans", sans-serif' font-weight="bold" text-anchor="end" fill="#000" stroke="#000" stroke-width="0.15">2</text>
<line x1="270.79999999999995" y1="71.78" x2="272.4" y2="71.78" stroke="#000" stroke-width="0.6" />
<text x="269.2" y="73.28" font-size="4.3" font-family='"Liberation Sans", sans-serif' font-weight="bold" text-anchor="end" fill="#000" stroke="#000" stroke-width="0.15">3</text>
<line x1="270.79999999999995" y1="58.24" x2="272.4" y2="58.24" stroke="#000" stroke-width="0.6" />
<text x="269.2" y="59.74" font-size="4.3" font-family='"Liberation Sans", sans-serif' font-weight="bold" text-anchor="end" fill="#000" stroke="#000" stroke-width="0.15">4</text>
<line x1="270.79999999999995" y1="44.7" x2="272.4" y2="44.7" stroke="#000" stroke-width="0.6" />
<text x="269.2" y="46.2" font-size="4.3" font-family='"Liberation Sans", sans-serif' font-weight="bold" text-anchor="end" fill="#000" stroke="#000" stroke-width="0.15">5</text>
<line x1="294.59999999999997" y1="112.4" x2="294.59999999999997" y2="114.0" stroke="#000" stroke-width="0.6" />
<line x1="316.79999999999995" y1="112.4" x2="316.79999999999995" y2="114.0" stroke="#000" stroke-width="0.6" />
<line x1="339.0" y1="112.4" x2="339.0" y2="114.0" stroke="#000" stroke-width="0.6" />
<line x1="361.2" y1="112.4" x2="361.2" y2="114.0" stroke="#000" stroke-width="0.6" />
<line x1="383.4" y1="112.4" x2="383.4" y2="114.0" stroke="#000" stroke-width="0.6" />
<text x="284.2" y="121.0" font-size="4.7" font-family='"Liberation Sans", sans-serif' font-weight="bold" text-anchor="middle" fill="#000" stroke="#000" stroke-width="0.2">0.1nm</text>
<text x="306.4" y="121.0" font-size="4.7" font-family='"Liberation Sans", sans-serif' font-weight="bold" text-anchor="middle" fill="#000" stroke="#000" stroke-width="0.2">1nm</text>
<text x="328.2" y="121.0" font-size="4.7" font-family='"Liberation Sans", sans-serif' font-weight="bold" text-anchor="middle" fill="#000" stroke="#000" stroke-width="0.2">10nm</text>
<text x="350.2" y="121.0" font-size="4.7" font-family='"Liberation Sans", sans-serif' font-weight="bold" text-anchor="middle" fill="#000" stroke="#000" stroke-width="0.2">100nm</text>
<text x="372.5" y="121.0" font-size="4.7" font-family='"Liberation Sans", sans-serif' font-weight="bold" text-anchor="middle" fill="#000" stroke="#000" stroke-width="0.2">1000nm</text>
<text x="328.2" y="129.2" font-size="7.4" font-family='"Liberation Serif", serif' font-weight="bold" text-anchor="middle" fill="#000" textLength="18.6" lengthAdjust="spacingAndGlyphs" stroke="#000" stroke-width="0.25" >LTB4</text>
<text x="262.6" y="82.2" font-size="7.8" font-family='"Liberation Serif", serif' font-weight="bold" text-anchor="middle" fill="#000" transform="rotate(-90 262.6 82.2)" textLength="49.5" lengthAdjust="spacingAndGlyphs" stroke="#000" stroke-width="0.25" >Chemotactic Index</text>
<path d="M284.20 100.21 L306.40 95.48 L328.20 93.44 L350.20 94.12 L372.50 94.12" fill="none" stroke="#000" stroke-width="0.9" stroke-dasharray="1.3 1.3"/>
<line x1="284.2" y1="99.214" x2="284.2" y2="101.214" stroke="#000" stroke-width="0.8" />
<line x1="281.59999999999997" y1="99.214" x2="286.8" y2="99.214" stroke="#000" stroke-width="0.8" />
<line x1="281.59999999999997" y1="101.214" x2="286.8" y2="101.214" stroke="#000" stroke-width="0.8" />
<path d="M284.2 98.31 L286.1 101.73 L282.3 101.73 Z" fill="#fff" stroke="#000" stroke-width="0.9" stroke-linejoin="round" />
<line x1="306.4" y1="93.87500000000001" x2="306.4" y2="97.075" stroke="#000" stroke-width="0.8" />
<line x1="303.79999999999995" y1="93.87500000000001" x2="309.0" y2="93.87500000000001" stroke="#000" stroke-width="0.8" />
<line x1="303.79999999999995" y1="97.075" x2="309.0" y2="97.075" stroke="#000" stroke-width="0.8" />
<path d="M306.4 93.58 L308.3 97.0 L304.5 97.0 Z" fill="#fff" stroke="#000" stroke-width="0.9" stroke-linejoin="round" />
<line x1="328.2" y1="92.044" x2="328.2" y2="94.84400000000001" stroke="#000" stroke-width="0.8" />
<line x1="325.59999999999997" y1="92.044" x2="330.8" y2="92.044" stroke="#000" stroke-width="0.8" />
<line x1="325.59999999999997" y1="94.84400000000001" x2="330.8" y2="94.84400000000001" stroke="#000" stroke-width="0.8" />
<path d="M328.2 91.54 L330.1 94.96 L326.3 94.96 Z" fill="#fff" stroke="#000" stroke-width="0.9" stroke-linejoin="round" />
<line x1="350.2" y1="92.921" x2="350.2" y2="95.32100000000001" stroke="#000" stroke-width="0.8" />
<line x1="347.59999999999997" y1="92.921" x2="352.8" y2="92.921" stroke="#000" stroke-width="0.8" />
<line x1="347.59999999999997" y1="95.32100000000001" x2="352.8" y2="95.32100000000001" stroke="#000" stroke-width="0.8" />
<path d="M350.2 92.22 L352.1 95.64 L348.3 95.64 Z" fill="#fff" stroke="#000" stroke-width="0.9" stroke-linejoin="round" />
<line x1="372.5" y1="93.12100000000001" x2="372.5" y2="95.12100000000001" stroke="#000" stroke-width="0.8" />
<line x1="369.9" y1="93.12100000000001" x2="375.1" y2="93.12100000000001" stroke="#000" stroke-width="0.8" />
<line x1="369.9" y1="95.12100000000001" x2="375.1" y2="95.12100000000001" stroke="#000" stroke-width="0.8" />
<path d="M372.5 92.22 L374.4 95.64 L370.6 95.64 Z" fill="#fff" stroke="#000" stroke-width="0.9" stroke-linejoin="round" />
<path d="M284.20 100.21 L306.40 97.51 L328.20 96.83 L350.20 96.15 L372.50 94.80" fill="none" stroke="#000" stroke-width="1.0" stroke-dasharray="4 2"/>
<line x1="284.2" y1="99.014" x2="284.2" y2="101.414" stroke="#000" stroke-width="0.8" />
<line x1="281.59999999999997" y1="99.014" x2="286.8" y2="99.014" stroke="#000" stroke-width="0.8" />
<line x1="281.59999999999997" y1="101.414" x2="286.8" y2="101.414" stroke="#000" stroke-width="0.8" />
<circle cx="284.2" cy="100.214" r="1.9549999999999998" fill="#000"/>
<line x1="306.4" y1="95.906" x2="306.4" y2="99.106" stroke="#000" stroke-width="0.8" />
<line x1="303.79999999999995" y1="95.906" x2="309.0" y2="95.906" stroke="#000" stroke-width="0.8" />
<line x1="303.79999999999995" y1="99.106" x2="309.0" y2="99.106" stroke="#000" stroke-width="0.8" />
<circle cx="306.4" cy="97.506" r="1.9549999999999998" fill="#000"/>
<line x1="328.2" y1="95.02900000000001" x2="328.2" y2="98.629" stroke="#000" stroke-width="0.8" />
<line x1="325.59999999999997" y1="95.02900000000001" x2="330.8" y2="95.02900000000001" stroke="#000" stroke-width="0.8" />
<line x1="325.59999999999997" y1="98.629" x2="330.8" y2="98.629" stroke="#000" stroke-width="0.8" />
<circle cx="328.2" cy="96.82900000000001" r="1.9549999999999998" fill="#000"/>
<line x1="350.2" y1="94.952" x2="350.2" y2="97.352" stroke="#000" stroke-width="0.8" />
<line x1="347.59999999999997" y1="94.952" x2="352.8" y2="94.952" stroke="#000" stroke-width="0.8" />
<line x1="347.59999999999997" y1="97.352" x2="352.8" y2="97.352" stroke="#000" stroke-width="0.8" />
<circle cx="350.2" cy="96.152" r="1.9549999999999998" fill="#000"/>
<line x1="372.5" y1="93.598" x2="372.5" y2="95.998" stroke="#000" stroke-width="0.8" />
<line x1="369.9" y1="93.598" x2="375.1" y2="93.598" stroke="#000" stroke-width="0.8" />
<line x1="369.9" y1="95.998" x2="375.1" y2="95.998" stroke="#000" stroke-width="0.8" />
<circle cx="372.5" cy="94.798" r="1.9549999999999998" fill="#000"/>
<path d="M284.20 104.28 L306.40 98.86 L328.20 98.86 L350.20 100.21 L372.50 98.18" fill="none" stroke="#000" stroke-width="0.9" stroke-dasharray="3.5 1.6 1.2 1.6"/>
<line x1="284.2" y1="103.47600000000001" x2="284.2" y2="105.07600000000001" stroke="#000" stroke-width="0.8" />
<line x1="281.59999999999997" y1="103.47600000000001" x2="286.8" y2="103.47600000000001" stroke="#000" stroke-width="0.8" />
<line x1="281.59999999999997" y1="105.07600000000001" x2="286.8" y2="105.07600000000001" stroke="#000" stroke-width="0.8" />
<path d="M284.2 102.18 L286.3 104.28 L284.2 106.38 L282.1 104.28 Z" fill="#000" stroke="none" stroke-width="1" stroke-linejoin="round" />
<line x1="306.4" y1="97.86" x2="306.4" y2="99.86" stroke="#000" stroke-width="0.8" />
<line x1="303.79999999999995" y1="97.86" x2="309.0" y2="97.86" stroke="#000" stroke-width="0.8" />
<line x1="303.79999999999995" y1="99.86" x2="309.0" y2="99.86" stroke="#000" stroke-width="0.8" />
<path d="M306.4 96.76 L308.5 98.86 L306.4 100.96 L304.3 98.86 Z" fill="#000" stroke="none" stroke-width="1" stroke-linejoin="round" />
<line x1="328.2" y1="97.66" x2="328.2" y2="100.06" stroke="#000" stroke-width="0.8" />
<line x1="325.59999999999997" y1="97.66" x2="330.8" y2="97.66" stroke="#000" stroke-width="0.8" />
<line x1="325.59999999999997" y1="100.06" x2="330.8" y2="100.06" stroke="#000" stroke-width="0.8" />
<path d="M328.2 96.76 L330.3 98.86 L328.2 100.96 L326.1 98.86 Z" fill="#000" stroke="none" stroke-width="1" stroke-linejoin="round" />
<line x1="350.2" y1="99.214" x2="350.2" y2="101.214" stroke="#000" stroke-width="0.8" />
<line x1="347.59999999999997" y1="99.214" x2="352.8" y2="99.214" stroke="#000" stroke-width="0.8" />
<line x1="347.59999999999997" y1="101.214" x2="352.8" y2="101.214" stroke="#000" stroke-width="0.8" />
<path d="M350.2 98.11 L352.3 100.21 L350.2 102.31 L348.1 100.21 Z" fill="#000" stroke="none" stroke-width="1" stroke-linejoin="round" />
<line x1="372.5" y1="96.58300000000001" x2="372.5" y2="99.783" stroke="#000" stroke-width="0.8" />
<line x1="369.9" y1="96.58300000000001" x2="375.1" y2="96.58300000000001" stroke="#000" stroke-width="0.8" />
<line x1="369.9" y1="99.783" x2="375.1" y2="99.783" stroke="#000" stroke-width="0.8" />
<path d="M372.5 96.08 L374.6 98.18 L372.5 100.28 L370.4 98.18 Z" fill="#000" stroke="none" stroke-width="1" stroke-linejoin="round" />
<path d="M284.20 98.86 L306.40 83.29 L328.20 66.36 L350.20 79.23 L372.50 90.06" fill="none" stroke="#000" stroke-width="1.1"/>
<line x1="284.2" y1="97.66" x2="284.2" y2="100.06" stroke="#000" stroke-width="0.8" />
<line x1="281.59999999999997" y1="97.66" x2="286.8" y2="97.66" stroke="#000" stroke-width="0.8" />
<line x1="281.59999999999997" y1="100.06" x2="286.8" y2="100.06" stroke="#000" stroke-width="0.8" />
<path d="M284.2 96.56 L286.5 98.86 L284.2 101.16 L281.9 98.86 Z" fill="#000" stroke="none" stroke-width="1" stroke-linejoin="round" />
<line x1="306.4" y1="82.489" x2="306.4" y2="84.089" stroke="#000" stroke-width="0.8" />
<line x1="303.79999999999995" y1="82.489" x2="309.0" y2="82.489" stroke="#000" stroke-width="0.8" />
<line x1="303.79999999999995" y1="84.089" x2="309.0" y2="84.089" stroke="#000" stroke-width="0.8" />
<path d="M306.4 80.99 L308.7 83.29 L306.4 85.59 L304.1 83.29 Z" fill="#000" stroke="none" stroke-width="1" stroke-linejoin="round" />
<line x1="328.2" y1="64.164" x2="328.2" y2="68.56400000000001" stroke="#000" stroke-width="0.8" />
<line x1="325.59999999999997" y1="64.164" x2="330.8" y2="64.164" stroke="#000" stroke-width="0.8" />
<line x1="325.59999999999997" y1="68.56400000000001" x2="330.8" y2="68.56400000000001" stroke="#000" stroke-width="0.8" />
<path d="M328.2 64.06 L330.5 66.36 L328.2 68.66 L325.9 66.36 Z" fill="#000" stroke="none" stroke-width="1" stroke-linejoin="round" />
<line x1="350.2" y1="78.62700000000001" x2="350.2" y2="79.827" stroke="#000" stroke-width="0.8" />
<line x1="347.59999999999997" y1="78.62700000000001" x2="352.8" y2="78.62700000000001" stroke="#000" stroke-width="0.8" />
<line x1="347.59999999999997" y1="79.827" x2="352.8" y2="79.827" stroke="#000" stroke-width="0.8" />
<path d="M350.2 76.93 L352.5 79.23 L350.2 81.53 L347.9 79.23 Z" fill="#000" stroke="none" stroke-width="1" stroke-linejoin="round" />
<line x1="372.5" y1="89.259" x2="372.5" y2="90.859" stroke="#000" stroke-width="0.8" />
<line x1="369.9" y1="89.259" x2="375.1" y2="89.259" stroke="#000" stroke-width="0.8" />
<line x1="369.9" y1="90.859" x2="375.1" y2="90.859" stroke="#000" stroke-width="0.8" />
<path d="M372.5 87.76 L374.8 90.06 L372.5 92.36 L370.2 90.06 Z" fill="#000" stroke="none" stroke-width="1" stroke-linejoin="round" />
<path d="M357.50 29.30 L371.20 29.30 L384.30 29.30" fill="none" stroke="#000" stroke-width="1.0"/>
<path d="M371.2 27.5 L373.0 29.3 L371.2 31.1 L369.4 29.3 Z" fill="#000" stroke="none" stroke-width="1" stroke-linejoin="round" />
<text x="386.3" y="31.8" font-size="7.8" font-family='"Liberation Serif", serif' font-weight="normal" text-anchor="start" fill="#000" textLength="49" lengthAdjust="spacingAndGlyphs" stroke="#000" stroke-width="0.1">0 nm cp-105696</text>
<path d="M357.50 41.20 L371.20 41.20 L384.30 41.20" fill="none" stroke="#000" stroke-width="1.0" stroke-dasharray="4.6 2.2"/>
<circle cx="371.2" cy="41.2" r="1.785" fill="#000"/>
<text x="386.3" y="43.7" font-size="7.8" font-family='"Liberation Serif", serif' font-weight="normal" text-anchor="start" fill="#000" textLength="52.5" lengthAdjust="spacingAndGlyphs" stroke="#000" stroke-width="0.1">10 nm cp-105696</text>
<path d="M357.50 53.30 L371.20 53.30 L384.30 53.30" fill="none" stroke="#000" stroke-width="1.0" stroke-dasharray="1.3 2"/>
<path d="M371.2 51.4 L373.1 54.82 L369.3 54.82 Z" fill="#fff" stroke="#000" stroke-width="0.9" stroke-linejoin="round" />
<text x="386.3" y="55.8" font-size="7.8" font-family='"Liberation Serif", serif' font-weight="normal" text-anchor="start" fill="#000" textLength="56.5" lengthAdjust="spacingAndGlyphs" stroke="#000" stroke-width="0.1">100 nm cp-105666</text>
<path d="M357.50 65.10 L371.20 65.10 L384.30 65.10" fill="none" stroke="#000" stroke-width="1.0" stroke-dasharray="4.6 2.2 1.5 2.2"/>
<path d="M371.2 62.9 L373.4 65.1 L371.2 67.3 L369.0 65.1 Z" fill="#000" stroke="none" stroke-width="1" stroke-linejoin="round" />
<text x="386.3" y="67.6" font-size="7.8" font-family='"Liberation Serif", serif' font-weight="normal" text-anchor="start" fill="#000" textLength="60.5" lengthAdjust="spacingAndGlyphs" stroke="#000" stroke-width="0.1">1000 nm cp-105666</text>
<text x="255.3" y="153.1" font-size="16.2" font-family='"Liberation Sans", sans-serif' font-weight="bold" text-anchor="start" fill="#000" textLength="10" lengthAdjust="spacingAndGlyphs" stroke="#000" stroke-width="0.5" >E</text>
<text x="315.5" y="160.3" font-size="7.6" font-family='"Liberation Serif", serif' font-weight="normal" text-anchor="middle" fill="#111" textLength="55" lengthAdjust="spacingAndGlyphs" >Before activation</text>
<text x="385.8" y="160.3" font-size="7.6" font-family='"Liberation Serif", serif' font-weight="normal" text-anchor="middle" fill="#111" textLength="50.5" lengthAdjust="spacingAndGlyphs" >After activation</text>
<text x="267.0" y="195.2" font-size="11.6" font-family='"Liberation Serif", serif' font-weight="normal" text-anchor="middle" fill="#000" textLength="10.2" lengthAdjust="spacingAndGlyphs" >γδ</text>
<text x="267.1" y="257.3" font-size="10.4" font-family='"Liberation Serif", serif' font-weight="normal" text-anchor="middle" fill="#000" textLength="21.2" lengthAdjust="spacingAndGlyphs" >NKT</text>
<path d="M287.2 212.6 L287.6 206 L288.4 198 L289.4 191 L290.4 186.5 L291.6 184 L292.6 187 L293.4 191.5 L294.4 197 L295.6 202 L297 206 L298.6 208.8 L301 210 L305.7 210.8 L309 211.6 L345 212 L345 212.6 Z" fill="#000" stroke="none" stroke-width="1" stroke-linejoin="round" />
<path d="M287 209 L287.8 201 L288.8 191 L290 182 L291.2 178.5 L292.4 182 L293.8 189 L295.2 196 L297 202.5 L299 207 L302 209.5 L306 210.6" fill="none" stroke="#c8c8c8" stroke-width="1.2" stroke-linejoin="round" />
<rect x="285.4" y="167.6" width="60.2" height="45.1" fill="none" stroke="#222" stroke-width="0.9"/>
<line x1="300.2" y1="175.1" x2="341.4" y2="175.1" stroke="#333" stroke-width="0.7" />
<line x1="300.2" y1="170.4" x2="300.2" y2="179.6" stroke="#000" stroke-width="0.8" />
<line x1="341.4" y1="170.4" x2="341.4" y2="179.6" stroke="#000" stroke-width="0.8" />
<text x="319.4" y="174.3" font-size="7.6" font-family='"Liberation Serif", serif' font-weight="normal" text-anchor="middle" fill="#111" textLength="13" lengthAdjust="spacingAndGlyphs" stroke="#111" stroke-width="0.15">3.5%</text>
<path d="M361 212.6 L362.8 210.6 L364.6 207 L366.5 201.4 L367.5 195 L368.3 189.5 L369.2 184 L370.2 181.2 L371.2 183.5 L372 187.7 L373 193 L373.8 198.6 L374.8 204 L375.7 207.8 L377 210 L380 211.2 L389.4 211.8 L415 212.1 L415 212.6 Z" fill="#000" stroke="none" stroke-width="1" stroke-linejoin="round" />
<path d="M357 211.2 L358.2 210 L360 205 L362 196 L363.8 186 L365.2 180 L366.1 177.6 L367 180 L368.2 186 L369.5 192.5 L371 199 L372.6 204.5 L374.5 208.5 L377 210.8 L381 211.6" fill="none" stroke="#c8c8c8" stroke-width="1.2" stroke-linejoin="round" />
<rect x="355.1" y="167.6" width="60.6" height="45.0" fill="none" stroke="#222" stroke-width="0.9"/>
<line x1="370.5" y1="175.1" x2="410.8" y2="175.1" stroke="#333" stroke-width="0.7" />
<line x1="370.5" y1="169.4" x2="370.5" y2="181.3" stroke="#000" stroke-width="0.8" />
<line x1="410.8" y1="170.4" x2="410.8" y2="179.8" stroke="#000" stroke-width="0.8" />
<text x="391.8" y="174.3" font-size="7.6" font-family='"Liberation Serif", serif' font-weight="normal" text-anchor="middle" fill="#111" textLength="12.3" lengthAdjust="spacingAndGlyphs" stroke="#111" stroke-width="0.15">34%</text>
<path d="M287.8 271.8 L288.2 262 L288.6 252 L289.6 247 L290.8 243 L292 240.5 L292.5 237.8 L293 240.5 L293.8 244 L294.7 249.5 L295.6 255 L296.5 259 L297.4 262.3 L298.6 265.5 L300.2 267.8 L302.9 270 L304 271.8 Z" fill="#000" stroke="none" stroke-width="1" stroke-linejoin="round" />
<path d="M289 270 L289.4 264 L290.2 259 L291 255.9 L292 258.5 L293 262.5 L294.4 266.5 L296.4 269.3 L299 270.4" fill="none" stroke="#e8e8e8" stroke-width="0.9" stroke-linejoin="round" />
<line x1="287" y1="253" x2="287" y2="271" stroke="#c8c8c8" stroke-width="0.8" />
<rect x="285.4" y="227.6" width="60.2" height="44.6" fill="none" stroke="#222" stroke-width="0.9"/>
<line x1="297.4" y1="234.8" x2="345.6" y2="234.8" stroke="#333" stroke-width="0.7" />
<line x1="297.4" y1="230.2" x2="297.4" y2="239.6" stroke="#000" stroke-width="0.8" />
<text x="319.4" y="233.9" font-size="7.6" font-family='"Liberation Serif", serif' font-weight="normal" text-anchor="middle" fill="#111" textLength="13.6" lengthAdjust="spacingAndGlyphs" stroke="#111" stroke-width="0.15">2.2%</text>
<line x1="285.8" y1="284.3" x2="338" y2="284.3" stroke="#000" stroke-width="0.9" />
<path d="M342.9 284.3 L337.3 286.4 L337.3 282.2 Z" fill="#000" stroke="none" stroke-width="1" stroke-linejoin="round" />
<text x="312.7" y="295.2" font-size="8.4" font-family='"Liberation Serif", serif' font-weight="bold" text-anchor="middle" fill="#000" textLength="22" lengthAdjust="spacingAndGlyphs" stroke="#000" stroke-width="0.25" >BLT1</text>
<path d="M359 271.8 L360 268 L361.8 262 L363.7 255 L365.5 248.5 L367.4 243.5 L368.8 240.5 L369.8 239.4 L371 241.5 L372.4 246 L373.6 251 L374.7 255.5 L376 261 L377.2 265.5 L378.4 269 L380 270.8 L383 271.4 L383 271.8 Z" fill="#000" stroke="none" stroke-width="1" stroke-linejoin="round" />
<path d="M357 270.5 L358.6 266.5 L360.6 258.5 L362.8 249 L364.8 241 L366.4 236.4 L367.4 234.8 L368.2 237 L369.2 243 L370.4 250 L371.8 257.5 L373.2 263.5 L374.8 267.8 L377 270 L380 270.9" fill="none" stroke="#c8c8c8" stroke-width="1.2" stroke-linejoin="round" />
<rect x="355.1" y="227.6" width="60.6" height="44.6" fill="none" stroke="#222" stroke-width="0.9"/>
<line x1="370.5" y1="234.6" x2="415.7" y2="234.6" stroke="#333" stroke-width="0.7" />
<line x1="370.5" y1="227.6" x2="370.5" y2="240.4" stroke="#000" stroke-width="0.8" />
<text x="391.8" y="233.8" font-size="7.6" font-family='"Liberation Serif", serif' font-weight="normal" text-anchor="middle" fill="#111" textLength="12.3" lengthAdjust="spacingAndGlyphs" stroke="#111" stroke-width="0.15">24%</text>
<line x1="358.6" y1="284.3" x2="410" y2="284.3" stroke="#000" stroke-width="0.9" />
<path d="M415 284.3 L409.4 286.4 L409.4 282.2 Z" fill="#000" stroke="none" stroke-width="1" stroke-linejoin="round" />
<text x="385.2" y="295.2" font-size="8.4" font-family='"Liberation Serif", serif' font-weight="bold" text-anchor="middle" fill="#000" textLength="21.5" lengthAdjust="spacingAndGlyphs" stroke="#000" stroke-width="0.25" >BLT1</text>
<text x="435.4" y="153.4" font-size="16.3" font-family='"Liberation Sans", sans-serif' font-weight="bold" text-anchor="start" fill="#000" textLength="10.2" lengthAdjust="spacingAndGlyphs" stroke="#000" stroke-width="0.5" >F</text>
<text x="475.4" y="177.1" font-size="9" font-family='"Liberation Serif", serif' font-weight="bold" text-anchor="start" fill="#000" textLength="17.6" lengthAdjust="spacingAndGlyphs" stroke="#000" stroke-width="0.25" >LTB</text>
<text x="493.0" y="179.0" font-size="6.4" font-family='"Liberation Serif", serif' font-weight="bold" text-anchor="start" fill="#000" >4</text>
<line x1="487.6" y1="181.2" x2="483.6" y2="203" stroke="#000" stroke-width="0.9" />
<path d="M451.6 245.8 L451.7 232.79 L452.55 232.79 L452.55 232.89 L453.4 232.89 L453.4 233.09 L454.25 233.09 L454.25 232.08 L455.1 232.08 L455.1 232.66 L455.95 232.66 L455.95 232.34 L456.8 232.34 L457.3 245.8 Z" fill="#000" stroke="none" stroke-width="1" stroke-linejoin="round" />
<path d="M460.2 245.8 L460.3 231.05 L461.15 231.05 L461.15 231.27 L462.0 231.27 L462.0 231.09 L462.85 231.09 L462.85 230.73 L463.7 230.73 L463.7 229.75 L464.55 229.75 L464.55 231.16 L465.4 231.16 L465.4 230.39 L466.25 230.39 L466.25 230.38 L467.1 230.38 L467.1 231.0 L467.95 231.0 L467.95 230.55 L468.8 230.55 L468.8 245.8 Z" fill="#000" stroke="none" stroke-width="1" stroke-linejoin="round" />
<path d="M472.8 245.8 L472.9 228.64 L473.75 228.64 L473.75 228.44 L474.6 228.44 L474.6 227.49 L475.45 227.49 L475.45 226.9 L476.3 226.9 L476.3 227.25 L477.15 227.25 L477.15 225.98 L478.0 225.98 L478.0 225.8 L478.85 225.8 L478.85 224.21 L479.7 224.21 L479.7 224.02 L480.55 224.02 L480.55 223.35 L481.4 223.35 L481.4 220.95 L482.25 220.95 L482.25 219.5 L483.1 219.5 L483.1 218.54 L483.95 218.54 L483.95 218.81 L484.8 218.81 L484.8 216.9 L485.65 216.9 L485.65 217.26 L486.5 217.26 L486.5 217.98 L487.35 217.98 L487.35 218.16 L488.2 218.16 L488.2 219.05 L489.05 219.05 L489.05 220.66 L489.9 220.66 L489.9 222.06 L490.75 222.06 L490.75 223.79 L491.6 223.79 L491.6 224.89 L492.45 224.89 L492.45 225.02 L493.3 225.02 L493.4 245.8 Z" fill="#000" stroke="none" stroke-width="1" stroke-linejoin="round" />
<path d="M451.6 197.5h0.9M451.7 200.2h0.9M451.6 201.2h0.9M451.7 202.8h0.9M451.7 204.4h0.9M451.6 205.4h0.9M451.7 207.9h0.9M451.6 209.6h0.9M451.8 210.5h0.9M451.6 214.9h0.9M451.6 216.3h0.9M451.8 218.2h0.9M451.6 218.8h0.9M451.6 219.8h0.9M451.6 221.7h0.9M451.8 222.3h0.9M451.6 224.2h0.9M451.7 224.7h0.9M451.8 226.4h0.9M451.8 227.6h0.9M451.8 229.3h0.9M451.8 229.9h0.9M451.6 230.7h0.9M451.7 231.9h0.9M451.8 232.5h0.9M452.5 196.1h0.9M452.7 196.9h0.9M452.6 198.6h0.9M452.5 201.3h0.9M452.7 202.1h0.9M452.6 205.5h0.9M452.7 208.0h0.9M452.5 209.4h0.9M452.5 210.3h0.9M452.7 212.3h0.9M452.6 212.9h0.9M452.4 215.5h0.9M452.6 216.3h0.9M452.5 217.3h0.9M452.7 219.6h0.9M452.6 220.7h0.9M452.7 221.6h0.9M452.6 222.2h0.9M452.5 223.2h0.9M452.6 224.0h0.9M452.5 225.9h0.9M452.4 226.8h0.9M452.6 227.5h0.9M452.5 228.2h0.9M452.6 229.3h0.9M452.4 230.1h0.9M452.5 231.0h0.9M452.6 231.6h0.9M452.6 232.6h0.9M453.4 192.6h0.9M453.4 193.6h0.9M453.5 194.3h0.9M453.4 198.6h0.9M453.4 200.1h0.9M453.5 201.9h0.9M453.4 212.0h0.9M453.4 213.0h0.9M453.4 213.9h0.9M453.4 217.4h0.9M453.4 218.3h0.9M453.4 219.7h0.9M453.5 222.5h0.9M453.5 223.1h0.9M453.3 224.8h0.9M453.5 225.7h0.9M453.3 226.7h0.9M453.3 227.4h0.9M453.5 228.2h0.9M453.3 229.1h0.9M453.5 229.9h0.9M453.4 230.9h0.9M453.5 231.7h0.9M453.4 232.5h0.9M453.3 233.5h0.9M454.2 193.4h0.9M454.1 195.2h0.9M454.4 197.8h0.9M454.2 202.7h0.9M454.3 206.3h0.9M454.1 211.1h0.9M454.2 212.1h0.9M454.3 213.0h0.9M454.3 214.8h0.9M454.3 215.5h0.9M454.2 217.3h0.9M454.4 218.0h0.9M454.1 221.6h0.9M454.1 222.5h0.9M454.1 223.2h0.9M454.3 224.9h0.9M454.1 225.9h0.9M454.3 226.5h0.9M454.3 227.3h0.9M454.3 228.3h0.9M454.2 229.3h0.9M454.4 231.0h0.9M454.2 231.6h0.9M454.3 232.6h0.9M455.1 197.6h0.9M455.0 201.0h0.9M455.0 209.6h0.9M455.0 211.5h0.9M455.0 212.8h0.9M455.2 219.8h0.9M455.0 220.5h0.9M455.2 223.4h0.9M455.2 224.0h0.9M455.0 224.8h0.9M455.2 225.6h0.9M455.1 226.5h0.9M455.2 227.5h0.9M455.1 229.1h0.9M455.1 229.9h0.9M455.0 231.0h0.9M455.0 231.5h0.9M455.2 232.5h0.9M455.9 194.5h0.9M456.1 195.3h0.9M456.0 200.2h0.9M456.1 203.5h0.9M456.0 206.4h0.9M456.0 207.0h0.9M455.8 207.9h0.9M456.0 209.5h0.9M455.9 210.5h0.9M455.9 212.2h0.9M455.9 213.2h0.9M456.0 214.8h0.9M456.0 217.2h0.9M455.8 217.9h0.9M456.0 219.7h0.9M456.0 220.7h0.9M455.8 222.4h0.9M456.0 223.3h0.9M455.8 224.1h0.9M456.0 224.9h0.9M455.8 226.6h0.9M455.9 227.6h0.9M456.0 228.1h0.9M456.0 229.0h0.9M456.0 229.8h0.9M456.0 230.8h0.9M456.0 231.6h0.9M455.9 232.7h0.9M460.4 195.0h0.9M460.3 195.9h0.9M460.2 199.4h0.9M460.3 201.9h0.9M460.4 203.6h0.9M460.4 206.0h0.9M460.2 207.1h0.9M460.2 210.3h0.9M460.3 211.3h0.9M460.3 212.0h0.9M460.3 213.8h0.9M460.2 215.5h0.9M460.3 217.2h0.9M460.4 218.8h0.9M460.3 219.7h0.9M460.2 220.8h0.9M460.4 221.6h0.9M460.2 222.4h0.9M460.4 224.1h0.9M460.2 225.1h0.9M460.2 225.9h0.9M460.3 226.4h0.9M460.2 227.5h0.9M460.2 228.2h0.9M460.4 229.2h0.9M460.2 229.9h0.9M460.2 230.7h0.9M461.0 194.3h0.9M461.1 197.5h0.9M461.1 201.2h0.9M461.1 202.8h0.9M461.2 203.6h0.9M461.1 204.4h0.9M461.2 207.8h0.9M461.0 210.6h0.9M461.1 212.2h0.9M461.0 213.7h0.9M461.1 215.7h0.9M461.1 218.1h0.9M461.0 219.0h0.9M461.1 221.4h0.9M461.2 222.3h0.9M461.2 223.3h0.9M461.3 224.1h0.9M461.2 225.6h0.9M461.2 226.5h0.9M461.2 227.6h0.9M461.3 228.2h0.9M461.1 230.0h0.9M461.1 231.0h0.9M461.2 231.6h0.9M461.9 192.6h0.9M462.1 194.4h0.9M462.1 196.1h0.9M461.9 201.1h0.9M461.9 202.1h0.9M462.1 202.9h0.9M461.9 206.3h0.9M462.1 208.0h0.9M462.0 210.4h0.9M462.0 211.2h0.9M461.9 212.8h0.9M462.1 214.0h0.9M462.1 216.4h0.9M461.9 217.3h0.9M462.0 217.9h0.9M461.9 219.1h0.9M461.9 220.8h0.9M462.1 223.3h0.9M461.9 224.9h0.9M462.1 225.8h0.9M461.9 226.5h0.9M462.0 228.5h0.9M462.1 229.2h0.9M462.0 229.8h0.9M461.9 230.9h0.9M462.8 192.4h0.9M463.0 196.1h0.9M462.9 199.4h0.9M462.8 202.6h0.9M462.9 203.5h0.9M462.7 206.4h0.9M463.0 207.9h0.9M463.0 208.7h0.9M462.9 209.8h0.9M462.9 210.5h0.9M462.7 211.2h0.9M462.9 214.0h0.9M462.9 214.7h0.9M462.9 216.4h0.9M462.8 218.0h0.9M462.9 219.9h0.9M462.9 220.5h0.9M463.0 221.4h0.9M462.7 222.4h0.9M462.8 223.1h0.9M462.9 224.0h0.9M462.8 225.0h0.9M462.8 225.6h0.9M463.0 226.5h0.9M463.0 227.4h0.9M462.8 228.4h0.9M462.9 229.3h0.9M462.8 230.1h0.9M462.7 230.8h0.9M463.8 193.5h0.9M463.7 195.0h0.9M463.8 202.6h0.9M463.7 205.4h0.9M463.7 206.0h0.9M463.6 206.9h0.9M463.7 208.9h0.9M463.6 212.2h0.9M463.7 213.7h0.9M463.7 215.6h0.9M463.7 216.3h0.9M463.7 218.1h0.9M463.8 219.1h0.9M463.8 219.8h0.9M463.7 220.5h0.9M463.7 221.5h0.9M463.7 222.5h0.9M463.8 223.2h0.9M463.7 224.2h0.9M463.7 224.8h0.9M463.7 225.7h0.9M463.7 226.6h0.9M463.6 227.4h0.9M463.6 228.4h0.9M463.6 229.3h0.9M463.6 230.1h0.9M464.6 193.4h0.9M464.5 196.1h0.9M464.7 197.6h0.9M464.6 200.1h0.9M464.7 201.1h0.9M464.5 202.8h0.9M464.6 203.6h0.9M464.5 205.2h0.9M464.7 206.3h0.9M464.5 207.0h0.9M464.6 208.9h0.9M464.6 209.5h0.9M464.5 210.3h0.9M464.4 211.4h0.9M464.6 213.7h0.9M464.7 214.6h0.9M464.6 217.3h0.9M464.6 219.1h0.9M464.4 220.5h0.9M464.5 221.6h0.9M464.6 223.2h0.9M464.6 225.0h0.9M464.6 225.9h0.9M464.6 226.5h0.9M464.4 227.6h0.9M464.6 228.4h0.9M464.6 229.0h0.9M464.7 230.0h0.9M465.5 193.6h0.9M465.3 195.2h0.9M465.3 197.0h0.9M465.5 199.5h0.9M465.3 201.9h0.9M465.4 210.3h0.9M465.4 212.8h0.9M465.3 213.9h0.9M465.3 214.6h0.9M465.5 216.3h0.9M465.4 218.3h0.9M465.5 218.8h0.9M465.5 219.6h0.9M465.4 222.4h0.9M465.4 223.0h0.9M465.4 224.1h0.9M465.4 224.9h0.9M465.5 226.7h0.9M465.5 228.2h0.9M465.5 229.2h0.9M465.3 230.2h0.9M465.4 231.0h0.9M466.1 194.3h0.9M466.3 197.8h0.9M466.2 198.6h0.9M466.2 202.7h0.9M466.2 203.8h0.9M466.1 206.4h0.9M466.1 207.9h0.9M466.4 209.6h0.9M466.1 212.0h0.9M466.2 213.2h0.9M466.3 213.9h0.9M466.3 214.5h0.9M466.1 215.6h0.9M466.3 216.4h0.9M466.2 218.0h0.9M466.3 219.0h0.9M466.2 221.4h0.9M466.4 223.2h0.9M466.3 224.0h0.9M466.2 224.8h0.9M466.2 225.9h0.9M466.1 226.7h0.9M466.1 227.4h0.9M466.1 228.4h0.9M466.2 229.3h0.9M466.2 230.2h0.9M466.3 230.9h0.9M467.1 193.3h0.9M467.2 196.2h0.9M467.2 197.0h0.9M467.1 198.4h0.9M467.0 199.6h0.9M467.2 200.2h0.9M467.1 201.1h0.9M467.1 202.1h0.9M467.2 204.6h0.9M467.1 205.5h0.9M467.2 206.1h0.9M467.1 207.1h0.9M467.2 208.9h0.9M467.0 209.5h0.9M467.2 210.4h0.9M467.1 212.0h0.9M467.0 213.1h0.9M467.1 215.5h0.9M467.2 216.3h0.9M467.1 218.0h0.9M467.1 218.8h0.9M467.2 219.6h0.9M467.2 222.5h0.9M467.0 223.1h0.9M467.1 225.0h0.9M467.2 225.7h0.9M467.2 226.8h0.9M467.1 227.4h0.9M467.1 228.3h0.9M467.1 229.0h0.9M467.2 229.8h0.9M467.0 230.7h0.9M468.1 195.1h0.9M468.1 196.8h0.9M468.1 207.0h0.9M467.9 209.7h0.9M468.0 210.3h0.9M467.9 212.9h0.9M468.0 215.4h0.9M468.0 216.4h0.9M467.9 217.3h0.9M467.8 219.0h0.9M467.9 219.6h0.9M468.0 220.5h0.9M467.9 222.4h0.9M467.8 223.2h0.9M468.0 223.9h0.9M467.9 225.9h0.9M467.9 226.8h0.9M468.0 227.4h0.9M468.0 228.4h0.9M468.0 229.3h0.9M467.9 230.1h0.9M467.8 231.0h0.9M472.8 195.0h0.9M472.8 196.9h0.9M472.8 198.7h0.9M472.9 202.8h0.9M472.8 204.4h0.9M472.8 206.1h0.9M472.8 208.6h0.9M472.8 210.6h0.9M472.9 213.8h0.9M473.0 215.5h0.9M472.9 217.2h0.9M472.9 219.7h0.9M472.8 221.5h0.9M472.8 222.2h0.9M472.9 223.9h0.9M472.8 225.1h0.9M473.0 225.7h0.9M472.8 226.8h0.9M472.8 227.4h0.9M472.8 228.4h0.9M473.8 194.3h0.9M473.7 195.8h0.9M473.9 198.6h0.9M473.8 200.1h0.9M473.8 203.7h0.9M473.7 207.9h0.9M473.6 208.9h0.9M473.7 209.7h0.9M473.8 211.3h0.9M473.9 212.1h0.9M473.8 214.7h0.9M473.9 215.6h0.9M473.9 216.6h0.9M473.8 217.2h0.9M473.9 218.3h0.9M473.6 219.8h0.9M473.8 220.7h0.9M473.8 222.4h0.9M473.9 223.9h0.9M473.7 225.8h0.9M473.8 226.8h0.9M473.7 227.4h0.9M473.6 228.3h0.9M474.5 192.7h0.9M474.5 197.8h0.9M474.6 198.4h0.9M474.6 201.1h0.9M474.5 202.0h0.9M474.5 202.8h0.9M474.6 206.1h0.9M474.6 207.0h0.9M474.5 207.8h0.9M474.7 211.2h0.9M474.6 213.2h0.9M474.6 213.8h0.9M474.6 214.7h0.9M474.5 216.6h0.9M474.7 217.3h0.9M474.5 218.1h0.9M474.5 219.1h0.9M474.7 219.8h0.9M474.6 221.6h0.9M474.6 222.2h0.9M474.5 223.2h0.9M474.5 224.1h0.9M474.6 224.8h0.9M474.5 225.6h0.9M474.5 226.6h0.9M474.7 227.3h0.9M475.5 194.1h0.9M475.5 195.9h0.9M475.5 196.7h0.9M475.4 197.6h0.9M475.4 199.4h0.9M475.5 201.2h0.9M475.6 204.5h0.9M475.4 208.0h0.9M475.3 208.7h0.9M475.4 212.2h0.9M475.4 213.1h0.9M475.4 216.3h0.9M475.5 217.1h0.9M475.4 219.1h0.9M475.5 219.6h0.9M475.3 221.5h0.9M475.5 223.2h0.9M475.5 224.8h0.9M475.4 225.9h0.9M475.5 226.8h0.9M476.3 197.8h0.9M476.4 200.4h0.9M476.2 201.1h0.9M476.2 205.3h0.9M476.4 206.9h0.9M476.3 208.1h0.9M476.2 208.6h0.9M476.2 210.6h0.9M476.4 212.3h0.9M476.4 212.8h0.9M476.4 214.9h0.9M476.2 215.4h0.9M476.2 218.9h0.9M476.4 219.8h0.9M476.3 220.8h0.9M476.2 222.3h0.9M476.3 223.3h0.9M476.3 224.0h0.9M476.3 225.8h0.9M476.4 226.6h0.9M476.2 227.4h0.9M477.0 193.3h0.9M477.1 195.3h0.9M477.0 197.0h0.9M477.0 197.5h0.9M477.1 201.3h0.9M477.1 203.5h0.9M477.1 204.4h0.9M477.2 206.9h0.9M477.0 208.0h0.9M477.2 214.8h0.9M477.2 216.6h0.9M477.2 218.3h0.9M477.1 218.8h0.9M477.1 220.6h0.9M477.2 221.4h0.9M477.2 222.5h0.9M477.3 223.1h0.9M477.1 224.1h0.9M477.2 224.8h0.9M477.2 225.6h0.9M478.1 193.5h0.9M478.1 194.2h0.9M478.1 195.3h0.9M477.9 197.8h0.9M478.1 203.5h0.9M478.1 204.3h0.9M477.9 208.9h0.9M477.9 210.3h0.9M478.1 211.2h0.9M478.0 213.1h0.9M478.1 216.4h0.9M477.9 217.4h0.9M478.0 218.1h0.9M478.1 218.9h0.9M477.9 221.5h0.9M478.0 223.3h0.9M478.1 223.9h0.9M478.0 224.9h0.9M477.9 225.6h0.9M478.8 192.8h0.9M478.8 194.4h0.9M478.9 197.0h0.9M478.8 198.4h0.9M478.9 200.3h0.9M478.9 201.8h0.9M478.7 203.5h0.9M478.9 204.3h0.9M478.9 205.2h0.9M479.0 206.2h0.9M478.8 207.1h0.9M478.9 208.0h0.9M478.9 208.9h0.9M478.7 210.4h0.9M478.8 211.1h0.9M478.8 212.8h0.9M478.9 214.7h0.9M478.9 215.4h0.9M479.0 216.4h0.9M478.8 217.1h0.9M478.8 219.1h0.9M478.8 219.7h0.9M478.7 220.5h0.9M478.9 221.5h0.9M478.8 222.2h0.9M478.7 223.2h0.9M479.0 224.1h0.9M479.7 196.1h0.9M479.8 199.4h0.9M479.7 200.2h0.9M479.8 207.8h0.9M479.6 209.8h0.9M479.8 210.6h0.9M479.6 213.0h0.9M479.7 214.0h0.9M479.6 218.0h0.9M479.7 218.8h0.9M479.6 219.7h0.9M479.7 220.7h0.9M479.6 221.4h0.9M479.6 222.5h0.9M479.7 223.1h0.9M479.7 224.0h0.9M480.5 192.5h0.9M480.5 200.4h0.9M480.5 201.1h0.9M480.4 203.7h0.9M480.5 205.3h0.9M480.6 207.2h0.9M480.5 208.7h0.9M480.5 209.7h0.9M480.5 212.2h0.9M480.5 213.0h0.9M480.5 214.8h0.9M480.5 216.4h0.9M480.5 217.3h0.9M480.7 218.2h0.9M480.6 218.8h0.9M480.7 219.9h0.9M480.4 220.8h0.9M480.6 221.3h0.9M480.7 222.3h0.9M480.6 223.4h0.9M481.5 193.3h0.9M481.5 195.2h0.9M481.3 198.4h0.9M481.5 200.2h0.9M481.4 201.9h0.9M481.3 205.3h0.9M481.4 207.8h0.9M481.3 209.6h0.9M481.3 211.5h0.9M481.3 212.2h0.9M481.5 212.9h0.9M481.4 214.7h0.9M481.4 215.6h0.9M481.3 216.4h0.9M481.3 217.4h0.9M481.3 218.1h0.9M481.3 219.0h0.9M481.4 220.0h0.9M481.4 220.8h0.9M482.2 193.4h0.9M482.2 194.1h0.9M482.3 195.1h0.9M482.3 195.9h0.9M482.1 197.0h0.9M482.4 197.9h0.9M482.1 199.4h0.9M482.1 200.9h0.9M482.4 202.1h0.9M482.1 204.4h0.9M482.1 205.2h0.9M482.3 206.2h0.9M482.2 207.1h0.9M482.1 207.8h0.9M482.3 209.4h0.9M482.3 210.3h0.9M482.2 211.5h0.9M482.2 213.1h0.9M482.2 213.9h0.9M482.1 214.5h0.9M482.4 215.4h0.9M482.1 216.6h0.9M482.3 217.1h0.9M482.2 217.9h0.9M482.1 218.8h0.9M482.2 219.6h0.9M483.2 196.0h0.9M483.0 201.1h0.9M483.1 201.9h0.9M483.2 202.7h0.9M483.1 206.1h0.9M483.2 207.9h0.9M483.2 208.9h0.9M483.2 209.8h0.9M483.0 210.3h0.9M483.2 211.2h0.9M483.2 212.0h0.9M483.0 212.9h0.9M483.1 214.0h0.9M483.0 215.6h0.9M483.0 216.5h0.9M483.2 217.1h0.9M483.0 218.1h0.9M483.2 218.9h0.9M484.1 195.3h0.9M483.9 196.1h0.9M483.8 197.0h0.9M483.9 197.8h0.9M484.1 201.1h0.9M483.9 202.7h0.9M483.9 204.7h0.9M484.1 206.3h0.9M484.0 206.9h0.9M483.9 208.8h0.9M483.8 209.7h0.9M483.9 211.5h0.9M484.0 212.3h0.9M484.1 212.9h0.9M484.0 213.7h0.9M484.0 214.7h0.9M484.0 215.4h0.9M484.0 216.3h0.9M484.0 217.4h0.9M483.9 218.2h0.9M484.0 219.0h0.9M484.7 194.4h0.9M484.8 195.1h0.9M484.7 196.0h0.9M484.7 197.8h0.9M484.9 200.2h0.9M484.7 200.9h0.9M484.7 202.1h0.9M484.9 202.7h0.9M484.8 203.5h0.9M484.8 204.7h0.9M484.7 205.5h0.9M484.7 206.2h0.9M484.9 207.2h0.9M484.8 209.5h0.9M484.9 211.4h0.9M484.8 212.1h0.9M484.8 213.1h0.9M484.9 213.8h0.9M484.9 214.7h0.9M484.8 215.5h0.9M484.9 216.5h0.9M484.9 217.4h0.9M485.6 193.5h0.9M485.7 194.2h0.9M485.6 196.2h0.9M485.7 199.2h0.9M485.8 201.0h0.9M485.7 201.8h0.9M485.7 204.5h0.9M485.8 206.4h0.9M485.6 208.1h0.9M485.7 208.7h0.9M485.6 209.7h0.9M485.5 211.3h0.9M485.7 212.0h0.9M485.8 212.8h0.9M485.7 214.0h0.9M485.8 214.9h0.9M485.7 215.7h0.9M485.5 216.3h0.9M485.6 217.2h0.9M486.6 195.3h0.9M486.4 196.2h0.9M486.6 199.5h0.9M486.5 204.5h0.9M486.4 205.3h0.9M486.5 206.2h0.9M486.5 208.0h0.9M486.6 208.9h0.9M486.4 209.6h0.9M486.4 210.6h0.9M486.4 212.0h0.9M486.5 212.9h0.9M486.5 213.9h0.9M486.5 215.6h0.9M486.6 216.5h0.9M486.6 217.4h0.9M486.5 218.1h0.9M487.4 196.2h0.9M487.4 197.8h0.9M487.5 199.4h0.9M487.3 204.6h0.9M487.2 206.1h0.9M487.4 206.9h0.9M487.3 207.7h0.9M487.3 208.9h0.9M487.3 209.8h0.9M487.5 210.4h0.9M487.4 211.5h0.9M487.2 212.1h0.9M487.5 213.9h0.9M487.3 214.6h0.9M487.2 215.6h0.9M487.5 216.5h0.9M487.3 217.1h0.9M487.3 218.3h0.9M488.3 196.0h0.9M488.3 196.8h0.9M488.1 200.1h0.9M488.3 202.1h0.9M488.1 203.8h0.9M488.1 204.6h0.9M488.3 210.4h0.9M488.2 211.4h0.9M488.2 213.0h0.9M488.1 213.7h0.9M488.2 214.9h0.9M488.3 215.5h0.9M488.2 216.2h0.9M488.3 217.3h0.9M488.1 218.0h0.9M488.1 219.0h0.9M489.2 192.7h0.9M489.0 197.6h0.9M489.1 198.7h0.9M489.2 200.2h0.9M489.2 202.9h0.9M489.1 204.6h0.9M489.0 205.2h0.9M489.1 206.0h0.9M489.0 208.0h0.9M488.9 208.7h0.9M489.0 210.4h0.9M488.9 212.2h0.9M489.0 213.7h0.9M489.1 214.8h0.9M489.1 215.7h0.9M489.1 216.6h0.9M489.1 217.2h0.9M489.1 218.1h0.9M489.1 219.1h0.9M489.0 219.7h0.9M489.1 220.5h0.9M490.0 192.5h0.9M489.9 194.3h0.9M490.0 195.9h0.9M490.0 199.2h0.9M490.0 202.7h0.9M489.8 203.8h0.9M490.0 204.7h0.9M489.9 207.2h0.9M489.9 207.7h0.9M490.0 208.7h0.9M489.8 209.6h0.9M490.0 211.2h0.9M489.9 212.9h0.9M489.8 213.8h0.9M489.8 214.6h0.9M490.0 215.6h0.9M490.0 218.8h0.9M490.0 219.7h0.9M490.0 220.5h0.9M489.9 221.4h0.9M489.9 222.4h0.9M490.9 196.7h0.9M490.9 205.5h0.9M490.7 207.8h0.9M490.7 208.6h0.9M490.7 210.6h0.9M490.8 212.0h0.9M490.8 213.0h0.9M490.8 214.6h0.9M490.7 216.3h0.9M490.6 217.4h0.9M490.8 218.0h0.9M490.7 218.9h0.9M490.7 219.8h0.9M490.8 220.7h0.9M490.7 221.6h0.9M490.9 222.3h0.9M490.9 223.1h0.9M490.9 223.9h0.9M491.5 200.4h0.9M491.6 201.3h0.9M491.7 202.6h0.9M491.6 205.2h0.9M491.5 206.1h0.9M491.5 207.7h0.9M491.7 209.7h0.9M491.7 210.4h0.9M491.6 212.1h0.9M491.5 212.9h0.9M491.7 213.7h0.9M491.6 214.7h0.9M491.6 216.5h0.9M491.5 217.9h0.9M491.5 219.0h0.9M491.7 219.9h0.9M491.7 220.8h0.9M491.6 221.6h0.9M491.7 222.3h0.9M491.6 223.4h0.9M491.7 224.0h0.9M491.7 224.8h0.9M492.5 195.0h0.9M492.5 196.1h0.9M492.5 197.6h0.9M492.6 200.2h0.9M492.4 201.1h0.9M492.5 203.6h0.9M492.4 207.2h0.9M492.6 209.5h0.9M492.6 210.4h0.9M492.5 211.5h0.9M492.5 212.2h0.9M492.6 214.0h0.9M492.6 215.6h0.9M492.5 216.6h0.9M492.5 217.1h0.9M492.5 217.9h0.9M492.6 218.9h0.9M492.4 219.6h0.9M492.3 220.6h0.9M492.5 221.5h0.9M492.4 222.4h0.9M492.5 223.2h0.9M492.5 223.9h0.9M492.3 224.9h0.9" stroke="#000" stroke-width="0.9" fill="none" opacity="0.95"/>
<g stroke="#fff" stroke-width="1.0" paint-order="stroke">
<path d="M482.7 208.8 L480.08 202.02 L487.56 203.39 Z" fill="#000" stroke="none" stroke-width="1" stroke-linejoin="round" />
</g>
<line x1="451" y1="192" x2="520" y2="192" stroke="#111" stroke-width="1.2" />
<line x1="451" y1="191.4" x2="451" y2="253.8" stroke="#222" stroke-width="0.8" />
<line x1="451" y1="253.4" x2="520" y2="253.4" stroke="#222" stroke-width="0.8" />
<line x1="451.2" y1="253.4" x2="451.2" y2="256.0" stroke="#000" stroke-width="0.7" />
<text x="452.6" y="262.5" font-size="5.5" font-family='"Liberation Sans", sans-serif' font-weight="normal" text-anchor="middle" fill="#111" stroke="#111" stroke-width="0.22" >0</text>
<line x1="466.0" y1="253.4" x2="466.0" y2="256.0" stroke="#000" stroke-width="0.7" />
<text x="466.8" y="262.5" font-size="5.5" font-family='"Liberation Sans", sans-serif' font-weight="normal" text-anchor="middle" fill="#111" stroke="#111" stroke-width="0.22" >200</text>
<line x1="480.8" y1="253.4" x2="480.8" y2="256.0" stroke="#000" stroke-width="0.7" />
<text x="481.6" y="262.5" font-size="5.5" font-family='"Liberation Sans", sans-serif' font-weight="normal" text-anchor="middle" fill="#111" stroke="#111" stroke-width="0.22" >400</text>
<line x1="495.59999999999997" y1="253.4" x2="495.59999999999997" y2="256.0" stroke="#000" stroke-width="0.7" />
<text x="496.4" y="262.5" font-size="5.5" font-family='"Liberation Sans", sans-serif' font-weight="normal" text-anchor="middle" fill="#111" stroke="#111" stroke-width="0.22" >600</text>
<line x1="510.4" y1="253.4" x2="510.4" y2="256.0" stroke="#000" stroke-width="0.7" />
<text x="511.2" y="262.5" font-size="5.5" font-family='"Liberation Sans", sans-serif' font-weight="normal" text-anchor="middle" fill="#111" stroke="#111" stroke-width="0.22" >800</text>
<line x1="454.15999999999997" y1="253.4" x2="454.15999999999997" y2="255.2" stroke="#000" stroke-width="0.6" />
<line x1="457.12" y1="253.4" x2="457.12" y2="255.2" stroke="#000" stroke-width="0.6" />
<line x1="460.08" y1="253.4" x2="460.08" y2="255.2" stroke="#000" stroke-width="0.6" />
<line x1="463.03999999999996" y1="253.4" x2="463.03999999999996" y2="255.2" stroke="#000" stroke-width="0.6" />
<line x1="468.96" y1="253.4" x2="468.96" y2="255.2" stroke="#000" stroke-width="0.6" />
<line x1="471.92" y1="253.4" x2="471.92" y2="255.2" stroke="#000" stroke-width="0.6" />
<line x1="474.88" y1="253.4" x2="474.88" y2="255.2" stroke="#000" stroke-width="0.6" />
<line x1="477.84" y1="253.4" x2="477.84" y2="255.2" stroke="#000" stroke-width="0.6" />
<line x1="483.76" y1="253.4" x2="483.76" y2="255.2" stroke="#000" stroke-width="0.6" />
<line x1="486.71999999999997" y1="253.4" x2="486.71999999999997" y2="255.2" stroke="#000" stroke-width="0.6" />
<line x1="489.68" y1="253.4" x2="489.68" y2="255.2" stroke="#000" stroke-width="0.6" />
<line x1="492.64" y1="253.4" x2="492.64" y2="255.2" stroke="#000" stroke-width="0.6" />
<line x1="498.56" y1="253.4" x2="498.56" y2="255.2" stroke="#000" stroke-width="0.6" />
<line x1="501.52" y1="253.4" x2="501.52" y2="255.2" stroke="#000" stroke-width="0.6" />
<line x1="504.48" y1="253.4" x2="504.48" y2="255.2" stroke="#000" stroke-width="0.6" />
<line x1="507.44" y1="253.4" x2="507.44" y2="255.2" stroke="#000" stroke-width="0.6" />
<line x1="513.36" y1="253.4" x2="513.36" y2="255.2" stroke="#000" stroke-width="0.6" />
<line x1="516.3199999999999" y1="253.4" x2="516.3199999999999" y2="255.2" stroke="#000" stroke-width="0.6" />
<line x1="519.28" y1="253.4" x2="519.28" y2="255.2" stroke="#000" stroke-width="0.6" />
<line x1="449.4" y1="253.4" x2="451" y2="253.4" stroke="#000" stroke-width="0.4" />
<line x1="450.0" y1="250.33" x2="451" y2="250.33" stroke="#000" stroke-width="0.4" />
<line x1="450.0" y1="247.26000000000002" x2="451" y2="247.26000000000002" stroke="#000" stroke-width="0.4" />
<line x1="450.0" y1="244.19" x2="451" y2="244.19" stroke="#000" stroke-width="0.4" />
<line x1="450.0" y1="241.12" x2="451" y2="241.12" stroke="#000" stroke-width="0.4" />
<line x1="449.4" y1="238.05" x2="451" y2="238.05" stroke="#000" stroke-width="0.4" />
<line x1="450.0" y1="234.98000000000002" x2="451" y2="234.98000000000002" stroke="#000" stroke-width="0.4" />
<line x1="450.0" y1="231.91" x2="451" y2="231.91" stroke="#000" stroke-width="0.4" />
<line x1="450.0" y1="228.84" x2="451" y2="228.84" stroke="#000" stroke-width="0.4" />
<line x1="450.0" y1="225.77" x2="451" y2="225.77" stroke="#000" stroke-width="0.4" />
<line x1="449.4" y1="222.70000000000002" x2="451" y2="222.70000000000002" stroke="#000" stroke-width="0.4" />
<line x1="450.0" y1="219.63" x2="451" y2="219.63" stroke="#000" stroke-width="0.4" />
<line x1="450.0" y1="216.56" x2="451" y2="216.56" stroke="#000" stroke-width="0.4" />
<line x1="450.0" y1="213.49" x2="451" y2="213.49" stroke="#000" stroke-width="0.4" />
<line x1="450.0" y1="210.42000000000002" x2="451" y2="210.42000000000002" stroke="#000" stroke-width="0.4" />
<line x1="449.4" y1="207.35000000000002" x2="451" y2="207.35000000000002" stroke="#000" stroke-width="0.4" />
<line x1="450.0" y1="204.28" x2="451" y2="204.28" stroke="#000" stroke-width="0.4" />
<line x1="450.0" y1="201.21" x2="451" y2="201.21" stroke="#000" stroke-width="0.4" />
<line x1="450.0" y1="198.14000000000001" x2="451" y2="198.14000000000001" stroke="#000" stroke-width="0.4" />
<line x1="450.0" y1="195.07" x2="451" y2="195.07" stroke="#000" stroke-width="0.4" />
<line x1="449.4" y1="192.0" x2="451" y2="192.0" stroke="#000" stroke-width="0.4" />
<text x="491.4" y="268.6" font-size="5.1" font-family='"Liberation Sans", sans-serif' font-weight="normal" text-anchor="middle" fill="#111" textLength="48" lengthAdjust="spacingAndGlyphs" stroke="#111" stroke-width="0.22" >Time (204.80 sec.)</text>
<text x="446.2" y="252.4" font-size="5.0" font-family='"Liberation Sans", sans-serif' font-weight="normal" text-anchor="middle" fill="#111" transform="rotate(-90 446.2 252.4)" stroke="#111" stroke-width="0.22" >0</text>
<text x="446.1" y="192.8" font-size="5.2" font-family='"Liberation Sans", sans-serif' font-weight="normal" text-anchor="middle" fill="#111" transform="rotate(-90 446.1 192.8)" stroke="#111" stroke-width="0.22" >1000</text>
<text x="440.3" y="223.3" font-size="4.8" font-family='"Liberation Sans", sans-serif' font-weight="normal" text-anchor="middle" fill="#111" transform="rotate(-90 440.3 223.3)" textLength="22.5" lengthAdjust="spacingAndGlyphs" stroke="#111" stroke-width="0.22" >FL5/FL4</text>
</svg>
</body></html>
